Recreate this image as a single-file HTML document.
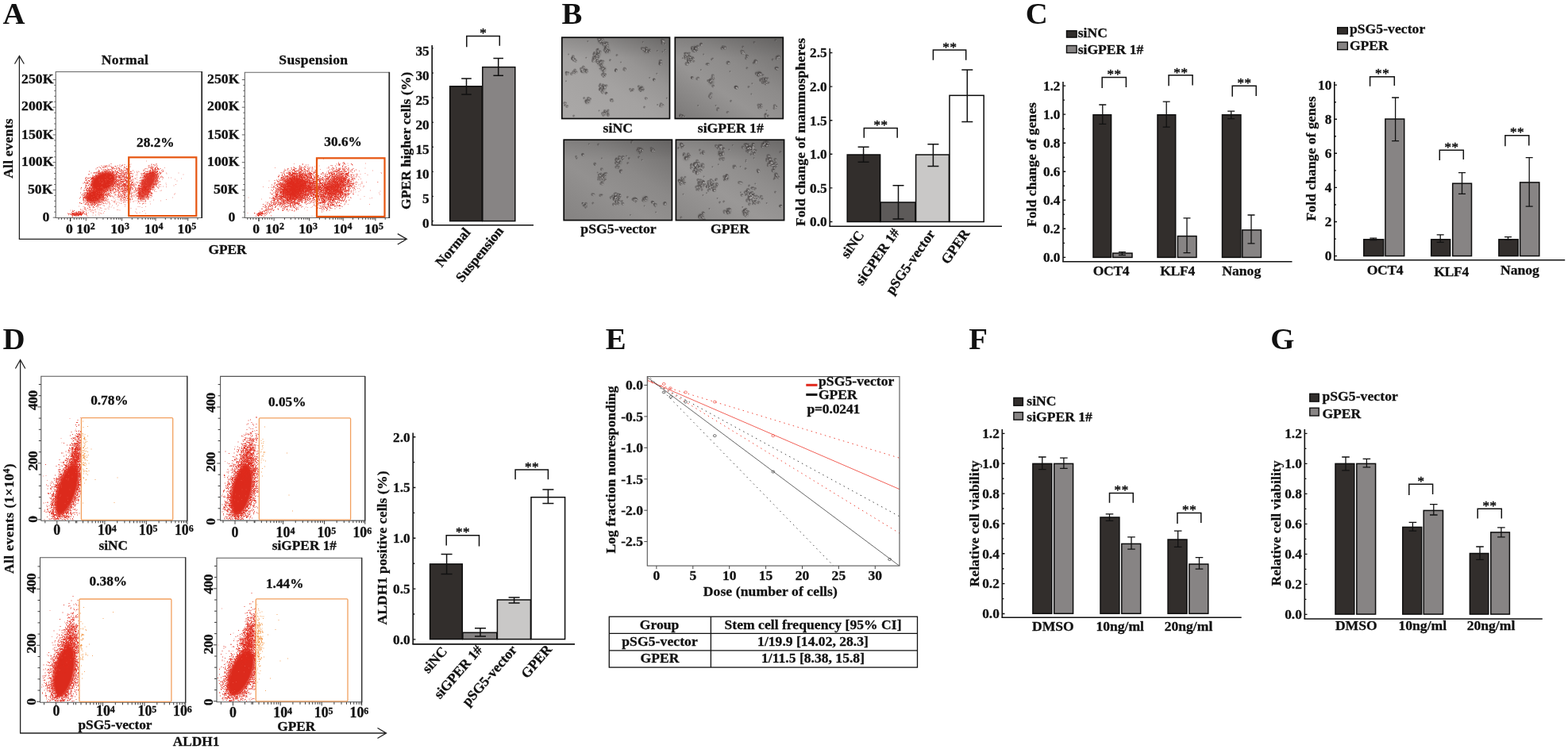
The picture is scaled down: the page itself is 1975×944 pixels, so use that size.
<!DOCTYPE html>
<html><head><meta charset="utf-8"><title>Figure</title>
<style>html,body{margin:0;padding:0;background:#fff;overflow:hidden}svg{display:block}text{font-family:"Liberation Serif",serif;font-weight:bold;fill:#111;stroke:#111;stroke-width:0.3px}</style>
</head><body>
<svg width="1975" height="944" viewBox="0 0 1975 944" font-size="17.6">
<defs>
<filter id="b2" x="-50%" y="-50%" width="200%" height="200%"><feGaussianBlur stdDeviation="2"/></filter>
<filter id="b1" x="-50%" y="-50%" width="200%" height="200%"><feGaussianBlur stdDeviation="0.9"/></filter>
<filter id="b07" filterUnits="userSpaceOnUse" x="0" y="0" width="1975" height="944"><feGaussianBlur stdDeviation="0.7"/></filter>
<filter id="b05" filterUnits="userSpaceOnUse" x="0" y="0" width="1975" height="944"><feGaussianBlur stdDeviation="0.5"/></filter>
<filter id="b03" filterUnits="userSpaceOnUse" x="0" y="0" width="1975" height="944"><feGaussianBlur stdDeviation="0.3"/></filter>
<linearGradient id="mv1" x1="0" y1="0" x2="0" y2="1"><stop offset="0" stop-color="#000" stop-opacity="0.1"/><stop offset="0.25" stop-color="#000" stop-opacity="0"/><stop offset="1" stop-color="#000" stop-opacity="0"/></linearGradient>
<linearGradient id="mv2" x1="0" y1="0" x2="0" y2="1"><stop offset="0" stop-color="#000" stop-opacity="0.1"/><stop offset="0.25" stop-color="#000" stop-opacity="0"/><stop offset="1" stop-color="#000" stop-opacity="0"/></linearGradient>
<linearGradient id="mv3" x1="0" y1="0" x2="0" y2="1"><stop offset="0" stop-color="#000" stop-opacity="0.1"/><stop offset="0.25" stop-color="#000" stop-opacity="0"/><stop offset="1" stop-color="#000" stop-opacity="0"/></linearGradient>
<linearGradient id="mv4" x1="0" y1="0" x2="0" y2="1"><stop offset="0" stop-color="#000" stop-opacity="0.1"/><stop offset="0.25" stop-color="#000" stop-opacity="0"/><stop offset="1" stop-color="#000" stop-opacity="0"/></linearGradient>
<linearGradient id="mg1" x1="1" y1="0" x2="0.1" y2="1"><stop offset="0" stop-color="#737170"/><stop offset="0.35" stop-color="#979594"/><stop offset="0.6" stop-color="#a4a2a1"/><stop offset="1" stop-color="#aaa8a7"/></linearGradient>
<linearGradient id="mg2" x1="1" y1="0" x2="0.1" y2="1"><stop offset="0" stop-color="#6d6b6a"/><stop offset="0.4" stop-color="#8d8b8a"/><stop offset="0.65" stop-color="#979594"/><stop offset="1" stop-color="#7e7c7b"/></linearGradient>
<linearGradient id="mg3" x1="1" y1="0" x2="0.1" y2="1"><stop offset="0" stop-color="#6e6c6b"/><stop offset="0.4" stop-color="#8b8988"/><stop offset="0.65" stop-color="#939190"/><stop offset="1" stop-color="#868483"/></linearGradient>
<linearGradient id="mg4" x1="1" y1="0" x2="0.1" y2="1"><stop offset="0" stop-color="#757372"/><stop offset="0.4" stop-color="#908e8d"/><stop offset="0.65" stop-color="#9a9897"/><stop offset="1" stop-color="#8b8988"/></linearGradient>
<clipPath id="c1"><rect x="707.8" y="47.2" width="135.7" height="102.3"/></clipPath>
<clipPath id="c2"><rect x="850.3" y="47.2" width="136" height="102.3"/></clipPath>
<clipPath id="c3"><rect x="710.2" y="176.2" width="136.2" height="101.4"/></clipPath>
<clipPath id="c4"><rect x="851.4" y="176.2" width="136.2" height="101.4"/></clipPath>
</defs>
<rect width="1975" height="944" fill="#fff"/>
<text x="3.4" y="29.9" font-size="38.8" style="stroke-width:0">A</text>
<text x="707.6" y="29.8" font-size="38.8" style="stroke-width:0">B</text>
<text x="1291.8" y="29.7" font-size="38.8" style="stroke-width:0">C</text>
<text x="3.4" y="440.2" font-size="38.8" style="stroke-width:0">D</text>
<text x="762.8" y="440.2" font-size="38.8" style="stroke-width:0">E</text>
<text x="1220.3" y="440.2" font-size="38.8" style="stroke-width:0">F</text>
<text x="1600.3" y="439.9" font-size="38.8" style="stroke-width:0">G</text>
<clipPath id="cA70"><rect x="70.7" y="91" width="183" height="183"/></clipPath><clipPath id="cA308"><rect x="308.8" y="91.8" width="181" height="182.4"/></clipPath>
<g clip-path="url(#cA70)">
<ellipse cx="130.3" cy="229.0" rx="16.3" ry="11.2" fill="#dc2a1c" opacity="1.0" transform="rotate(-28 130.3 229.0)" filter="url(#b1)"/>
<ellipse cx="119.0" cy="247.3" rx="11.4" ry="8.0" fill="#dc2a1c" opacity="1.0" transform="rotate(-18 119.0 247.3)" filter="url(#b1)"/>
<ellipse cx="187.6" cy="228.5" rx="13.5" ry="7.2" fill="#dc2a1c" opacity="0.95" transform="rotate(-58 187.6 228.5)" filter="url(#b1)"/>
<ellipse cx="180.5" cy="244.5" rx="7.5" ry="5.0" fill="#dc2a1c" opacity="0.85" transform="rotate(-50 180.5 244.5)" filter="url(#b1)"/>
<ellipse cx="96.6" cy="269.8" rx="6.5" ry="1.4" fill="#dc2a1c" opacity="0.9" transform="rotate(0 96.6 269.8)" filter="url(#b05)"/>
<path d="M139.5 206.5h1m56 0h1m-7 0.5h1m-35 0.5h1m5 0h1m29.5 0h1m-57 0.5h1m12.5 0h1m2.5 0h1m35.5 0h1m3 0h1m1 0h1m-44.5 0.5h1m7 0h1m25.5 0h1m-61 0.5h1m2 0h1m1 0h1m0 0h1m0 0h1m12 0h1m38 0h1m7 0h1m2 0h1m-62 0.5h1m1 0h1m5 0h1m-0.5 0h1m-14.5 0.5h1m0.5 0h1m6 0h1m9.5 0h1m1 0h1m2.5 0h1m2 0h1m1 0h1m1.5 0h1m25 0h1m0 0h1m1 0h1m-69 0.5h1m4 0h1m1.5 0h1m54.5 0h1m2.5 0h1m4.5 0h1m-0.5 0h1m-69 0.5h1m4.5 0h1m6 0h1m-0.5 0h1m3 0h1m9.5 0h1m29.5 0h1m-66 0.5h1m3 0h1m3.5 0h1m8.5 0h1m-0.5 0h1m1 0h1m5 0h1m7.5 0h1m31 0h1m1.5 0h1m0 0h1m1.5 0h1m-0.5 0h1m1.5 0h1m-51 0.5h1m0.5 0h1m5 0h1m33 0h1m-0.5 0h1m-49.5 0.5h1m1.5 0h1m1 0h1m3 0h1m7.5 0h1m-0.5 0h1m-0.5 0h1m0 0h1m22 0h1m6.5 0h1m3.5 0h1m1.5 0h1m0 0h1m1.5 0h1m-82 0.5h1m5.5 0h1m7 0h1m5 0h1m0.5 0h1m7 0h1m30.5 0h1m2.5 0h1m5.5 0h1m1 0h1m0 0h1m-0.5 0h1m-65 0.5h1m3.5 0h1m0.5 0h1m0 0h1m7 0h1m12.5 0h1m30.5 0h1m5.5 0h1m0.5 0h1m-76.5 0.5h1m3.5 0h1m0.5 0h1m1.5 0h1m-0.5 0h1m6 0h1m8.5 0h1m-0.5 0h1m1 0h1m-0.5 0h1m2 0h1m2 0h1m-0.5 0h1m29 0h1m1 0h1m1.5 0h1m0 0h1m0 0h1m-0.5 0h1m-0.5 0h1m2 0h1m4 0h1m-70 0.5h1m8 0h1m7 0h1m3.5 0h1m2.5 0h1m19.5 0h1m6.5 0h1m2.5 0h1m-0.5 0h1m2.5 0h1m-63.5 0.5h1m0 0h1m2 0h1m2 0h1m8 0h1m2.5 0h1m-0.5 0h1m12.5 0h1m21 0h1m2.5 0h1m0 0h1m8.5 0h1m-80 0.5h1m0 0h1m5 0h1m-0.5 0h1m2 0h1m1 0h1m3 0h1m0 0h1m2.5 0h1m1.5 0h1m2.5 0h1m3.5 0h1m3.5 0h1m25 0h1m1 0h1m0 0h1m1.5 0h1m2.5 0h1m1.5 0h1m-0.5 0h1m6 0h1m-94 0.5h1m10 0h1m4.5 0h1m1 0h1m1.5 0h1m4 0h1m5.5 0h1m5 0h1m3 0h1m2.5 0h1m5.5 0h1m17.5 0h1m4 0h1m5 0h1m-0.5 0h1m-0.5 0h1m-73 0.5h1m4 0h1m3.5 0h1m1 0h1m3.5 0h1m1.5 0h1m0 0h1m-0.5 0h1m1.5 0h1m0.5 0h1m-0.5 0h1m4 0h1m6 0h1m0.5 0h1m2 0h1m-0.5 0h1m18.5 0h1m-0.5 0h1m0 0h1m1.5 0h1m-0.5 0h1m2 0h1m-0.5 0h1m0 0h1m2 0h1m0 0h1m0 0h1m1.5 0h1m3 0h1m-84.5 0.5h1m1 0h1m0.5 0h1m-0.5 0h1m6 0h1m-0.5 0h1m3 0h1m-0.5 0h1m3.5 0h1m10.5 0h1m1 0h1m25.5 0h1m3.5 0h1m3.5 0h1m1 0h1m-0.5 0h1m0.5 0h1m1 0h1m-0.5 0h1m-79.5 0.5h1m1 0h1m4 0h1m1 0h1m1 0h1m5.5 0h1m1.5 0h1m1.5 0h1m0 0h1m2.5 0h1m1 0h1m-0.5 0h1m0 0h1m3.5 0h1m3 0h1m0 0h1m28.5 0h1m0 0h1m-0.5 0h1m0.5 0h1m-0.5 0h1m-0.5 0h1m3 0h1m3.5 0h1m1 0h1m-89 0.5h1m2 0h1m-0.5 0h1m0.5 0h1m0.5 0h1m0.5 0h1m-0.5 0h1m1.5 0h1m2 0h1m-0.5 0h1m9.5 0h1m2 0h1m0.5 0h1m2 0h1m8.5 0h1m0 0h1m0.5 0h1m0.5 0h1m20 0h1m-0.5 0h1m5 0h1m-0.5 0h1m-0.5 0h1m-0.5 0h1m0.5 0h1m-0.5 0h1m-0.5 0h1m0 0h1m0.5 0h1m-0.5 0h1m1.5 0h1m2.5 0h1m-79 0.5h1m0.5 0h1m0 0h1m1.5 0h1m12 0h1m-0.5 0h1m3.5 0h1m2.5 0h1m1 0h1m-0.5 0h1m1.5 0h1m2 0h1m2.5 0h1m1.5 0h1m-0.5 0h1m-0.5 0h1m-0.5 0h1m11.5 0h1m1.5 0h1m0 0h1m1.5 0h1m0 0h1m-0.5 0h1m1 0h1m-0.5 0h1m-0.5 0h1m0 0h1m-0.5 0h1m3.5 0h1m3.5 0h1m2.5 0h1m-82.5 0.5h1m2.5 0h1m-0.5 0h1m0.5 0h1m-0.5 0h1m14.5 0h1m3.5 0h1m2.5 0h1m0 0h1m1 0h1m1 0h1m3 0h1m0 0h1m5.5 0h1m14.5 0h1m1 0h1m0 0h1m0 0h1m0 0h1m0 0h1m5.5 0h1m2 0h1m-0.5 0h1m0.5 0h1m-89 0.5h1m13 0h1m16 0h1m2.5 0h1m0 0h1m8 0h1m0 0h1m22.5 0h1m1.5 0h1m-0.5 0h1m0.5 0h1m0 0h1m-0.5 0h1m-0.5 0h1m8 0h1m-0.5 0h1m4 0h1m-91 0.5h1m11 0h1m19 0h1m0.5 0h1m-0.5 0h1m2 0h1m2.5 0h1m0.5 0h1m8.5 0h1m13.5 0h1m0 0h1m4 0h1m12 0h1m0.5 0h1m0.5 0h1m-80.5 0.5h1m1.5 0h1m19.5 0h1m1 0h1m6.5 0h1m3 0h1m0 0h1m0.5 0h1m21 0h1m1.5 0h1m0.5 0h1m9.5 0h1m1.5 0h1m-83 0.5h1m4.5 0h1m21 0h1m-0.5 0h1m1.5 0h1m0.5 0h1m2 0h1m3 0h1m7.5 0h1m18 0h1m-0.5 0h1m0 0h1m-0.5 0h1m11 0h1m-0.5 0h1m-80.5 0.5h1m1.5 0h1m0 0h1m24 0h1m2 0h1m0 0h1m-0.5 0h1m1 0h1m0 0h1m1.5 0h1m4 0h1m16.5 0h1m1 0h1m-0.5 0h1m-0.5 0h1m1 0h1m0 0h1m11.5 0h1m1.5 0h1m-79.5 0.5h1m24 0h1m1.5 0h1m1.5 0h1m2 0h1m0 0h1m2.5 0h1m3.5 0h1m1.5 0h1m0.5 0h1m14.5 0h1m12.5 0h1m0 0h1m1 0h1m2.5 0h1m-87 0.5h1m1.5 0h1m1 0h1m24.5 0h1m0 0h1m2 0h1m3 0h1m0 0h1m1 0h1m0.5 0h1m6 0h1m14 0h1m-0.5 0h1m0 0h1m0 0h1m-0.5 0h1m12.5 0h1m0.5 0h1m-82 0.5h1m0.5 0h1m0 0h1m23.5 0h1m-0.5 0h1m-0.5 0h1m0.5 0h1m0.5 0h1m-0.5 0h1m2.5 0h1m2.5 0h1m1.5 0h1m2.5 0h1m0.5 0h1m1 0h1m14 0h1m0 0h1m0 0h1m13 0h1m1 0h1m2.5 0h1m0.5 0h1m-96.5 0.5h1m4.5 0h1m1 0h1m-0.5 0h1m-0.5 0h1m27.5 0h1m0 0h1m2.5 0h1m-0.5 0h1m0.5 0h1m1.5 0h1m1 0h1m1 0h1m0 0h1m-0.5 0h1m3 0h1m12 0h1m1.5 0h1m1.5 0h1m0 0h1m12 0h1m0.5 0h1m-91 0.5h1m4 0h1m2.5 0h1m31.5 0h1m1 0h1m2 0h1m1.5 0h1m1 0h1m0.5 0h1m1.5 0h1m0 0h1m15.5 0h1m-0.5 0h1m15 0h1m1 0h1m-0.5 0h1m1 0h1m3.5 0h1m-95.5 0.5h1m0 0h1m2.5 0h1m-0.5 0h1m-0.5 0h1m0 0h1m-0.5 0h1m0 0h1m26.5 0h1m1.5 0h1m0.5 0h1m0 0h1m4.5 0h1m0 0h1m1 0h1m2 0h1m13 0h1m1 0h1m18 0h1m-91 0.5h1m1.5 0h1m7.5 0h1m26.5 0h1m4.5 0h1m8 0h1m2 0h1m-0.5 0h1m5 0h1m10.5 0h1m13.5 0h1m-0.5 0h1m-90 0.5h1m5.5 0h1m0 0h1m-0.5 0h1m-0.5 0h1m0 0h1m27 0h1m7 0h1m2 0h1m3 0h1m2 0h1m32 0h1m-0.5 0h1m0.5 0h1m1 0h1m-83.5 0.5h1m-0.5 0h1m26 0h1m0.5 0h1m4 0h1m-0.5 0h1m0.5 0h1m0.5 0h1m2 0h1m8 0h1m13 0h1m16 0h1m-90.5 0.5h1m4.5 0h1m2.5 0h1m26 0h1m1.5 0h1m-0.5 0h1m0 0h1m1 0h1m0 0h1m0.5 0h1m2.5 0h1m0 0h1m-0.5 0h1m20 0h1m0 0h1m16 0h1m-82 0.5h1m-0.5 0h1m0 0h1m28 0h1m1.5 0h1m-0.5 0h1m0 0h1m2 0h1m0.5 0h1m1 0h1m-0.5 0h1m3.5 0h1m1.5 0h1m0 0h1m10.5 0h1m0 0h1m-0.5 0h1m0 0h1m15.5 0h1m0 0h1m-90.5 0.5h1m-0.5 0h1m2 0h1m0.5 0h1m32.5 0h1m-0.5 0h1m1.5 0h1m1 0h1m5.5 0h1m0.5 0h1m0.5 0h1m15.5 0h1m1 0h1m0 0h1m14.5 0h1m-0.5 0h1m1 0h1m-0.5 0h1m-87.5 0.5h1m2 0h1m0.5 0h1m28.5 0h1m1 0h1m7.5 0h1m1 0h1m-0.5 0h1m-0.5 0h1m0 0h1m0 0h1m-53 0.5h1m1.5 0h1m2 0h1m0 0h1m28 0h1m-0.5 0h1m0.5 0h1m-0.5 0h1m-0.5 0h1m-0.5 0h1m2.5 0h1m-0.5 0h1m-0.5 0h1m1 0h1m-0.5 0h1m0 0h1m1 0h1m-0.5 0h1m3.5 0h1m0 0h1m13 0h1m0 0h1m0 0h1m14.5 0h1m-0.5 0h1m-0.5 0h1m-0.5 0h1m0 0h1m-84 0.5h1m28.5 0h1m1 0h1m3 0h1m1 0h1m-0.5 0h1m-0.5 0h1m-0.5 0h1m4.5 0h1m-0.5 0h1m0 0h1m-0.5 0h1m-0.5 0h1m14 0h1m1 0h1m14.5 0h1m-0.5 0h1m3 0h1m0.5 0h1m-96 0.5h1m3.5 0h1m2 0h1m30.5 0h1m3 0h1m1 0h1m0.5 0h1m0.5 0h1m4 0h1m6 0h1m0 0h1m10 0h1m-0.5 0h1m-0.5 0h1m-0.5 0h1m15 0h1m-88 0.5h1m5.5 0h1m27.5 0h1m-0.5 0h1m1 0h1m-0.5 0h1m2 0h1m2.5 0h1m1 0h1m3.5 0h1m2 0h1m9 0h1m4 0h1m0.5 0h1m14.5 0h1m2.5 0h1m-92.5 0.5h1m1.5 0h1m0 0h1m5 0h1m27 0h1m0.5 0h1m3 0h1m7.5 0h1m0.5 0h1m4.5 0h1m0 0h1m9 0h1m19 0h1m-0.5 0h1m1.5 0h1m-95.5 0.5h1m2 0h1m1.5 0h1m-0.5 0h1m32 0h1m-0.5 0h1m-0.5 0h1m2 0h1m3 0h1m-0.5 0h1m2 0h1m2 0h1m0.5 0h1m15 0h1m-0.5 0h1m0 0h1m0 0h1m0 0h1m-0.5 0h1m16 0h1m-89 0.5h1m5.5 0h1m27.5 0h1m1 0h1m1.5 0h1m1 0h1m-0.5 0h1m0.5 0h1m3 0h1m-0.5 0h1m-0.5 0h1m4.5 0h1m14.5 0h1m0.5 0h1m13 0h1m0.5 0h1m-0.5 0h1m1 0h1m-86.5 0.5h1m-0.5 0h1m0 0h1m0 0h1m13 0h1m14 0h1m0 0h1m1.5 0h1m1 0h1m1.5 0h1m0 0h1m1 0h1m0 0h1m-0.5 0h1m4 0h1m0 0h1m-0.5 0h1m1.5 0h1m-0.5 0h1m1.5 0h1m1.5 0h1m6 0h1m-0.5 0h1m14 0h1m-0.5 0h1m-80 0.5h1m0.5 0h1m9 0h1m-0.5 0h1m14.5 0h1m-0.5 0h1m3 0h1m0.5 0h1m5.5 0h1m0.5 0h1m0 0h1m0 0h1m-0.5 0h1m2.5 0h1m1 0h1m0 0h1m0.5 0h1m11.5 0h1m4.5 0h1m7.5 0h1m-0.5 0h1m0 0h1m0.5 0h1m0 0h1m3.5 0h1m-95 0.5h1m6.5 0h1m-0.5 0h1m28.5 0h1m0 0h1m0 0h1m1.5 0h1m-0.5 0h1m2.5 0h1m-0.5 0h1m0 0h1m0 0h1m2.5 0h1m6 0h1m3.5 0h1m5.5 0h1m-0.5 0h1m0.5 0h1m6 0h1m2 0h1m2 0h1m0.5 0h1m0 0h1m3.5 0h1m-92.5 0.5h1m2 0h1m2 0h1m-0.5 0h1m5 0h1m5 0h1m3.5 0h1m10 0h1m0 0h1m1 0h1m1.5 0h1m-0.5 0h1m1.5 0h1m4 0h1m0 0h1m0 0h1m-0.5 0h1m1 0h1m2.5 0h1m0 0h1m0.5 0h1m7 0h1m0 0h1m-64.5 0.5h1m1.5 0h1m5.5 0h1m6.5 0h1m12.5 0h1m-0.5 0h1m6.5 0h1m2.5 0h1m-0.5 0h1m0 0h1m1.5 0h1m-0.5 0h1m-0.5 0h1m0.5 0h1m-0.5 0h1m-0.5 0h1m1 0h1m10.5 0h1m0 0h1m-0.5 0h1m6 0h1m1.5 0h1m6.5 0h1m0 0h1m1.5 0h1m-0.5 0h1m-89.5 0.5h1m0.5 0h1m3.5 0h1m0.5 0h1m7 0h1m17 0h1m1 0h1m7.5 0h1m-0.5 0h1m0 0h1m0.5 0h1m0 0h1m1 0h1m0 0h1m-0.5 0h1m-0.5 0h1m-0.5 0h1m3 0h1m2 0h1m-0.5 0h1m5.5 0h1m1 0h1m0 0h1m0 0h1m6 0h1m-79 0.5h1m4 0h1m13.5 0h1m14 0h1m1 0h1m-0.5 0h1m0 0h1m0 0h1m0.5 0h1m1 0h1m2 0h1m1.5 0h1m4.5 0h1m2 0h1m12 0h1m-0.5 0h1m1.5 0h1m0 0h1m6.5 0h1m2 0h1m0 0h1m3 0h1m2.5 0h1m-85 0.5h1m2 0h1m20.5 0h1m-0.5 0h1m5.5 0h1m-0.5 0h1m1.5 0h1m-0.5 0h1m0.5 0h1m3 0h1m-0.5 0h1m2 0h1m-0.5 0h1m3 0h1m11.5 0h1m1.5 0h1m-0.5 0h1m8 0h1m2 0h1m0 0h1m-87 0.5h1m5 0h1m7 0h1m0 0h1m2.5 0h1m15.5 0h1m2 0h1m4 0h1m5 0h1m-0.5 0h1m1 0h1m-0.5 0h1m4 0h1m4.5 0h1m4 0h1m0 0h1m3.5 0h1m2 0h1m0 0h1m1.5 0h1m2.5 0h1m0.5 0h1m-0.5 0h1m1 0h1m3 0h1m-97 0.5h1m4.5 0h1m3.5 0h1m0 0h1m1.5 0h1m1 0h1m0.5 0h1m1.5 0h1m26 0h1m-0.5 0h1m4 0h1m8.5 0h1m0 0h1m0 0h1m8 0h1m3 0h1m0 0h1m0.5 0h1m5.5 0h1m3 0h1m-0.5 0h1m-0.5 0h1m-84.5 0.5h1m0 0h1m0.5 0h1m1.5 0h1m0.5 0h1m0 0h1m-0.5 0h1m1.5 0h1m2.5 0h1m0.5 0h1m0 0h1m11 0h1m9 0h1m3.5 0h1m1.5 0h1m1.5 0h1m0.5 0h1m0.5 0h1m-0.5 0h1m-0.5 0h1m13.5 0h1m0 0h1m0.5 0h1m-0.5 0h1m1 0h1m2 0h1m4.5 0h1m1 0h1m0.5 0h1m0 0h1m4.5 0h1m-93.5 0.5h1m2 0h1m-0.5 0h1m0.5 0h1m0 0h1m-0.5 0h1m-0.5 0h1m0.5 0h1m0 0h1m3.5 0h1m3.5 0h1m2.5 0h1m13 0h1m-0.5 0h1m0 0h1m4 0h1m3.5 0h1m2 0h1m0 0h1m-0.5 0h1m2.5 0h1m1.5 0h1m7.5 0h1m0 0h1m-0.5 0h1m0 0h1m0 0h1m-0.5 0h1m-0.5 0h1m-0.5 0h1m1.5 0h1m1 0h1m1 0h1m3.5 0h1m-0.5 0h1m-88.5 0.5h1m6.5 0h1m5 0h1m0.5 0h1m-0.5 0h1m0 0h1m1 0h1m0 0h1m3.5 0h1m1.5 0h1m3.5 0h1m2.5 0h1m0.5 0h1m-0.5 0h1m-0.5 0h1m1 0h1m3 0h1m4 0h1m-0.5 0h1m2 0h1m2 0h1m0 0h1m2.5 0h1m0.5 0h1m1.5 0h1m1 0h1m3 0h1m3.5 0h1m0.5 0h1m-0.5 0h1m0.5 0h1m-0.5 0h1m-0.5 0h1m0.5 0h1m-0.5 0h1m4.5 0h1m-0.5 0h1m0 0h1m-0.5 0h1m0.5 0h1m-79.5 0.5h1m1 0h1m3.5 0h1m0 0h1m3 0h1m2 0h1m2.5 0h1m7.5 0h1m1 0h1m1 0h1m1.5 0h1m5 0h1m1 0h1m0 0h1m3.5 0h1m0.5 0h1m2 0h1m-0.5 0h1m1.5 0h1m3 0h1m4 0h1m0.5 0h1m-0.5 0h1m-0.5 0h1m-0.5 0h1m-0.5 0h1m0 0h1m0 0h1m0 0h1m0 0h1m0 0h1m0 0h1m0 0h1m-0.5 0h1m-0.5 0h1m-0.5 0h1m-0.5 0h1m0 0h1m0 0h1m0 0h1m1 0h1m-85.5 0.5h1m2 0h1m2.5 0h1m-0.5 0h1m1.5 0h1m-0.5 0h1m0 0h1m1 0h1m-0.5 0h1m1 0h1m9 0h1m0 0h1m-0.5 0h1m3.5 0h1m0.5 0h1m0.5 0h1m1.5 0h1m1.5 0h1m6.5 0h1m0 0h1m1 0h1m0 0h1m3.5 0h1m8 0h1m1 0h1m0 0h1m2 0h1m-0.5 0h1m0.5 0h1m1 0h1m0.5 0h1m0 0h1m-0.5 0h1m-0.5 0h1m-0.5 0h1m1.5 0h1m0 0h1m-85.5 0.5h1m2 0h1m-0.5 0h1m0.5 0h1m-0.5 0h1m0 0h1m2 0h1m0 0h1m0 0h1m0.5 0h1m-0.5 0h1m-0.5 0h1m-0.5 0h1m3 0h1m2 0h1m0 0h1m3 0h1m-0.5 0h1m1 0h1m-0.5 0h1m-0.5 0h1m1 0h1m0 0h1m2.5 0h1m2 0h1m2 0h1m8 0h1m2 0h1m3 0h1m8 0h1m0 0h1m-0.5 0h1m-0.5 0h1m0 0h1m0.5 0h1m-0.5 0h1m-0.5 0h1m0 0h1m-0.5 0h1m0 0h1m-0.5 0h1m-0.5 0h1m-0.5 0h1m-0.5 0h1m-0.5 0h1m0 0h1m-0.5 0h1m-0.5 0h1m0 0h1m4.5 0h1m-84.5 0.5h1m-0.5 0h1m-0.5 0h1m2 0h1m-0.5 0h1m-0.5 0h1m-0.5 0h1m-0.5 0h1m1 0h1m2.5 0h1m4.5 0h1m1 0h1m1.5 0h1m-0.5 0h1m2 0h1m1 0h1m1.5 0h1m8 0h1m1 0h1m2.5 0h1m3 0h1m2 0h1m1 0h1m1 0h1m6 0h1m2 0h1m3.5 0h1m-0.5 0h1m1 0h1m0.5 0h1m0.5 0h1m0 0h1m1 0h1m0.5 0h1m-0.5 0h1m-0.5 0h1m4 0h1m-89.5 0.5h1m4 0h1m0.5 0h1m4.5 0h1m-0.5 0h1m0 0h1m4.5 0h1m0 0h1m0.5 0h1m-0.5 0h1m0.5 0h1m0 0h1m-0.5 0h1m0 0h1m-0.5 0h1m1.5 0h1m0 0h1m1.5 0h1m-0.5 0h1m-0.5 0h1m0 0h1m8 0h1m4 0h1m-0.5 0h1m-0.5 0h1m0.5 0h1m0 0h1m-0.5 0h1m-0.5 0h1m2 0h1m0.5 0h1m4.5 0h1m1.5 0h1m0 0h1m2.5 0h1m0 0h1m-0.5 0h1m-0.5 0h1m2.5 0h1m1 0h1m-0.5 0h1m0 0h1m-0.5 0h1m0.5 0h1m-0.5 0h1m-0.5 0h1m-78 0.5h1m1 0h1m-0.5 0h1m-0.5 0h1m0 0h1m2 0h1m-0.5 0h1m0 0h1m1.5 0h1m0 0h1m-0.5 0h1m0.5 0h1m2.5 0h1m-0.5 0h1m0.5 0h1m-0.5 0h1m0 0h1m-0.5 0h1m0.5 0h1m4 0h1m2.5 0h1m13.5 0h1m1.5 0h1m4.5 0h1m8.5 0h1m0.5 0h1m0 0h1m0 0h1m0 0h1m-0.5 0h1m0 0h1m0.5 0h1m1 0h1m1 0h1m1.5 0h1m-79.5 0.5h1m2 0h1m-0.5 0h1m4.5 0h1m1 0h1m0.5 0h1m0 0h1m-0.5 0h1m-0.5 0h1m0 0h1m0.5 0h1m0 0h1m-0.5 0h1m0.5 0h1m-0.5 0h1m-0.5 0h1m1 0h1m-0.5 0h1m-0.5 0h1m2 0h1m15.5 0h1m0 0h1m7 0h1m11.5 0h1m-0.5 0h1m-0.5 0h1m2 0h1m-0.5 0h1m4.5 0h1m0.5 0h1m-0.5 0h1m-0.5 0h1m-0.5 0h1m0.5 0h1m-80.5 0.5h1m1 0h1m-0.5 0h1m3.5 0h1m-0.5 0h1m-0.5 0h1m3 0h1m-0.5 0h1m1 0h1m-0.5 0h1m0.5 0h1m1 0h1m1 0h1m1 0h1m1 0h1m14 0h1m-0.5 0h1m5.5 0h1m2.5 0h1m2.5 0h1m9.5 0h1m0 0h1m0.5 0h1m2.5 0h1m-0.5 0h1m1 0h1m-0.5 0h1m0.5 0h1m1 0h1m1 0h1m-83.5 0.5h1m2 0h1m0 0h1m7.5 0h1m3 0h1m0 0h1m1 0h1m3 0h1m1 0h1m-0.5 0h1m-0.5 0h1m6 0h1m4 0h1m4.5 0h1m0 0h1m5.5 0h1m-0.5 0h1m2.5 0h1m-0.5 0h1m6 0h1m4 0h1m-0.5 0h1m1 0h1m3.5 0h1m0.5 0h1m1.5 0h1m0.5 0h1m-0.5 0h1m0 0h1m0 0h1m0 0h1m-89.5 0.5h1m5 0h1m-0.5 0h1m4 0h1m2 0h1m0 0h1m0.5 0h1m3 0h1m1.5 0h1m-0.5 0h1m1.5 0h1m-0.5 0h1m1.5 0h1m2.5 0h1m1 0h1m1 0h1m16 0h1m-0.5 0h1m6 0h1m-0.5 0h1m1.5 0h1m8 0h1m-0.5 0h1m-0.5 0h1m0.5 0h1m1.5 0h1m3 0h1m0 0h1m1 0h1m0 0h1m1.5 0h1m-0.5 0h1m-85 0.5h1m-0.5 0h1m1 0h1m0 0h1m-0.5 0h1m7.5 0h1m-0.5 0h1m5.5 0h1m3 0h1m2.5 0h1m2 0h1m2.5 0h1m13.5 0h1m1.5 0h1m5 0h1m8.5 0h1m0.5 0h1m-0.5 0h1m0 0h1m-0.5 0h1m2 0h1m0 0h1m-0.5 0h1m3.5 0h1m1 0h1m-79 0.5h1m0 0h1m-0.5 0h1m-0.5 0h1m0 0h1m1 0h1m10 0h1m5.5 0h1m2 0h1m13.5 0h1m-0.5 0h1m4 0h1m6 0h1m2 0h1m0 0h1m8 0h1m0 0h1m2 0h1m1.5 0h1m0 0h1m3 0h1m2.5 0h1m0.5 0h1m-0.5 0h1m-88.5 0.5h1m-0.5 0h1m3.5 0h1m0 0h1m5 0h1m0 0h1m-0.5 0h1m5.5 0h1m0 0h1m2.5 0h1m-0.5 0h1m0 0h1m0.5 0h1m0 0h1m3 0h1m14 0h1m4 0h1m17.5 0h1m-0.5 0h1m5.5 0h1m1 0h1m0.5 0h1m0 0h1m2.5 0h1m-85 0.5h1m-0.5 0h1m1 0h1m0 0h1m8 0h1m10 0h1m1.5 0h1m0.5 0h1m0.5 0h1m0 0h1m-0.5 0h1m0 0h1m6 0h1m6.5 0h1m2 0h1m1 0h1m5 0h1m10 0h1m0 0h1m0 0h1m6 0h1m-0.5 0h1m0.5 0h1m0.5 0h1m1 0h1m-87 0.5h1m2.5 0h1m9.5 0h1m2.5 0h1m0.5 0h1m5 0h1m-0.5 0h1m1 0h1m1.5 0h1m-0.5 0h1m-0.5 0h1m14 0h1m6.5 0h1m0 0h1m17.5 0h1m0 0h1m7 0h1m0 0h1m1 0h1m-81 0.5h1m-0.5 0h1m1 0h1m6.5 0h1m1.5 0h1m-0.5 0h1m6.5 0h1m0 0h1m0.5 0h1m0 0h1m0.5 0h1m-0.5 0h1m0.5 0h1m-0.5 0h1m2.5 0h1m21 0h1m-0.5 0h1m2.5 0h1m9 0h1m1.5 0h1m7 0h1m-0.5 0h1m-82.5 0.5h1m-0.5 0h1m2 0h1m13 0h1m0 0h1m5.5 0h1m0.5 0h1m1.5 0h1m2.5 0h1m-0.5 0h1m10.5 0h1m2 0h1m1 0h1m1.5 0h1m-0.5 0h1m8.5 0h1m6 0h1m3 0h1m0.5 0h1m5 0h1m2.5 0h1m0 0h1m-0.5 0h1m-87.5 0.5h1m1.5 0h1m17 0h1m0.5 0h1m1.5 0h1m1 0h1m19.5 0h1m2.5 0h1m4.5 0h1m8 0h1m2 0h1m-0.5 0h1m2 0h1m3.5 0h1m4.5 0h1m5 0h1m-84.5 0.5h1m13 0h1m5 0h1m1 0h1m-0.5 0h1m2.5 0h1m0.5 0h1m2.5 0h1m10.5 0h1m1 0h1m0.5 0h1m4.5 0h1m13 0h1m0.5 0h1m9 0h1m-0.5 0h1m-0.5 0h1m0 0h1m-81 0.5h1m1 0h1m0 0h1m1 0h1m-0.5 0h1m16 0h1m26 0h1m2 0h1m1 0h1m2.5 0h1m0 0h1m8.5 0h1m1 0h1m1 0h1m0 0h1m4.5 0h1m1 0h1m-87.5 0.5h1m3.5 0h1m-0.5 0h1m0 0h1m0 0h1m11.5 0h1m6.5 0h1m0 0h1m0 0h1m-0.5 0h1m3.5 0h1m20.5 0h1m16.5 0h1m8.5 0h1m-80.5 0.5h1m0 0h1m0 0h1m0 0h1m14.5 0h1m7 0h1m18 0h1m5 0h1m0.5 0h1m-0.5 0h1m2.5 0h1m22 0h1m-0.5 0h1m0 0h1m0 0h1m-0.5 0h1m1.5 0h1m-85 0.5h1m1.5 0h1m13.5 0h1m6 0h1m2.5 0h1m20 0h1m0.5 0h1m-56.5 0.5h1m3.5 0h1m8.5 0h1m2.5 0h1m9.5 0h1m-0.5 0h1m1 0h1m-0.5 0h1m-0.5 0h1m27.5 0h1m13 0h1m1 0h1m4 0h1m0.5 0h1m2.5 0h1m-80 0.5h1m1 0h1m0.5 0h1m18 0h1m0 0h1m26.5 0h1m1 0h1m12.5 0h1m-0.5 0h1m1 0h1m0.5 0h1m1 0h1m-76 0.5h1m-0.5 0h1m2.5 0h1m19.5 0h1m3.5 0h1m17.5 0h1m10.5 0h1m1.5 0h1m6.5 0h1m1 0h1m0 0h1m0 0h1m2 0h1m3 0h1m0.5 0h1m-82.5 0.5h1m11 0h1m2.5 0h1m6.5 0h1m-0.5 0h1m-0.5 0h1m0.5 0h1m25.5 0h1m5 0h1m16 0h1m-0.5 0h1m1 0h1m-73.5 0.5h1m5 0h1m11 0h1m-0.5 0h1m0 0h1m0 0h1m0.5 0h1m19 0h1m3 0h1m5.5 0h1m1 0h1m-60.5 0.5h1m1 0h1m1.5 0h1m0 0h1m15.5 0h1m5.5 0h1m23 0h1m1 0h1m1.5 0h1m-55 0.5h1m1 0h1m16 0h1m2 0h1m30 0h1m12 0h1m2 0h1m0.5 0h1m4 0h1m-79 0.5h1m4 0h1m12.5 0h1m-0.5 0h1m0 0h1m2.5 0h1m1.5 0h1m47.5 0h1m-70.5 0.5h1m12 0h1m0 0h1m3 0h1m45 0h1m6.5 0h1m0.5 0h1m-77.5 0.5h1m14 0h1m3 0h1m0 0h1m0 0h1m28.5 0h1m16.5 0h1m-67.5 0.5h1m1 0h1m0.5 0h1m6.5 0h1m4.5 0h1m0.5 0h1m28 0h1m-56 0.5h1m4 0h1m3 0h1m3 0h1m0 0h1m-0.5 0h1m2 0h1m-0.5 0h1m0 0h1m0.5 0h1m2 0h1m0 0h1m4 0h1m-30 0.5h1m12.5 0h1m1 0h1m1.5 0h1m-0.5 0h1m-0.5 0h1m1 0h1m9.5 0h1m-31 0.5h1m-0.5 0h1m12.5 0h1m4 0h1m8 0h1m44.5 0h1m4 0h1m-74 0.5h1m1.5 0h1m0 0h1m3.5 0h1m2 0h1m-0.5 0h1m59 0h1m-73.5 0.5h1m0.5 0h1m2 0h1m2 0h1m2 0h1m2 0h1m1.5 0h1m1 0h1m1 0h1m-15.5 0.5h1m1.5 0h1m0.5 0h1m5.5 0h1m-13.5 0.5h1m3.5 0h1m0.5 0h1m1 0h1m0 0h1m3.5 0h1m1 0h1m-12.5 0.5h1m8 0h1m-12.5 0.5h1m9 0h1m-5.5 1h1m-6 0.5h1m3.5 0h1m-11 0.5h1m5 0h1m-3.5 1h1m-18 3h1m-3 0.5h1m12 0h1m-14 0.5h1m0 0h1m5.5 0h1m-3.5 0.5h1m1.5 0h1m0 0h1m-0.5 0h1m0 0h1m2.5 0h1m-10 0.5h1m1.5 0h1m2 0h1m0.5 0h1m1 0h1m-15.5 0.5h1m2.5 0h1m0.5 0h1m2.5 0h1m5.5 0h1m-15.5 0.5h1m1 0h1m2.5 0h1m-0.5 0h1m0 0h1m1.5 0h1m0 0h1m-0.5 0h1m1 0h1m-19.5 0.5h1m4.5 0h1m-0.5 0h1m0 0h1m0 0h1m7 0h1m0.5 0h1m0.5 0h1m-0.5 0h1m2.5 0h1m-22.5 0.5h1m0.5 0h1m12 0h1m-0.5 0h1m0.5 0h1m2 0h1m-21 0.5h1m3 0h1m0 0h1m8 0h1m-0.5 0h1m0 0h1m0 0h1m-0.5 0h1m2.5 0h1m1 0h1m-21 0.5h1m0 0h1m1.5 0h1m1.5 0h1m0.5 0h1m0.5 0h1m0.5 0h1m0 0h1m-0.5 0h1m-0.5 0h1m0 0h1m5 0h1m-19 0.5h1m1 0h1m0 0h1m-0.5 0h1m0 0h1m-0.5 0h1m0.5 0h1m1 0h1m-0.5 0h1m1.5 0h1m-11.5 0.5h1m1 0h1m0 0h1m1.5 0h1m1 0h1m-0.5 0h1m1.5 0h1m-0.5 0h1m-8.5 0.5h1m2 0h1m-0.5 0h1m10 0h1m-14.5 0.5h1m-6 0.5h1m-0.5 0h1" stroke="#e02a1c" stroke-width="1.0" fill="none" opacity="0.85"/>
<path d="M184 203h1m-20.5 4h1m41.5 4.5h1m-68.5 2h1m39.5 0.5h1m-28.5 0.5h1m26.5 1h1m8.5 0h1m-39 0.5h1m3 0h1m15.5 0h1m1 0h1m-0.5 0.5h1m-38.5 0.5h1m31 0h1m2 0h1m-17.5 0.5h1m3.5 0h1m11.5 0h1m8 0h1m-28 0.5h1m53.5 0h1m14.5 0h1m-83.5 0.5h1m7.5 0h1m12 0h1m2.5 0.5h1m4.5 0h1m5.5 0h1m29.5 0h1m-69.5 0.5h1m21 0h1m19.5 0h1m-38.5 0.5h1m24.5 0h1m58 0h1m-97.5 0.5h1m10 0.5h1m9.5 0h1m14 0h1m1 0h1m8.5 0h1m-37 1h1m8 0h1m3 0h1m23.5 0h1m13.5 0h1m-81 0.5h1m20.5 0h1m9.5 0h1m2.5 0h1m25 0h1m-48 0.5h1m4.5 0h1m0 0h1m5 0h1m31 0h1m9.5 0h1m-50 0.5h1m19 0h1m12.5 0h1m19.5 0h1m8.5 0h1m-43.5 0.5h1m23 0h1m27.5 0h1m2 0h1m-72 0.5h1m13 0h1m16.5 0h1m-7.5 0.5h1m22 0h1m35 0h1m-94.5 0.5h1m23.5 0h1m7 0h1m3.5 0h1m-48 0.5h1m78.5 0h1m15 0h1m-89 0.5h1m2.5 0h1m3.5 0h1m-0.5 0h1m3 0h1m1 0h1m9 0h1m4 0h1m-38 0.5h1m2.5 0h1m4 0h1m30 0h1m2.5 0h1m4 0h1m10.5 0h1m-47 0.5h1m4 0h1m14 0h1m7 0h1m8 0h1m0.5 0h1m-0.5 0h1m-29.5 0.5h1m0.5 0h1m17 0h1m25 0h1m27.5 0h1m-76.5 0.5h1m14 0h1m2 0h1m9.5 0h1m2.5 0h1m21 0h1m-72.5 0.5h1m2.5 0h1m5.5 0h1m1.5 0h1m9 0h1m0 0h1m29.5 0h1m-59 0.5h1m18 0h1m25.5 0h1m0 0h1m0.5 0h1m-34 0.5h1m15 0h1m5 0h1m11 0h1m4 0h1m-52 0.5h1m9 0h1m3 0h1m17 0h1m8 0h1m13.5 0h1m-57 0.5h1m0.5 0h1m20.5 0h1m0.5 0h1m1 0h1m0 0h1m8.5 0h1m1.5 0h1m4.5 0h1m34.5 0h1m-81.5 0.5h1m10.5 0h1m6 0h1m4 0h1m7 0h1m-14.5 0.5h1m1.5 0h1m0.5 0h1m12.5 0h1m3.5 0h1m-0.5 0h1m16 0h1m-49.5 0.5h1m0.5 0h1m7.5 0h1m2 0h1m13.5 0h1m-0.5 0h1m-0.5 0h1m9 0h1m0.5 0h1m-0.5 0h1m42.5 0h1m-87.5 0.5h1m3 0h1m9.5 0h1m-0.5 0h1m11 0h1m2.5 0h1m2 0h1m0.5 0h1m10.5 0h1m27 0h1m-68 0.5h1m6 0h1m16.5 0h1m1.5 0h1m4.5 0h1m8 0h1m-34 0.5h1m0 0h1m4 0h1m0.5 0h1m9.5 0h1m13.5 0h1m1.5 0h1m32 0h1m-80.5 0.5h1m6.5 0h1m2.5 0h1m2.5 0h1m5.5 0h1m12.5 0h1m5 0h1m13 0h1m-53 0.5h1m3.5 0h1m8.5 0h1m0 0h1m0 0h1m0.5 0h1m2.5 0h1m12 0h1m0.5 0h1m13.5 0h1m9.5 0h1m2 0h1m-78.5 0.5h1m9 0h1m4 0h1m3 0h1m9 0h1m8 0h1m2.5 0h1m7.5 0h1m30.5 0h1m-82 0.5h1m8.5 0h1m0 0h1m9 0h1m4.5 0h1m6 0h1m0.5 0h1m0.5 0h1m8.5 0h1m12 0h1m4 0h1m-69.5 0.5h1m2.5 0h1m7.5 0h1m3.5 0h1m1.5 0h1m-0.5 0h1m15.5 0h1m7 0h1m1.5 0h1m0.5 0h1m1 0h1m0 0h1m0.5 0h1m3 0h1m4.5 0h1m-70 0.5h1m12 0h1m9 0h1m0.5 0h1m1.5 0h1m3.5 0h1m1.5 0h1m2.5 0h1m1.5 0h1m1 0h1m1.5 0h1m1.5 0h1m1.5 0h1m33 0h1m-68.5 0.5h1m4 0h1m1.5 0h1m2 0h1m1 0h1m11.5 0h1m1 0h1m0.5 0h1m0.5 0h1m0 0h1m3 0h1m2 0h1m13.5 0h1m-55.5 0.5h1m1.5 0h1m1.5 0h1m5 0h1m0 0h1m0 0h1m2.5 0h1m2.5 0h1m2 0h1m0 0h1m18.5 0h1m3 0h1m2.5 0h1m-62 0.5h1m10.5 0h1m1 0h1m11 0h1m3 0h1m0.5 0h1m0 0h1m4 0h1m3 0h1m4.5 0h1m0 0h1m1.5 0h1m0 0h1m4.5 0h1m3 0h1m3 0h1m9.5 0h1m-76.5 0.5h1m10 0h1m4 0h1m2 0h1m15 0h1m17 0h1m-42.5 0.5h1m0 0h1m15.5 0h1m11.5 0h1m16 0h1m-71.5 0.5h1m8 0h1m18.5 0h1m8.5 0h1m12.5 0h1m10.5 0h1m11.5 0h1m19 0h1m-85 0.5h1m14.5 0h1m5.5 0h1m5 0h1m3 0h1m0 0h1m4.5 0h1m2 0h1m22.5 0h1m3 0h1m12.5 0h1m-74.5 0.5h1m16 0h1m5.5 0h1m-0.5 0h1m4 0h1m1.5 0h1m2 0h1m5 0h1m0 0h1m0.5 0h1m0 0h1m7.5 0h1m-0.5 0h1m-58.5 0.5h1m1.5 0h1m2.5 0h1m14 0h1m0 0h1m0 0h1m-0.5 0h1m2.5 0h1m3.5 0h1m4.5 0h1m1.5 0h1m30.5 0h1m1 0h1m-63.5 0.5h1m0.5 0h1m3 0h1m3 0h1m0.5 0h1m1.5 0h1m10 0h1m-0.5 0h1m1.5 0h1m1 0h1m5.5 0h1m10 0h1m-61 0.5h1m21.5 0h1m5.5 0h1m16.5 0h1m-26 0.5h1m-0.5 0h1m9.5 0h1m-0.5 0h1m11 0h1m2.5 0h1m11.5 0h1m1 0h1m4.5 0h1m-67 0.5h1m1.5 0h1m4.5 0h1m3.5 0h1m7.5 0h1m13 0h1m0 0h1m11 0h1m0 0h1m8 0h1m-62 0.5h1m12.5 0h1m0.5 0h1m2 0h1m3 0h1m21 0h1m13.5 0h1m4 0h1m35 0h1m-106 0.5h1m-0.5 0h1m8 0h1m11 0h1m11 0h1m1 0h1m-0.5 0h1m19.5 0h1m0.5 0h1m4 0h1m-68 0.5h1m25 0h1m18.5 0h1m5 0h1m4.5 0h1m2 0h1m8 0h1m38 0h1m-90.5 0.5h1m14.5 0h1m-0.5 0h1m6.5 0h1m-0.5 0h1m2.5 0h1m-0.5 0h1m0.5 0h1m0 0h1m4 0h1m4 0h1m0.5 0h1m-52 0.5h1m22.5 0h1m0.5 0h1m1 0h1m13 0h1m7 0h1m8 0h1m-56.5 0.5h1m7.5 0h1m8 0h1m41 0h1m-72.5 0.5h1m14 0h1m1.5 0h1m19 0h1m1 0h1m0.5 0h1m19 0h1m3.5 0h1m-60 0.5h1m8.5 0h1m-0.5 0h1m0.5 0h1m8 0h1m1.5 0h1m-0.5 0h1m6 0h1m5.5 0h1m2 0h1m14.5 0h1m-52 0.5h1m4 0h1m11 0h1m2 0h1m0 0h1m5.5 0h1m10 0h1m3 0h1m0 0h1m1.5 0h1m-46.5 0.5h1m0 0h1m2.5 0h1m4 0h1m-0.5 0h1m13.5 0h1m0.5 0h1m-0.5 0h1m-0.5 0h1m1.5 0h1m-0.5 0h1m4 0h1m2.5 0h1m4 0h1m-52 0.5h1m26 0h1m1.5 0h1m7 0h1m2.5 0h1m13 0h1m0.5 0h1m4.5 0h1m7.5 0h1m30.5 0h1m-95.5 0.5h1m3.5 0h1m0 0h1m4.5 0h1m17 0h1m0.5 0h1m0 0h1m0 0h1m-0.5 0.5h1m4 0h1m-43 0.5h1m4.5 0h1m0.5 0h1m-0.5 0h1m0 0h1m15.5 0h1m7 0h1m11 0h1m-0.5 0h1m1.5 0h1m11.5 0h1m-53 0.5h1m0.5 0h1m3.5 0h1m1 0h1m0 0h1m10.5 0h1m3 0h1m13.5 0h1m10 0h1m-62 0.5h1m4 0h1m13.5 0h1m16 0h1m1.5 0h1m30.5 0h1m21.5 0h1m-91.5 0.5h1m-0.5 0h1m5.5 0h1m3 0h1m2 0h1m-0.5 0h1m11 0h1m3.5 0h1m2 0h1m8 0h1m14 0h1m15.5 0h1m-82.5 0.5h1m17.5 0h1m0.5 0h1m2 0h1m4.5 0h1m13.5 0h1m5.5 0h1m-0.5 0h1m20 0h1m-74.5 0.5h1m13.5 0h1m5.5 0h1m-0.5 0h1m1.5 0h1m7.5 0h1m12 0h1m14 0h1m1 0h1m29.5 0h1m-82 0.5h1m11 0h1m1 0h1m-0.5 0h1m7 0h1m-0.5 0h1m7 0h1m-0.5 0h1m-37 0.5h1m15.5 0h1m10.5 0h1m21.5 0h1m0 0h1m7.5 0h1m11 0h1m-76 0.5h1m22.5 0h1m4.5 0h1m0 0h1m11 0h1m7.5 0h1m-52.5 0.5h1m7.5 0h1m0 0h1m1.5 0h1m9.5 0h1m1 0h1m8.5 0h1m1 0h1m-23.5 0.5h1m1 0h1m0 0h1m6.5 0h1m6.5 0h1m15.5 0h1m-47 0.5h1m0.5 0h1m5.5 0h1m-0.5 0h1m0.5 0h1m2 0h1m21.5 0h1m1.5 0h1m19.5 0h1m6 0h1m-73 0.5h1m8.5 0h1m4 0h1m8.5 0h1m1 0h1m2.5 0h1m7.5 0h1m5 0h1m30 0h1m-77 0.5h1m2.5 0h1m16.5 0h1m5 0h1m3 0h1m50 0h1m-82 0.5h1m2 0h1m34 0h1m9.5 0h1m-49 0.5h1m9.5 0h1m17.5 0h1m19 0h1m-36 0.5h1m6 0h1m18 0h1m-37.5 0.5h1m28 0h1m-26.5 0.5h1m1.5 0h1m2.5 0h1m8 0h1m-0.5 0h1m-33 0.5h1m12 0h1m7 0h1m16 0h1m9.5 0h1m8.5 0h1m-53.5 0.5h1m15.5 0h1m1.5 0h1m49 0h1m1 0h1m6.5 0h1m-78 0.5h1m7 0h1m2 0h1m4 0h1m0.5 0h1m12.5 0h1m1.5 0h1m-28.5 0.5h1m5 0h1m-0.5 0h1m59 0h1m-66.5 0.5h1m3 0h1m7.5 0h1m-0.5 0h1m-0.5 0h1m8 0h1m6.5 0h1m-37.5 0.5h1m0 0h1m19 0h1m36 0h1m-60 0.5h1m15.5 0h1m-22 0.5h1m4 0h1m6 0h1m5.5 0h1m11 0h1m0.5 0h1m2.5 0h1m33.5 0h1m-68.5 0.5h1m2 0h1m-0.5 0h1m0 0h1m2.5 0h1m3.5 0h1m-16 0.5h1m5.5 0h1m4.5 0h1m5.5 0h1m4 0h1m21.5 0h1m0.5 0h1m-61 0.5h1m1.5 0h1m10 0h1m8.5 0h1m1.5 0h1m0 0h1m1 0h1m1 0h1m30.5 0h1m-47.5 0.5h1m3.5 0h1m7 0h1m10 0h1m53 0h1m-76.5 1h1m6.5 0h1m16.5 0h1m47 0h1m-78 0.5h1m1 0h1m1.5 0h1m1 0h1m5 0h1m4 0h1m0 0h1m48.5 0h1m-47 0.5h1m-30 0.5h1m3.5 0h1m3 0h1m3.5 0h1m2 0h1m4.5 0h1m-0.5 0h1m53.5 0h1m3 0h1m-73 0.5h1m12.5 0h1m8.5 0h1m2.5 0h1m-37 0.5h1m14 0h1m15.5 0h1m45.5 0h1m10 0h1m-91 0.5h1m29.5 0h1m3 0h1m-25.5 0.5h1m-9.5 0.5h1m2 0h1m-12.5 0.5h1m12 0h1m16.5 0h1m2.5 0h1m3.5 0h1m-28 0.5h1m12 1.5h1m-10 0.5h1" stroke="#ee5d50" stroke-width="1.0" fill="none" opacity="0.6"/>
</g>
<path d="M254.5 90.5H70.2V274.5H254.5" stroke="#666" stroke-width="1.1" fill="none"/>
<path d="M254.2 90.0V275.0" stroke="#222" stroke-width="1.7" fill="none"/>
<path d="M70.2 274.2h-3.5M70.2 267.2h-2M70.2 260.3h-2M70.2 253.3h-2M70.2 246.4h-2M70.2 239.4h-3.5M70.2 232.5h-2M70.2 225.5h-2M70.2 218.6h-2M70.2 211.6h-2M70.2 204.7h-3.5M70.2 197.8h-2M70.2 190.8h-2M70.2 183.8h-2M70.2 176.9h-2M70.2 169.9h-3.5M70.2 163.0h-2M70.2 156.0h-2M70.2 149.1h-2M70.2 142.1h-2M70.2 135.2h-3.5M70.2 128.2h-2M70.2 121.3h-2M70.2 114.3h-2M70.2 107.4h-2M70.2 100.5h-3.5" stroke="#555" stroke-width="0.9" fill="none"/>
<text x="62.4" y="279.2" text-anchor="end" font-size="17.7">0</text>
<text x="66.4" y="243.9" text-anchor="end" font-size="17.7">50K</text>
<text x="67.4" y="208.9" text-anchor="end" font-size="17.7">100K</text>
<text x="67.4" y="174.8" text-anchor="end" font-size="17.7">150K</text>
<text x="67.4" y="138.7" text-anchor="end" font-size="17.7">200K</text>
<text x="67.4" y="104.8" text-anchor="end" font-size="17.7">250K</text>
<path d="M108.3 274.5v3.8M153.5 274.5v3.8M196.0 274.5v3.8M236.7 274.5v3.8M121.9 274.5v2.3M129.9 274.5v2.3M135.5 274.5v2.3M139.9 274.5v2.3M143.5 274.5v2.3M146.5 274.5v2.3M149.1 274.5v2.3M151.4 274.5v2.3M166.3 274.5v2.3M173.8 274.5v2.3M179.1 274.5v2.3M183.2 274.5v2.3M186.6 274.5v2.3M189.4 274.5v2.3M191.9 274.5v2.3M194.1 274.5v2.3M208.3 274.5v2.3M215.4 274.5v2.3M220.5 274.5v2.3M224.4 274.5v2.3M227.7 274.5v2.3M230.4 274.5v2.3M232.8 274.5v2.3M234.8 274.5v2.3M93.3 274.5v2.3M96.8 274.5v2.3M99.9 274.5v2.3M102.8 274.5v2.3M105.6 274.5v2.3M84.9 274.5v2.3M81.2 274.5v2.3M77.6 274.5v2.3M73.9 274.5v2.3M249.0 274.5v2.3" stroke="#3c3c3c" stroke-width="1.0" fill="none"/>
<path d="M88.6 274.5v4.5" stroke="#222" stroke-width="1.4" fill="none"/>
<text x="87.3" y="293.6" text-anchor="middle">0</text>
<text x="96.2" y="293.6">10<tspan dy="-4.6" font-size="12">2</tspan></text>
<text x="139.3" y="293.6">10<tspan dy="-4.6" font-size="12">3</tspan></text>
<text x="182.0" y="293.6">10<tspan dy="-4.6" font-size="12">4</tspan></text>
<text x="223.6" y="293.6">10<tspan dy="-4.6" font-size="12">5</tspan></text>
<rect x="162.2" y="198.3" width="85.1" height="73.8" fill="none" stroke="#e6550f" stroke-width="2.2"/>
<text x="195.8" y="185.2" text-anchor="middle" font-size="17.3">28.2%</text>
<text x="157.6" y="80.9" text-anchor="middle" letter-spacing="0.3">Normal</text>
<g clip-path="url(#cA308)">
<ellipse cx="370.5" cy="236.0" rx="15.0" ry="10.5" fill="#dc2a1c" opacity="0.7" transform="rotate(-38 370.5 236.0)" filter="url(#b2)"/>
<ellipse cx="421.0" cy="235.5" rx="13.0" ry="8.0" fill="#dc2a1c" opacity="0.3" transform="rotate(-48 421.0 235.5)" filter="url(#b2)"/>
<ellipse cx="396.0" cy="238.0" rx="10.0" ry="9.0" fill="#dc2a1c" opacity="0.2" transform="rotate(0 396.0 238.0)" filter="url(#b2)"/>
<path d="M432.5 204.5h1m-7.5 0.5h1m4.5 0.5h1m0.5 0.5h1m-0.5 0h1m-8.5 0.5h1m0.5 0h1m4.5 0h1m8 0h1m-62.5 0.5h1m-0.5 0h1m52.5 0h1m-8.5 0.5h1m15 0h1m-59 0.5h1m1.5 0h1m37.5 0h1m0 0h1m-0.5 0h1m3.5 0h1m10.5 0h1m-28 0.5h1m-40.5 0.5h1m40 0h1m3 0h1m8 0h1m-54.5 0.5h1m5 0h1m-8 0.5h1m2 0h1m50.5 0h1m1.5 0h1m1 0h1m-67 0.5h1m13 0h1m2 0h1m26 0h1m16.5 0h1m3 0h1m-57.5 0.5h1m4.5 0h1m5 0h1m1.5 0h1m-0.5 0h1m29 0h1m-57.5 0.5h1m2.5 0h1m6 0h1m-0.5 0h1m1.5 0h1m1 0h1m35.5 0h1m-0.5 0h1m18.5 0h1m-68 0.5h1m6.5 0h1m8.5 0h1m24 0h1m9 0h1m2 0h1m1 0h1m3.5 0h1m0.5 0h1m-73 0.5h1m8.5 0h1m-0.5 0h1m3 0h1m1 0h1m3.5 0h1m3 0h1m31.5 0h1m6 0h1m3.5 0h1m-0.5 0h1m3.5 0h1m7.5 0h1m-83.5 0.5h1m4 0h1m2 0h1m17.5 0h1m0 0h1m2 0h1m0 0h1m22.5 0h1m2.5 0h1m5 0h1m0 0h1m9.5 0h1m0 0h1m-71 0.5h1m0 0h1m5.5 0h1m0.5 0h1m0 0h1m2.5 0h1m0 0h1m39 0h1m3 0h1m-0.5 0h1m3 0h1m-0.5 0h1m0.5 0h1m8 0h1m-82 0.5h1m3.5 0h1m3.5 0h1m4.5 0h1m2 0h1m3.5 0h1m3 0h1m26 0h1m2 0h1m0 0h1m3 0h1m1.5 0h1m4.5 0h1m5 0h1m5 0h1m4 0h1m-90.5 0.5h1m0 0h1m8 0h1m0 0h1m3 0h1m1.5 0h1m2 0h1m0.5 0h1m2 0h1m3 0h1m8 0h1m27.5 0h1m0 0h1m-0.5 0h1m11 0h1m-82 0.5h1m6 0h1m2.5 0h1m1.5 0h1m3.5 0h1m5.5 0h1m2.5 0h1m6.5 0h1m3.5 0h1m24.5 0h1m1 0h1m1.5 0h1m4.5 0h1m0 0h1m-0.5 0h1m6 0h1m0.5 0h1m-73.5 0.5h1m2.5 0h1m3 0h1m1.5 0h1m5 0h1m0 0h1m1 0h1m23 0h1m5.5 0h1m0.5 0h1m0 0h1m1 0h1m7.5 0h1m0.5 0h1m11 0h1m-84.5 0.5h1m1.5 0h1m4.5 0h1m-0.5 0h1m0 0h1m-0.5 0h1m1 0h1m0 0h1m2 0h1m0 0h1m3 0h1m7 0h1m1 0h1m4 0h1m21.5 0h1m3.5 0h1m0 0h1m0 0h1m0.5 0h1m0 0h1m1 0h1m1.5 0h1m0.5 0h1m2 0h1m-82.5 0.5h1m8.5 0h1m4 0h1m4.5 0h1m0 0h1m3 0h1m0.5 0h1m2.5 0h1m7.5 0h1m19.5 0h1m1.5 0h1m2.5 0h1m-0.5 0h1m0 0h1m-0.5 0h1m3 0h1m0 0h1m3.5 0h1m0.5 0h1m5 0h1m-85.5 0.5h1m5.5 0h1m3 0h1m4.5 0h1m2 0h1m0 0h1m0.5 0h1m2 0h1m4.5 0h1m1 0h1m4.5 0h1m1.5 0h1m15.5 0h1m5.5 0h1m6.5 0h1m2.5 0h1m6.5 0h1m-86 0.5h1m9.5 0h1m0 0h1m2 0h1m-0.5 0h1m1 0h1m4.5 0h1m0.5 0h1m0 0h1m5 0h1m4.5 0h1m5.5 0h1m8.5 0h1m7 0h1m1 0h1m1 0h1m6.5 0h1m0 0h1m11.5 0h1m3.5 0h1m-89.5 0.5h1m4 0h1m0.5 0h1m0 0h1m0 0h1m0 0h1m-0.5 0h1m-0.5 0h1m1.5 0h1m-0.5 0h1m0 0h1m-0.5 0h1m0.5 0h1m4.5 0h1m0.5 0h1m1 0h1m0.5 0h1m6 0h1m-0.5 0h1m0 0h1m-0.5 0h1m2.5 0h1m-0.5 0h1m-0.5 0h1m10 0h1m6 0h1m1 0h1m0.5 0h1m1.5 0h1m2.5 0h1m0.5 0h1m2 0h1m1 0h1m2.5 0h1m-0.5 0h1m3.5 0h1m-82 0.5h1m3.5 0h1m2 0h1m0 0h1m1.5 0h1m0 0h1m0 0h1m-0.5 0h1m-0.5 0h1m-0.5 0h1m0 0h1m0 0h1m2.5 0h1m2.5 0h1m0 0h1m1 0h1m3 0h1m-0.5 0h1m2 0h1m0 0h1m5 0h1m7.5 0h1m6.5 0h1m-0.5 0h1m1.5 0h1m-0.5 0h1m2 0h1m-0.5 0h1m3.5 0h1m2.5 0h1m1 0h1m0 0h1m2 0h1m0 0h1m-0.5 0h1m-0.5 0h1m0 0h1m-0.5 0h1m-76.5 0.5h1m0.5 0h1m6 0h1m0 0h1m-0.5 0h1m-0.5 0h1m0 0h1m-0.5 0h1m-0.5 0h1m-0.5 0h1m1 0h1m-0.5 0h1m0.5 0h1m3 0h1m0 0h1m-0.5 0h1m0.5 0h1m1 0h1m-0.5 0h1m-0.5 0h1m0 0h1m0 0h1m0.5 0h1m10 0h1m5 0h1m4 0h1m0.5 0h1m-0.5 0h1m1.5 0h1m-0.5 0h1m-0.5 0h1m2.5 0h1m1.5 0h1m-0.5 0h1m1 0h1m-0.5 0h1m0 0h1m3 0h1m0.5 0h1m0 0h1m-0.5 0h1m-81 0.5h1m6 0h1m0.5 0h1m-0.5 0h1m-0.5 0h1m0 0h1m-0.5 0h1m0 0h1m0.5 0h1m-0.5 0h1m1 0h1m2 0h1m-0.5 0h1m0.5 0h1m0 0h1m-0.5 0h1m0 0h1m-0.5 0h1m-0.5 0h1m5 0h1m0.5 0h1m1 0h1m11 0h1m4 0h1m7.5 0h1m-0.5 0h1m0.5 0h1m2.5 0h1m-0.5 0h1m1 0h1m2 0h1m0 0h1m0 0h1m3.5 0h1m0 0h1m0.5 0h1m10 0h1m-94.5 0.5h1m2 0h1m4.5 0h1m-0.5 0h1m0 0h1m1.5 0h1m-0.5 0h1m1.5 0h1m-0.5 0h1m-0.5 0h1m4.5 0h1m5.5 0h1m-0.5 0h1m0.5 0h1m4.5 0h1m0.5 0h1m0 0h1m2.5 0h1m14 0h1m1.5 0h1m3.5 0h1m0 0h1m0 0h1m2 0h1m1.5 0h1m-0.5 0h1m0 0h1m1 0h1m1 0h1m0 0h1m0.5 0h1m0.5 0h1m4.5 0h1m1 0h1m-81 0.5h1m-0.5 0h1m1.5 0h1m0 0h1m-0.5 0h1m4 0h1m-0.5 0h1m2 0h1m0 0h1m-0.5 0h1m0 0h1m-0.5 0h1m0 0h1m-0.5 0h1m1 0h1m0.5 0h1m-0.5 0h1m-0.5 0h1m1 0h1m-0.5 0h1m0.5 0h1m-0.5 0h1m15.5 0h1m4 0h1m5.5 0h1m2.5 0h1m0 0h1m5.5 0h1m0.5 0h1m2.5 0h1m-0.5 0h1m0.5 0h1m0 0h1m0 0h1m3 0h1m-92 0.5h1m2.5 0h1m0 0h1m1.5 0h1m3 0h1m1 0h1m0 0h1m-0.5 0h1m-0.5 0h1m-0.5 0h1m-0.5 0h1m1 0h1m0.5 0h1m2 0h1m1 0h1m0 0h1m-0.5 0h1m1.5 0h1m0.5 0h1m-0.5 0h1m1 0h1m-0.5 0h1m-0.5 0h1m-0.5 0h1m-0.5 0h1m-0.5 0h1m-0.5 0h1m2 0h1m-0.5 0h1m0 0h1m2 0h1m1.5 0h1m1 0h1m10 0h1m4.5 0h1m0.5 0h1m-0.5 0h1m1 0h1m3.5 0h1m0 0h1m0.5 0h1m0.5 0h1m0.5 0h1m-0.5 0h1m9 0h1m1.5 0h1m2 0h1m-87.5 0.5h1m1 0h1m4 0h1m0 0h1m-0.5 0h1m0.5 0h1m-0.5 0h1m0 0h1m-0.5 0h1m1.5 0h1m0 0h1m-0.5 0h1m-0.5 0h1m0.5 0h1m0 0h1m-0.5 0h1m-0.5 0h1m0 0h1m0.5 0h1m-0.5 0h1m1 0h1m0.5 0h1m0 0h1m1.5 0h1m2 0h1m7.5 0h1m0 0h1m7 0h1m6 0h1m4.5 0h1m1 0h1m0 0h1m-0.5 0h1m1 0h1m3 0h1m0 0h1m4.5 0h1m-0.5 0h1m10 0h1m-99 0.5h1m3.5 0h1m3 0h1m0.5 0h1m-0.5 0h1m-0.5 0h1m4 0h1m-0.5 0h1m-0.5 0h1m0 0h1m-0.5 0h1m1 0h1m-0.5 0h1m0 0h1m-0.5 0h1m1.5 0h1m-0.5 0h1m-0.5 0h1m-0.5 0h1m1.5 0h1m0.5 0h1m1 0h1m1 0h1m4.5 0h1m0 0h1m2 0h1m13.5 0h1m4.5 0h1m2 0h1m-0.5 0h1m1 0h1m0 0h1m-0.5 0h1m3 0h1m-0.5 0h1m0 0h1m0 0h1m1.5 0h1m-0.5 0h1m-0.5 0h1m1 0h1m0 0h1m-0.5 0h1m0 0h1m-87.5 0.5h1m6 0h1m3 0h1m-0.5 0h1m0.5 0h1m0.5 0h1m0 0h1m2 0h1m0 0h1m0 0h1m-0.5 0h1m1 0h1m-0.5 0h1m-0.5 0h1m1.5 0h1m-0.5 0h1m-0.5 0h1m0.5 0h1m0 0h1m1 0h1m3 0h1m-0.5 0h1m-0.5 0h1m0.5 0h1m1 0h1m0.5 0h1m4.5 0h1m1 0h1m2.5 0h1m4.5 0h1m1.5 0h1m0 0h1m1 0h1m-0.5 0h1m2.5 0h1m-0.5 0h1m-0.5 0h1m0.5 0h1m0.5 0h1m-0.5 0h1m0 0h1m4.5 0h1m0 0h1m0.5 0h1m1.5 0h1m0 0h1m-0.5 0h1m3 0h1m-90.5 0.5h1m5 0h1m0.5 0h1m0.5 0h1m-0.5 0h1m-0.5 0h1m1.5 0h1m4.5 0h1m0 0h1m0 0h1m-0.5 0h1m-0.5 0h1m-0.5 0h1m3 0h1m-0.5 0h1m0 0h1m0 0h1m-0.5 0h1m0 0h1m0 0h1m0.5 0h1m0 0h1m0.5 0h1m0 0h1m0 0h1m0.5 0h1m0 0h1m2 0h1m1.5 0h1m0.5 0h1m3 0h1m8.5 0h1m3 0h1m0.5 0h1m1 0h1m0.5 0h1m0 0h1m0 0h1m-0.5 0h1m2 0h1m-0.5 0h1m-0.5 0h1m0.5 0h1m-0.5 0h1m0 0h1m0.5 0h1m0.5 0h1m2.5 0h1m3 0h1m2 0h1m0 0h1m0 0h1m1 0h1m1.5 0h1m-95 0.5h1m-0.5 0h1m-0.5 0h1m3.5 0h1m1 0h1m2 0h1m0 0h1m0.5 0h1m-0.5 0h1m-0.5 0h1m-0.5 0h1m0.5 0h1m-0.5 0h1m0 0h1m0.5 0h1m0.5 0h1m1.5 0h1m0 0h1m-0.5 0h1m-0.5 0h1m-0.5 0h1m-0.5 0h1m0.5 0h1m-0.5 0h1m0 0h1m0 0h1m1.5 0h1m0 0h1m-0.5 0h1m-0.5 0h1m-0.5 0h1m0.5 0h1m0 0h1m-0.5 0h1m3.5 0h1m3 0h1m4 0h1m0 0h1m5 0h1m1 0h1m2 0h1m1.5 0h1m-0.5 0h1m1.5 0h1m0 0h1m-0.5 0h1m-0.5 0h1m0 0h1m-0.5 0h1m0 0h1m0.5 0h1m0 0h1m0.5 0h1m0 0h1m-0.5 0h1m2 0h1m0 0h1m-81 0.5h1m4 0h1m-0.5 0h1m0.5 0h1m0 0h1m0.5 0h1m-0.5 0h1m-0.5 0h1m-0.5 0h1m1 0h1m0 0h1m-0.5 0h1m1 0h1m-0.5 0h1m2 0h1m1 0h1m-0.5 0h1m-0.5 0h1m-0.5 0h1m-0.5 0h1m2 0h1m1 0h1m-0.5 0h1m0 0h1m2 0h1m-0.5 0h1m-0.5 0h1m-0.5 0h1m2.5 0h1m-0.5 0h1m4.5 0h1m3.5 0h1m3 0h1m2.5 0h1m2 0h1m1 0h1m0.5 0h1m-0.5 0h1m0 0h1m1.5 0h1m-0.5 0h1m1 0h1m0.5 0h1m4.5 0h1m0.5 0h1m-0.5 0h1m0 0h1m5 0h1m-90 0.5h1m0 0h1m1.5 0h1m-0.5 0h1m3.5 0h1m1 0h1m-0.5 0h1m-0.5 0h1m0 0h1m1 0h1m-0.5 0h1m-0.5 0h1m0 0h1m0 0h1m-0.5 0h1m0.5 0h1m-0.5 0h1m0.5 0h1m-0.5 0h1m0 0h1m2 0h1m1 0h1m0 0h1m0.5 0h1m1.5 0h1m2.5 0h1m0 0h1m-0.5 0h1m0 0h1m2 0h1m1.5 0h1m4.5 0h1m7 0h1m-0.5 0h1m-0.5 0h1m0 0h1m-0.5 0h1m2.5 0h1m2 0h1m1 0h1m0 0h1m1.5 0h1m0 0h1m0.5 0h1m0 0h1m-0.5 0h1m0 0h1m-0.5 0h1m-0.5 0h1m-0.5 0h1m-0.5 0h1m0 0h1m-0.5 0h1m-0.5 0h1m9.5 0h1m-93 0.5h1m0.5 0h1m0 0h1m0 0h1m0 0h1m-0.5 0h1m0.5 0h1m0 0h1m0 0h1m0.5 0h1m0 0h1m1 0h1m1 0h1m-0.5 0h1m0 0h1m0 0h1m0 0h1m-0.5 0h1m0 0h1m-0.5 0h1m-0.5 0h1m-0.5 0h1m0 0h1m0 0h1m-0.5 0h1m0.5 0h1m0 0h1m1.5 0h1m-0.5 0h1m-0.5 0h1m1.5 0h1m0 0h1m1 0h1m-0.5 0h1m0 0h1m0.5 0h1m0.5 0h1m1 0h1m0 0h1m4.5 0h1m3 0h1m7 0h1m1.5 0h1m1.5 0h1m-0.5 0h1m0.5 0h1m-0.5 0h1m0 0h1m0 0h1m0 0h1m-0.5 0h1m2 0h1m-0.5 0h1m1 0h1m1.5 0h1m1 0h1m3.5 0h1m3 0h1m-84 0.5h1m0 0h1m-0.5 0h1m0.5 0h1m-0.5 0h1m0 0h1m-0.5 0h1m-0.5 0h1m-0.5 0h1m-0.5 0h1m-0.5 0h1m0 0h1m0 0h1m-0.5 0h1m-0.5 0h1m-0.5 0h1m0.5 0h1m-0.5 0h1m-0.5 0h1m0 0h1m0 0h1m-0.5 0h1m-0.5 0h1m-0.5 0h1m0 0h1m1 0h1m0 0h1m2.5 0h1m-0.5 0h1m0 0h1m-0.5 0h1m0.5 0h1m4 0h1m-0.5 0h1m6 0h1m1 0h1m1 0h1m-0.5 0h1m1.5 0h1m1.5 0h1m-0.5 0h1m-0.5 0h1m0.5 0h1m2.5 0h1m1 0h1m-0.5 0h1m0.5 0h1m-0.5 0h1m0.5 0h1m-0.5 0h1m0.5 0h1m-0.5 0h1m0.5 0h1m-0.5 0h1m-0.5 0h1m-0.5 0h1m0.5 0h1m0 0h1m0.5 0h1m0 0h1m0 0h1m0 0h1m0.5 0h1m2.5 0h1m2.5 0h1m-0.5 0h1m1 0h1m0 0h1m-97 0.5h1m2.5 0h1m0.5 0h1m0 0h1m-0.5 0h1m0.5 0h1m-0.5 0h1m-0.5 0h1m2 0h1m1.5 0h1m0 0h1m-0.5 0h1m-0.5 0h1m-0.5 0h1m-0.5 0h1m0.5 0h1m-0.5 0h1m-0.5 0h1m-0.5 0h1m1 0h1m-0.5 0h1m0 0h1m0 0h1m-0.5 0h1m-0.5 0h1m-0.5 0h1m1.5 0h1m-0.5 0h1m3 0h1m0 0h1m1.5 0h1m0 0h1m1 0h1m1 0h1m0 0h1m-0.5 0h1m1.5 0h1m4 0h1m2 0h1m2 0h1m0 0h1m0.5 0h1m-0.5 0h1m0.5 0h1m-0.5 0h1m-0.5 0h1m1.5 0h1m-0.5 0h1m-0.5 0h1m0.5 0h1m0.5 0h1m0 0h1m-0.5 0h1m1 0h1m0.5 0h1m-0.5 0h1m2.5 0h1m-0.5 0h1m1.5 0h1m-0.5 0h1m-0.5 0h1m-0.5 0h1m-0.5 0h1m-0.5 0h1m1.5 0h1m0.5 0h1m0 0h1m4 0h1m-90 0.5h1m5 0h1m-0.5 0h1m0.5 0h1m0.5 0h1m0.5 0h1m0 0h1m0 0h1m0 0h1m0 0h1m0.5 0h1m-0.5 0h1m0 0h1m-0.5 0h1m-0.5 0h1m0 0h1m-0.5 0h1m-0.5 0h1m-0.5 0h1m0.5 0h1m-0.5 0h1m-0.5 0h1m0 0h1m0 0h1m-0.5 0h1m0 0h1m1 0h1m-0.5 0h1m0.5 0h1m0 0h1m1 0h1m4 0h1m-0.5 0h1m-0.5 0h1m3 0h1m-0.5 0h1m0 0h1m1 0h1m2 0h1m5.5 0h1m1 0h1m3 0h1m0 0h1m0 0h1m1 0h1m1 0h1m-0.5 0h1m-0.5 0h1m0.5 0h1m-0.5 0h1m-0.5 0h1m1 0h1m-0.5 0h1m0.5 0h1m0 0h1m0.5 0h1m-0.5 0h1m2 0h1m3 0h1m-95 0.5h1m3.5 0h1m-0.5 0h1m2 0h1m-0.5 0h1m0 0h1m-0.5 0h1m1 0h1m0 0h1m0.5 0h1m-0.5 0h1m-0.5 0h1m-0.5 0h1m0 0h1m0 0h1m0 0h1m-0.5 0h1m0 0h1m-0.5 0h1m-0.5 0h1m-0.5 0h1m-0.5 0h1m-0.5 0h1m-0.5 0h1m0.5 0h1m0 0h1m-0.5 0h1m-0.5 0h1m-0.5 0h1m0 0h1m0 0h1m-0.5 0h1m0 0h1m-0.5 0h1m2.5 0h1m1 0h1m1 0h1m1.5 0h1m3.5 0h1m3 0h1m0 0h1m0 0h1m1 0h1m2 0h1m4 0h1m4 0h1m0.5 0h1m-0.5 0h1m2 0h1m0 0h1m-0.5 0h1m0 0h1m-0.5 0h1m0 0h1m2.5 0h1m0 0h1m-0.5 0h1m0 0h1m2 0h1m0 0h1m0 0h1m-0.5 0h1m1 0h1m-0.5 0h1m1 0h1m2.5 0h1m-99 0.5h1m7.5 0h1m1 0h1m1 0h1m0 0h1m0.5 0h1m0.5 0h1m-0.5 0h1m-0.5 0h1m-0.5 0h1m-0.5 0h1m0.5 0h1m-0.5 0h1m-0.5 0h1m-0.5 0h1m-0.5 0h1m-0.5 0h1m0 0h1m-0.5 0h1m-0.5 0h1m-0.5 0h1m-0.5 0h1m-0.5 0h1m0 0h1m-0.5 0h1m-0.5 0h1m0 0h1m0 0h1m0 0h1m-0.5 0h1m-0.5 0h1m0.5 0h1m0 0h1m-0.5 0h1m-0.5 0h1m-0.5 0h1m-0.5 0h1m0 0h1m3 0h1m0 0h1m0 0h1m0 0h1m0.5 0h1m0 0h1m0 0h1m7 0h1m0.5 0h1m-0.5 0h1m2.5 0h1m1.5 0h1m0 0h1m2 0h1m0.5 0h1m1 0h1m0.5 0h1m0 0h1m0 0h1m2 0h1m-0.5 0h1m1 0h1m-0.5 0h1m-0.5 0h1m1 0h1m0 0h1m-0.5 0h1m0 0h1m0 0h1m0.5 0h1m-0.5 0h1m-0.5 0h1m1.5 0h1m0 0h1m-0.5 0h1m-0.5 0h1m-91.5 0.5h1m5.5 0h1m1.5 0h1m-0.5 0h1m-0.5 0h1m0.5 0h1m-0.5 0h1m0 0h1m0 0h1m3 0h1m-0.5 0h1m0 0h1m-0.5 0h1m-0.5 0h1m0.5 0h1m-0.5 0h1m0.5 0h1m-0.5 0h1m-0.5 0h1m-0.5 0h1m-0.5 0h1m-0.5 0h1m-0.5 0h1m-0.5 0h1m-0.5 0h1m-0.5 0h1m-0.5 0h1m-0.5 0h1m-0.5 0h1m0.5 0h1m-0.5 0h1m-0.5 0h1m0 0h1m0 0h1m-0.5 0h1m-0.5 0h1m-0.5 0h1m-0.5 0h1m-0.5 0h1m-0.5 0h1m1.5 0h1m1.5 0h1m1.5 0h1m1 0h1m0.5 0h1m0.5 0h1m-0.5 0h1m1.5 0h1m3.5 0h1m-0.5 0h1m1 0h1m1 0h1m-0.5 0h1m2 0h1m1 0h1m0.5 0h1m-0.5 0h1m-0.5 0h1m-0.5 0h1m-0.5 0h1m-0.5 0h1m-0.5 0h1m-0.5 0h1m3 0h1m-0.5 0h1m-0.5 0h1m-0.5 0h1m-0.5 0h1m-0.5 0h1m0 0h1m-0.5 0h1m0.5 0h1m-0.5 0h1m-0.5 0h1m0.5 0h1m3 0h1m-0.5 0h1m1.5 0h1m3.5 0h1m-96.5 0.5h1m1 0h1m5 0h1m-0.5 0h1m0.5 0h1m-0.5 0h1m-0.5 0h1m0 0h1m-0.5 0h1m0.5 0h1m0 0h1m0 0h1m-0.5 0h1m-0.5 0h1m-0.5 0h1m-0.5 0h1m0 0h1m1 0h1m0 0h1m-0.5 0h1m-0.5 0h1m0 0h1m-0.5 0h1m0.5 0h1m-0.5 0h1m-0.5 0h1m-0.5 0h1m-0.5 0h1m-0.5 0h1m-0.5 0h1m0 0h1m-0.5 0h1m-0.5 0h1m0 0h1m-0.5 0h1m-0.5 0h1m-0.5 0h1m-0.5 0h1m-0.5 0h1m-0.5 0h1m0.5 0h1m-0.5 0h1m-0.5 0h1m-0.5 0h1m0.5 0h1m-0.5 0h1m3.5 0h1m0 0h1m0 0h1m-0.5 0h1m0 0h1m3.5 0h1m10 0h1m-0.5 0h1m-0.5 0h1m0 0h1m2.5 0h1m0 0h1m0 0h1m1 0h1m-0.5 0h1m1 0h1m-0.5 0h1m2 0h1m-0.5 0h1m-0.5 0h1m-0.5 0h1m-0.5 0h1m0 0h1m-0.5 0h1m-0.5 0h1m3 0h1m-0.5 0h1m1 0h1m1.5 0h1m-0.5 0h1m-0.5 0h1m-94 0.5h1m5.5 0h1m-0.5 0h1m1.5 0h1m0 0h1m1.5 0h1m0 0h1m-0.5 0h1m-0.5 0h1m-0.5 0h1m-0.5 0h1m-0.5 0h1m-0.5 0h1m0 0h1m-0.5 0h1m-0.5 0h1m0 0h1m-0.5 0h1m-0.5 0h1m-0.5 0h1m-0.5 0h1m0 0h1m0 0h1m-0.5 0h1m-0.5 0h1m-0.5 0h1m1 0h1m0 0h1m-0.5 0h1m-0.5 0h1m-0.5 0h1m2 0h1m-0.5 0h1m1 0h1m0.5 0h1m2.5 0h1m-0.5 0h1m0 0h1m1 0h1m0.5 0h1m2 0h1m2.5 0h1m-0.5 0h1m0 0h1m4.5 0h1m1 0h1m2 0h1m-0.5 0h1m-0.5 0h1m-0.5 0h1m0 0h1m0 0h1m-0.5 0h1m2 0h1m0 0h1m-0.5 0h1m-0.5 0h1m-0.5 0h1m-0.5 0h1m0 0h1m0 0h1m0 0h1m0 0h1m-0.5 0h1m-0.5 0h1m-0.5 0h1m0 0h1m1.5 0h1m0 0h1m-0.5 0h1m-0.5 0h1m1 0h1m0 0h1m-0.5 0h1m0 0h1m8 0h1m-99 0.5h1m7.5 0h1m0.5 0h1m-0.5 0h1m-0.5 0h1m0.5 0h1m-0.5 0h1m-0.5 0h1m0 0h1m0 0h1m0 0h1m-0.5 0h1m0 0h1m0 0h1m-0.5 0h1m-0.5 0h1m-0.5 0h1m-0.5 0h1m1 0h1m0 0h1m-0.5 0h1m-0.5 0h1m0.5 0h1m-0.5 0h1m-0.5 0h1m0 0h1m-0.5 0h1m0 0h1m-0.5 0h1m-0.5 0h1m0.5 0h1m-0.5 0h1m-0.5 0h1m-0.5 0h1m-0.5 0h1m-0.5 0h1m-0.5 0h1m-0.5 0h1m-0.5 0h1m-0.5 0h1m-0.5 0h1m0 0h1m0.5 0h1m1 0h1m1 0h1m0.5 0h1m0.5 0h1m4 0h1m0 0h1m2.5 0h1m1.5 0h1m0 0h1m-0.5 0h1m0 0h1m3.5 0h1m-0.5 0h1m1 0h1m-0.5 0h1m-0.5 0h1m-0.5 0h1m-0.5 0h1m-0.5 0h1m-0.5 0h1m-0.5 0h1m0 0h1m-0.5 0h1m0 0h1m-0.5 0h1m1.5 0h1m0.5 0h1m-0.5 0h1m-0.5 0h1m0 0h1m-0.5 0h1m-0.5 0h1m0.5 0h1m-0.5 0h1m3.5 0h1m-0.5 0h1m1 0h1m-90 0.5h1m0.5 0h1m2 0h1m1 0h1m1.5 0h1m-0.5 0h1m-0.5 0h1m0.5 0h1m-0.5 0h1m-0.5 0h1m-0.5 0h1m-0.5 0h1m-0.5 0h1m-0.5 0h1m-0.5 0h1m-0.5 0h1m-0.5 0h1m-0.5 0h1m-0.5 0h1m0 0h1m-0.5 0h1m-0.5 0h1m-0.5 0h1m-0.5 0h1m0 0h1m-0.5 0h1m-0.5 0h1m-0.5 0h1m-0.5 0h1m-0.5 0h1m-0.5 0h1m-0.5 0h1m-0.5 0h1m-0.5 0h1m-0.5 0h1m0 0h1m-0.5 0h1m-0.5 0h1m-0.5 0h1m-0.5 0h1m0 0h1m-0.5 0h1m0.5 0h1m-0.5 0h1m0.5 0h1m-0.5 0h1m-0.5 0h1m-0.5 0h1m0 0h1m-0.5 0h1m-0.5 0h1m-0.5 0h1m0 0h1m0.5 0h1m0.5 0h1m0 0h1m-0.5 0h1m0.5 0h1m0 0h1m4.5 0h1m7 0h1m-0.5 0h1m0 0h1m0 0h1m-0.5 0h1m1 0h1m0 0h1m-0.5 0h1m-0.5 0h1m0 0h1m1.5 0h1m-0.5 0h1m0 0h1m-0.5 0h1m-0.5 0h1m1.5 0h1m1 0h1m-0.5 0h1m-0.5 0h1m-0.5 0h1m0 0h1m-0.5 0h1m2 0h1m1 0h1m0 0h1m0.5 0h1m9 0h1m-105 0.5h1m6 0h1m-0.5 0h1m0.5 0h1m0.5 0h1m2 0h1m1 0h1m0 0h1m-0.5 0h1m-0.5 0h1m-0.5 0h1m-0.5 0h1m0 0h1m-0.5 0h1m-0.5 0h1m-0.5 0h1m1 0h1m-0.5 0h1m-0.5 0h1m-0.5 0h1m-0.5 0h1m-0.5 0h1m-0.5 0h1m-0.5 0h1m0 0h1m-0.5 0h1m-0.5 0h1m-0.5 0h1m0.5 0h1m-0.5 0h1m-0.5 0h1m-0.5 0h1m-0.5 0h1m2.5 0h1m-0.5 0h1m-0.5 0h1m-0.5 0h1m-0.5 0h1m0 0h1m-0.5 0h1m2.5 0h1m-0.5 0h1m0 0h1m0 0h1m0 0h1m0 0h1m-0.5 0h1m-0.5 0h1m3.5 0h1m3.5 0h1m-0.5 0h1m1 0h1m-0.5 0h1m1 0h1m5 0h1m0.5 0h1m4.5 0h1m-0.5 0h1m0 0h1m0.5 0h1m0 0h1m-0.5 0h1m0.5 0h1m0.5 0h1m1.5 0h1m-0.5 0h1m-0.5 0h1m1 0h1m-0.5 0h1m0.5 0h1m0.5 0h1m1 0h1m1.5 0h1m4.5 0h1m-102 0.5h1m5 0h1m-0.5 0h1m1 0h1m1.5 0h1m1 0h1m0 0h1m0 0h1m0 0h1m-0.5 0h1m-0.5 0h1m0 0h1m-0.5 0h1m-0.5 0h1m0.5 0h1m-0.5 0h1m-0.5 0h1m-0.5 0h1m-0.5 0h1m-0.5 0h1m-0.5 0h1m-0.5 0h1m-0.5 0h1m-0.5 0h1m0.5 0h1m0 0h1m-0.5 0h1m-0.5 0h1m-0.5 0h1m-0.5 0h1m0 0h1m1 0h1m-0.5 0h1m-0.5 0h1m0 0h1m-0.5 0h1m0.5 0h1m-0.5 0h1m-0.5 0h1m-0.5 0h1m0 0h1m-0.5 0h1m0 0h1m-0.5 0h1m0 0h1m-0.5 0h1m0 0h1m-0.5 0h1m-0.5 0h1m1.5 0h1m-0.5 0h1m0 0h1m0 0h1m5 0h1m1.5 0h1m-0.5 0h1m0.5 0h1m-0.5 0h1m0.5 0h1m-0.5 0h1m-0.5 0h1m1.5 0h1m-0.5 0h1m-0.5 0h1m1 0h1m-0.5 0h1m0 0h1m-0.5 0h1m0 0h1m-0.5 0h1m0.5 0h1m-0.5 0h1m0.5 0h1m-0.5 0h1m0 0h1m0.5 0h1m1.5 0h1m-0.5 0h1m-0.5 0h1m1.5 0h1m-0.5 0h1m-0.5 0h1m0.5 0h1m1 0h1m0 0h1m-0.5 0h1m0 0h1m3.5 0h1m0.5 0h1m-0.5 0h1m-0.5 0h1m-0.5 0h1m-97 0.5h1m1 0h1m2 0h1m1 0h1m2.5 0h1m-0.5 0h1m-0.5 0h1m-0.5 0h1m-0.5 0h1m-0.5 0h1m-0.5 0h1m-0.5 0h1m-0.5 0h1m-0.5 0h1m-0.5 0h1m-0.5 0h1m-0.5 0h1m-0.5 0h1m-0.5 0h1m0 0h1m-0.5 0h1m-0.5 0h1m-0.5 0h1m-0.5 0h1m-0.5 0h1m0 0h1m-0.5 0h1m-0.5 0h1m0 0h1m-0.5 0h1m-0.5 0h1m-0.5 0h1m-0.5 0h1m-0.5 0h1m-0.5 0h1m0 0h1m-0.5 0h1m-0.5 0h1m0 0h1m-0.5 0h1m-0.5 0h1m-0.5 0h1m-0.5 0h1m-0.5 0h1m-0.5 0h1m-0.5 0h1m-0.5 0h1m-0.5 0h1m-0.5 0h1m-0.5 0h1m3.5 0h1m0 0h1m0 0h1m-0.5 0h1m0 0h1m0.5 0h1m0 0h1m-0.5 0h1m0 0h1m0 0h1m1.5 0h1m0 0h1m0 0h1m-0.5 0h1m-0.5 0h1m-0.5 0h1m-0.5 0h1m3 0h1m0.5 0h1m-0.5 0h1m0.5 0h1m0.5 0h1m-0.5 0h1m-0.5 0h1m0 0h1m0 0h1m0.5 0h1m-0.5 0h1m-0.5 0h1m1.5 0h1m-0.5 0h1m0.5 0h1m-0.5 0h1m-0.5 0h1m0 0h1m0.5 0h1m0.5 0h1m-0.5 0h1m-0.5 0h1m2 0h1m-0.5 0h1m4.5 0h1m0.5 0h1m0 0h1m0.5 0h1m-98.5 0.5h1m5 0h1m-0.5 0h1m1 0h1m-0.5 0h1m0 0h1m-0.5 0h1m0.5 0h1m-0.5 0h1m-0.5 0h1m-0.5 0h1m0 0h1m-0.5 0h1m0 0h1m0 0h1m0 0h1m-0.5 0h1m-0.5 0h1m-0.5 0h1m-0.5 0h1m-0.5 0h1m-0.5 0h1m-0.5 0h1m-0.5 0h1m-0.5 0h1m-0.5 0h1m0.5 0h1m-0.5 0h1m-0.5 0h1m0 0h1m0 0h1m-0.5 0h1m0 0h1m-0.5 0h1m-0.5 0h1m-0.5 0h1m-0.5 0h1m-0.5 0h1m0 0h1m0 0h1m0 0h1m-0.5 0h1m0 0h1m0 0h1m0 0h1m-0.5 0h1m0 0h1m1 0h1m-0.5 0h1m0.5 0h1m0 0h1m0 0h1m-0.5 0h1m2 0h1m3.5 0h1m-0.5 0h1m0 0h1m0.5 0h1m5 0h1m2 0h1m0 0h1m0 0h1m-0.5 0h1m2 0h1m1.5 0h1m0 0h1m0.5 0h1m-0.5 0h1m0 0h1m0 0h1m0.5 0h1m-0.5 0h1m-0.5 0h1m0.5 0h1m-0.5 0h1m0 0h1m0 0h1m-0.5 0h1m1 0h1m2 0h1m0.5 0h1m3 0h1m1 0h1m-0.5 0h1m-96.5 0.5h1m0.5 0h1m2 0h1m0 0h1m0 0h1m-0.5 0h1m0 0h1m1.5 0h1m-0.5 0h1m0.5 0h1m-0.5 0h1m0 0h1m-0.5 0h1m-0.5 0h1m0 0h1m-0.5 0h1m-0.5 0h1m-0.5 0h1m-0.5 0h1m-0.5 0h1m-0.5 0h1m-0.5 0h1m-0.5 0h1m-0.5 0h1m-0.5 0h1m-0.5 0h1m-0.5 0h1m0 0h1m-0.5 0h1m-0.5 0h1m0 0h1m-0.5 0h1m0 0h1m-0.5 0h1m-0.5 0h1m0.5 0h1m0 0h1m0 0h1m-0.5 0h1m0 0h1m-0.5 0h1m-0.5 0h1m0 0h1m0 0h1m-0.5 0h1m0 0h1m3.5 0h1m0 0h1m-0.5 0h1m1.5 0h1m-0.5 0h1m1 0h1m1 0h1m-0.5 0h1m3 0h1m1.5 0h1m0 0h1m1 0h1m-0.5 0h1m-0.5 0h1m0.5 0h1m0 0h1m-0.5 0h1m0.5 0h1m0.5 0h1m-0.5 0h1m0 0h1m-0.5 0h1m-0.5 0h1m0.5 0h1m-0.5 0h1m-0.5 0h1m0 0h1m0.5 0h1m0 0h1m-0.5 0h1m-0.5 0h1m-0.5 0h1m-0.5 0h1m-0.5 0h1m0.5 0h1m-0.5 0h1m0 0h1m1 0h1m-0.5 0h1m-0.5 0h1m-0.5 0h1m0.5 0h1m0 0h1m-0.5 0h1m0.5 0h1m-0.5 0h1m0.5 0h1m4.5 0h1m2.5 0h1m-107 0.5h1m6.5 0h1m0.5 0h1m0 0h1m2.5 0h1m-0.5 0h1m0 0h1m-0.5 0h1m-0.5 0h1m-0.5 0h1m3 0h1m-0.5 0h1m-0.5 0h1m-0.5 0h1m-0.5 0h1m-0.5 0h1m-0.5 0h1m-0.5 0h1m0 0h1m-0.5 0h1m-0.5 0h1m-0.5 0h1m-0.5 0h1m0 0h1m0 0h1m-0.5 0h1m-0.5 0h1m0 0h1m-0.5 0h1m1.5 0h1m0.5 0h1m0 0h1m-0.5 0h1m-0.5 0h1m-0.5 0h1m-0.5 0h1m0.5 0h1m-0.5 0h1m0.5 0h1m1 0h1m0 0h1m0 0h1m0 0h1m1.5 0h1m0.5 0h1m-0.5 0h1m-0.5 0h1m10 0h1m-0.5 0h1m-0.5 0h1m1 0h1m0 0h1m0.5 0h1m0 0h1m1 0h1m-0.5 0h1m-0.5 0h1m-0.5 0h1m1 0h1m-0.5 0h1m0 0h1m0 0h1m0 0h1m-0.5 0h1m0 0h1m-0.5 0h1m-0.5 0h1m-0.5 0h1m-0.5 0h1m-0.5 0h1m-0.5 0h1m-0.5 0h1m0 0h1m-0.5 0h1m-0.5 0h1m0 0h1m2.5 0h1m0 0h1m0 0h1m1.5 0h1m2.5 0h1m-93.5 0.5h1m3 0h1m0.5 0h1m0 0h1m1.5 0h1m0.5 0h1m-0.5 0h1m-0.5 0h1m0 0h1m0.5 0h1m-0.5 0h1m-0.5 0h1m-0.5 0h1m0 0h1m-0.5 0h1m-0.5 0h1m1 0h1m-0.5 0h1m0 0h1m-0.5 0h1m-0.5 0h1m-0.5 0h1m-0.5 0h1m-0.5 0h1m-0.5 0h1m-0.5 0h1m-0.5 0h1m-0.5 0h1m-0.5 0h1m0 0h1m-0.5 0h1m0.5 0h1m-0.5 0h1m-0.5 0h1m-0.5 0h1m0 0h1m-0.5 0h1m0 0h1m-0.5 0h1m-0.5 0h1m-0.5 0h1m-0.5 0h1m-0.5 0h1m0.5 0h1m-0.5 0h1m-0.5 0h1m1.5 0h1m-0.5 0h1m-0.5 0h1m-0.5 0h1m1 0h1m0.5 0h1m1 0h1m-0.5 0h1m-0.5 0h1m0.5 0h1m-0.5 0h1m0 0h1m2 0h1m1.5 0h1m0.5 0h1m1 0h1m-0.5 0h1m-0.5 0h1m-0.5 0h1m-0.5 0h1m-0.5 0h1m1 0h1m0.5 0h1m1 0h1m-0.5 0h1m0 0h1m0.5 0h1m-0.5 0h1m0.5 0h1m-0.5 0h1m-0.5 0h1m-0.5 0h1m0 0h1m1 0h1m-0.5 0h1m0 0h1m0.5 0h1m0 0h1m-0.5 0h1m-0.5 0h1m-0.5 0h1m0 0h1m0 0h1m-0.5 0h1m0 0h1m4 0h1m1 0h1m-93.5 0.5h1m5 0h1m0 0h1m-0.5 0h1m4 0h1m-0.5 0h1m0.5 0h1m-0.5 0h1m-0.5 0h1m1.5 0h1m-0.5 0h1m-0.5 0h1m-0.5 0h1m-0.5 0h1m-0.5 0h1m-0.5 0h1m-0.5 0h1m-0.5 0h1m-0.5 0h1m-0.5 0h1m0 0h1m-0.5 0h1m-0.5 0h1m-0.5 0h1m-0.5 0h1m0 0h1m-0.5 0h1m-0.5 0h1m-0.5 0h1m-0.5 0h1m-0.5 0h1m0 0h1m-0.5 0h1m-0.5 0h1m0 0h1m0.5 0h1m-0.5 0h1m-0.5 0h1m-0.5 0h1m-0.5 0h1m0 0h1m0 0h1m-0.5 0h1m0 0h1m0.5 0h1m0 0h1m0 0h1m-0.5 0h1m0 0h1m0 0h1m0.5 0h1m0 0h1m0 0h1m0 0h1m-0.5 0h1m0.5 0h1m0.5 0h1m0 0h1m0.5 0h1m1 0h1m1 0h1m-0.5 0h1m-0.5 0h1m-0.5 0h1m2 0h1m1 0h1m0.5 0h1m-0.5 0h1m-0.5 0h1m-0.5 0h1m-0.5 0h1m-0.5 0h1m0.5 0h1m0 0h1m-0.5 0h1m0.5 0h1m0 0h1m-0.5 0h1m0 0h1m-0.5 0h1m0.5 0h1m-0.5 0h1m-0.5 0h1m-0.5 0h1m0 0h1m-0.5 0h1m1.5 0h1m-0.5 0h1m0 0h1m0 0h1m0 0h1m2 0h1m-0.5 0h1m-0.5 0h1m0 0h1m-98 0.5h1m2 0h1m-0.5 0h1m3 0h1m0 0h1m0 0h1m1 0h1m-0.5 0h1m0 0h1m-0.5 0h1m1 0h1m0 0h1m-0.5 0h1m-0.5 0h1m0 0h1m0 0h1m-0.5 0h1m-0.5 0h1m-0.5 0h1m0.5 0h1m-0.5 0h1m-0.5 0h1m0 0h1m-0.5 0h1m-0.5 0h1m0 0h1m-0.5 0h1m-0.5 0h1m-0.5 0h1m0.5 0h1m0 0h1m-0.5 0h1m-0.5 0h1m0 0h1m0 0h1m-0.5 0h1m-0.5 0h1m-0.5 0h1m-0.5 0h1m-0.5 0h1m-0.5 0h1m-0.5 0h1m-0.5 0h1m-0.5 0h1m-0.5 0h1m-0.5 0h1m-0.5 0h1m-0.5 0h1m0 0h1m0 0h1m-0.5 0h1m-0.5 0h1m-0.5 0h1m0.5 0h1m4 0h1m1.5 0h1m0 0h1m0 0h1m1.5 0h1m1 0h1m0.5 0h1m0 0h1m-0.5 0h1m2.5 0h1m0 0h1m0 0h1m0.5 0h1m-0.5 0h1m0.5 0h1m-0.5 0h1m-0.5 0h1m0 0h1m-0.5 0h1m-0.5 0h1m-0.5 0h1m0.5 0h1m-0.5 0h1m-0.5 0h1m-0.5 0h1m-0.5 0h1m-0.5 0h1m0 0h1m0 0h1m-0.5 0h1m0 0h1m3.5 0h1m-0.5 0h1m-0.5 0h1m4.5 0h1m0.5 0h1m0.5 0h1m0.5 0h1m-100 0.5h1m4 0h1m3.5 0h1m-0.5 0h1m-0.5 0h1m0.5 0h1m-0.5 0h1m0 0h1m0 0h1m-0.5 0h1m-0.5 0h1m-0.5 0h1m-0.5 0h1m-0.5 0h1m-0.5 0h1m-0.5 0h1m-0.5 0h1m-0.5 0h1m-0.5 0h1m0 0h1m0 0h1m-0.5 0h1m-0.5 0h1m-0.5 0h1m0 0h1m-0.5 0h1m-0.5 0h1m-0.5 0h1m-0.5 0h1m-0.5 0h1m-0.5 0h1m0.5 0h1m-0.5 0h1m0 0h1m-0.5 0h1m-0.5 0h1m-0.5 0h1m-0.5 0h1m-0.5 0h1m0 0h1m-0.5 0h1m-0.5 0h1m-0.5 0h1m-0.5 0h1m0 0h1m0.5 0h1m-0.5 0h1m-0.5 0h1m-0.5 0h1m-0.5 0h1m0 0h1m1 0h1m-0.5 0h1m0 0h1m-0.5 0h1m0 0h1m0.5 0h1m0.5 0h1m-0.5 0h1m0.5 0h1m-0.5 0h1m1.5 0h1m1.5 0h1m-0.5 0h1m0.5 0h1m2.5 0h1m0.5 0h1m0 0h1m1.5 0h1m-0.5 0h1m-0.5 0h1m-0.5 0h1m-0.5 0h1m0 0h1m-0.5 0h1m-0.5 0h1m-0.5 0h1m-0.5 0h1m1 0h1m2 0h1m-0.5 0h1m-0.5 0h1m-0.5 0h1m-0.5 0h1m-0.5 0h1m0 0h1m-0.5 0h1m-0.5 0h1m0.5 0h1m-0.5 0h1m1 0h1m1 0h1m0.5 0h1m0.5 0h1m-0.5 0h1m1.5 0h1m-0.5 0h1m-0.5 0h1m-0.5 0h1m5.5 0h1m0 0h1m-103 0.5h1m3.5 0h1m-0.5 0h1m0.5 0h1m1 0h1m0.5 0h1m0.5 0h1m1 0h1m-0.5 0h1m0.5 0h1m-0.5 0h1m0.5 0h1m-0.5 0h1m-0.5 0h1m0 0h1m-0.5 0h1m-0.5 0h1m-0.5 0h1m-0.5 0h1m-0.5 0h1m-0.5 0h1m-0.5 0h1m0 0h1m-0.5 0h1m-0.5 0h1m0 0h1m-0.5 0h1m-0.5 0h1m-0.5 0h1m-0.5 0h1m-0.5 0h1m-0.5 0h1m-0.5 0h1m-0.5 0h1m-0.5 0h1m0.5 0h1m-0.5 0h1m0 0h1m-0.5 0h1m-0.5 0h1m-0.5 0h1m-0.5 0h1m-0.5 0h1m0 0h1m-0.5 0h1m0.5 0h1m0 0h1m0.5 0h1m0.5 0h1m-0.5 0h1m-0.5 0h1m-0.5 0h1m0 0h1m-0.5 0h1m-0.5 0h1m0 0h1m-0.5 0h1m1 0h1m-0.5 0h1m-0.5 0h1m0.5 0h1m-0.5 0h1m0 0h1m2 0h1m0 0h1m-0.5 0h1m-0.5 0h1m2.5 0h1m0 0h1m0 0h1m-0.5 0h1m0 0h1m0 0h1m0 0h1m0 0h1m-0.5 0h1m-0.5 0h1m-0.5 0h1m-0.5 0h1m-0.5 0h1m-0.5 0h1m-0.5 0h1m0 0h1m0 0h1m-0.5 0h1m-0.5 0h1m0.5 0h1m-0.5 0h1m-0.5 0h1m-0.5 0h1m0.5 0h1m-0.5 0h1m-0.5 0h1m-0.5 0h1m0 0h1m0.5 0h1m-0.5 0h1m0 0h1m0 0h1m0.5 0h1m3 0h1m2 0h1m1.5 0h1m-101.5 0.5h1m8.5 0h1m0.5 0h1m0.5 0h1m0 0h1m-0.5 0h1m0.5 0h1m-0.5 0h1m1 0h1m1 0h1m0 0h1m0 0h1m-0.5 0h1m-0.5 0h1m0 0h1m-0.5 0h1m-0.5 0h1m-0.5 0h1m-0.5 0h1m-0.5 0h1m-0.5 0h1m-0.5 0h1m0.5 0h1m-0.5 0h1m-0.5 0h1m-0.5 0h1m-0.5 0h1m0 0h1m-0.5 0h1m0 0h1m-0.5 0h1m0 0h1m-0.5 0h1m-0.5 0h1m-0.5 0h1m0 0h1m-0.5 0h1m-0.5 0h1m-0.5 0h1m0 0h1m0 0h1m0 0h1m-0.5 0h1m-0.5 0h1m0 0h1m0 0h1m0 0h1m1 0h1m-0.5 0h1m0 0h1m0.5 0h1m-0.5 0h1m-0.5 0h1m2.5 0h1m0.5 0h1m0 0h1m0 0h1m-0.5 0h1m0 0h1m0.5 0h1m-0.5 0h1m1 0h1m1.5 0h1m-0.5 0h1m0 0h1m-0.5 0h1m-0.5 0h1m1 0h1m-0.5 0h1m-0.5 0h1m-0.5 0h1m-0.5 0h1m-0.5 0h1m-0.5 0h1m-0.5 0h1m1 0h1m-0.5 0h1m-0.5 0h1m-0.5 0h1m0 0h1m-0.5 0h1m0 0h1m-0.5 0h1m-0.5 0h1m0 0h1m0 0h1m0.5 0h1m-0.5 0h1m0 0h1m0 0h1m0.5 0h1m1 0h1m0.5 0h1m-0.5 0h1m2 0h1m-0.5 0h1m0.5 0h1m-97.5 0.5h1m1 0h1m4.5 0h1m-0.5 0h1m0.5 0h1m2 0h1m-0.5 0h1m-0.5 0h1m-0.5 0h1m0 0h1m-0.5 0h1m1 0h1m-0.5 0h1m0 0h1m0.5 0h1m0 0h1m0 0h1m-0.5 0h1m-0.5 0h1m-0.5 0h1m-0.5 0h1m-0.5 0h1m-0.5 0h1m-0.5 0h1m-0.5 0h1m-0.5 0h1m0 0h1m-0.5 0h1m-0.5 0h1m-0.5 0h1m-0.5 0h1m-0.5 0h1m0 0h1m0 0h1m0 0h1m-0.5 0h1m-0.5 0h1m1 0h1m-0.5 0h1m-0.5 0h1m0 0h1m0 0h1m-0.5 0h1m-0.5 0h1m-0.5 0h1m-0.5 0h1m-0.5 0h1m-0.5 0h1m-0.5 0h1m0.5 0h1m-0.5 0h1m-0.5 0h1m-0.5 0h1m-0.5 0h1m-0.5 0h1m-0.5 0h1m0.5 0h1m2.5 0h1m-0.5 0h1m0 0h1m-0.5 0h1m0.5 0h1m0.5 0h1m0 0h1m0 0h1m1 0h1m0 0h1m1 0h1m0 0h1m-0.5 0h1m-0.5 0h1m0 0h1m-0.5 0h1m-0.5 0h1m-0.5 0h1m-0.5 0h1m-0.5 0h1m1 0h1m0 0h1m-0.5 0h1m-0.5 0h1m-0.5 0h1m1 0h1m0 0h1m0 0h1m0.5 0h1m-0.5 0h1m-0.5 0h1m-0.5 0h1m-0.5 0h1m-0.5 0h1m0.5 0h1m-0.5 0h1m-0.5 0h1m-0.5 0h1m-0.5 0h1m0 0h1m0 0h1m2 0h1m-0.5 0h1m7.5 0h1m-97.5 0.5h1m-0.5 0h1m2 0h1m-0.5 0h1m0.5 0h1m3.5 0h1m-0.5 0h1m-0.5 0h1m-0.5 0h1m-0.5 0h1m0 0h1m1 0h1m-0.5 0h1m0 0h1m0 0h1m-0.5 0h1m-0.5 0h1m-0.5 0h1m-0.5 0h1m-0.5 0h1m-0.5 0h1m0 0h1m-0.5 0h1m0 0h1m-0.5 0h1m0 0h1m-0.5 0h1m0.5 0h1m-0.5 0h1m-0.5 0h1m0.5 0h1m0 0h1m-0.5 0h1m-0.5 0h1m-0.5 0h1m0 0h1m0 0h1m0 0h1m-0.5 0h1m-0.5 0h1m-0.5 0h1m1 0h1m-0.5 0h1m1 0h1m0.5 0h1m0.5 0h1m0 0h1m-0.5 0h1m0.5 0h1m0 0h1m-0.5 0h1m-0.5 0h1m-0.5 0h1m0 0h1m1.5 0h1m0 0h1m2 0h1m-0.5 0h1m-0.5 0h1m1 0h1m0 0h1m0 0h1m-0.5 0h1m1.5 0h1m-0.5 0h1m-0.5 0h1m0.5 0h1m0 0h1m0.5 0h1m-0.5 0h1m-0.5 0h1m-0.5 0h1m0 0h1m-0.5 0h1m-0.5 0h1m0.5 0h1m-0.5 0h1m1 0h1m0 0h1m1 0h1m0 0h1m-0.5 0h1m-0.5 0h1m-0.5 0h1m1 0h1m8 0h1m2.5 0h1m0.5 0h1m-97.5 0.5h1m3.5 0h1m0 0h1m2 0h1m-0.5 0h1m2 0h1m-0.5 0h1m1 0h1m-0.5 0h1m0.5 0h1m0 0h1m-0.5 0h1m-0.5 0h1m-0.5 0h1m-0.5 0h1m-0.5 0h1m-0.5 0h1m-0.5 0h1m-0.5 0h1m-0.5 0h1m-0.5 0h1m-0.5 0h1m-0.5 0h1m0.5 0h1m0.5 0h1m-0.5 0h1m-0.5 0h1m-0.5 0h1m-0.5 0h1m-0.5 0h1m-0.5 0h1m-0.5 0h1m-0.5 0h1m0.5 0h1m0 0h1m-0.5 0h1m0.5 0h1m-0.5 0h1m-0.5 0h1m0 0h1m-0.5 0h1m-0.5 0h1m-0.5 0h1m-0.5 0h1m-0.5 0h1m0 0h1m-0.5 0h1m-0.5 0h1m5 0h1m3.5 0h1m0 0h1m2 0h1m1.5 0h1m1 0h1m-0.5 0h1m-0.5 0h1m-0.5 0h1m-0.5 0h1m-0.5 0h1m-0.5 0h1m-0.5 0h1m-0.5 0h1m0.5 0h1m0 0h1m0 0h1m0 0h1m-0.5 0h1m0 0h1m-0.5 0h1m-0.5 0h1m0 0h1m-0.5 0h1m1 0h1m-0.5 0h1m0.5 0h1m1 0h1m-0.5 0h1m-0.5 0h1m2 0h1m1 0h1m-0.5 0h1m-0.5 0h1m2 0h1m1.5 0h1m4.5 0h1m-100 0.5h1m1.5 0h1m2 0h1m-0.5 0h1m-0.5 0h1m1 0h1m0.5 0h1m0 0h1m-0.5 0h1m-0.5 0h1m-0.5 0h1m-0.5 0h1m-0.5 0h1m0 0h1m0 0h1m-0.5 0h1m-0.5 0h1m-0.5 0h1m-0.5 0h1m-0.5 0h1m0 0h1m-0.5 0h1m0.5 0h1m-0.5 0h1m-0.5 0h1m-0.5 0h1m0 0h1m0 0h1m-0.5 0h1m0 0h1m-0.5 0h1m-0.5 0h1m-0.5 0h1m-0.5 0h1m-0.5 0h1m-0.5 0h1m-0.5 0h1m0 0h1m-0.5 0h1m-0.5 0h1m-0.5 0h1m-0.5 0h1m-0.5 0h1m-0.5 0h1m-0.5 0h1m-0.5 0h1m-0.5 0h1m-0.5 0h1m0 0h1m0 0h1m0.5 0h1m-0.5 0h1m0.5 0h1m0 0h1m0.5 0h1m-0.5 0h1m-0.5 0h1m-0.5 0h1m0 0h1m0 0h1m0 0h1m0.5 0h1m1.5 0h1m0 0h1m3 0h1m1.5 0h1m-0.5 0h1m0 0h1m0.5 0h1m-0.5 0h1m-0.5 0h1m-0.5 0h1m-0.5 0h1m-0.5 0h1m0 0h1m0.5 0h1m1.5 0h1m-0.5 0h1m0 0h1m-0.5 0h1m1 0h1m-0.5 0h1m-0.5 0h1m-0.5 0h1m-0.5 0h1m-0.5 0h1m-0.5 0h1m-0.5 0h1m-0.5 0h1m0.5 0h1m0.5 0h1m-0.5 0h1m-0.5 0h1m-0.5 0h1m1 0h1m-0.5 0h1m0.5 0h1m4 0h1m-95.5 0.5h1m5 0h1m-0.5 0h1m-0.5 0h1m1 0h1m-0.5 0h1m-0.5 0h1m0 0h1m-0.5 0h1m-0.5 0h1m-0.5 0h1m0.5 0h1m-0.5 0h1m0.5 0h1m-0.5 0h1m-0.5 0h1m-0.5 0h1m1 0h1m-0.5 0h1m-0.5 0h1m-0.5 0h1m0 0h1m-0.5 0h1m-0.5 0h1m-0.5 0h1m-0.5 0h1m0 0h1m-0.5 0h1m-0.5 0h1m-0.5 0h1m-0.5 0h1m-0.5 0h1m0 0h1m-0.5 0h1m-0.5 0h1m0 0h1m-0.5 0h1m-0.5 0h1m-0.5 0h1m0 0h1m-0.5 0h1m-0.5 0h1m0.5 0h1m-0.5 0h1m-0.5 0h1m0 0h1m0 0h1m-0.5 0h1m-0.5 0h1m-0.5 0h1m0.5 0h1m0 0h1m-0.5 0h1m0.5 0h1m0.5 0h1m0 0h1m0 0h1m0 0h1m-0.5 0h1m-0.5 0h1m0.5 0h1m0 0h1m1.5 0h1m0 0h1m-0.5 0h1m0 0h1m-0.5 0h1m0 0h1m0 0h1m2.5 0h1m-0.5 0h1m-0.5 0h1m0 0h1m1 0h1m-0.5 0h1m-0.5 0h1m-0.5 0h1m0 0h1m-0.5 0h1m-0.5 0h1m0.5 0h1m-0.5 0h1m0.5 0h1m-0.5 0h1m-0.5 0h1m0.5 0h1m0.5 0h1m0 0h1m-0.5 0h1m-0.5 0h1m-0.5 0h1m0.5 0h1m0.5 0h1m1 0h1m0.5 0h1m0 0h1m-0.5 0h1m0.5 0h1m3.5 0h1m-0.5 0h1m-92.5 0.5h1m-0.5 0h1m0 0h1m1 0h1m0 0h1m0 0h1m1.5 0h1m-0.5 0h1m-0.5 0h1m-0.5 0h1m0 0h1m-0.5 0h1m-0.5 0h1m-0.5 0h1m-0.5 0h1m0 0h1m-0.5 0h1m-0.5 0h1m-0.5 0h1m-0.5 0h1m-0.5 0h1m-0.5 0h1m-0.5 0h1m-0.5 0h1m-0.5 0h1m-0.5 0h1m-0.5 0h1m-0.5 0h1m-0.5 0h1m-0.5 0h1m0 0h1m-0.5 0h1m-0.5 0h1m-0.5 0h1m-0.5 0h1m-0.5 0h1m0.5 0h1m-0.5 0h1m-0.5 0h1m0 0h1m-0.5 0h1m-0.5 0h1m-0.5 0h1m-0.5 0h1m-0.5 0h1m1 0h1m-0.5 0h1m-0.5 0h1m-0.5 0h1m2 0h1m0 0h1m-0.5 0h1m0 0h1m0 0h1m-0.5 0h1m-0.5 0h1m0 0h1m-0.5 0h1m-0.5 0h1m-0.5 0h1m2 0h1m-0.5 0h1m0 0h1m-0.5 0h1m0 0h1m-0.5 0h1m-0.5 0h1m-0.5 0h1m-0.5 0h1m0 0h1m0.5 0h1m0 0h1m1.5 0h1m-0.5 0h1m-0.5 0h1m2 0h1m0.5 0h1m0.5 0h1m-0.5 0h1m-0.5 0h1m-0.5 0h1m-0.5 0h1m0 0h1m-0.5 0h1m-0.5 0h1m-0.5 0h1m-0.5 0h1m0.5 0h1m-0.5 0h1m-0.5 0h1m-0.5 0h1m-0.5 0h1m-0.5 0h1m0.5 0h1m-0.5 0h1m-0.5 0h1m0 0h1m-0.5 0h1m-0.5 0h1m1 0h1m-0.5 0h1m-0.5 0h1m1 0h1m0 0h1m-0.5 0h1m0 0h1m12.5 0h1m-106.5 0.5h1m9 0h1m2.5 0h1m0.5 0h1m-0.5 0h1m-0.5 0h1m-0.5 0h1m0 0h1m-0.5 0h1m-0.5 0h1m-0.5 0h1m-0.5 0h1m-0.5 0h1m0 0h1m-0.5 0h1m-0.5 0h1m-0.5 0h1m-0.5 0h1m0 0h1m-0.5 0h1m0.5 0h1m-0.5 0h1m0 0h1m-0.5 0h1m-0.5 0h1m0 0h1m0 0h1m-0.5 0h1m-0.5 0h1m0 0h1m-0.5 0h1m0 0h1m-0.5 0h1m-0.5 0h1m-0.5 0h1m-0.5 0h1m-0.5 0h1m0.5 0h1m0 0h1m-0.5 0h1m-0.5 0h1m-0.5 0h1m0.5 0h1m0.5 0h1m0 0h1m-0.5 0h1m0 0h1m0.5 0h1m-0.5 0h1m-0.5 0h1m-0.5 0h1m0 0h1m0.5 0h1m-0.5 0h1m0.5 0h1m-0.5 0h1m1 0h1m0 0h1m1 0h1m0 0h1m1 0h1m-0.5 0h1m0.5 0h1m-0.5 0h1m-0.5 0h1m1.5 0h1m-0.5 0h1m0 0h1m-0.5 0h1m0 0h1m-0.5 0h1m-0.5 0h1m-0.5 0h1m-0.5 0h1m-0.5 0h1m-0.5 0h1m1 0h1m-0.5 0h1m-0.5 0h1m-0.5 0h1m-0.5 0h1m-0.5 0h1m-0.5 0h1m0 0h1m-0.5 0h1m-0.5 0h1m-0.5 0h1m-0.5 0h1m0 0h1m-0.5 0h1m0 0h1m0 0h1m-0.5 0h1m-0.5 0h1m-0.5 0h1m0.5 0h1m4.5 0h1m0.5 0h1m0.5 0h1m-0.5 0h1m5.5 0h1m-99.5 0.5h1m0.5 0h1m0.5 0h1m2.5 0h1m0.5 0h1m-0.5 0h1m0 0h1m-0.5 0h1m-0.5 0h1m-0.5 0h1m0.5 0h1m-0.5 0h1m-0.5 0h1m0.5 0h1m0 0h1m-0.5 0h1m-0.5 0h1m0.5 0h1m-0.5 0h1m-0.5 0h1m-0.5 0h1m-0.5 0h1m-0.5 0h1m-0.5 0h1m-0.5 0h1m0 0h1m0.5 0h1m-0.5 0h1m-0.5 0h1m-0.5 0h1m-0.5 0h1m0 0h1m-0.5 0h1m-0.5 0h1m0 0h1m-0.5 0h1m0 0h1m-0.5 0h1m-0.5 0h1m-0.5 0h1m-0.5 0h1m-0.5 0h1m-0.5 0h1m-0.5 0h1m-0.5 0h1m0 0h1m0.5 0h1m-0.5 0h1m-0.5 0h1m-0.5 0h1m0.5 0h1m-0.5 0h1m-0.5 0h1m-0.5 0h1m-0.5 0h1m0.5 0h1m0 0h1m-0.5 0h1m0 0h1m2.5 0h1m-0.5 0h1m7 0h1m0 0h1m-0.5 0h1m-0.5 0h1m-0.5 0h1m2.5 0h1m-0.5 0h1m-0.5 0h1m0 0h1m-0.5 0h1m-0.5 0h1m1 0h1m-0.5 0h1m1 0h1m-0.5 0h1m0 0h1m-0.5 0h1m-0.5 0h1m0 0h1m-0.5 0h1m-0.5 0h1m1 0h1m0.5 0h1m0 0h1m0 0h1m-0.5 0h1m0.5 0h1m0 0h1m1.5 0h1m0 0h1m0 0h1m0.5 0h1m1 0h1m2 0h1m-100.5 0.5h1m3 0h1m1.5 0h1m0.5 0h1m0.5 0h1m0 0h1m1 0h1m0.5 0h1m-0.5 0h1m-0.5 0h1m-0.5 0h1m-0.5 0h1m0 0h1m-0.5 0h1m-0.5 0h1m-0.5 0h1m0.5 0h1m-0.5 0h1m0.5 0h1m-0.5 0h1m-0.5 0h1m-0.5 0h1m-0.5 0h1m-0.5 0h1m-0.5 0h1m-0.5 0h1m-0.5 0h1m-0.5 0h1m-0.5 0h1m-0.5 0h1m-0.5 0h1m-0.5 0h1m-0.5 0h1m-0.5 0h1m-0.5 0h1m0.5 0h1m0 0h1m0 0h1m-0.5 0h1m-0.5 0h1m-0.5 0h1m-0.5 0h1m-0.5 0h1m-0.5 0h1m-0.5 0h1m0 0h1m-0.5 0h1m-0.5 0h1m0.5 0h1m-0.5 0h1m-0.5 0h1m-0.5 0h1m-0.5 0h1m0 0h1m-0.5 0h1m0.5 0h1m0 0h1m1 0h1m-0.5 0h1m2.5 0h1m1 0h1m0.5 0h1m-0.5 0h1m-0.5 0h1m3 0h1m-0.5 0h1m-0.5 0h1m1 0h1m-0.5 0h1m-0.5 0h1m0 0h1m-0.5 0h1m-0.5 0h1m-0.5 0h1m-0.5 0h1m-0.5 0h1m2 0h1m-0.5 0h1m0 0h1m-0.5 0h1m-0.5 0h1m1.5 0h1m0 0h1m0 0h1m-0.5 0h1m-0.5 0h1m0.5 0h1m-0.5 0h1m-0.5 0h1m-0.5 0h1m-0.5 0h1m1 0h1m0.5 0h1m-0.5 0h1m-0.5 0h1m1.5 0h1m1.5 0h1m0.5 0h1m1 0h1m-88.5 0.5h1m3.5 0h1m-0.5 0h1m-0.5 0h1m1 0h1m-0.5 0h1m0 0h1m-0.5 0h1m-0.5 0h1m-0.5 0h1m0.5 0h1m-0.5 0h1m0 0h1m-0.5 0h1m-0.5 0h1m-0.5 0h1m-0.5 0h1m0 0h1m-0.5 0h1m0.5 0h1m-0.5 0h1m-0.5 0h1m0 0h1m-0.5 0h1m0.5 0h1m-0.5 0h1m-0.5 0h1m-0.5 0h1m-0.5 0h1m-0.5 0h1m-0.5 0h1m-0.5 0h1m-0.5 0h1m0 0h1m-0.5 0h1m1 0h1m0 0h1m0 0h1m0.5 0h1m-0.5 0h1m0 0h1m-0.5 0h1m0.5 0h1m0 0h1m0.5 0h1m4 0h1m0 0h1m-0.5 0h1m0 0h1m1 0h1m-0.5 0h1m0.5 0h1m-0.5 0h1m-0.5 0h1m4.5 0h1m0.5 0h1m-0.5 0h1m-0.5 0h1m2 0h1m-0.5 0h1m-0.5 0h1m0 0h1m1 0h1m-0.5 0h1m0 0h1m-0.5 0h1m0 0h1m-0.5 0h1m-0.5 0h1m-0.5 0h1m0 0h1m-0.5 0h1m-0.5 0h1m-0.5 0h1m0 0h1m-0.5 0h1m0.5 0h1m0.5 0h1m0 0h1m1 0h1m0.5 0h1m2 0h1m0.5 0h1m1.5 0h1m-96 0.5h1m0.5 0h1m0.5 0h1m2 0h1m-0.5 0h1m0 0h1m-0.5 0h1m0.5 0h1m0 0h1m0.5 0h1m-0.5 0h1m-0.5 0h1m0 0h1m-0.5 0h1m-0.5 0h1m-0.5 0h1m-0.5 0h1m-0.5 0h1m0.5 0h1m-0.5 0h1m-0.5 0h1m0 0h1m-0.5 0h1m-0.5 0h1m-0.5 0h1m-0.5 0h1m0 0h1m-0.5 0h1m-0.5 0h1m-0.5 0h1m-0.5 0h1m-0.5 0h1m-0.5 0h1m0 0h1m-0.5 0h1m-0.5 0h1m-0.5 0h1m-0.5 0h1m0 0h1m-0.5 0h1m-0.5 0h1m0 0h1m-0.5 0h1m-0.5 0h1m0.5 0h1m-0.5 0h1m-0.5 0h1m-0.5 0h1m0.5 0h1m-0.5 0h1m-0.5 0h1m0 0h1m-0.5 0h1m0.5 0h1m-0.5 0h1m-0.5 0h1m0.5 0h1m-0.5 0h1m-0.5 0h1m2 0h1m0 0h1m3 0h1m2 0h1m1 0h1m1.5 0h1m2 0h1m-0.5 0h1m-0.5 0h1m2 0h1m-0.5 0h1m-0.5 0h1m0.5 0h1m-0.5 0h1m-0.5 0h1m-0.5 0h1m-0.5 0h1m-0.5 0h1m0 0h1m-0.5 0h1m-0.5 0h1m1 0h1m-0.5 0h1m0.5 0h1m0 0h1m0 0h1m-0.5 0h1m-0.5 0h1m0 0h1m0 0h1m2.5 0h1m0 0h1m-0.5 0h1m-86 0.5h1m1.5 0h1m-0.5 0h1m0.5 0h1m-0.5 0h1m-0.5 0h1m-0.5 0h1m0 0h1m-0.5 0h1m-0.5 0h1m-0.5 0h1m-0.5 0h1m-0.5 0h1m-0.5 0h1m-0.5 0h1m-0.5 0h1m-0.5 0h1m-0.5 0h1m-0.5 0h1m-0.5 0h1m-0.5 0h1m-0.5 0h1m-0.5 0h1m-0.5 0h1m-0.5 0h1m-0.5 0h1m-0.5 0h1m-0.5 0h1m-0.5 0h1m-0.5 0h1m-0.5 0h1m-0.5 0h1m-0.5 0h1m-0.5 0h1m0 0h1m-0.5 0h1m-0.5 0h1m-0.5 0h1m-0.5 0h1m-0.5 0h1m-0.5 0h1m-0.5 0h1m-0.5 0h1m0 0h1m0.5 0h1m-0.5 0h1m0 0h1m-0.5 0h1m-0.5 0h1m0.5 0h1m1 0h1m-0.5 0h1m-0.5 0h1m4.5 0h1m0 0h1m0.5 0h1m0 0h1m1 0h1m0 0h1m1.5 0h1m-0.5 0h1m2 0h1m0 0h1m-0.5 0h1m-0.5 0h1m1 0h1m0 0h1m0.5 0h1m0 0h1m0.5 0h1m-0.5 0h1m-0.5 0h1m0 0h1m1.5 0h1m1 0h1m0 0h1m0 0h1m1 0h1m1 0h1m-0.5 0h1m-0.5 0h1m0 0h1m-0.5 0h1m-0.5 0h1m-0.5 0h1m-0.5 0h1m-0.5 0h1m0 0h1m0.5 0h1m4 0h1m1 0h1m3 0h1m1.5 0h1m-99.5 0.5h1m0.5 0h1m1 0h1m2.5 0h1m-0.5 0h1m-0.5 0h1m-0.5 0h1m1 0h1m-0.5 0h1m0.5 0h1m0 0h1m-0.5 0h1m-0.5 0h1m-0.5 0h1m0.5 0h1m0 0h1m0 0h1m0 0h1m-0.5 0h1m-0.5 0h1m-0.5 0h1m-0.5 0h1m-0.5 0h1m-0.5 0h1m-0.5 0h1m-0.5 0h1m-0.5 0h1m-0.5 0h1m0 0h1m-0.5 0h1m-0.5 0h1m-0.5 0h1m-0.5 0h1m0 0h1m-0.5 0h1m0 0h1m0.5 0h1m0 0h1m-0.5 0h1m-0.5 0h1m-0.5 0h1m1 0h1m-0.5 0h1m-0.5 0h1m1 0h1m0.5 0h1m1 0h1m1 0h1m-0.5 0h1m0.5 0h1m-0.5 0h1m0.5 0h1m1 0h1m0 0h1m-0.5 0h1m3 0h1m1.5 0h1m0 0h1m-0.5 0h1m-0.5 0h1m0.5 0h1m0 0h1m1 0h1m0 0h1m-0.5 0h1m-0.5 0h1m0 0h1m0.5 0h1m-0.5 0h1m0 0h1m0.5 0h1m0 0h1m1 0h1m-0.5 0h1m-0.5 0h1m0 0h1m0 0h1m0 0h1m0 0h1m-0.5 0h1m0.5 0h1m-0.5 0h1m-0.5 0h1m-0.5 0h1m-0.5 0h1m-0.5 0h1m-92 0.5h1m3 0h1m4 0h1m2 0h1m0 0h1m-0.5 0h1m1.5 0h1m-0.5 0h1m-0.5 0h1m-0.5 0h1m1 0h1m-0.5 0h1m-0.5 0h1m0.5 0h1m-0.5 0h1m-0.5 0h1m-0.5 0h1m-0.5 0h1m-0.5 0h1m-0.5 0h1m-0.5 0h1m0 0h1m-0.5 0h1m-0.5 0h1m-0.5 0h1m-0.5 0h1m-0.5 0h1m-0.5 0h1m-0.5 0h1m0.5 0h1m-0.5 0h1m-0.5 0h1m-0.5 0h1m-0.5 0h1m-0.5 0h1m0.5 0h1m-0.5 0h1m-0.5 0h1m0.5 0h1m0 0h1m1 0h1m-0.5 0h1m-0.5 0h1m0.5 0h1m-0.5 0h1m0 0h1m2.5 0h1m-0.5 0h1m2 0h1m0 0h1m-0.5 0h1m1 0h1m-0.5 0h1m1.5 0h1m0 0h1m0 0h1m1 0h1m1 0h1m3 0h1m-0.5 0h1m0 0h1m-0.5 0h1m-0.5 0h1m-0.5 0h1m0.5 0h1m-0.5 0h1m-0.5 0h1m-0.5 0h1m0 0h1m-0.5 0h1m-0.5 0h1m0 0h1m-0.5 0h1m1.5 0h1m-0.5 0h1m0.5 0h1m-0.5 0h1m-0.5 0h1m1.5 0h1m-0.5 0h1m-0.5 0h1m0 0h1m-0.5 0h1m0.5 0h1m0 0h1m-0.5 0h1m-0.5 0h1m1.5 0h1m-87 0.5h1m1 0h1m1 0h1m-0.5 0h1m1.5 0h1m-0.5 0h1m0.5 0h1m0 0h1m0 0h1m0.5 0h1m0.5 0h1m2 0h1m-0.5 0h1m-0.5 0h1m-0.5 0h1m0 0h1m-0.5 0h1m-0.5 0h1m0 0h1m-0.5 0h1m-0.5 0h1m0 0h1m-0.5 0h1m1 0h1m-0.5 0h1m-0.5 0h1m-0.5 0h1m-0.5 0h1m0.5 0h1m-0.5 0h1m0 0h1m0.5 0h1m-0.5 0h1m1 0h1m-0.5 0h1m0.5 0h1m1 0h1m-0.5 0h1m0.5 0h1m-0.5 0h1m-0.5 0h1m0 0h1m4 0h1m0.5 0h1m-0.5 0h1m-0.5 0h1m-0.5 0h1m6 0h1m-0.5 0h1m1 0h1m-0.5 0h1m2 0h1m-0.5 0h1m-0.5 0h1m0 0h1m-0.5 0h1m0 0h1m0.5 0h1m0 0h1m-0.5 0h1m-0.5 0h1m-0.5 0h1m-0.5 0h1m-0.5 0h1m-0.5 0h1m-0.5 0h1m1 0h1m0.5 0h1m1 0h1m1 0h1m0 0h1m-0.5 0h1m6 0h1m-96.5 0.5h1m2.5 0h1m0 0h1m4.5 0h1m0 0h1m-0.5 0h1m0.5 0h1m0.5 0h1m-0.5 0h1m0 0h1m-0.5 0h1m-0.5 0h1m0 0h1m-0.5 0h1m0 0h1m0 0h1m-0.5 0h1m-0.5 0h1m0.5 0h1m-0.5 0h1m-0.5 0h1m-0.5 0h1m-0.5 0h1m0 0h1m0 0h1m-0.5 0h1m0 0h1m0 0h1m-0.5 0h1m-0.5 0h1m-0.5 0h1m-0.5 0h1m-0.5 0h1m-0.5 0h1m0 0h1m0 0h1m-0.5 0h1m0 0h1m-0.5 0h1m-0.5 0h1m-0.5 0h1m-0.5 0h1m0.5 0h1m1 0h1m1 0h1m0.5 0h1m-0.5 0h1m-0.5 0h1m0 0h1m0 0h1m1.5 0h1m0.5 0h1m2.5 0h1m0 0h1m-0.5 0h1m0 0h1m0.5 0h1m-0.5 0h1m-0.5 0h1m1.5 0h1m1 0h1m-0.5 0h1m1 0h1m-0.5 0h1m-0.5 0h1m0.5 0h1m-0.5 0h1m0 0h1m-0.5 0h1m-0.5 0h1m-0.5 0h1m-0.5 0h1m-0.5 0h1m0 0h1m-0.5 0h1m-0.5 0h1m-0.5 0h1m0 0h1m0 0h1m0.5 0h1m-0.5 0h1m2.5 0h1m0 0h1m-0.5 0h1m-0.5 0h1m-0.5 0h1m-0.5 0h1m2.5 0h1m0 0h1m0 0h1m0.5 0h1m2.5 0h1m-99.5 0.5h1m5.5 0h1m-0.5 0h1m5.5 0h1m0 0h1m-0.5 0h1m-0.5 0h1m-0.5 0h1m0 0h1m-0.5 0h1m-0.5 0h1m0 0h1m-0.5 0h1m-0.5 0h1m-0.5 0h1m-0.5 0h1m0.5 0h1m-0.5 0h1m-0.5 0h1m-0.5 0h1m-0.5 0h1m-0.5 0h1m0 0h1m-0.5 0h1m-0.5 0h1m-0.5 0h1m-0.5 0h1m-0.5 0h1m-0.5 0h1m-0.5 0h1m0.5 0h1m0 0h1m0 0h1m0 0h1m0 0h1m0 0h1m-0.5 0h1m0 0h1m-0.5 0h1m-0.5 0h1m0 0h1m0 0h1m-0.5 0h1m0.5 0h1m-0.5 0h1m0.5 0h1m-0.5 0h1m3.5 0h1m-0.5 0h1m0 0h1m0.5 0h1m-0.5 0h1m-0.5 0h1m4.5 0h1m3 0h1m2 0h1m0.5 0h1m-0.5 0h1m-0.5 0h1m1 0h1m0 0h1m0.5 0h1m-0.5 0h1m-0.5 0h1m-0.5 0h1m0 0h1m0 0h1m0.5 0h1m-0.5 0h1m-0.5 0h1m0 0h1m-0.5 0h1m1.5 0h1m0.5 0h1m-0.5 0h1m0 0h1m0.5 0h1m1 0h1m-0.5 0h1m2 0h1m2.5 0h1m0 0h1m4.5 0h1m-98.5 0.5h1m0 0h1m0 0h1m-0.5 0h1m4 0h1m1 0h1m-0.5 0h1m1.5 0h1m-0.5 0h1m-0.5 0h1m-0.5 0h1m0.5 0h1m1 0h1m0 0h1m-0.5 0h1m-0.5 0h1m0 0h1m-0.5 0h1m-0.5 0h1m0 0h1m-0.5 0h1m-0.5 0h1m-0.5 0h1m-0.5 0h1m-0.5 0h1m-0.5 0h1m0 0h1m-0.5 0h1m-0.5 0h1m-0.5 0h1m-0.5 0h1m-0.5 0h1m-0.5 0h1m-0.5 0h1m-0.5 0h1m-0.5 0h1m4 0h1m-0.5 0h1m-0.5 0h1m-0.5 0h1m-0.5 0h1m0 0h1m0 0h1m-0.5 0h1m5 0h1m5.5 0h1m2 0h1m-0.5 0h1m-0.5 0h1m0 0h1m-0.5 0h1m0 0h1m-0.5 0h1m0 0h1m0 0h1m-0.5 0h1m-0.5 0h1m1.5 0h1m-0.5 0h1m-0.5 0h1m-0.5 0h1m-0.5 0h1m-0.5 0h1m0 0h1m0 0h1m1.5 0h1m0 0h1m0 0h1m-0.5 0h1m0 0h1m0 0h1m-0.5 0h1m2 0h1m0.5 0h1m0.5 0h1m-0.5 0h1m-0.5 0h1m1 0h1m-0.5 0h1m1.5 0h1m0 0h1m-96 0.5h1m4 0h1m0 0h1m0.5 0h1m-0.5 0h1m0.5 0h1m2.5 0h1m0.5 0h1m0.5 0h1m0 0h1m0.5 0h1m0 0h1m-0.5 0h1m-0.5 0h1m0 0h1m-0.5 0h1m-0.5 0h1m-0.5 0h1m-0.5 0h1m0 0h1m-0.5 0h1m-0.5 0h1m-0.5 0h1m-0.5 0h1m0 0h1m-0.5 0h1m0 0h1m-0.5 0h1m-0.5 0h1m0 0h1m-0.5 0h1m-0.5 0h1m0 0h1m0.5 0h1m-0.5 0h1m1 0h1m-0.5 0h1m-0.5 0h1m0.5 0h1m-0.5 0h1m0 0h1m-0.5 0h1m0 0h1m1 0h1m0 0h1m-0.5 0h1m-0.5 0h1m0.5 0h1m2.5 0h1m0 0h1m-0.5 0h1m-0.5 0h1m0 0h1m4 0h1m1.5 0h1m0.5 0h1m-0.5 0h1m-0.5 0h1m2 0h1m1.5 0h1m3 0h1m-0.5 0h1m-0.5 0h1m0 0h1m-0.5 0h1m0.5 0h1m-0.5 0h1m0 0h1m-0.5 0h1m0 0h1m0.5 0h1m-0.5 0h1m-0.5 0h1m1 0h1m0.5 0h1m0.5 0h1m2 0h1m0 0h1m-0.5 0h1m2 0h1m-92.5 0.5h1m0 0h1m0 0h1m2 0h1m0.5 0h1m-0.5 0h1m1 0h1m0 0h1m-0.5 0h1m0 0h1m-0.5 0h1m0 0h1m-0.5 0h1m-0.5 0h1m1.5 0h1m-0.5 0h1m-0.5 0h1m-0.5 0h1m0 0h1m-0.5 0h1m0 0h1m-0.5 0h1m-0.5 0h1m0 0h1m-0.5 0h1m-0.5 0h1m-0.5 0h1m1.5 0h1m0.5 0h1m0 0h1m0 0h1m-0.5 0h1m-0.5 0h1m-0.5 0h1m0.5 0h1m0.5 0h1m-0.5 0h1m-0.5 0h1m0.5 0h1m0 0h1m-0.5 0h1m0 0h1m-0.5 0h1m3 0h1m-0.5 0h1m2 0h1m1.5 0h1m0.5 0h1m2.5 0h1m0 0h1m0.5 0h1m0.5 0h1m-0.5 0h1m-0.5 0h1m3.5 0h1m-0.5 0h1m0.5 0h1m0 0h1m0 0h1m0.5 0h1m1 0h1m-0.5 0h1m1.5 0h1m-0.5 0h1m1 0h1m0.5 0h1m2.5 0h1m1.5 0h1m0.5 0h1m-90 0.5h1m1.5 0h1m0.5 0h1m4 0h1m-0.5 0h1m1 0h1m1.5 0h1m0 0h1m0 0h1m0 0h1m-0.5 0h1m0 0h1m0.5 0h1m-0.5 0h1m0 0h1m-0.5 0h1m0 0h1m0 0h1m-0.5 0h1m0 0h1m-0.5 0h1m-0.5 0h1m-0.5 0h1m-0.5 0h1m-0.5 0h1m-0.5 0h1m-0.5 0h1m1 0h1m-0.5 0h1m-0.5 0h1m-0.5 0h1m-0.5 0h1m0 0h1m0 0h1m-0.5 0h1m-0.5 0h1m-0.5 0h1m0.5 0h1m0 0h1m0.5 0h1m0.5 0h1m0.5 0h1m2 0h1m-0.5 0h1m-0.5 0h1m1.5 0h1m1.5 0h1m-0.5 0h1m0.5 0h1m0 0h1m0 0h1m2 0h1m-0.5 0h1m2 0h1m0 0h1m3 0h1m0 0h1m0 0h1m-0.5 0h1m1 0h1m0 0h1m0 0h1m-0.5 0h1m2 0h1m0 0h1m1 0h1m1.5 0h1m-0.5 0h1m0 0h1m3 0h1m1 0h1m1 0h1m-90 0.5h1m2 0h1m-0.5 0h1m-0.5 0h1m0.5 0h1m-0.5 0h1m0.5 0h1m-0.5 0h1m-0.5 0h1m-0.5 0h1m-0.5 0h1m0 0h1m2 0h1m-0.5 0h1m-0.5 0h1m1 0h1m-0.5 0h1m1.5 0h1m-0.5 0h1m1 0h1m-0.5 0h1m-0.5 0h1m0 0h1m-0.5 0h1m-0.5 0h1m-0.5 0h1m0 0h1m-0.5 0h1m-0.5 0h1m-0.5 0h1m0 0h1m-0.5 0h1m0 0h1m0.5 0h1m-0.5 0h1m2 0h1m0.5 0h1m0.5 0h1m3 0h1m0 0h1m0.5 0h1m1.5 0h1m0 0h1m2 0h1m3 0h1m-0.5 0h1m0.5 0h1m0 0h1m-0.5 0h1m-0.5 0h1m0 0h1m0.5 0h1m3 0h1m-0.5 0h1m-0.5 0h1m0 0h1m4 0h1m5 0h1m1 0h1m-0.5 0h1m4 0h1m-89 0.5h1m2.5 0h1m0 0h1m-0.5 0h1m0.5 0h1m0.5 0h1m-0.5 0h1m-0.5 0h1m1 0h1m0.5 0h1m0 0h1m0.5 0h1m0 0h1m-0.5 0h1m0.5 0h1m-0.5 0h1m-0.5 0h1m0 0h1m-0.5 0h1m-0.5 0h1m-0.5 0h1m0.5 0h1m-0.5 0h1m-0.5 0h1m-0.5 0h1m-0.5 0h1m-0.5 0h1m0.5 0h1m-0.5 0h1m-0.5 0h1m1.5 0h1m-0.5 0h1m0.5 0h1m1 0h1m0.5 0h1m-0.5 0h1m1.5 0h1m2 0h1m2 0h1m0.5 0h1m3 0h1m-0.5 0h1m0 0h1m-0.5 0h1m-0.5 0h1m-0.5 0h1m-0.5 0h1m-0.5 0h1m0.5 0h1m0 0h1m-0.5 0h1m0 0h1m-0.5 0h1m-0.5 0h1m0 0h1m0 0h1m0 0h1m1 0h1m1.5 0h1m0.5 0h1m0 0h1m0 0h1m-0.5 0h1m1 0h1m0 0h1m-0.5 0h1m-0.5 0h1m-0.5 0h1m-0.5 0h1m-0.5 0h1m0 0h1m1 0h1m1 0h1m2.5 0h1m0.5 0h1m1 0h1m-90.5 0.5h1m0.5 0h1m-0.5 0h1m0.5 0h1m-0.5 0h1m2 0h1m-0.5 0h1m-0.5 0h1m0 0h1m-0.5 0h1m0 0h1m-0.5 0h1m1 0h1m-0.5 0h1m0 0h1m1 0h1m0.5 0h1m-0.5 0h1m0 0h1m0 0h1m0.5 0h1m-0.5 0h1m-0.5 0h1m-0.5 0h1m-0.5 0h1m-0.5 0h1m0 0h1m-0.5 0h1m-0.5 0h1m0 0h1m-0.5 0h1m1 0h1m-0.5 0h1m1 0h1m0 0h1m-0.5 0h1m0 0h1m-0.5 0h1m0.5 0h1m0 0h1m1 0h1m-0.5 0h1m1.5 0h1m0 0h1m6 0h1m-0.5 0h1m1 0h1m2.5 0h1m-0.5 0h1m-0.5 0h1m0.5 0h1m1.5 0h1m-0.5 0h1m-0.5 0h1m0.5 0h1m-0.5 0h1m-0.5 0h1m-0.5 0h1m0 0h1m0 0h1m0.5 0h1m-0.5 0h1m-0.5 0h1m-0.5 0h1m3 0h1m-0.5 0h1m-0.5 0h1m-0.5 0h1m-0.5 0h1m0.5 0h1m0.5 0h1m0.5 0h1m-0.5 0h1m6 0h1m-92.5 0.5h1m-0.5 0h1m1 0h1m0 0h1m0.5 0h1m2 0h1m0 0h1m0.5 0h1m0 0h1m-0.5 0h1m-0.5 0h1m0 0h1m0.5 0h1m-0.5 0h1m-0.5 0h1m0 0h1m-0.5 0h1m-0.5 0h1m-0.5 0h1m-0.5 0h1m-0.5 0h1m1 0h1m-0.5 0h1m-0.5 0h1m-0.5 0h1m1 0h1m0 0h1m-0.5 0h1m0.5 0h1m-0.5 0h1m-0.5 0h1m-0.5 0h1m-0.5 0h1m-0.5 0h1m-0.5 0h1m0 0h1m0 0h1m-0.5 0h1m0 0h1m-0.5 0h1m-0.5 0h1m0 0h1m0 0h1m0.5 0h1m1 0h1m1 0h1m2 0h1m3.5 0h1m0.5 0h1m-0.5 0h1m0 0h1m1 0h1m1 0h1m2.5 0h1m0 0h1m0.5 0h1m-0.5 0h1m-0.5 0h1m0.5 0h1m0 0h1m1 0h1m0 0h1m1.5 0h1m0 0h1m0.5 0h1m-0.5 0h1m1 0h1m2 0h1m-0.5 0h1m-0.5 0h1m0.5 0h1m0.5 0h1m0 0h1m1 0h1m6 0h1m-96.5 0.5h1m4 0h1m0 0h1m0.5 0h1m2.5 0h1m-0.5 0h1m-0.5 0h1m2.5 0h1m1.5 0h1m0 0h1m-0.5 0h1m-0.5 0h1m-0.5 0h1m-0.5 0h1m-0.5 0h1m-0.5 0h1m0 0h1m1 0h1m0 0h1m-0.5 0h1m1 0h1m0 0h1m0 0h1m-0.5 0h1m-0.5 0h1m-0.5 0h1m0 0h1m0 0h1m-0.5 0h1m0 0h1m-0.5 0h1m0 0h1m6.5 0h1m6 0h1m5 0h1m0 0h1m1.5 0h1m0.5 0h1m2.5 0h1m5 0h1m-0.5 0h1m0 0h1m0 0h1m4 0h1m6.5 0h1m1.5 0h1m2 0h1m-96.5 0.5h1m4 0h1m6.5 0h1m-0.5 0h1m0.5 0h1m-0.5 0h1m1.5 0h1m-0.5 0h1m0 0h1m-0.5 0h1m1 0h1m1.5 0h1m0 0h1m-0.5 0h1m-0.5 0h1m-0.5 0h1m0 0h1m0 0h1m-0.5 0h1m-0.5 0h1m0.5 0h1m0 0h1m0.5 0h1m-0.5 0h1m-0.5 0h1m0.5 0h1m-0.5 0h1m2.5 0h1m-0.5 0h1m0.5 0h1m-0.5 0h1m-0.5 0h1m-0.5 0h1m-0.5 0h1m0.5 0h1m0.5 0h1m0.5 0h1m5 0h1m-0.5 0h1m-0.5 0h1m7 0h1m2 0h1m1.5 0h1m0.5 0h1m0 0h1m1 0h1m-0.5 0h1m-0.5 0h1m0 0h1m-0.5 0h1m-0.5 0h1m-0.5 0h1m0 0h1m0.5 0h1m0.5 0h1m1 0h1m1 0h1m0 0h1m-0.5 0h1m2.5 0h1m0.5 0h1m2 0h1m6.5 0h1m-98.5 0.5h1m-0.5 0h1m3 0h1m2.5 0h1m-0.5 0h1m6 0h1m-0.5 0h1m-0.5 0h1m-0.5 0h1m-0.5 0h1m-0.5 0h1m1 0h1m-0.5 0h1m-0.5 0h1m-0.5 0h1m-0.5 0h1m-0.5 0h1m-0.5 0h1m0 0h1m-0.5 0h1m-0.5 0h1m-0.5 0h1m0 0h1m0 0h1m-0.5 0h1m0 0h1m-0.5 0h1m0.5 0h1m0.5 0h1m0 0h1m-0.5 0h1m0 0h1m0.5 0h1m0 0h1m2 0h1m2.5 0h1m0.5 0h1m11 0h1m2 0h1m-0.5 0h1m0.5 0h1m0 0h1m1.5 0h1m1 0h1m0.5 0h1m2 0h1m-0.5 0h1m0.5 0h1m0.5 0h1m-0.5 0h1m0.5 0h1m0.5 0h1m0 0h1m1 0h1m-0.5 0h1m-86 0.5h1m0.5 0h1m-0.5 0h1m0 0h1m0 0h1m-0.5 0h1m0 0h1m1.5 0h1m0 0h1m-0.5 0h1m0 0h1m0.5 0h1m-0.5 0h1m-0.5 0h1m-0.5 0h1m-0.5 0h1m2.5 0h1m-0.5 0h1m-0.5 0h1m-0.5 0h1m0 0h1m1 0h1m-0.5 0h1m-0.5 0h1m0.5 0h1m0.5 0h1m-0.5 0h1m-0.5 0h1m-0.5 0h1m-0.5 0h1m-0.5 0h1m-0.5 0h1m0.5 0h1m1 0h1m-0.5 0h1m0.5 0h1m-0.5 0h1m-0.5 0h1m0 0h1m0.5 0h1m1 0h1m-0.5 0h1m0.5 0h1m5 0h1m0 0h1m1 0h1m0.5 0h1m3 0h1m1 0h1m2.5 0h1m0.5 0h1m-0.5 0h1m0 0h1m2 0h1m0.5 0h1m0 0h1m-0.5 0h1m5.5 0h1m1 0h1m0 0h1m2.5 0h1m0 0h1m-82.5 0.5h1m2 0h1m-0.5 0h1m0 0h1m2.5 0h1m0.5 0h1m4.5 0h1m-0.5 0h1m-0.5 0h1m-0.5 0h1m0 0h1m0 0h1m-0.5 0h1m-0.5 0h1m0 0h1m-0.5 0h1m1 0h1m0.5 0h1m-0.5 0h1m-0.5 0h1m-0.5 0h1m0 0h1m-0.5 0h1m-0.5 0h1m4.5 0h1m1 0h1m2 0h1m1 0h1m0 0h1m1 0h1m10 0h1m1 0h1m1 0h1m-0.5 0h1m2.5 0h1m-0.5 0h1m0.5 0h1m2 0h1m0 0h1m0 0h1m-0.5 0h1m-0.5 0h1m-0.5 0h1m2.5 0h1m0 0h1m0 0h1m0.5 0h1m0.5 0h1m1.5 0h1m2.5 0h1m2 0h1m-89.5 0.5h1m1 0h1m3.5 0h1m0 0h1m0.5 0h1m1 0h1m-0.5 0h1m-0.5 0h1m1 0h1m0.5 0h1m0 0h1m0 0h1m0 0h1m0 0h1m0.5 0h1m0 0h1m0 0h1m-0.5 0h1m0.5 0h1m0 0h1m-0.5 0h1m-0.5 0h1m1.5 0h1m0 0h1m0 0h1m0 0h1m-0.5 0h1m0 0h1m3.5 0h1m-0.5 0h1m1.5 0h1m2 0h1m4 0h1m4.5 0h1m0.5 0h1m3.5 0h1m-0.5 0h1m-0.5 0h1m3 0h1m0.5 0h1m0 0h1m0.5 0h1m-0.5 0h1m0 0h1m0.5 0h1m0 0h1m-0.5 0h1m1.5 0h1m-0.5 0h1m-0.5 0h1m0.5 0h1m-0.5 0h1m7 0h1m-90.5 0.5h1m1 0h1m3.5 0h1m5.5 0h1m0.5 0h1m2 0h1m-0.5 0h1m-0.5 0h1m2 0h1m1 0h1m-0.5 0h1m1.5 0h1m5.5 0h1m-0.5 0h1m1 0h1m-0.5 0h1m2.5 0h1m-0.5 0h1m0 0h1m1.5 0h1m5 0h1m1 0h1m-0.5 0h1m8.5 0h1m1 0h1m0 0h1m0 0h1m3.5 0h1m0 0h1m0.5 0h1m1 0h1m-0.5 0h1m-0.5 0h1m1 0h1m4.5 0h1m0.5 0h1m1.5 0h1m7.5 0h1m-98 0.5h1m1.5 0h1m3 0h1m-0.5 0h1m3 0h1m1.5 0h1m4 0h1m-0.5 0h1m-0.5 0h1m-0.5 0h1m-0.5 0h1m-0.5 0h1m1.5 0h1m0 0h1m2 0h1m-0.5 0h1m-0.5 0h1m-0.5 0h1m2 0h1m-0.5 0h1m1.5 0h1m0.5 0h1m1.5 0h1m5 0h1m5 0h1m7 0h1m-0.5 0h1m1 0h1m0.5 0h1m0 0h1m0.5 0h1m0 0h1m1.5 0h1m0 0h1m2 0h1m-0.5 0h1m1 0h1m-0.5 0h1m-0.5 0h1m0.5 0h1m5 0h1m-0.5 0h1m0.5 0h1m-0.5 0h1m0.5 0h1m1.5 0h1m-89.5 0.5h1m3.5 0h1m4 0h1m0 0h1m0 0h1m-0.5 0h1m0 0h1m0 0h1m-0.5 0h1m-0.5 0h1m-0.5 0h1m0 0h1m0 0h1m-0.5 0h1m1 0h1m-0.5 0h1m-0.5 0h1m-0.5 0h1m0 0h1m4.5 0h1m3 0h1m-0.5 0h1m8 0h1m1.5 0h1m2.5 0h1m7 0h1m4.5 0h1m2 0h1m1.5 0h1m7 0h1m0.5 0h1m8 0h1m1 0h1m3.5 0h1m-95.5 0.5h1m1.5 0h1m0 0h1m3.5 0h1m0 0h1m3 0h1m1 0h1m0.5 0h1m0 0h1m2 0h1m1 0h1m4.5 0h1m0 0h1m3.5 0h1m1.5 0h1m-0.5 0h1m1 0h1m3 0h1m5 0h1m16 0h1m0 0h1m0 0h1m4 0h1m0.5 0h1m1.5 0h1m-0.5 0h1m5.5 0h1m6 0h1m-87 0.5h1m1 0h1m0.5 0h1m3 0h1m1.5 0h1m0 0h1m0 0h1m1 0h1m1.5 0h1m-0.5 0h1m0.5 0h1m1.5 0h1m0 0h1m0 0h1m-0.5 0h1m0 0h1m2.5 0h1m0.5 0h1m-0.5 0h1m0 0h1m1.5 0h1m11 0h1m-0.5 0h1m1 0h1m5 0h1m4 0h1m-0.5 0h1m-0.5 0h1m0 0h1m-0.5 0h1m0.5 0h1m0.5 0h1m2 0h1m-0.5 0h1m5 0h1m0 0h1m2.5 0h1m4 0h1m4.5 0h1m-95.5 0.5h1m15 0h1m3.5 0h1m3 0h1m0.5 0h1m-0.5 0h1m1.5 0h1m-0.5 0h1m0 0h1m-0.5 0h1m7 0h1m-0.5 0h1m4 0h1m-0.5 0h1m9.5 0h1m2.5 0h1m2 0h1m2.5 0h1m-0.5 0h1m0 0h1m1 0h1m4.5 0h1m0 0h1m5 0h1m4 0h1m-91 0.5h1m3.5 0h1m4 0h1m1 0h1m1.5 0h1m-0.5 0h1m1 0h1m1 0h1m-0.5 0h1m0 0h1m2.5 0h1m1 0h1m0.5 0h1m1 0h1m1 0h1m-0.5 0h1m4 0h1m1 0h1m7 0h1m13.5 0h1m-0.5 0h1m4.5 0h1m-0.5 0h1m1.5 0h1m0.5 0h1m3 0h1m2.5 0h1m0 0h1m0.5 0h1m-0.5 0h1m0.5 0h1m14 0h1m-94 0.5h1m0.5 0h1m-0.5 0h1m-0.5 0h1m4 0h1m1.5 0h1m-0.5 0h1m2.5 0h1m1 0h1m-0.5 0h1m1 0h1m-0.5 0h1m0 0h1m2 0h1m0.5 0h1m0.5 0h1m0 0h1m0.5 0h1m-0.5 0h1m0.5 0h1m0 0h1m-0.5 0h1m4.5 0h1m2.5 0h1m6.5 0h1m2 0h1m3.5 0h1m1.5 0h1m1 0h1m-0.5 0h1m1.5 0h1m0 0h1m0.5 0h1m-0.5 0h1m6.5 0h1m1 0h1m3.5 0h1m0.5 0h1m-0.5 0h1m0.5 0h1m-91.5 0.5h1m4.5 0h1m1.5 0h1m1.5 0h1m-0.5 0h1m0 0h1m2 0h1m1 0h1m-0.5 0h1m-0.5 0h1m1.5 0h1m0 0h1m-0.5 0h1m0.5 0h1m5.5 0h1m3.5 0h1m1 0h1m-0.5 0h1m2.5 0h1m6.5 0h1m3.5 0h1m0 0h1m7.5 0h1m0 0h1m2 0h1m1.5 0h1m0 0h1m1.5 0h1m-0.5 0h1m4 0h1m-0.5 0h1m2 0h1m0 0h1m-80.5 0.5h1m13 0h1m1 0h1m3 0h1m2 0h1m0.5 0h1m0.5 0h1m-0.5 0h1m0.5 0h1m1 0h1m1 0h1m0 0h1m0 0h1m0.5 0h1m0 0h1m0.5 0h1m9 0h1m12 0h1m0 0h1m1.5 0h1m8.5 0h1m9.5 0h1m5 0h1m-89 0.5h1m3.5 0h1m0.5 0h1m1.5 0h1m2.5 0h1m1 0h1m0.5 0h1m-0.5 0h1m4.5 0h1m1 0h1m2.5 0h1m1 0h1m0 0h1m0.5 0h1m1 0h1m1 0h1m18 0h1m15.5 0h1m1.5 0h1m0.5 0h1m0.5 0h1m2 0h1m2 0h1m9.5 0h1m-104 0.5h1m7 0h1m4 0h1m1 0h1m2.5 0h1m0 0h1m1 0h1m3 0h1m1 0h1m1 0h1m3.5 0h1m2 0h1m2.5 0h1m2.5 0h1m9.5 0h1m12 0h1m8 0h1m-0.5 0h1m1 0h1m1.5 0h1m-0.5 0h1m2 0h1m1 0h1m0 0h1m-84 0.5h1m3 0h1m3.5 0h1m0.5 0h1m3.5 0h1m1 0h1m0 0h1m1 0h1m9.5 0h1m2.5 0h1m0 0h1m3.5 0h1m0 0h1m22.5 0h1m0 0h1m4 0h1m13.5 0h1m-0.5 0h1m-88 0.5h1m7 0h1m0.5 0h1m1.5 0h1m5.5 0h1m2 0h1m1.5 0h1m6.5 0h1m3.5 0h1m-0.5 0h1m6.5 0h1m0 0h1m15.5 0h1m2.5 0h1m8 0h1m4 0h1m-0.5 0h1m2 0h1m-0.5 0h1m1 0h1m-0.5 0h1m4 0h1m2 0h1m-0.5 0h1m-94.5 0.5h1m3.5 0h1m2 0h1m-0.5 0h1m5.5 0h1m13 0h1m4.5 0h1m2.5 0h1m30 0h1m10 0h1m-0.5 0h1m2.5 0h1m-0.5 0h1m1 0h1m-82 0.5h1m1.5 0h1m12 0h1m3 0h1m3 0h1m1 0h1m0 0h1m0 0h1m1 0h1m8 0h1m18 0h1m11 0h1m6.5 0h1m5.5 0h1m1.5 0h1m1 0h1m0.5 0h1m-96 0.5h1m3.5 0h1m1 0h1m6 0h1m3.5 0h1m4 0h1m1.5 0h1m2.5 0h1m2.5 0h1m2 0h1m2 0h1m30 0h1m-0.5 0h1m0.5 0h1m0.5 0h1m3 0h1m3 0h1m5.5 0h1m-0.5 0h1m5 0h1m-97.5 0.5h1m3 0h1m1.5 0h1m1.5 0h1m2 0h1m2.5 0h1m6.5 0h1m1.5 0h1m2.5 0h1m0 0h1m8 0h1m9.5 0h1m25 0h1m1 0h1m3.5 0h1m16.5 0h1m-98 0.5h1m0.5 0h1m10.5 0h1m6 0h1m4 0h1m2 0h1m2.5 0h1m0 0h1m8.5 0h1m2.5 0h1m32 0h1m1.5 0h1m8 0h1m-91 0.5h1m11.5 0h1m11.5 0h1m10.5 0h1m2.5 0h1m34.5 0h1m0 0h1m4.5 0h1m-79.5 0.5h1m-0.5 0h1m3 0h1m15 0h1m0 0h1m8 0h1m2.5 0h1m28 0h1m4 0h1m0.5 0h1m-0.5 0h1m3.5 0h1m2 0h1m-72.5 0.5h1m12 0h1m15.5 0h1m28.5 0h1m1 0h1m5.5 0h1m4.5 0h1m0.5 0h1m9 0h1m-99 0.5h1m4.5 0h1m2 0h1m3 0h1m6.5 0h1m5.5 0h1m4 0h1m11.5 0h1m36.5 0h1m9.5 0h1m-93 0.5h1m6 0h1m2.5 0h1m9 0h1m7 0h1m2 0h1m10.5 0h1m1.5 0h1m32 0h1m3 0h1m-79 0.5h1m0 0h1m3 0h1m0.5 0h1m0 0h1m64 0h1m4 0h1m-75 0.5h1m4 0h1m1 0h1m11 0h1m3 0h1m0 0h1m2 0h1m2 0h1m4.5 0h1m31 0h1m-70 0.5h1m0.5 0h1m16.5 0h1m58.5 0h1m-81.5 0.5h1m0 0h1m8 0h1m11 0h1m10.5 0h1m42.5 0h1m-85.5 0.5h1m4 0h1m-0.5 0h1m0 0h1m6.5 0h1m21 0h1m6.5 0h1m-41 0.5h1m-3 0.5h1m3.5 0h1m3 0h1m0 0h1m66.5 0h1m-79.5 0.5h1m2.5 0h1m4 0h1m4.5 0h1m-14 0.5h1m-0.5 0h1m-0.5 0h1m-0.5 0h1m-10 0.5h1m4 0h1m0 0h1m0.5 0h1m1 0h1m-0.5 0h1m2.5 0h1m4.5 0h1m-19.5 0.5h1m3 0h1m0.5 0h1m0 0h1m0 0h1m0.5 0h1m0 0h1m2.5 0h1m1 0h1m-12.5 0.5h1m0 0h1m-0.5 0h1m-0.5 0h1m1 0h1m-0.5 0h1m0 0h1m0 0h1m0.5 0h1m-10.5 0.5h1m-0.5 0h1m0 0h1m0.5 0h1m1 0h1m1 0h1m1.5 0h1m1.5 0h1m-11.5 0.5h1m0.5 0h1m0 0h1m-0.5 0h1m-3 0.5h1m-0.5 0h1m1 0h1m-0.5 0h1m-5.5 0.5h1m0 0h1m0 0h1m1.5 0h1m-0.5 0h1m-0.5 0h1m3 0h1m-10 0.5h1m15.5 0h1m-20 0.5h1m2 0h1m6 0.5h1" stroke="#e02a1c" stroke-width="1.0" fill="none" opacity="0.85"/>
<path d="M407 200.5h1m-8.5 1h1m37 4.5h1m21.5 0h1m-91 0.5h1m52.5 0h1m-0.5 1.5h1m2 0.5h1m10 0h1m-37.5 0.5h1m-6.5 1h1m-9 0.5h1m-43 1h1m64.5 0.5h1m16 0h1m30 0h1m-102.5 1h1m44 0.5h1m-23.5 1.5h1m87.5 0h1m-44 0.5h1m3 0h1m21 0h1m-35.5 0.5h1m3.5 0h1m-4 0.5h1m-9 0.5h1m67.5 0.5h1m-82 0.5h1m21.5 0h1m10 0h1m26.5 0.5h1m19.5 0h1m-98.5 1h1m30 0h1m34 0h1m0.5 0h1m2.5 0h1m-54.5 0.5h1m48.5 0h1m-65 0.5h1m4.5 0h1m53.5 0h1m16 0h1m-84 0.5h1m11.5 0.5h1m17 0.5h1m-20.5 0.5h1m60 0h1m-89.5 0.5h1m63 0h1m24.5 0.5h1m-27.5 0.5h1m0 0h1m-53 0.5h1m8 0.5h1m45.5 0h1m22.5 0.5h1m-86.5 0.5h1m81.5 0.5h1m-100 0.5h1m23.5 0h1m-26 0.5h1m17 0h1m-32 0.5h1m87.5 0.5h1m7 0.5h1m19.5 0h1m4.5 0.5h1m13 0h1m-0.5 0h1m-130.5 0.5h1m11 0h1m12 0h1m83 0h1m-104.5 0.5h1m74 0h1m-77.5 0.5h1m85.5 0h1m18.5 0h1m-2.5 0.5h1m-11 0.5h1m-82 0.5h1m88.5 0h1m-107.5 0.5h1m11 0h1m91.5 0h1m-8 0.5h1m0.5 0h1m-88.5 1h1m94.5 0h1m3 0h1m-0.5 0h1m-128 1h1m116.5 0h1m-22.5 0.5h1m29 0h1m-120 0.5h1m22 0h1m1.5 0h1m0 0h1m80 0h1m3.5 1h1m1 0h1m-101 0.5h1m81.5 0.5h1m-86 0.5h1m75 0h1m-63.5 0.5h1m89.5 0h1m-99.5 0.5h1m110 0h1m-108.5 0.5h1m68 0.5h1m50 0h1m-126.5 0.5h1m6 0h1m75 0h1m14.5 0h1m-86.5 0.5h1m80.5 0h1m-22 1h1m5.5 0h1m43 0h1m-37.5 0.5h1m-81 0.5h1m66 0h1m15.5 0h1m-9 0.5h1m8 0h1m-1.5 0.5h1m32.5 0h1m-124 0.5h1m68 0.5h1m25.5 0h1m-88.5 0.5h1m57 0h1m-77 0.5h1m17.5 0h1m94 0.5h1m-96.5 0.5h1m54 0.5h1m12.5 0h1m8.5 0h1m-129.5 0.5h1m47.5 0h1m0 0h1m8 0h1m41.5 0h1m53.5 0.5h1m-114.5 0.5h1m110 0h1m-106.5 0.5h1m61.5 0h1m6.5 0h1m-102 0.5h1m42 0h1m0 0h1m79.5 0h1m-34.5 1.5h1m18 0h1m-89.5 0.5h1m25 0h1m19.5 0h1m-49 0.5h1m60.5 0h1m-46 0.5h1m17.5 0h1m48 0h1m-99.5 0.5h1m20 1h1m42 0h1m-55 1h1m92.5 1h1m26 0h1m-67 0.5h1m33 0h1m-85 0.5h1m14.5 0h1m14 0.5h1m45.5 0.5h1m-57.5 1h1m22.5 0h1m-25 0.5h1m15 0h1m1 0.5h1m3.5 0h1m-37 0.5h1m46.5 0.5h1m-21 0.5h1m-34 1.5h1m35.5 0.5h1m-16.5 0.5h1m35 0.5h1m-96.5 2.5h1m80 4h1m-23.5 0.5h1" stroke="#ee5d50" stroke-width="1.0" fill="none" opacity="0.6"/>
</g>
<path d="M490.6 91.3H308.3V274.5H490.6" stroke="#666" stroke-width="1.1" fill="none"/>
<path d="M490.3 90.8V275.0" stroke="#222" stroke-width="1.7" fill="none"/>
<path d="M308.3 274.2h-3.5M308.3 267.2h-2M308.3 260.3h-2M308.3 253.3h-2M308.3 246.4h-2M308.3 239.4h-3.5M308.3 232.5h-2M308.3 225.5h-2M308.3 218.6h-2M308.3 211.6h-2M308.3 204.7h-3.5M308.3 197.8h-2M308.3 190.8h-2M308.3 183.8h-2M308.3 176.9h-2M308.3 169.9h-3.5M308.3 163.0h-2M308.3 156.0h-2M308.3 149.1h-2M308.3 142.1h-2M308.3 135.2h-3.5M308.3 128.2h-2M308.3 121.3h-2M308.3 114.3h-2M308.3 107.4h-2M308.3 100.5h-3.5" stroke="#555" stroke-width="0.9" fill="none"/>
<text x="296.4" y="279.2" text-anchor="end" font-size="17.7">0</text>
<text x="300.4" y="243.9" text-anchor="end" font-size="17.7">50K</text>
<text x="301.4" y="208.9" text-anchor="end" font-size="17.7">100K</text>
<text x="301.4" y="174.8" text-anchor="end" font-size="17.7">150K</text>
<text x="301.4" y="138.7" text-anchor="end" font-size="17.7">200K</text>
<text x="301.4" y="104.8" text-anchor="end" font-size="17.7">250K</text>
<path d="M345.1 274.5v3.8M389.6 274.5v3.8M432.2 274.5v3.8M472.9 274.5v3.8M358.5 274.5v2.3M366.3 274.5v2.3M371.9 274.5v2.3M376.2 274.5v2.3M379.7 274.5v2.3M382.7 274.5v2.3M385.3 274.5v2.3M387.6 274.5v2.3M402.4 274.5v2.3M409.9 274.5v2.3M415.2 274.5v2.3M419.4 274.5v2.3M422.7 274.5v2.3M425.6 274.5v2.3M428.1 274.5v2.3M430.3 274.5v2.3M444.5 274.5v2.3M451.6 274.5v2.3M456.7 274.5v2.3M460.6 274.5v2.3M463.9 274.5v2.3M466.6 274.5v2.3M469.0 274.5v2.3M471.0 274.5v2.3M330.6 274.5v2.3M333.9 274.5v2.3M337.0 274.5v2.3M339.8 274.5v2.3M342.5 274.5v2.3M322.5 274.5v2.3M318.9 274.5v2.3M315.4 274.5v2.3M311.8 274.5v2.3M485.2 274.5v2.3" stroke="#3c3c3c" stroke-width="1.0" fill="none"/>
<path d="M326.0 274.5v4.5" stroke="#222" stroke-width="1.4" fill="none"/>
<text x="322.6" y="293.6" text-anchor="middle">0</text>
<text x="334.3" y="293.6">10<tspan dy="-4.6" font-size="12">2</tspan></text>
<text x="376.3" y="293.6">10<tspan dy="-4.6" font-size="12">3</tspan></text>
<text x="419.8" y="293.6">10<tspan dy="-4.6" font-size="12">4</tspan></text>
<text x="459.3" y="293.6">10<tspan dy="-4.6" font-size="12">5</tspan></text>
<rect x="399.0" y="199.3" width="85.5" height="73.7" fill="none" stroke="#e6550f" stroke-width="2.2"/>
<text x="432.1" y="183.8" text-anchor="middle" font-size="17.3">30.6%</text>
<text x="394.9" y="80.9" text-anchor="middle" letter-spacing="0.3">Suspension</text>
<path d="M24.4 301.3V71M18.5 80.5L24.4 70.5L30.3 80.5" stroke="#222" stroke-width="1.3" fill="none"/>
<path d="M23.8 301.3H511.5M500.8 294.6L512.3 301.3L500.8 308" stroke="#222" stroke-width="1.3" fill="none"/>
<text x="15.8" y="187.0" text-anchor="middle" transform="rotate(-90 15.8 187.0)" font-size="17.3" letter-spacing="0.3">All events</text>
<text x="286.5" y="320.0" text-anchor="middle" font-size="17.3">GPER</text>
<path d="M544.2 57.0L544.2 283.7" stroke="#111" stroke-width="1.6"/>
<path d="M544.2 60.9h1.6M544.2 92.0h1.6M544.2 123.1h1.6M544.2 154.2h1.6M544.2 185.3h1.6M544.2 216.4h1.6M544.2 247.5h1.6M544.2 278.6h1.6" stroke="#111" stroke-width="1.4" fill="none"/>
<text x="540.7" y="69.7" text-anchor="end" font-size="17.3">35</text>
<text x="540.7" y="100.8" text-anchor="end" font-size="17.3">30</text>
<text x="540.7" y="131.9" text-anchor="end" font-size="17.3">25</text>
<text x="540.7" y="163.0" text-anchor="end" font-size="17.3">20</text>
<text x="540.7" y="194.1" text-anchor="end" font-size="17.3">15</text>
<text x="540.7" y="225.2" text-anchor="end" font-size="17.3">10</text>
<text x="540.7" y="256.3" text-anchor="end" font-size="17.3">5</text>
<text x="540.7" y="287.4" text-anchor="end" font-size="17.3">0</text>
<path d="M543.4 283.7L672.0 283.7" stroke="#111" stroke-width="1.6"/>
<rect x="566.7" y="108.8" width="40.5" height="169.8" fill="#322e2c" stroke="#0d0d0d" stroke-width="1.5"/>
<rect x="607.8" y="84.6" width="41.0" height="194.0" fill="#878484" stroke="#0d0d0d" stroke-width="1.5"/>
<path d="M581.2 98.9H593.8M581.2 118.9H593.8M587.5 98.9V118.9" stroke="#111" stroke-width="1.5" fill="none"/>
<path d="M621.4 73.4H634.0M621.4 95.2H634.0M627.7 73.4V95.2" stroke="#111" stroke-width="1.5" fill="none"/>
<path d="M587.8 59.3V45.5H629.3V57.8" stroke="#111" stroke-width="1.5" fill="none"/>
<text x="608.8" y="47.2" text-anchor="middle" font-size="17" letter-spacing="0.6" style="font-weight:normal;stroke-width:0.5px">*</text>
<text x="517.5" y="177.3" text-anchor="middle" transform="rotate(-90 517.5 177.3)" textLength="173.5" lengthAdjust="spacing">GPER higher cells (%)</text>
<text x="593.3" y="293.3" text-anchor="end" transform="rotate(-50 593.3 293.3)">Normal</text>
<text x="635.0" y="291.3" text-anchor="end" transform="rotate(-51 635.0 291.3)">Suspension</text>
<g clip-path="url(#c1)">
<rect x="707.8" y="47.2" width="135.70000000000005" height="102.3" fill="url(#mg1)"/>
<rect x="707.8" y="47.2" width="135.70000000000005" height="102.3" fill="url(#mv1)"/>
<path d="M756.9 51.9h0M763.0 57.2h0M764.9 63.8h0M753.0 67.8h0M750.3 74.4h0M756.1 80.2h0M759.8 87.1h0M735.7 89.0h0M759.6 111.5h0M739.7 127.4h0M763.5 141.9h0M813.8 63.8h0M807.2 111.5h0" stroke="#3c3a39" stroke-width="6.5" stroke-linecap="round" opacity="0.33" filter="url(#b1)"/>
<path d="M738.3 72.8h0M818.2 98.0h0M740.4 52.0h0M716.2 68.4h0M828.2 132.1h0M809.8 53.0h0M713.0 102.2h0M839.8 123.7h0M755.4 86.4h0M782.1 78.4h0M834.5 65.3h0M837.6 62.7h0M753.5 67.7h0M827.9 64.0h0M827.3 92.7h0M754.6 139.5h0M837.1 55.1h0" stroke="#403e3d" stroke-width="2.0" stroke-linecap="round" opacity="0.44" filter="url(#b07)"/>
<path d="M756.0 50.5h0M757.0 54.2h0M759.7 53.5h0M765.2 53.9h0M763.6 54.4h0M762.3 60.6h0M766.0 64.8h0M752.2 67.5h0M748.6 66.2h0M753.5 68.4h0M754.1 70.1h0M748.8 67.4h0M752.3 67.7h0M748.8 73.5h0M748.2 74.3h0M749.2 71.5h0M748.1 73.6h0M754.4 72.0h0M757.1 76.6h0M757.7 83.4h0M755.3 79.4h0M755.2 78.9h0M760.9 87.4h0M761.8 86.8h0M762.3 95.0h0M760.1 92.2h0M760.2 93.0h0M737.8 88.5h0M734.4 90.6h0M738.8 89.7h0M732.5 90.0h0M737.4 89.6h0M715.6 93.1h0M713.3 90.9h0M724.2 90.2h0M724.2 74.7h0M756.1 111.2h0M759.0 113.0h0M756.1 112.5h0M756.1 106.1h0M759.2 106.9h0M764.0 117.3h0M759.9 108.6h0M759.3 106.8h0M735.7 123.4h0M737.8 127.3h0M762.5 141.5h0M766.1 138.9h0M761.5 139.5h0M764.9 140.8h0M762.8 141.0h0M765.9 143.1h0M712.6 130.1h0M711.5 129.6h0M710.8 129.7h0M711.4 132.6h0M814.1 62.7h0M813.4 63.6h0M816.4 64.1h0M818.3 62.7h0M834.0 52.6h0M831.7 80.6h0M807.2 111.0h0M807.2 114.5h0M810.6 113.0h0M808.3 113.6h0M804.3 108.7h0M806.4 110.7h0M787.5 88.1h0M775.3 88.9h0M775.8 87.6h0M771.1 125.4h0M771.8 127.2h0M813.4 124.2h0M813.7 123.9h0M813.2 123.7h0M814.5 124.3h0M794.9 114.5h0M793.6 112.2h0M795.9 114.3h0M823.6 100.1h0M722.7 145.9h0M777.0 69.5h0M768.5 75.7h0M811.6 135.0h0M753.2 62.1h0" stroke="#403e3d" stroke-width="3.0" stroke-linecap="round" opacity="0.44" filter="url(#b07)"/>
<path d="M756.7 50.4h0M754.5 49.0h0M755.0 51.6h0M753.7 49.0h0M758.7 50.1h0M755.7 51.6h0M758.4 51.8h0M757.8 48.6h0M763.4 58.7h0M764.6 59.7h0M763.0 53.9h0M763.7 58.3h0M761.7 55.7h0M763.4 55.1h0M761.2 55.7h0M759.9 55.7h0M764.4 56.6h0M762.8 61.2h0M766.7 64.1h0M763.5 65.3h0M764.6 63.4h0M764.3 63.2h0M761.6 62.9h0M750.7 69.6h0M755.6 65.3h0M752.7 64.7h0M752.0 69.6h0M748.2 68.3h0M752.3 63.1h0M747.6 72.3h0M751.8 75.3h0M747.1 75.0h0M751.6 72.4h0M750.5 72.7h0M746.8 76.7h0M749.1 74.2h0M748.0 75.6h0M748.5 75.7h0M757.2 77.6h0M752.1 77.8h0M758.3 79.8h0M755.5 77.8h0M759.5 77.5h0M753.7 79.2h0M756.6 82.0h0M760.2 89.2h0M758.3 85.6h0M757.7 86.4h0M760.3 87.8h0M759.2 85.6h0M759.3 85.9h0M762.2 94.1h0M760.5 96.0h0M761.9 94.1h0M758.7 93.9h0M734.2 89.8h0M733.2 86.3h0M733.7 88.3h0M733.4 89.8h0M732.7 87.9h0M738.9 88.5h0M734.8 84.5h0M732.4 88.3h0M735.5 88.1h0M739.2 90.6h0M731.9 86.7h0M713.9 93.6h0M715.5 92.0h0M720.0 93.0h0M713.6 91.9h0M714.8 92.5h0M722.3 90.5h0M725.6 91.0h0M724.3 91.6h0M724.1 88.4h0M725.1 76.7h0M722.9 75.7h0M721.0 73.2h0M721.8 71.2h0M722.8 74.9h0M763.4 117.6h0M760.5 108.2h0M755.5 108.3h0M755.6 112.8h0M759.1 116.4h0M760.6 109.9h0M758.2 115.2h0M763.6 108.2h0M757.4 109.3h0M762.0 108.7h0M743.1 125.1h0M740.9 126.9h0M741.0 123.8h0M739.2 126.9h0M738.8 128.8h0M741.3 128.0h0M760.2 145.1h0M766.2 145.3h0M759.0 142.9h0M761.0 142.7h0M760.7 142.3h0M714.2 133.9h0M813.8 60.6h0M811.0 62.5h0M817.4 65.1h0M813.1 64.2h0M813.7 63.4h0M813.8 63.8h0M808.8 61.1h0M810.2 61.3h0M834.2 54.3h0M835.1 51.9h0M835.6 51.2h0M834.3 50.8h0M833.7 50.8h0M834.4 51.5h0M832.2 76.8h0M832.0 78.4h0M831.5 76.9h0M808.4 110.5h0M806.1 112.6h0M786.5 86.5h0M786.3 87.5h0M787.2 87.1h0M775.7 88.8h0M776.0 88.4h0M769.7 126.4h0M769.7 125.9h0M834.5 132.7h0M831.9 133.2h0M832.6 131.2h0M833.2 133.4h0M797.2 112.9h0M823.9 100.5h0" stroke="#403e3d" stroke-width="4.0" stroke-linecap="round" opacity="0.44" filter="url(#b07)"/>
<path d="M721.5 73.8h0M761.5 109.7h0M831.6 80.1h0" stroke="#403e3d" stroke-width="5.0" stroke-linecap="round" opacity="0.44" filter="url(#b07)"/>
<path d="M739.2 73.6h0M819.1 98.8h0M741.3 52.8h0M717.1 69.2h0M829.1 132.9h0M810.7 53.8h0M713.9 103.0h0M840.7 124.5h0M756.3 87.2h0M783.0 79.2h0M835.4 66.1h0M838.5 63.5h0M754.4 68.5h0M828.8 64.8h0M828.2 93.5h0M755.5 140.3h0M838.0 55.9h0" stroke="#c8c6c5" stroke-width="0.9" stroke-linecap="round" opacity="0.6" filter="url(#b05)"/>
<path d="M756.9 51.3h0M757.9 55.0h0M760.6 54.3h0M766.1 54.7h0M764.5 55.2h0M763.2 61.4h0M766.9 65.6h0M753.1 68.3h0M749.5 67.0h0M754.4 69.2h0M755.0 70.9h0M749.7 68.2h0M753.2 68.5h0M749.7 74.3h0M749.1 75.1h0M750.1 72.3h0M749.0 74.4h0M755.3 72.8h0M758.0 77.4h0M758.6 84.2h0M756.2 80.2h0M756.1 79.7h0M761.8 88.2h0M762.7 87.6h0M763.2 95.8h0M761.0 93.0h0M761.1 93.8h0M738.7 89.3h0M735.3 91.4h0M739.7 90.5h0M733.4 90.8h0M738.3 90.4h0M716.5 93.9h0M714.2 91.7h0M725.1 91.0h0M725.1 75.5h0M757.0 112.0h0M759.9 113.8h0M757.0 113.3h0M757.0 106.9h0M760.1 107.7h0M764.9 118.1h0M760.8 109.4h0M760.2 107.6h0M736.6 124.2h0M738.7 128.1h0M763.4 142.3h0M767.0 139.7h0M762.4 140.3h0M765.8 141.6h0M763.7 141.8h0M766.8 143.9h0M713.5 130.9h0M712.4 130.4h0M711.7 130.5h0M712.3 133.4h0M815.0 63.5h0M814.3 64.4h0M817.3 64.9h0M819.2 63.5h0M834.9 53.4h0M832.6 81.4h0M808.1 111.8h0M808.1 115.3h0M811.5 113.8h0M809.2 114.4h0M805.2 109.5h0M807.3 111.5h0M788.4 88.9h0M776.2 89.7h0M776.7 88.4h0M772.0 126.2h0M772.7 128.0h0M814.3 125.0h0M814.6 124.7h0M814.1 124.5h0M815.4 125.1h0M795.8 115.3h0M794.5 113.0h0M796.8 115.1h0M824.5 100.9h0M723.6 146.7h0M777.9 70.3h0M769.4 76.5h0M812.5 135.8h0M754.1 62.9h0" stroke="#c8c6c5" stroke-width="1.0" stroke-linecap="round" opacity="0.6" filter="url(#b05)"/>
<path d="M757.6 51.2h0M755.4 49.8h0M755.9 52.4h0M754.6 49.8h0M759.6 50.9h0M756.6 52.4h0M759.3 52.6h0M758.7 49.4h0M764.3 59.5h0M765.5 60.5h0M763.9 54.7h0M764.6 59.1h0M762.6 56.5h0M764.3 55.9h0M762.1 56.5h0M760.8 56.5h0M765.3 57.4h0M763.7 62.0h0M767.6 64.9h0M764.4 66.1h0M765.5 64.2h0M765.2 64.0h0M762.5 63.7h0M751.6 70.4h0M756.5 66.1h0M753.6 65.5h0M752.9 70.4h0M749.1 69.1h0M753.2 63.9h0M748.5 73.1h0M752.7 76.1h0M748.0 75.8h0M752.5 73.2h0M751.4 73.5h0M747.7 77.5h0M750.0 75.0h0M748.9 76.4h0M749.4 76.5h0M758.1 78.4h0M753.0 78.6h0M759.2 80.6h0M756.4 78.6h0M760.4 78.3h0M754.6 80.0h0M757.5 82.8h0M761.1 90.0h0M759.2 86.4h0M758.6 87.2h0M761.2 88.6h0M760.1 86.4h0M760.2 86.7h0M763.1 94.9h0M761.4 96.8h0M762.8 94.9h0M759.6 94.7h0M735.1 90.6h0M734.1 87.1h0M734.6 89.1h0M734.3 90.6h0M733.6 88.7h0M739.8 89.3h0M735.7 85.3h0M733.3 89.1h0M736.4 88.9h0M740.1 91.4h0M732.8 87.5h0M714.8 94.4h0M716.4 92.8h0M720.9 93.8h0M714.5 92.7h0M715.7 93.3h0M723.2 91.3h0M726.5 91.8h0M725.2 92.4h0M725.0 89.2h0M726.0 77.5h0M723.8 76.5h0M721.9 74.0h0M722.7 72.0h0M723.7 75.7h0M764.3 118.4h0M761.4 109.0h0M756.4 109.1h0M756.5 113.6h0M760.0 117.2h0M761.5 110.7h0M759.1 116.0h0M764.5 109.0h0M758.3 110.1h0M762.9 109.5h0M744.0 125.9h0M741.8 127.7h0M741.9 124.6h0M740.1 127.7h0M739.7 129.6h0M742.2 128.8h0M761.1 145.9h0M767.1 146.1h0M759.9 143.7h0M761.9 143.5h0M761.6 143.1h0M715.1 134.7h0M814.7 61.4h0M811.9 63.3h0M818.3 65.9h0M814.0 65.0h0M814.6 64.2h0M814.7 64.6h0M809.7 61.9h0M811.1 62.1h0M835.1 55.1h0M836.0 52.7h0M836.5 52.0h0M835.2 51.6h0M834.6 51.6h0M835.3 52.3h0M833.1 77.6h0M832.9 79.2h0M832.4 77.7h0M809.3 111.3h0M807.0 113.4h0M787.4 87.3h0M787.2 88.3h0M788.1 87.9h0M776.6 89.6h0M776.9 89.2h0M770.6 127.2h0M770.6 126.7h0M835.4 133.5h0M832.8 134.0h0M833.5 132.0h0M834.1 134.2h0M798.1 113.7h0M824.8 101.3h0" stroke="#c8c6c5" stroke-width="1.5" stroke-linecap="round" opacity="0.6" filter="url(#b05)"/>
<path d="M722.4 74.6h0M762.4 110.5h0M832.5 80.9h0" stroke="#c8c6c5" stroke-width="2.0" stroke-linecap="round" opacity="0.6" filter="url(#b05)"/>
</g>
<rect x="707.8" y="47.2" width="135.7" height="102.3" fill="none" stroke="#0a0a0a" stroke-width="1.7"/>
<g clip-path="url(#c2)">
<rect x="850.3" y="47.2" width="136.0" height="102.3" fill="url(#mg2)"/>
<rect x="850.3" y="47.2" width="136.0" height="102.3" fill="url(#mv2)"/>
<path d="M868.1 73.1h0M875.3 60.7h0M962.1 101.4h0M955.5 93.0h0M895.9 103.5h0" stroke="#3c3a39" stroke-width="6.5" stroke-linecap="round" opacity="0.33" filter="url(#b1)"/>
<path d="M879.2 133.1h0M919.5 90.0h0M886.2 68.4h0M965.7 139.3h0M946.4 118.4h0M859.9 73.2h0M901.6 133.0h0M947.4 105.3h0M882.9 88.1h0M954.8 93.1h0M862.0 146.5h0" stroke="#403e3d" stroke-width="2.0" stroke-linecap="round" opacity="0.44" filter="url(#b07)"/>
<path d="M868.4 67.1h0M868.1 68.5h0M873.9 77.2h0M868.5 73.9h0M865.2 71.4h0M871.8 75.6h0M868.1 78.4h0M866.6 76.4h0M871.3 74.6h0M870.0 76.2h0M873.2 73.7h0M866.0 72.5h0M863.4 71.8h0M866.1 74.2h0M862.5 67.3h0M867.2 74.5h0M867.0 73.5h0M866.7 67.3h0M868.8 71.7h0M875.3 60.8h0M875.8 60.0h0M871.3 61.6h0M877.7 63.7h0M883.0 55.6h0M890.0 80.7h0M896.6 74.7h0M897.6 73.9h0M910.3 58.4h0M911.3 60.4h0M917.8 78.5h0M940.2 69.7h0M949.1 79.3h0M950.0 79.4h0M963.2 99.9h0M966.8 98.8h0M960.7 98.8h0M960.1 100.3h0M968.2 104.2h0M961.0 94.5h0M960.4 104.2h0M957.9 101.5h0M959.9 102.5h0M956.5 94.9h0M954.6 93.6h0M979.4 85.7h0M977.2 85.9h0M891.6 101.4h0M895.8 104.4h0M899.0 99.2h0M871.3 97.4h0M926.7 109.4h0M957.2 133.7h0M967.4 145.8h0M964.5 143.4h0M916.8 141.3h0M916.1 141.4h0M856.6 145.9h0M859.4 146.1h0M935.7 59.1h0M973.2 74.9h0M976.8 50.6h0M940.9 85.8h0M943.0 109.5h0M920.6 127.2h0M950.0 53.3h0" stroke="#403e3d" stroke-width="3.0" stroke-linecap="round" opacity="0.44" filter="url(#b07)"/>
<path d="M868.9 72.0h0M862.8 70.8h0M864.2 69.3h0M864.2 67.5h0M869.9 77.0h0M866.8 76.4h0M865.1 68.5h0M867.7 71.1h0M867.6 77.8h0M866.0 71.3h0M872.3 73.1h0M863.1 73.0h0M869.7 74.3h0M878.6 58.6h0M871.7 60.0h0M874.9 64.0h0M875.6 59.9h0M882.8 56.2h0M882.5 56.3h0M883.1 55.5h0M891.7 80.7h0M909.4 60.8h0M934.7 66.6h0M934.2 64.6h0M935.7 65.1h0M936.4 66.6h0M940.0 73.2h0M941.2 70.9h0M940.2 73.2h0M951.4 76.4h0M952.4 77.2h0M962.6 104.2h0M964.7 105.6h0M964.7 102.9h0M958.1 100.3h0M964.0 98.9h0M952.6 92.5h0M955.2 94.8h0M955.8 92.1h0M954.7 93.3h0M957.6 92.5h0M978.0 85.6h0M979.0 87.0h0M977.4 85.7h0M979.1 72.2h0M978.2 73.6h0M978.5 72.0h0M897.4 97.6h0M896.2 100.1h0M896.2 99.9h0M894.9 100.8h0M897.7 97.4h0M897.7 95.3h0M898.2 108.6h0M895.6 118.3h0M895.2 123.0h0M893.8 121.4h0M894.4 119.9h0M871.8 97.9h0M879.2 98.4h0M878.3 99.3h0M927.8 110.4h0M926.3 109.7h0M958.7 134.9h0M958.4 132.3h0M955.4 132.6h0M956.1 135.5h0M964.1 145.0h0M964.3 146.8h0M964.9 148.0h0M965.4 147.3h0M964.4 145.3h0M975.4 136.3h0M977.3 134.8h0M975.7 133.3h0M975.9 134.5h0M904.0 138.2h0M904.3 137.1h0M859.2 146.1h0M857.1 145.3h0" stroke="#403e3d" stroke-width="4.0" stroke-linecap="round" opacity="0.44" filter="url(#b07)"/>
<path d="M865.0 80.2h0M873.5 63.2h0M912.6 59.9h0M917.0 78.9h0M951.4 78.1h0M957.2 93.0h0M980.5 71.5h0M894.2 101.9h0M927.3 110.0h0" stroke="#403e3d" stroke-width="5.0" stroke-linecap="round" opacity="0.44" filter="url(#b07)"/>
<path d="M880.1 133.9h0M920.4 90.8h0M887.1 69.2h0M966.6 140.1h0M947.3 119.2h0M860.8 74.0h0M902.5 133.8h0M948.3 106.1h0M883.8 88.9h0M955.7 93.9h0M862.9 147.3h0" stroke="#c8c6c5" stroke-width="0.9" stroke-linecap="round" opacity="0.6" filter="url(#b05)"/>
<path d="M869.3 67.9h0M869.0 69.3h0M874.8 78.0h0M869.4 74.7h0M866.1 72.2h0M872.7 76.4h0M869.0 79.2h0M867.5 77.2h0M872.2 75.4h0M870.9 77.0h0M874.1 74.5h0M866.9 73.3h0M864.3 72.6h0M867.0 75.0h0M863.4 68.1h0M868.1 75.3h0M867.9 74.3h0M867.6 68.1h0M869.7 72.5h0M876.2 61.6h0M876.7 60.8h0M872.2 62.4h0M878.6 64.5h0M883.9 56.4h0M890.9 81.5h0M897.5 75.5h0M898.5 74.7h0M911.2 59.2h0M912.2 61.2h0M918.7 79.3h0M941.1 70.5h0M950.0 80.1h0M950.9 80.2h0M964.1 100.7h0M967.7 99.6h0M961.6 99.6h0M961.0 101.1h0M969.1 105.0h0M961.9 95.3h0M961.3 105.0h0M958.8 102.3h0M960.8 103.3h0M957.4 95.7h0M955.5 94.4h0M980.3 86.5h0M978.1 86.7h0M892.5 102.2h0M896.7 105.2h0M899.9 100.0h0M872.2 98.2h0M927.6 110.2h0M958.1 134.5h0M968.3 146.6h0M965.4 144.2h0M917.7 142.1h0M917.0 142.2h0M857.5 146.7h0M860.3 146.9h0M936.6 59.9h0M974.1 75.7h0M977.7 51.4h0M941.8 86.6h0M943.9 110.3h0M921.5 128.0h0M950.9 54.1h0" stroke="#c8c6c5" stroke-width="1.0" stroke-linecap="round" opacity="0.6" filter="url(#b05)"/>
<path d="M869.8 72.8h0M863.7 71.6h0M865.1 70.1h0M865.1 68.3h0M870.8 77.8h0M867.7 77.2h0M866.0 69.3h0M868.6 71.9h0M868.5 78.6h0M866.9 72.1h0M873.2 73.9h0M864.0 73.8h0M870.6 75.1h0M879.5 59.4h0M872.6 60.8h0M875.8 64.8h0M876.5 60.7h0M883.7 57.0h0M883.4 57.1h0M884.0 56.3h0M892.6 81.5h0M910.3 61.6h0M935.6 67.4h0M935.1 65.4h0M936.6 65.9h0M937.3 67.4h0M940.9 74.0h0M942.1 71.7h0M941.1 74.0h0M952.3 77.2h0M953.3 78.0h0M963.5 105.0h0M965.6 106.4h0M965.6 103.7h0M959.0 101.1h0M964.9 99.7h0M953.5 93.3h0M956.1 95.6h0M956.7 92.9h0M955.6 94.1h0M958.5 93.3h0M978.9 86.4h0M979.9 87.8h0M978.3 86.5h0M980.0 73.0h0M979.1 74.4h0M979.4 72.8h0M898.3 98.4h0M897.1 100.9h0M897.1 100.7h0M895.8 101.6h0M898.6 98.2h0M898.6 96.1h0M899.1 109.4h0M896.5 119.1h0M896.1 123.8h0M894.7 122.2h0M895.3 120.7h0M872.7 98.7h0M880.1 99.2h0M879.2 100.1h0M928.7 111.2h0M927.2 110.5h0M959.6 135.7h0M959.3 133.1h0M956.3 133.4h0M957.0 136.3h0M965.0 145.8h0M965.2 147.6h0M965.8 148.8h0M966.3 148.1h0M965.3 146.1h0M976.3 137.1h0M978.2 135.6h0M976.6 134.1h0M976.8 135.3h0M904.9 139.0h0M905.2 137.9h0M860.1 146.9h0M858.0 146.1h0" stroke="#c8c6c5" stroke-width="1.5" stroke-linecap="round" opacity="0.6" filter="url(#b05)"/>
<path d="M865.9 81.0h0M874.4 64.0h0M913.5 60.7h0M917.9 79.7h0M952.3 78.9h0M958.1 93.8h0M981.4 72.3h0M895.1 102.7h0M928.2 110.8h0" stroke="#c8c6c5" stroke-width="2.0" stroke-linecap="round" opacity="0.6" filter="url(#b05)"/>
</g>
<rect x="850.3" y="47.2" width="136.0" height="102.3" fill="none" stroke="#0a0a0a" stroke-width="1.7"/>
<g clip-path="url(#c3)">
<rect x="710.2" y="176.2" width="136.19999999999993" height="101.40000000000003" fill="url(#mg3)"/>
<rect x="710.2" y="176.2" width="136.19999999999993" height="101.40000000000003" fill="url(#mv3)"/>
<path d="M779.4 204.2h0M759.6 222.7h0M776.8 250.5h0M805.9 189.6h0M812.5 250.5h0" stroke="#3c3a39" stroke-width="6.5" stroke-linecap="round" opacity="0.33" filter="url(#b1)"/>
<path d="M773.4 251.4h0M811.7 259.4h0M758.0 199.4h0M752.7 217.6h0M826.1 267.6h0M733.9 255.9h0M794.0 270.9h0M808.6 201.6h0M741.8 181.6h0M789.0 196.6h0" stroke="#403e3d" stroke-width="2.0" stroke-linecap="round" opacity="0.44" filter="url(#b07)"/>
<path d="M780.9 203.7h0M784.5 200.6h0M780.0 205.1h0M778.5 201.1h0M777.9 207.7h0M776.5 199.8h0M777.0 202.2h0M761.5 221.7h0M758.1 229.1h0M762.6 226.5h0M759.1 229.4h0M761.5 227.1h0M760.4 222.9h0M760.9 219.6h0M753.8 223.6h0M759.2 225.2h0M756.9 219.1h0M753.6 225.9h0M761.4 218.7h0M776.1 257.2h0M780.0 245.5h0M779.0 247.6h0M783.4 253.5h0M776.0 254.8h0M776.5 252.2h0M774.5 247.8h0M771.6 246.7h0M781.3 248.1h0M776.6 250.9h0M777.1 246.0h0M778.9 252.2h0M805.3 187.2h0M802.8 189.0h0M808.2 189.2h0M803.8 187.1h0M806.2 192.7h0M807.6 188.0h0M804.2 188.8h0M805.3 190.2h0M807.0 187.3h0M802.1 252.0h0M800.9 251.3h0M810.5 250.1h0M811.4 249.9h0M814.0 248.6h0M812.8 248.7h0M824.3 256.8h0M825.8 259.7h0M822.7 254.7h0M821.8 254.4h0M733.8 256.3h0M735.1 259.0h0M738.2 259.0h0M737.6 258.3h0M733.8 194.8h0M726.5 199.2h0M725.6 197.3h0M821.5 190.1h0M781.9 216.2h0M781.0 215.6h0M749.7 207.6h0M758.1 245.7h0M837.6 255.4h0M796.1 177.9h0M795.4 179.2h0M753.6 182.0h0M792.4 199.4h0M804.6 198.0h0M800.9 254.0h0M790.8 205.5h0M746.8 256.1h0M790.4 248.5h0M820.1 186.4h0" stroke="#403e3d" stroke-width="3.0" stroke-linecap="round" opacity="0.44" filter="url(#b07)"/>
<path d="M776.3 210.5h0M778.7 201.1h0M779.2 206.5h0M777.9 203.3h0M775.8 205.2h0M779.1 211.0h0M784.7 197.7h0M783.5 198.6h0M780.1 197.7h0M777.4 202.0h0M777.4 205.6h0M776.0 201.3h0M763.3 218.7h0M757.7 222.8h0M755.3 220.6h0M756.1 224.2h0M758.0 223.7h0M754.7 220.3h0M757.2 231.2h0M758.7 224.7h0M758.7 231.4h0M757.8 213.2h0M760.0 221.1h0M756.2 226.1h0M758.1 222.5h0M784.2 256.6h0M774.5 247.9h0M779.1 256.4h0M775.0 248.2h0M776.0 252.2h0M777.8 245.0h0M774.5 244.6h0M772.9 257.6h0M776.1 247.6h0M775.2 250.7h0M779.6 254.1h0M780.4 245.8h0M769.6 249.1h0M776.8 249.8h0M775.9 253.7h0M779.1 250.7h0M773.3 251.0h0M784.4 256.8h0M775.3 244.1h0M808.4 189.0h0M805.4 189.0h0M805.6 188.0h0M797.4 251.2h0M798.8 252.1h0M800.7 250.7h0M801.3 251.2h0M810.1 252.4h0M812.6 251.5h0M813.7 249.2h0M812.1 252.0h0M824.7 258.1h0M821.6 254.7h0M825.9 258.0h0M737.9 256.7h0M736.6 258.7h0M738.1 261.1h0M734.0 194.7h0M823.2 189.6h0M820.8 189.4h0M821.8 188.1h0M782.0 216.4h0M782.2 215.1h0M749.2 206.5h0M746.3 244.9h0M747.5 245.2h0M756.3 246.2h0" stroke="#403e3d" stroke-width="4.0" stroke-linecap="round" opacity="0.44" filter="url(#b07)"/>
<path d="M778.7 252.9h0M774.2 249.0h0M799.3 250.7h0M837.3 256.5h0" stroke="#403e3d" stroke-width="5.0" stroke-linecap="round" opacity="0.44" filter="url(#b07)"/>
<path d="M774.3 252.2h0M812.6 260.2h0M758.9 200.2h0M753.6 218.4h0M827.0 268.4h0M734.8 256.7h0M794.9 271.7h0M809.5 202.4h0M742.7 182.4h0M789.9 197.4h0" stroke="#c8c6c5" stroke-width="0.9" stroke-linecap="round" opacity="0.6" filter="url(#b05)"/>
<path d="M781.8 204.5h0M785.4 201.4h0M780.9 205.9h0M779.4 201.9h0M778.8 208.5h0M777.4 200.6h0M777.9 203.0h0M762.4 222.5h0M759.0 229.9h0M763.5 227.3h0M760.0 230.2h0M762.4 227.9h0M761.3 223.7h0M761.8 220.4h0M754.7 224.4h0M760.1 226.0h0M757.8 219.9h0M754.5 226.7h0M762.3 219.5h0M777.0 258.0h0M780.9 246.3h0M779.9 248.4h0M784.3 254.3h0M776.9 255.6h0M777.4 253.0h0M775.4 248.6h0M772.5 247.5h0M782.2 248.9h0M777.5 251.7h0M778.0 246.8h0M779.8 253.0h0M806.2 188.0h0M803.7 189.8h0M809.1 190.0h0M804.7 187.9h0M807.1 193.5h0M808.5 188.8h0M805.1 189.6h0M806.2 191.0h0M807.9 188.1h0M803.0 252.8h0M801.8 252.1h0M811.4 250.9h0M812.3 250.7h0M814.9 249.4h0M813.7 249.5h0M825.2 257.6h0M826.7 260.5h0M823.6 255.5h0M822.7 255.2h0M734.7 257.1h0M736.0 259.8h0M739.1 259.8h0M738.5 259.1h0M734.7 195.6h0M727.4 200.0h0M726.5 198.1h0M822.4 190.9h0M782.8 217.0h0M781.9 216.4h0M750.6 208.4h0M759.0 246.5h0M838.5 256.2h0M797.0 178.7h0M796.3 180.0h0M754.5 182.8h0M793.3 200.2h0M805.5 198.8h0M801.8 254.8h0M791.7 206.3h0M747.7 256.9h0M791.3 249.3h0M821.0 187.2h0" stroke="#c8c6c5" stroke-width="1.0" stroke-linecap="round" opacity="0.6" filter="url(#b05)"/>
<path d="M777.2 211.3h0M779.6 201.9h0M780.1 207.3h0M778.8 204.1h0M776.7 206.0h0M780.0 211.8h0M785.6 198.5h0M784.4 199.4h0M781.0 198.5h0M778.3 202.8h0M778.3 206.4h0M776.9 202.1h0M764.2 219.5h0M758.6 223.6h0M756.2 221.4h0M757.0 225.0h0M758.9 224.5h0M755.6 221.1h0M758.1 232.0h0M759.6 225.5h0M759.6 232.2h0M758.7 214.0h0M760.9 221.9h0M757.1 226.9h0M759.0 223.3h0M785.1 257.4h0M775.4 248.7h0M780.0 257.2h0M775.9 249.0h0M776.9 253.0h0M778.7 245.8h0M775.4 245.4h0M773.8 258.4h0M777.0 248.4h0M776.1 251.5h0M780.5 254.9h0M781.3 246.6h0M770.5 249.9h0M777.7 250.6h0M776.8 254.5h0M780.0 251.5h0M774.2 251.8h0M785.3 257.6h0M776.2 244.9h0M809.3 189.8h0M806.3 189.8h0M806.5 188.8h0M798.3 252.0h0M799.7 252.9h0M801.6 251.5h0M802.2 252.0h0M811.0 253.2h0M813.5 252.3h0M814.6 250.0h0M813.0 252.8h0M825.6 258.9h0M822.5 255.5h0M826.8 258.8h0M738.8 257.5h0M737.5 259.5h0M739.0 261.9h0M734.9 195.5h0M824.1 190.4h0M821.7 190.2h0M822.7 188.9h0M782.9 217.2h0M783.1 215.9h0M750.1 207.3h0M747.2 245.7h0M748.4 246.0h0M757.2 247.0h0" stroke="#c8c6c5" stroke-width="1.5" stroke-linecap="round" opacity="0.6" filter="url(#b05)"/>
<path d="M779.6 253.7h0M775.1 249.8h0M800.2 251.5h0M838.2 257.3h0" stroke="#c8c6c5" stroke-width="2.0" stroke-linecap="round" opacity="0.6" filter="url(#b05)"/>
</g>
<rect x="710.2" y="176.2" width="136.2" height="101.4" fill="none" stroke="#0a0a0a" stroke-width="1.7"/>
<g clip-path="url(#c4)">
<rect x="851.4" y="176.2" width="136.20000000000005" height="101.40000000000003" fill="url(#mg4)"/>
<rect x="851.4" y="176.2" width="136.20000000000005" height="101.40000000000003" fill="url(#mv4)"/>
<path d="M878.7 210.8h0M907.8 193.6h0M944.9 186.9h0M964.8 181.6h0M971.4 205.5h0M882.7 233.3h0M897.2 233.3h0M858.9 228.0h0M864.2 198.9h0M938.3 267.7h0M917.1 266.4h0M882.7 273.0h0M914.5 224.0h0" stroke="#3c3a39" stroke-width="6.5" stroke-linecap="round" opacity="0.33" filter="url(#b1)"/>
<path d="M948.9 249.2h0" stroke="#3c3a39" stroke-width="12" stroke-linecap="round" opacity="0.35" filter="url(#b2)"/>
<path d="M880.4 272.7h0M922.9 182.9h0M904.9 207.3h0M860.6 244.8h0M939.4 203.6h0M901.2 227.2h0M886.6 222.6h0M893.5 262.9h0M939.7 201.8h0M932.7 209.9h0M965.7 256.1h0M947.3 188.6h0M943.3 187.3h0M903.7 249.9h0M949.7 199.2h0M861.7 183.4h0M890.1 243.3h0M951.3 231.5h0M975.2 210.1h0M935.3 261.0h0M955.2 217.5h0M932.9 242.6h0M885.5 245.9h0M861.4 227.6h0M918.3 188.6h0M897.4 210.2h0" stroke="#403e3d" stroke-width="2.0" stroke-linecap="round" opacity="0.44" filter="url(#b07)"/>
<path d="M882.5 214.7h0M881.0 213.2h0M881.6 214.3h0M878.4 212.3h0M877.7 212.3h0M876.2 205.8h0M870.8 206.9h0M875.9 211.8h0M880.3 210.3h0M879.9 213.1h0M878.2 212.4h0M874.2 206.0h0M873.9 207.1h0M886.1 211.0h0M905.9 191.2h0M909.2 195.7h0M911.2 201.6h0M907.0 193.8h0M911.0 186.9h0M907.5 196.0h0M907.7 183.3h0M943.3 185.4h0M948.3 182.0h0M945.2 186.5h0M948.1 181.4h0M938.0 181.7h0M940.2 190.3h0M942.6 188.5h0M939.9 181.8h0M951.3 191.4h0M949.1 187.0h0M944.4 185.2h0M948.8 181.9h0M941.7 186.6h0M952.1 189.7h0M946.0 194.6h0M947.8 186.2h0M942.6 181.9h0M968.0 182.7h0M961.2 181.2h0M965.8 182.5h0M964.8 178.6h0M974.8 213.4h0M969.0 199.5h0M972.6 204.7h0M973.6 207.0h0M965.8 200.0h0M970.3 201.2h0M977.0 210.8h0M972.1 204.3h0M970.0 207.0h0M971.3 199.9h0M974.3 211.1h0M977.2 207.8h0M974.5 210.5h0M971.3 205.1h0M883.5 233.5h0M877.7 239.1h0M884.2 239.2h0M885.8 230.3h0M886.3 229.5h0M886.4 229.1h0M879.9 235.6h0M884.1 232.0h0M880.0 229.7h0M881.5 231.1h0M892.9 235.7h0M896.4 233.9h0M890.2 235.7h0M893.3 235.7h0M903.7 233.0h0M894.2 235.3h0M894.7 234.4h0M898.3 231.6h0M892.6 231.5h0M893.7 236.6h0M896.0 234.8h0M858.9 223.9h0M857.3 228.1h0M855.1 227.1h0M858.5 223.9h0M859.0 230.2h0M862.9 223.3h0M858.9 224.6h0M862.1 195.2h0M860.9 195.5h0M863.4 198.8h0M868.0 195.8h0M863.2 199.7h0M863.9 200.3h0M866.7 197.0h0M946.7 236.7h0M947.8 249.3h0M948.5 247.6h0M940.4 240.7h0M947.3 245.8h0M949.5 244.5h0M951.2 248.7h0M952.1 251.1h0M945.4 243.3h0M951.0 253.4h0M942.9 244.7h0M950.1 255.0h0M946.2 248.7h0M946.7 247.8h0M947.0 237.1h0M948.6 253.9h0M939.3 245.4h0M947.0 246.9h0M944.8 244.0h0M936.7 265.9h0M936.8 267.4h0M940.1 268.1h0M935.9 266.2h0M918.2 263.1h0M915.3 266.5h0M919.2 266.4h0M919.0 268.6h0M916.3 263.5h0M916.0 266.6h0M880.7 272.0h0M883.2 271.3h0M880.6 273.5h0M881.0 273.9h0M886.0 268.4h0M954.8 215.9h0M915.1 220.6h0M914.5 222.7h0M916.4 225.2h0M911.7 222.2h0M912.3 226.7h0M914.1 222.8h0M978.8 223.0h0M978.4 221.4h0M978.8 222.2h0M886.0 192.6h0M886.3 193.2h0M882.8 193.1h0M859.1 182.0h0M860.1 184.2h0M857.7 181.1h0M924.0 209.1h0M925.6 209.1h0M982.3 259.8h0M983.8 259.2h0M983.5 259.9h0M960.1 250.6h0M906.6 255.0h0M882.0 232.5h0M982.9 191.6h0M854.5 186.6h0M939.1 212.6h0M881.5 189.0h0M967.5 181.9h0M948.5 256.7h0M975.1 225.6h0M857.8 274.1h0M943.6 234.0h0M976.5 242.0h0M911.7 254.1h0" stroke="#403e3d" stroke-width="3.0" stroke-linecap="round" opacity="0.44" filter="url(#b07)"/>
<path d="M877.7 208.6h0M880.7 214.7h0M877.8 210.9h0M878.0 216.4h0M870.8 208.5h0M879.5 211.2h0M875.5 208.5h0M877.5 217.1h0M880.7 216.6h0M882.9 215.1h0M878.1 202.8h0M870.8 211.4h0M884.4 209.5h0M879.7 211.9h0M879.9 218.1h0M880.1 210.4h0M873.8 216.0h0M874.7 207.7h0M878.3 217.2h0M876.9 210.5h0M878.4 214.9h0M879.8 216.6h0M907.6 187.2h0M911.3 187.6h0M908.3 183.7h0M905.9 183.5h0M907.4 183.7h0M907.2 200.5h0M909.5 193.8h0M908.2 185.7h0M906.3 194.1h0M910.6 192.2h0M904.4 186.2h0M909.7 193.1h0M901.9 183.7h0M911.2 200.0h0M905.9 185.0h0M909.9 200.1h0M910.6 194.2h0M943.5 184.8h0M948.7 184.2h0M944.5 189.2h0M942.5 191.2h0M935.5 185.4h0M949.6 193.5h0M947.4 187.7h0M948.2 186.5h0M948.7 181.8h0M946.0 189.1h0M949.2 185.5h0M947.4 184.3h0M943.4 190.8h0M943.7 190.8h0M942.3 185.9h0M950.5 190.3h0M949.6 188.9h0M948.2 184.6h0M947.0 185.5h0M947.1 187.1h0M949.9 193.2h0M960.5 182.1h0M966.3 179.6h0M964.6 183.0h0M962.6 180.4h0M962.8 179.5h0M959.9 184.6h0M961.0 181.6h0M966.8 180.0h0M962.6 181.3h0M967.6 208.2h0M971.2 203.1h0M977.8 207.8h0M968.9 200.4h0M969.6 204.4h0M968.5 200.2h0M970.7 204.2h0M969.2 206.2h0M966.0 201.9h0M973.9 207.7h0M975.5 207.3h0M972.4 207.7h0M969.2 206.5h0M976.5 205.5h0M971.6 207.6h0M967.9 206.7h0M969.7 200.0h0M976.5 200.9h0M971.2 205.3h0M887.4 232.7h0M877.2 235.8h0M879.3 226.8h0M882.1 229.8h0M883.8 231.0h0M880.1 238.8h0M878.2 235.2h0M880.1 234.4h0M883.9 235.7h0M885.9 229.8h0M882.2 227.2h0M883.5 233.9h0M883.0 232.6h0M880.3 231.1h0M895.3 237.6h0M893.7 234.4h0M896.4 228.8h0M893.3 232.7h0M895.9 234.0h0M890.6 234.5h0M897.5 229.0h0M895.8 230.8h0M899.0 239.3h0M892.5 239.7h0M895.5 226.9h0M898.4 236.6h0M902.1 235.3h0M902.7 231.7h0M893.2 235.3h0M892.3 229.0h0M892.3 230.8h0M902.2 226.2h0M857.8 228.9h0M855.5 227.8h0M858.4 229.7h0M862.2 230.8h0M857.4 231.9h0M860.1 226.1h0M856.8 229.8h0M866.8 194.3h0M868.3 197.0h0M863.7 199.1h0M861.6 194.1h0M864.2 198.4h0M946.3 248.7h0M949.2 250.4h0M946.2 245.9h0M946.5 246.4h0M934.4 245.7h0M950.0 254.5h0M954.2 248.6h0M944.8 252.2h0M944.9 247.5h0M953.0 251.3h0M958.7 247.8h0M944.2 248.5h0M943.3 245.7h0M938.6 242.2h0M951.5 256.2h0M948.2 252.1h0M953.8 249.4h0M952.7 247.4h0M948.5 250.2h0M943.2 248.7h0M948.9 248.1h0M952.2 250.9h0M955.6 255.2h0M947.1 242.5h0M944.4 244.2h0M954.1 251.2h0M941.4 244.4h0M947.5 250.4h0M941.5 243.1h0M944.0 257.2h0M955.4 250.2h0M951.0 247.7h0M945.4 244.5h0M948.3 237.0h0M941.6 243.2h0M951.1 238.1h0M951.0 249.4h0M946.1 245.7h0M949.8 247.5h0M950.4 250.5h0M939.8 266.1h0M939.4 263.7h0M940.8 271.0h0M939.3 271.8h0M937.6 270.3h0M937.8 268.3h0M938.1 269.4h0M937.8 264.7h0M942.4 266.9h0M918.1 264.4h0M918.4 265.1h0M916.9 266.9h0M917.1 268.6h0M912.6 267.6h0M918.4 265.0h0M912.4 266.2h0M919.3 263.9h0M886.8 277.0h0M885.2 274.3h0M885.4 268.3h0M884.1 273.3h0M885.9 268.7h0M884.8 273.4h0M882.3 271.2h0M954.5 214.4h0M955.4 215.5h0M955.1 215.7h0M955.2 215.0h0M914.1 225.2h0M915.6 221.3h0M914.0 222.9h0M915.0 222.4h0M913.7 224.1h0M976.6 223.2h0M980.3 223.5h0M977.8 220.5h0M885.9 193.0h0M885.7 191.3h0M859.0 185.4h0M924.5 210.9h0M925.7 210.5h0M932.6 230.3h0M932.1 230.3h0M931.1 229.9h0M933.6 230.4h0M983.2 259.4h0" stroke="#403e3d" stroke-width="4.0" stroke-linecap="round" opacity="0.44" filter="url(#b07)"/>
<path d="M884.8 207.8h0M877.8 218.1h0M875.5 207.4h0M875.7 213.4h0M876.0 206.3h0M879.3 205.8h0M907.1 185.0h0M940.0 182.7h0M944.4 186.2h0M941.3 186.2h0M948.0 189.7h0M965.7 182.7h0M971.4 204.8h0M967.8 196.5h0M973.7 214.7h0M885.0 229.1h0M899.6 239.4h0M944.4 249.1h0M942.1 239.4h0M945.7 248.4h0M941.6 252.6h0M947.7 246.5h0M938.5 265.8h0M977.3 219.7h0M858.1 182.3h0" stroke="#403e3d" stroke-width="5.0" stroke-linecap="round" opacity="0.44" filter="url(#b07)"/>
<path d="M881.3 273.5h0M923.8 183.7h0M905.8 208.1h0M861.5 245.6h0M940.3 204.4h0M902.1 228.0h0M887.5 223.4h0M894.4 263.7h0M940.6 202.6h0M933.6 210.7h0M966.6 256.9h0M948.2 189.4h0M944.2 188.1h0M904.6 250.7h0M950.6 200.0h0M862.6 184.2h0M891.0 244.1h0M952.2 232.3h0M976.1 210.9h0M936.2 261.8h0M956.1 218.3h0M933.8 243.4h0M886.4 246.7h0M862.3 228.4h0M919.2 189.4h0M898.3 211.0h0" stroke="#c8c6c5" stroke-width="0.9" stroke-linecap="round" opacity="0.6" filter="url(#b05)"/>
<path d="M883.4 215.5h0M881.9 214.0h0M882.5 215.1h0M879.3 213.1h0M878.6 213.1h0M877.1 206.6h0M871.7 207.7h0M876.8 212.6h0M881.2 211.1h0M880.8 213.9h0M879.1 213.2h0M875.1 206.8h0M874.8 207.9h0M887.0 211.8h0M906.8 192.0h0M910.1 196.5h0M912.1 202.4h0M907.9 194.6h0M911.9 187.7h0M908.4 196.8h0M908.6 184.1h0M944.2 186.2h0M949.2 182.8h0M946.1 187.3h0M949.0 182.2h0M938.9 182.5h0M941.1 191.1h0M943.5 189.3h0M940.8 182.6h0M952.2 192.2h0M950.0 187.8h0M945.3 186.0h0M949.7 182.7h0M942.6 187.4h0M953.0 190.5h0M946.9 195.4h0M948.7 187.0h0M943.5 182.7h0M968.9 183.5h0M962.1 182.0h0M966.7 183.3h0M965.7 179.4h0M975.7 214.2h0M969.9 200.3h0M973.5 205.5h0M974.5 207.8h0M966.7 200.8h0M971.2 202.0h0M977.9 211.6h0M973.0 205.1h0M970.9 207.8h0M972.2 200.7h0M975.2 211.9h0M978.1 208.6h0M975.4 211.3h0M972.2 205.9h0M884.4 234.3h0M878.6 239.9h0M885.1 240.0h0M886.7 231.1h0M887.2 230.3h0M887.3 229.9h0M880.8 236.4h0M885.0 232.8h0M880.9 230.5h0M882.4 231.9h0M893.8 236.5h0M897.3 234.7h0M891.1 236.5h0M894.2 236.5h0M904.6 233.8h0M895.1 236.1h0M895.6 235.2h0M899.2 232.4h0M893.5 232.3h0M894.6 237.4h0M896.9 235.6h0M859.8 224.7h0M858.2 228.9h0M856.0 227.9h0M859.4 224.7h0M859.9 231.0h0M863.8 224.1h0M859.8 225.4h0M863.0 196.0h0M861.8 196.3h0M864.3 199.6h0M868.9 196.6h0M864.1 200.5h0M864.8 201.1h0M867.6 197.8h0M947.6 237.5h0M948.7 250.1h0M949.4 248.4h0M941.3 241.5h0M948.2 246.6h0M950.4 245.3h0M952.1 249.5h0M953.0 251.9h0M946.3 244.1h0M951.9 254.2h0M943.8 245.5h0M951.0 255.8h0M947.1 249.5h0M947.6 248.6h0M947.9 237.9h0M949.5 254.7h0M940.2 246.2h0M947.9 247.7h0M945.7 244.8h0M937.6 266.7h0M937.7 268.2h0M941.0 268.9h0M936.8 267.0h0M919.1 263.9h0M916.2 267.3h0M920.1 267.2h0M919.9 269.4h0M917.2 264.3h0M916.9 267.4h0M881.6 272.8h0M884.1 272.1h0M881.5 274.3h0M881.9 274.7h0M886.9 269.2h0M955.7 216.7h0M916.0 221.4h0M915.4 223.5h0M917.3 226.0h0M912.6 223.0h0M913.2 227.5h0M915.0 223.6h0M979.7 223.8h0M979.3 222.2h0M979.7 223.0h0M886.9 193.4h0M887.2 194.0h0M883.7 193.9h0M860.0 182.8h0M861.0 185.0h0M858.6 181.9h0M924.9 209.9h0M926.5 209.9h0M983.2 260.6h0M984.7 260.0h0M984.4 260.7h0M961.0 251.4h0M907.5 255.8h0M882.9 233.3h0M983.8 192.4h0M855.4 187.4h0M940.0 213.4h0M882.4 189.8h0M968.4 182.7h0M949.4 257.5h0M976.0 226.4h0M858.7 274.9h0M944.5 234.8h0M977.4 242.8h0M912.6 254.9h0" stroke="#c8c6c5" stroke-width="1.0" stroke-linecap="round" opacity="0.6" filter="url(#b05)"/>
<path d="M878.6 209.4h0M881.6 215.5h0M878.7 211.7h0M878.9 217.2h0M871.7 209.3h0M880.4 212.0h0M876.4 209.3h0M878.4 217.9h0M881.6 217.4h0M883.8 215.9h0M879.0 203.6h0M871.7 212.2h0M885.3 210.3h0M880.6 212.7h0M880.8 218.9h0M881.0 211.2h0M874.7 216.8h0M875.6 208.5h0M879.2 218.0h0M877.8 211.3h0M879.3 215.7h0M880.7 217.4h0M908.5 188.0h0M912.2 188.4h0M909.2 184.5h0M906.8 184.3h0M908.3 184.5h0M908.1 201.3h0M910.4 194.6h0M909.1 186.5h0M907.2 194.9h0M911.5 193.0h0M905.3 187.0h0M910.6 193.9h0M902.8 184.5h0M912.1 200.8h0M906.8 185.8h0M910.8 200.9h0M911.5 195.0h0M944.4 185.6h0M949.6 185.0h0M945.4 190.0h0M943.4 192.0h0M936.4 186.2h0M950.5 194.3h0M948.3 188.5h0M949.1 187.3h0M949.6 182.6h0M946.9 189.9h0M950.1 186.3h0M948.3 185.1h0M944.3 191.6h0M944.6 191.6h0M943.2 186.7h0M951.4 191.1h0M950.5 189.7h0M949.1 185.4h0M947.9 186.3h0M948.0 187.9h0M950.8 194.0h0M961.4 182.9h0M967.2 180.4h0M965.5 183.8h0M963.5 181.2h0M963.7 180.3h0M960.8 185.4h0M961.9 182.4h0M967.7 180.8h0M963.5 182.1h0M968.5 209.0h0M972.1 203.9h0M978.7 208.6h0M969.8 201.2h0M970.5 205.2h0M969.4 201.0h0M971.6 205.0h0M970.1 207.0h0M966.9 202.7h0M974.8 208.5h0M976.4 208.1h0M973.3 208.5h0M970.1 207.3h0M977.4 206.3h0M972.5 208.4h0M968.8 207.5h0M970.6 200.8h0M977.4 201.7h0M972.1 206.1h0M888.3 233.5h0M878.1 236.6h0M880.2 227.6h0M883.0 230.6h0M884.7 231.8h0M881.0 239.6h0M879.1 236.0h0M881.0 235.2h0M884.8 236.5h0M886.8 230.6h0M883.1 228.0h0M884.4 234.7h0M883.9 233.4h0M881.2 231.9h0M896.2 238.4h0M894.6 235.2h0M897.3 229.6h0M894.2 233.5h0M896.8 234.8h0M891.5 235.3h0M898.4 229.8h0M896.7 231.6h0M899.9 240.1h0M893.4 240.5h0M896.4 227.7h0M899.3 237.4h0M903.0 236.1h0M903.6 232.5h0M894.1 236.1h0M893.2 229.8h0M893.2 231.6h0M903.1 227.0h0M858.7 229.7h0M856.4 228.6h0M859.3 230.5h0M863.1 231.6h0M858.3 232.7h0M861.0 226.9h0M857.7 230.6h0M867.7 195.1h0M869.2 197.8h0M864.6 199.9h0M862.5 194.9h0M865.1 199.2h0M947.2 249.5h0M950.1 251.2h0M947.1 246.7h0M947.4 247.2h0M935.3 246.5h0M950.9 255.3h0M955.1 249.4h0M945.7 253.0h0M945.8 248.3h0M953.9 252.1h0M959.6 248.6h0M945.1 249.3h0M944.2 246.5h0M939.5 243.0h0M952.4 257.0h0M949.1 252.9h0M954.7 250.2h0M953.6 248.2h0M949.4 251.0h0M944.1 249.5h0M949.8 248.9h0M953.1 251.7h0M956.5 256.0h0M948.0 243.3h0M945.3 245.0h0M955.0 252.0h0M942.3 245.2h0M948.4 251.2h0M942.4 243.9h0M944.9 258.0h0M956.3 251.0h0M951.9 248.5h0M946.3 245.3h0M949.2 237.8h0M942.5 244.0h0M952.0 238.9h0M951.9 250.2h0M947.0 246.5h0M950.7 248.3h0M951.3 251.3h0M940.7 266.9h0M940.3 264.5h0M941.7 271.8h0M940.2 272.6h0M938.5 271.1h0M938.7 269.1h0M939.0 270.2h0M938.7 265.5h0M943.3 267.7h0M919.0 265.2h0M919.3 265.9h0M917.8 267.7h0M918.0 269.4h0M913.5 268.4h0M919.3 265.8h0M913.3 267.0h0M920.2 264.7h0M887.7 277.8h0M886.1 275.1h0M886.3 269.1h0M885.0 274.1h0M886.8 269.5h0M885.7 274.2h0M883.2 272.0h0M955.4 215.2h0M956.3 216.3h0M956.0 216.5h0M956.1 215.8h0M915.0 226.0h0M916.5 222.1h0M914.9 223.7h0M915.9 223.2h0M914.6 224.9h0M977.5 224.0h0M981.2 224.3h0M978.7 221.3h0M886.8 193.8h0M886.6 192.1h0M859.9 186.2h0M925.4 211.7h0M926.6 211.3h0M933.5 231.1h0M933.0 231.1h0M932.0 230.7h0M934.5 231.2h0M984.1 260.2h0" stroke="#c8c6c5" stroke-width="1.5" stroke-linecap="round" opacity="0.6" filter="url(#b05)"/>
<path d="M885.7 208.6h0M878.7 218.9h0M876.4 208.2h0M876.6 214.2h0M876.9 207.1h0M880.2 206.6h0M908.0 185.8h0M940.9 183.5h0M945.3 187.0h0M942.2 187.0h0M948.9 190.5h0M966.6 183.5h0M972.3 205.6h0M968.7 197.3h0M974.6 215.5h0M885.9 229.9h0M900.5 240.2h0M945.3 249.9h0M943.0 240.2h0M946.6 249.2h0M942.5 253.4h0M948.6 247.3h0M939.4 266.6h0M978.2 220.5h0M859.0 183.1h0" stroke="#c8c6c5" stroke-width="2.0" stroke-linecap="round" opacity="0.6" filter="url(#b05)"/>
</g>
<rect x="851.4" y="176.2" width="136.2" height="101.4" fill="none" stroke="#0a0a0a" stroke-width="1.7"/>
<text x="778.3" y="166.6" text-anchor="middle" font-size="17.7">siNC</text>
<text x="920.3" y="166.6" text-anchor="middle" font-size="17.7">siGPER 1#</text>
<text x="779.0" y="293.5" text-anchor="middle" textLength="95.3" lengthAdjust="spacing" font-size="17.7">pSG5-vector</text>
<text x="919.5" y="293.5" text-anchor="middle" font-size="17.7">GPER</text>
<path d="M1045.2 61.0L1045.2 285.2" stroke="#111" stroke-width="1.6"/>
<path d="M1045.2 66.5h3.2M1045.2 109.1h3.2M1045.2 151.7h3.2M1045.2 194.3h3.2M1045.2 236.9h3.2M1045.2 279.5h3.2" stroke="#111" stroke-width="1.4" fill="none"/>
<text x="1041.7" y="72.3" text-anchor="end" font-size="17.3">2.5</text>
<text x="1041.7" y="114.9" text-anchor="end" font-size="17.3">2.0</text>
<text x="1041.7" y="157.5" text-anchor="end" font-size="17.3">1.5</text>
<text x="1041.7" y="200.1" text-anchor="end" font-size="17.3">1.0</text>
<text x="1041.7" y="242.7" text-anchor="end" font-size="17.3">0.5</text>
<text x="1041.7" y="285.3" text-anchor="end" font-size="17.3">0.0</text>
<path d="M1044.4 285.2L1262.0 285.2" stroke="#111" stroke-width="1.6"/>
<rect x="1067.2" y="195.0" width="41.4" height="84.5" fill="#322e2c" stroke="#0d0d0d" stroke-width="1.5"/>
<rect x="1109.2" y="255.0" width="43.8" height="24.5" fill="#5d5a59" stroke="#0d0d0d" stroke-width="1.5"/>
<rect x="1153.6" y="195.0" width="41.8" height="84.5" fill="#c9c8c7" stroke="#0d0d0d" stroke-width="1.5"/>
<rect x="1196.0" y="120.3" width="43.2" height="159.2" fill="#fff" stroke="#0d0d0d" stroke-width="1.5"/>
<path d="M1080.6 185.3H1094.6M1080.6 204.2H1094.6M1087.6 185.3V204.2" stroke="#111" stroke-width="1.5" fill="none"/>
<path d="M1124.5 233.8H1138.5M1124.5 275.9H1138.5M1131.5 233.8V275.9" stroke="#111" stroke-width="1.5" fill="none"/>
<path d="M1168.4 181.7H1182.4M1168.4 209.5H1182.4M1175.4 181.7V209.5" stroke="#111" stroke-width="1.5" fill="none"/>
<path d="M1211.3 88.0H1225.3M1211.3 153.4H1225.3M1218.3 88.0V153.4" stroke="#111" stroke-width="1.5" fill="none"/>
<path d="M1088.3 173.8V161.4H1130.2V173.8" stroke="#111" stroke-width="1.5" fill="none"/>
<text x="1109.5" y="163.1" text-anchor="middle" font-size="17" letter-spacing="0.6" style="font-weight:normal;stroke-width:0.5px">**</text>
<path d="M1175.4 75.7V62.9H1216.7V75.7" stroke="#111" stroke-width="1.5" fill="none"/>
<text x="1196.4" y="64.6" text-anchor="middle" font-size="17" letter-spacing="0.6" style="font-weight:normal;stroke-width:0.5px">**</text>
<text x="1013.5" y="166.5" text-anchor="middle" transform="rotate(-90 1013.5 166.5)" textLength="237.0" lengthAdjust="spacing">Fold change of mammospheres</text>
<text x="1089.0" y="296.0" text-anchor="end" transform="rotate(-55 1089.0 296.0)">siNC</text>
<text x="1133.5" y="293.0" text-anchor="end" transform="rotate(-55 1133.5 293.0)">siGPER 1#</text>
<text x="1178.5" y="294.5" text-anchor="end" transform="rotate(-55 1178.5 294.5)">pSG5-vector</text>
<text x="1222.0" y="294.0" text-anchor="end" transform="rotate(-55 1222.0 294.0)">GPER</text>
<rect x="1343.5" y="38.8" width="12.6" height="8.3" fill="#322e2c" stroke="#0d0d0d" stroke-width="1.4"/>
<rect x="1343.5" y="57.5" width="12.6" height="9.1" fill="#878484" stroke="#0d0d0d" stroke-width="1.4"/>
<text x="1357.7" y="47.3">siNC</text>
<text x="1357.7" y="67.7">siGPER 1#</text>
<path d="M1339.0 103.0L1339.0 329.7" stroke="#111" stroke-width="1.6"/>
<path d="M1339.0 108.1h3.2M1339.0 126.1h2.1M1339.0 144.1h3.2M1339.0 162.2h2.1M1339.0 180.2h3.2M1339.0 198.2h2.1M1339.0 216.2h3.2M1339.0 234.3h2.1M1339.0 252.3h3.2M1339.0 270.3h2.1M1339.0 288.3h3.2M1339.0 306.4h2.1M1339.0 324.4h3.2" stroke="#111" stroke-width="1.4" fill="none"/>
<text x="1335.5" y="113.9" text-anchor="end" font-size="17.3">1.2</text>
<text x="1335.5" y="149.9" text-anchor="end" font-size="17.3">1.0</text>
<text x="1335.5" y="186.0" text-anchor="end" font-size="17.3">0.8</text>
<text x="1335.5" y="222.0" text-anchor="end" font-size="17.3">0.6</text>
<text x="1335.5" y="258.1" text-anchor="end" font-size="17.3">0.4</text>
<text x="1335.5" y="294.1" text-anchor="end" font-size="17.3">0.2</text>
<text x="1335.5" y="330.2" text-anchor="end" font-size="17.3">0.0</text>
<path d="M1338.2 329.7L1627.5 329.7" stroke="#111" stroke-width="1.6"/>
<rect x="1377.0" y="144.7" width="22.6" height="179.7" fill="#322e2c" stroke="#0d0d0d" stroke-width="1.5"/>
<rect x="1401.8" y="319.1" width="24.2" height="5.3" fill="#878484" stroke="#0d0d0d" stroke-width="1.5"/>
<rect x="1458.0" y="144.7" width="22.7" height="179.7" fill="#322e2c" stroke="#0d0d0d" stroke-width="1.5"/>
<rect x="1483.4" y="297.6" width="23.6" height="26.8" fill="#878484" stroke="#0d0d0d" stroke-width="1.5"/>
<rect x="1539.5" y="144.7" width="23.4" height="179.7" fill="#322e2c" stroke="#0d0d0d" stroke-width="1.5"/>
<rect x="1564.8" y="289.9" width="23.6" height="34.5" fill="#878484" stroke="#0d0d0d" stroke-width="1.5"/>
<path d="M1384.3 132.0H1393.3M1384.3 156.4H1393.3M1388.8 132.0V156.4" stroke="#111" stroke-width="1.3" fill="none"/>
<path d="M1408.9 317.7H1417.9M1408.9 321.5H1417.9M1413.4 317.7V321.5" stroke="#111" stroke-width="1.3" fill="none"/>
<path d="M1464.7 128.1H1473.7M1464.7 160.2H1473.7M1469.2 128.1V160.2" stroke="#111" stroke-width="1.3" fill="none"/>
<path d="M1490.5 274.8H1499.5M1490.5 318.6H1499.5M1495.0 274.8V318.6" stroke="#111" stroke-width="1.3" fill="none"/>
<path d="M1546.2 140.2H1555.2M1546.2 149.7H1555.2M1550.7 140.2V149.7" stroke="#111" stroke-width="1.3" fill="none"/>
<path d="M1571.5 271.0H1580.5M1571.5 306.8H1580.5M1576.0 271.0V306.8" stroke="#111" stroke-width="1.3" fill="none"/>
<path d="M1388.2 111.0V97.6H1418.4V110.0" stroke="#111" stroke-width="1.5" fill="none"/>
<text x="1403.6" y="99.3" text-anchor="middle" font-size="17" letter-spacing="0.6" style="font-weight:normal;stroke-width:0.5px">**</text>
<path d="M1472.1 108.3V94.8H1502.1V107.5" stroke="#111" stroke-width="1.5" fill="none"/>
<text x="1487.4" y="96.5" text-anchor="middle" font-size="17" letter-spacing="0.6" style="font-weight:normal;stroke-width:0.5px">**</text>
<path d="M1552.2 121.7V108.3H1582.2V121.0" stroke="#111" stroke-width="1.5" fill="none"/>
<text x="1567.5" y="110.0" text-anchor="middle" font-size="17" letter-spacing="0.6" style="font-weight:normal;stroke-width:0.5px">**</text>
<text x="1399.7" y="347.2" text-anchor="middle" textLength="45.8" lengthAdjust="spacing">OCT4</text>
<text x="1483.2" y="347.2" text-anchor="middle" textLength="44.0" lengthAdjust="spacing">KLF4</text>
<text x="1563.7" y="347.2" text-anchor="middle" textLength="49.0" lengthAdjust="spacing">Nanog</text>
<text x="1305.5" y="207.6" text-anchor="middle" transform="rotate(-90 1305.5 207.6)" textLength="157.0" lengthAdjust="spacing">Fold change of genes</text>
<rect x="1684.7" y="34.6" width="12.6" height="8.2" fill="#322e2c" stroke="#0d0d0d" stroke-width="1.4"/>
<rect x="1684.7" y="53.1" width="12.6" height="9.5" fill="#878484" stroke="#0d0d0d" stroke-width="1.4"/>
<text x="1699.9" y="42.3" textLength="95.3" lengthAdjust="spacing">pSG5-vector</text>
<text x="1699.9" y="63.3">GPER</text>
<path d="M1680.8 103.0L1680.8 327.8" stroke="#111" stroke-width="1.6"/>
<path d="M1680.8 107.1h3.2M1680.8 128.7h2.1M1680.8 150.2h3.2M1680.8 171.8h2.1M1680.8 193.3h3.2M1680.8 214.9h2.1M1680.8 236.4h3.2M1680.8 258.0h2.1M1680.8 279.5h3.2M1680.8 301.1h2.1M1680.8 322.6h3.2" stroke="#111" stroke-width="1.4" fill="none"/>
<text x="1677.3" y="112.9" text-anchor="end" font-size="17.3">10</text>
<text x="1677.3" y="156.0" text-anchor="end" font-size="17.3">8</text>
<text x="1677.3" y="199.1" text-anchor="end" font-size="17.3">6</text>
<text x="1677.3" y="242.2" text-anchor="end" font-size="17.3">4</text>
<text x="1677.3" y="285.3" text-anchor="end" font-size="17.3">2</text>
<text x="1677.3" y="328.4" text-anchor="end" font-size="17.3">0</text>
<path d="M1680.0 327.8L1971.2 327.8" stroke="#111" stroke-width="1.6"/>
<rect x="1717.8" y="301.8" width="24.9" height="20.8" fill="#322e2c" stroke="#0d0d0d" stroke-width="1.5"/>
<rect x="1744.9" y="150.0" width="23.8" height="172.6" fill="#878484" stroke="#0d0d0d" stroke-width="1.5"/>
<rect x="1802.7" y="301.8" width="23.9" height="20.8" fill="#322e2c" stroke="#0d0d0d" stroke-width="1.5"/>
<rect x="1829.7" y="231.2" width="23.8" height="91.4" fill="#878484" stroke="#0d0d0d" stroke-width="1.5"/>
<rect x="1887.9" y="301.8" width="24.2" height="20.8" fill="#322e2c" stroke="#0d0d0d" stroke-width="1.5"/>
<rect x="1914.6" y="229.9" width="24.2" height="92.7" fill="#878484" stroke="#0d0d0d" stroke-width="1.5"/>
<path d="M1725.3 300.1H1734.3M1725.3 302.6H1734.3M1729.8 300.1V302.6" stroke="#111" stroke-width="1.3" fill="none"/>
<path d="M1753.1 123.0H1762.1M1753.1 177.7H1762.1M1757.6 123.0V177.7" stroke="#111" stroke-width="1.3" fill="none"/>
<path d="M1809.7 295.9H1818.7M1809.7 305.3H1818.7M1814.2 295.9V305.3" stroke="#111" stroke-width="1.3" fill="none"/>
<path d="M1837.0 217.6H1846.0M1837.0 244.3H1846.0M1841.5 217.6V244.3" stroke="#111" stroke-width="1.3" fill="none"/>
<path d="M1895.0 298.6H1904.0M1895.0 302.0H1904.0M1899.5 298.6V302.0" stroke="#111" stroke-width="1.3" fill="none"/>
<path d="M1921.7 198.7H1930.7M1921.7 260.1H1930.7M1926.2 198.7V260.1" stroke="#111" stroke-width="1.3" fill="none"/>
<path d="M1725.6 108.7V96.7H1756.3V108.0" stroke="#111" stroke-width="1.5" fill="none"/>
<text x="1741.2" y="98.4" text-anchor="middle" font-size="17" letter-spacing="0.6" style="font-weight:normal;stroke-width:0.5px">**</text>
<path d="M1813.3 201.9V189.2H1843.3V201.0" stroke="#111" stroke-width="1.5" fill="none"/>
<text x="1828.6" y="190.9" text-anchor="middle" font-size="17" letter-spacing="0.6" style="font-weight:normal;stroke-width:0.5px">**</text>
<path d="M1895.9 184.2V170.7H1925.8V183.5" stroke="#111" stroke-width="1.5" fill="none"/>
<text x="1911.1" y="172.4" text-anchor="middle" font-size="17" letter-spacing="0.6" style="font-weight:normal;stroke-width:0.5px">**</text>
<text x="1744.7" y="346.3" text-anchor="middle" textLength="45.8" lengthAdjust="spacing">OCT4</text>
<text x="1828.2" y="347.5" text-anchor="middle" textLength="44.0" lengthAdjust="spacing">KLF4</text>
<text x="1914.4" y="346.3" text-anchor="middle" textLength="49.0" lengthAdjust="spacing">Nanog</text>
<text x="1657.0" y="200.0" text-anchor="middle" transform="rotate(-90 1657.0 200.0)" textLength="157.0" lengthAdjust="spacing">Fold change of genes</text>
<clipPath id="cD51_474"><rect x="52.3" y="474.8" width="50.3" height="181.0"/></clipPath>
<g clip-path="url(#cD51_474)">
<ellipse cx="84.5" cy="617.0" rx="11.9" ry="33.0" fill="#dc2a1c" opacity="1.0" transform="rotate(17.5 84.5 617.0)" filter="url(#b1)"/>
<path d="M101.5 526.5h1m-5 3h1m-2.5 3h1m0 0h1m-3 3h1m3 0h1m-1.5 0.5h1m-3.5 1.5h1m-2.5 5.5h1m3.5 0h1m2 0h1m-7 0.5h1m1.5 0h1m1.5 0h1m0 0.5h1m-13.5 0.5h1m10.5 0h1m-3 1.5h1m-4 0.5h1m1 0.5h1m1 0h1m-0.5 0h1m-10.5 0.5h1m5 0h1m1 0h1m-0.5 0.5h1m-6 0.5h1m4.5 0h1m0 0h1m-14 0.5h1m9 0h1m0.5 0h1m-3 0.5h1m-3 0.5h1m-0.5 0h1m-0.5 0h1m-0.5 0h1m0 0h1m-1 0.5h1m0.5 0h1m0.5 0h1m-7.5 0.5h1m1.5 0h1m-0.5 0h1m2 0h1m-10 0.5h1m1 0h1m7 0h1m-5 0.5h1m0.5 0h1m0 0h1m-11.5 0.5h1m1.5 0h1m0.5 0h1m-1.5 0.5h1m1 0h1m2 0h1m0 0h1m2 0h1m-12.5 0.5h1m7 0h1m-4.5 0.5h1m0.5 0h1m1 0h1m-5.5 0.5h1m4.5 0h1m0 0h1m0 0h1m-6 0.5h1m-5.5 0.5h1m3.5 0h1m1 0h1m1 0h1m0 0h1m-11 0.5h1m9.5 0h1m-6.5 0.5h1m-0.5 0h1m-0.5 0h1m-0.5 0h1m-1.5 0.5h1m0 0h1m0.5 0h1m-1.5 0.5h1m0.5 0h1m-9 0.5h1m1.5 0h1m1.5 0h1m2.5 0h1m-22.5 0.5h1m9 0h1m6 0h1m-0.5 0h1m0 0h1m-0.5 0h1m0 0h1m-11.5 0.5h1m3 0h1m-0.5 0h1m0 0h1m-0.5 0h1m-0.5 0h1m-6 0.5h1m0.5 0h1m-0.5 0h1m0 0h1m0 0h1m-0.5 0h1m-0.5 0h1m-0.5 0h1m3 0h1m-10 0.5h1m1 0h1m-0.5 0h1m1 0h1m0 0h1m0 0h1m0.5 0h1m-12 0.5h1m5 0h1m2 0h1m0.5 0h1m-16 0.5h1m2.5 0h1m2.5 0h1m5 0h1m0 0h1m-0.5 0h1m2 0h1m-14 0.5h1m1 0h1m1 0h1m1 0h1m0.5 0h1m-0.5 0h1m0 0h1m1.5 0h1m-8.5 0.5h1m0.5 0h1m4.5 0h1m-8 0.5h1m0.5 0h1m-0.5 0h1m0.5 0h1m0.5 0h1m-0.5 0.5h1m0 0h1m0 0h1m0.5 0h1m-12 0.5h1m3.5 0h1m-0.5 0h1m-0.5 0h1m0.5 0h1m0.5 0h1m-10 0.5h1m1.5 0h1m3 0h1m-0.5 0h1m1.5 0h1m1 0h1m-15.5 0.5h1m2 0h1m0 0h1m0 0h1m1.5 0h1m-0.5 0h1m0.5 0h1m0 0h1m2.5 0h1m-11 0.5h1m-0.5 0h1m2 0h1m0.5 0h1m-0.5 0h1m-0.5 0h1m-0.5 0h1m0 0h1m0 0h1m-0.5 0h1m-13.5 0.5h1m1 0h1m0.5 0h1m2 0h1m-0.5 0h1m-0.5 0h1m1 0h1m0.5 0h1m-0.5 0h1m0.5 0h1m-10.5 0.5h1m-0.5 0h1m1 0h1m-0.5 0h1m0 0h1m-0.5 0h1m-0.5 0h1m1.5 0h1m2 0h1m-12.5 0.5h1m-0.5 0h1m1 0h1m-0.5 0h1m0 0h1m-0.5 0h1m-0.5 0h1m0.5 0h1m-0.5 0h1m-0.5 0h1m0 0h1m0.5 0h1m-0.5 0h1m-15.5 0.5h1m1.5 0h1m1.5 0h1m2.5 0h1m-0.5 0h1m0.5 0h1m-0.5 0h1m-0.5 0h1m0 0h1m2 0h1m-0.5 0h1m-16.5 0.5h1m7 0h1m-0.5 0h1m0.5 0h1m0.5 0h1m0 0h1m-0.5 0h1m0 0h1m-11 0.5h1m-0.5 0h1m1.5 0h1m0 0h1m3 0h1m-0.5 0h1m1.5 0h1m-16.5 0.5h1m2.5 0h1m1 0h1m0.5 0h1m-0.5 0h1m0.5 0h1m1 0h1m-15.5 0.5h1m3.5 0h1m5.5 0h1m-0.5 0h1m0 0h1m-0.5 0h1m-0.5 0h1m0 0h1m3 0h1m-11.5 0.5h1m2 0h1m-0.5 0h1m0.5 0h1m0 0h1m-0.5 0h1m1 0h1m-0.5 0h1m-9.5 0.5h1m-0.5 0h1m-0.5 0h1m0 0h1m0 0h1m-0.5 0h1m-0.5 0h1m-0.5 0h1m0.5 0h1m1 0h1m0.5 0h1m-16 0.5h1m3 0h1m1.5 0h1m1.5 0h1m-0.5 0h1m1 0h1m-0.5 0h1m0.5 0h1m2 0h1m-26 0.5h1m0.5 0h1m8 0h1m2 0h1m-0.5 0h1m0 0h1m-0.5 0h1m-0.5 0h1m1 0h1m0 0h1m-0.5 0h1m-0.5 0h1m2.5 0h1m-11.5 0.5h1m2 0h1m0 0h1m0.5 0h1m-0.5 0h1m0 0h1m-0.5 0h1m-0.5 0h1m-0.5 0h1m0 0h1m1 0h1m-14 0.5h1m1 0h1m0.5 0h1m0 0h1m-0.5 0h1m0.5 0h1m0 0h1m-0.5 0h1m0 0h1m-0.5 0h1m0 0h1m0 0h1m-0.5 0h1m-12 0.5h1m0.5 0h1m1 0h1m0 0h1m0 0h1m-0.5 0h1m0 0h1m0.5 0h1m-0.5 0h1m0.5 0h1m0.5 0h1m-12.5 0.5h1m0 0h1m-0.5 0h1m0.5 0h1m-0.5 0h1m-0.5 0h1m3 0h1m0.5 0h1m1.5 0h1m-20 0.5h1m6 0h1m0 0h1m1.5 0h1m0.5 0h1m0 0h1m-0.5 0h1m0.5 0h1m2 0h1m-15 0.5h1m0.5 0h1m0 0h1m2 0h1m-0.5 0h1m1.5 0h1m-0.5 0h1m1.5 0h1m0 0h1m-0.5 0h1m-0.5 0h1m0.5 0h1m-13 0.5h1m-0.5 0h1m-0.5 0h1m-0.5 0h1m-0.5 0h1m1 0h1m-0.5 0h1m-0.5 0h1m-0.5 0h1m0.5 0h1m-0.5 0h1m-0.5 0h1m-0.5 0h1m-0.5 0h1m1.5 0h1m-22.5 0.5h1m8.5 0h1m0 0h1m1 0h1m0 0h1m0.5 0h1m-0.5 0h1m-0.5 0h1m0 0h1m-0.5 0h1m-0.5 0h1m-0.5 0h1m-0.5 0h1m-14 0.5h1m1.5 0h1m-0.5 0h1m0 0h1m-0.5 0h1m0.5 0h1m0.5 0h1m2 0h1m0 0h1m-0.5 0h1m1.5 0h1m0 0h1m-11.5 0.5h1m-0.5 0h1m0 0h1m-0.5 0h1m-0.5 0h1m0 0h1m-0.5 0h1m-0.5 0h1m0 0h1m2 0h1m0 0h1m0 0h1m-11.5 0.5h1m-0.5 0h1m0.5 0h1m-0.5 0h1m0.5 0h1m-0.5 0h1m-0.5 0h1m-0.5 0h1m0 0h1m-0.5 0h1m-0.5 0h1m-0.5 0h1m1.5 0h1m-11 0.5h1m-0.5 0h1m0 0h1m-0.5 0h1m-0.5 0h1m0.5 0h1m-0.5 0h1m0 0h1m1 0h1m-17 0.5h1m2 0h1m1.5 0h1m0 0h1m0 0h1m0.5 0h1m-0.5 0h1m2 0h1m0 0h1m-0.5 0h1m0 0h1m-0.5 0h1m1 0h1m-17.5 0.5h1m5 0h1m0.5 0h1m0.5 0h1m1.5 0h1m0 0h1m0 0h1m-0.5 0h1m0 0h1m-0.5 0h1m0 0h1m-17 0.5h1m-0.5 0h1m2.5 0h1m0.5 0h1m0.5 0h1m0 0h1m0 0h1m1 0h1m1 0h1m0.5 0h1m1.5 0h1m-15 0.5h1m0 0h1m1 0h1m0 0h1m0 0h1m0 0h1m-0.5 0h1m-0.5 0h1m-0.5 0h1m0 0h1m0 0h1m-0.5 0h1m1 0h1m-26 0.5h1m11 0h1m0 0h1m0 0h1m0.5 0h1m1 0h1m-0.5 0h1m-0.5 0h1m-0.5 0h1m-0.5 0h1m0 0h1m-0.5 0h1m-0.5 0h1m0 0h1m-0.5 0h1m-0.5 0h1m-0.5 0h1m2 0h1m-21 0.5h1m0.5 0h1m1 0h1m1.5 0h1m-0.5 0h1m1.5 0h1m0 0h1m0 0h1m-0.5 0h1m-0.5 0h1m1.5 0h1m-0.5 0h1m-0.5 0h1m2 0h1m-0.5 0h1m-19.5 0.5h1m-0.5 0h1m4 0h1m3 0h1m0.5 0h1m-0.5 0h1m0 0h1m-0.5 0h1m-0.5 0h1m-0.5 0h1m0.5 0h1m1 0h1m1 0h1m-18.5 0.5h1m5 0h1m0 0h1m0.5 0h1m-0.5 0h1m0 0h1m-0.5 0h1m-0.5 0h1m-0.5 0h1m-0.5 0h1m-0.5 0h1m-0.5 0h1m-12.5 0.5h1m0.5 0h1m1 0h1m-0.5 0h1m-0.5 0h1m1.5 0h1m0.5 0h1m0 0h1m-0.5 0h1m0.5 0h1m0 0h1m0 0h1m-0.5 0h1m0 0h1m-21.5 0.5h1m3 0h1m2.5 0h1m0.5 0h1m-0.5 0h1m0.5 0h1m0 0h1m0 0h1m-0.5 0h1m-0.5 0h1m-0.5 0h1m0.5 0h1m1 0h1m0 0h1m-0.5 0h1m0 0h1m-14.5 0.5h1m0 0h1m-0.5 0h1m0.5 0h1m-0.5 0h1m0 0h1m-0.5 0h1m-0.5 0h1m-0.5 0h1m0 0h1m-0.5 0h1m-0.5 0h1m0.5 0h1m-0.5 0h1m-0.5 0h1m-0.5 0h1m2 0h1m-24.5 0.5h1m0.5 0h1m-0.5 0h1m3.5 0h1m2.5 0h1m-0.5 0h1m1 0h1m-0.5 0h1m-0.5 0h1m0 0h1m0 0h1m-0.5 0h1m-0.5 0h1m0 0h1m-16 0.5h1m2 0h1m2 0h1m1.5 0h1m0 0h1m1 0h1m1.5 0h1m0 0h1m-0.5 0h1m-0.5 0h1m-0.5 0h1m1.5 0h1m-14.5 0.5h1m1 0h1m0 0h1m0 0h1m-0.5 0h1m-0.5 0h1m-0.5 0h1m0.5 0h1m0 0h1m0.5 0h1m-0.5 0h1m0 0h1m-11 0.5h1m1.5 0h1m-0.5 0h1m1.5 0h1m-0.5 0h1m-0.5 0h1m0 0h1m0 0h1m1 0h1m2 0h1m-16.5 0.5h1m3 0h1m0.5 0h1m-0.5 0h1m-0.5 0h1m-0.5 0h1m0 0h1m1.5 0h1m0 0h1m1 0h1m-0.5 0h1m0 0h1m-43.5 0.5h1m15.5 0h1m5.5 0h1m2.5 0h1m3.5 0h1m0 0h1m0 0h1m-0.5 0h1m0 0h1m0 0h1m0.5 0h1m0 0h1m-0.5 0h1m-0.5 0h1m-0.5 0h1m0 0h1m0.5 0h1m0 0h1m-0.5 0h1m0 0h1m-28.5 0.5h1m5.5 0h1m0 0h1m0 0h1m1.5 0h1m0 0h1m-0.5 0h1m-0.5 0h1m0.5 0h1m0 0h1m0 0h1m1 0h1m-0.5 0h1m-0.5 0h1m1 0h1m0 0h1m-0.5 0h1m-16 0.5h1m0 0h1m2 0h1m1.5 0h1m1.5 0h1m-0.5 0h1m0.5 0h1m-0.5 0h1m1 0h1m3 0h1m-0.5 0h1m-24.5 0.5h1m6 0h1m0 0h1m3.5 0h1m0.5 0h1m-0.5 0h1m0.5 0h1m1 0h1m1 0h1m-0.5 0h1m2 0h1m-0.5 0h1m-31 0.5h1m6.5 0h1m3 0h1m0 0h1m0 0h1m1.5 0h1m1 0h1m0.5 0h1m1.5 0h1m-0.5 0h1m-0.5 0h1m-0.5 0h1m-0.5 0h1m-0.5 0h1m-0.5 0h1m-0.5 0h1m0 0h1m0.5 0h1m0.5 0h1m-17.5 0.5h1m-0.5 0h1m0 0h1m0 0h1m1.5 0h1m-0.5 0h1m-0.5 0h1m0.5 0h1m0.5 0h1m0 0h1m-0.5 0h1m-0.5 0h1m-0.5 0h1m-0.5 0h1m-0.5 0h1m-0.5 0h1m-0.5 0h1m0 0h1m-0.5 0h1m-0.5 0h1m1 0h1m-19 0.5h1m1.5 0h1m-0.5 0h1m0 0h1m0 0h1m-0.5 0h1m0 0h1m1 0h1m0.5 0h1m2 0h1m-0.5 0h1m1 0h1m1.5 0h1m-0.5 0h1m-28 0.5h1m6.5 0h1m2.5 0h1m1 0h1m4.5 0h1m-0.5 0h1m4 0h1m-0.5 0h1m-19 0.5h1m0 0h1m-0.5 0h1m0 0h1m1 0h1m1.5 0h1m0.5 0h1m2 0h1m-0.5 0h1m0.5 0h1m1.5 0h1m0 0h1m2 0h1m-22 0.5h1m5 0h1m1.5 0h1m1 0h1m4 0h1m2 0h1m0 0h1m-0.5 0h1m-0.5 0h1m0 0h1m-20 0.5h1m2 0h1m0 0h1m1 0h1m-10.5 0.5h1m1.5 0h1m0.5 0h1m0.5 0h1m-0.5 0h1m-0.5 0h1m2 0h1m2.5 0h1m4 0h1m-0.5 0h1m1.5 0h1m-0.5 0h1m-0.5 0h1m-0.5 0h1m-28 0.5h1m-0.5 0h1m3.5 0h1m2.5 0h1m-0.5 0h1m-0.5 0h1m3 0h1m-0.5 0h1m4.5 0h1m1 0h1m0.5 0h1m0 0h1m0.5 0h1m-28 0.5h1m1.5 0h1m2.5 0h1m1 0h1m2 0h1m1 0h1m6 0h1m-0.5 0h1m-0.5 0h1m0 0h1m4 0h1m0.5 0h1m-23.5 0.5h1m1 0h1m-0.5 0h1m-0.5 0h1m3.5 0h1m2.5 0h1m-0.5 0h1m0 0h1m0 0h1m0 0h1m7 0h1m-28.5 0.5h1m5.5 0h1m0.5 0h1m0 0h1m3 0h1m2 0h1m1 0h1m6.5 0h1m-0.5 0h1m-23.5 0.5h1m-0.5 0h1m1.5 0h1m-0.5 0h1m-0.5 0h1m5.5 0h1m2.5 0h1m0 0h1m0.5 0h1m0 0h1m0.5 0h1m1.5 0h1m0 0h1m-20.5 0.5h1m1.5 0h1m3.5 0h1m0.5 0h1m8 0h1m0 0h1m-26.5 0.5h1m0.5 0h1m4.5 0h1m0 0h1m-0.5 0h1m-0.5 0h1m2.5 0h1m4 0h1m1 0h1m0.5 0h1m1 0h1m1 0h1m-19 0.5h1m-0.5 0h1m8.5 0h1m1.5 0h1m0.5 0h1m0.5 0h1m2.5 0h1m0 0h1m-26.5 0.5h1m3.5 0h1m0.5 0h1m-0.5 0h1m2.5 0h1m4 0h1m-13.5 0.5h1m3 0h1m8 0h1m8 0h1m1 0h1m-21.5 0.5h1m3 0h1m3 0h1m6.5 0h1m-0.5 0h1m1 0h1m-0.5 0h1m1 0h1m-29 0.5h1m1 0h1m2.5 0h1m-0.5 0h1m0 0h1m11 0h1m-0.5 0h1m5.5 0h1m-0.5 0h1m0.5 0h1m-26.5 0.5h1m0 0h1m8.5 0h1m1 0h1m1 0h1m1 0h1m4 0h1m1.5 0h1m-26 0.5h1m-0.5 0h1m0 0h1m1.5 0h1m-0.5 0h1m7 0h1m1.5 0h1m1 0h1m2 0h1m-0.5 0h1m2.5 0h1m-0.5 0h1m0.5 0h1m-25.5 0.5h1m0 0h1m1 0h1m9 0h1m0.5 0h1m8 0h1m-32 0.5h1m3.5 0h1m0 0h1m5.5 0h1m0.5 0h1m6.5 0h1m-0.5 0h1m-0.5 0h1m0 0h1m8 0h1m-0.5 0h1m-25 0.5h1m0.5 0h1m10 0h1m4 0h1m0 0h1m1.5 0h1m1 0h1m-25 0.5h1m0 0h1m0 0h1m8.5 0h1m1.5 0h1m5 0h1m1 0h1m0 0h1m-0.5 0h1m-0.5 0h1m-27 0.5h1m2 0h1m4.5 0h1m8.5 0h1m-0.5 0h1m4.5 0h1m-0.5 0h1m-0.5 0h1m1 0h1m-29.5 0.5h1m2 0h1m-0.5 0h1m-0.5 0h1m8 0h1m6 0h1m6.5 0h1m-26.5 0.5h1m1.5 0h1m8.5 0h1m1.5 0h1m0 0h1m9 0h1m-0.5 0h1m-0.5 0h1m-29 0.5h1m0.5 0h1m-0.5 0h1m0 0h1m0 0h1m3.5 0h1m1.5 0h1m6.5 0h1m0.5 0h1m5 0h1m-29.5 0.5h1m6 0h1m13.5 0h1m6 0h1m-33 0.5h1m1.5 0h1m3.5 0h1m0 0h1m0.5 0h1m0 0h1m9 0h1m2 0h1m1.5 0h1m6.5 0h1m-34 0.5h1m3 0h1m-0.5 0h1m-0.5 0h1m0 0h1m-0.5 0h1m1 0h1m23.5 0h1m-0.5 0h1m-32 0.5h1m0 0h1m16.5 0h1m4.5 0h1m6 0h1m-32 0.5h1m0 0h1m1 0h1m0 0h1m0.5 0h1m0 0h1m-0.5 0h1m11.5 0h1m1.5 0h1m5 0h1m0.5 0h1m0 0h1m-31 0.5h1m4.5 0h1m12 0h1m-22 0.5h1m4.5 0h1m0.5 0h1m0 0h1m8 0h1m5 0h1m6 0h1m0 0h1m0 0h1m-30.5 0.5h1m1.5 0h1m1.5 0h1m24.5 0h1m-31 0.5h1m0.5 0h1m-0.5 0h1m5.5 0h1m11 0h1m-28.5 0.5h1m4.5 0h1m0 0h1m0.5 0h1m19 0h1m4.5 0h1m0.5 0h1m0.5 0h1m-22.5 0.5h1m17.5 0h1m0 0h1m1 0h1m-36 0.5h1m3.5 0h1m2 0h1m1 0h1m18 0h1m3.5 0h1m2 0h1m-32.5 0.5h1m0.5 0h1m-0.5 0h1m0 0h1m1 0h1m11.5 0h1m8 0h1m1.5 0h1m-36.5 0.5h1m7 0h1m19 0h1m-0.5 0h1m4.5 0h1m2.5 0h1m-30.5 0.5h1m1 0h1m23 0h1m-32 0.5h1m4 0h1m1.5 0h1m11.5 0h1m10 0h1m0 0h1m1 0h1m-29 0.5h1m0.5 0h1m14.5 0h1m7 0h1m-0.5 0h1m-0.5 0h1m-0.5 0h1m0 0h1m-43.5 0.5h1m9.5 0h1m0 0h1m-0.5 0h1m0 0h1m-0.5 0h1m0 0h1m0.5 0h1m-0.5 0h1m24.5 0h1m-38 0.5h1m5.5 0h1m0.5 0h1m-0.5 0h1m0.5 0h1m25 0h1m-0.5 0h1m-0.5 0h1m-0.5 0h1m0 0h1m-30 0.5h1m0 0h1m-0.5 0h1m17 0h1m4.5 0h1m-0.5 0h1m-0.5 0h1m-0.5 0h1m1 0h1m-42 0.5h1m9 0h1m0 0h1m0.5 0h1m23.5 0h1m-0.5 0h1m-31 0.5h1m1 0h1m-0.5 0h1m8.5 0h1m21 0h1m-0.5 0h1m-37.5 0.5h1m2 0h1m-0.5 0h1m2 0h1m0.5 0h1m23 0h1m0.5 0h1m-36 0.5h1m0.5 0h1m1.5 0h1m1 0h1m-0.5 0h1m27.5 0h1m1.5 0h1m-32 0.5h1m-0.5 0h1m0 0h1m0 0h1m-0.5 0h1m22.5 0h1m0 0h1m-0.5 0h1m-0.5 0h1m-29 0.5h1m-8.5 0.5h1m8 0h1m0 0h1m22 0h1m-0.5 0h1m2 0h1m-41.5 0.5h1m2.5 0h1m3.5 0h1m3.5 0h1m24.5 0h1m-34.5 0.5h1m22.5 0h1m8 0h1m-0.5 0h1m0.5 0h1m0 0h1m-31.5 0.5h1m1 0h1m24 0h1m-0.5 0h1m0.5 0h1m-0.5 0h1m0.5 0h1m-32.5 0.5h1m2 0h1m-0.5 0h1m23 0h1m0 0h1m-28.5 0.5h1m0.5 0.5h1m26.5 0h1m1 0h1m-36.5 0.5h1m2.5 0h1m1 0h1m0 0h1m23.5 0h1m2 0h1m0 0h1m-33.5 0.5h1m1.5 0h1m-0.5 0h1m-0.5 0h1m0 0h1m25 0h1m1 0h1m0.5 0h1m-31 0.5h1m23.5 0h1m2.5 0h1m-33.5 1h1m2 0h1m0.5 0h1m12.5 0h1m9.5 0h1m0.5 0h1m-0.5 0h1m2 0h1m-41.5 0.5h1m2 0h1m3 0h1m30 0h1m-38 0.5h1m4.5 0h1m3 0h1m-0.5 0h1m25 0h1m-0.5 0h1m-38 0.5h1m5 0h1m0 0h1m26 0h1m-0.5 0h1m4.5 0h1m-35 0.5h1m-0.5 0h1m1.5 0h1m24.5 0h1m-31.5 0.5h1m0.5 0h1m2 0h1m27 0h1m0 0h1m-33.5 0.5h1m0.5 0h1m2.5 0h1m-0.5 0h1m23.5 0h1m0 0h1m2.5 0h1m-35.5 0.5h1m0.5 0h1m3 0h1m24 0h1m0 0h1m-29.5 0.5h1m0 0h1m-5.5 0.5h1m0 0h1m0.5 0h1m0.5 0h1m0.5 0h1m22 0h1m4.5 0h1m-0.5 0h1m-31.5 0.5h1m-0.5 0h1m-0.5 0h1m24 0h1m-26 0.5h1m22.5 0h1m0 0h1m0 0h1m1.5 0h1m0.5 0h1m-35.5 0.5h1m1 0h1m1 0h1m1 0h1m22 0h1m2 0h1m-35.5 0.5h1m5.5 0h1m0.5 0h1m21.5 0h1m1.5 0h1m-32.5 0.5h1m5.5 0h1m22 0h1m0 0h1m-32 0.5h1m2 0h1m0.5 0h1m0.5 0h1m23.5 0h1m-0.5 0h1m0 0h1m-32.5 0.5h1m1.5 0h1m-0.5 0h1m26 0h1m-0.5 0h1m2 0h1m-0.5 0h1m-32.5 0.5h1m1.5 0h1m22.5 0h1m0 0h1m-0.5 0h1m-30 0.5h1m3 0h1m-0.5 0h1m25.5 0h1m2 0h1m-34 0.5h1m-0.5 0h1m0 0h1m0.5 0h1m23.5 0h1m1 0h1m1 0h1m-0.5 0h1m-0.5 0h1m-32.5 0.5h1m25 0h1m1 0h1m-31 0.5h1m25 0h1m0.5 0h1m0 0h1m-26.5 0.5h1m-0.5 0h1m28.5 0h1m-34.5 0.5h1m1 0h1m-0.5 0h1m1 0h1m-0.5 0h1m0 0h1m19.5 0h1m0 0h1m-33.5 0.5h1m3 0h1m1 0h1m0 0h1m3 0h1m21 0h1m0.5 0h1m0 0h1m-36.5 0.5h1m6 0h1m2 0h1m19 0h1m1.5 0h1m-38.5 0.5h1m9.5 0h1m2.5 0h1m-0.5 0h1m-0.5 0h1m21 0h1m-28 0.5h1m0 0h1m26 0h1m4 0h1m-33.5 0.5h1m0 0h1m0.5 0h1m23.5 0h1m2.5 0h1m-33.5 0.5h1m-0.5 0h1m0.5 0h1m-0.5 0h1m2 0h1m-0.5 0h1m-0.5 0h1m20 0h1m0 0h1m0 0h1m-27.5 0.5h1m0.5 0h1m0 0h1m19 0h1m3 0h1m0.5 0h1m-30.5 0.5h1m0.5 0h1m2.5 0h1m19.5 0h1m1 0h1m1.5 0h1m-37 0.5h1m5 0h1m0 0h1m2 0h1m0 0h1m0 0h1m16.5 0h1m0 0h1m-28.5 0.5h1m1.5 0h1m0.5 0h1m0.5 0h1m-0.5 0h1m1 0h1m23 0h1m-30.5 0.5h1m15.5 0h1m8.5 0h1m3 0h1m-36 0.5h1m28.5 0h1m-0.5 0h1m-23 0.5h1m20 0h1m-0.5 0h1m0.5 0h1m0.5 0h1m-28.5 0.5h1m0 0h1m0.5 0h1m0 0h1m0 0h1m0 0h1m-0.5 0h1m-0.5 0h1m14.5 0h1m2.5 0h1m-0.5 0h1m1 0h1m-29 0.5h1m2.5 0h1m1 0h1m-0.5 0h1m16 0h1m0.5 0h1m-27 0.5h1m25 0h1m-30 0.5h1m6.5 0h1m0 0h1m0 0h1m15.5 0h1m3 0h1m-25 0.5h1m0.5 0h1m2.5 0h1m-0.5 0h1m13 0h1m1.5 0h1m3 0h1m1 0h1m-24.5 0.5h1m0 0h1m-0.5 0h1m13 0h1m0 0h1m7.5 0h1m-37 0.5h1m-0.5 0h1m5 0h1m1 0h1m2 0h1m12.5 0h1m-0.5 0h1m0.5 0h1m1 0h1m4 0h1m-38 0.5h1m7.5 0h1m0.5 0h1m2 0h1m1.5 0h1m11 0h1m-0.5 0h1m-18 0.5h1m3.5 0h1m-0.5 0h1m13.5 0h1m0.5 0h1m0.5 0h1m5 0h1m-36 0.5h1m1.5 0h1m1.5 0h1m0 0h1m-0.5 0h1m1.5 0h1m0 0h1m1 0h1m8.5 0h1m1.5 0h1m0.5 0h1m-31.5 0.5h1m6.5 0h1m2 0h1m-0.5 0h1m4 0h1m-0.5 0h1m9.5 0h1m-24.5 0.5h1m1 0h1m2.5 0h1m3.5 0h1m2 0h1m9 0h1m1 0h1m0 0h1m-0.5 0h1m2 0h1m-32 0.5h1m3 0h1m0 0h1m2 0h1m1 0h1m0 0h1m0.5 0h1m-0.5 0h1m2 0h1m9.5 0h1m-0.5 0h1m-21 0.5h1m0 0h1m0 0h1m5 0h1m6 0h1m-0.5 0h1m1 0h1m0 0h1m0 0h1m-0.5 0h1m-0.5 0h1m0 0h1m1 0h1m0 0h1m3.5 0h1m1 0h1m-34.5 0.5h1m1.5 0h1m1 0h1m-0.5 0h1m2 0h1m1 0h1m0 0h1m-0.5 0h1m3.5 0h1m0.5 0h1m0 0h1m0.5 0h1m0 0h1m0.5 0h1m3 0h1m2 0h1m0 0h1m3 0h1m-32.5 0.5h1m-0.5 0h1m0 0h1m-0.5 0h1m2.5 0h1m0 0h1m3.5 0h1m0.5 0h1m4.5 0h1m4.5 0h1m10 0h1m-36.5 0.5h1m-0.5 0h1m0 0h1m0.5 0h1m2.5 0h1m2 0h1m0.5 0h1m1.5 0h1m1.5 0h1m2.5 0h1m-0.5 0h1m1 0h1m1 0h1m1 0h1m-26.5 0.5h1m0 0h1m1.5 0h1m2.5 0h1m-0.5 0h1m-0.5 0h1m-0.5 0h1m0 0h1m-0.5 0h1m-0.5 0h1m1.5 0h1m0 0h1m-0.5 0h1m3 0h1m2 0h1m-20.5 0.5h1m-0.5 0h1m1 0h1m0 0h1m-0.5 0h1m2 0h1m-0.5 0h1m-0.5 0h1m2.5 0h1m10 0h1m3.5 0h1m-32.5 0.5h1m3.5 0h1m0.5 0h1m-0.5 0h1m3 0h1m0.5 0h1m-0.5 0h1m0 0h1m0 0h1m1.5 0h1m1 0h1m1 0h1m6 0h1m6 0h1m-30 0.5h1m0 0h1m0.5 0h1m-0.5 0h1m-0.5 0h1m1 0h1m1 0h1m2 0h1m0.5 0h1m-14.5 0.5h1m0 0h1m0.5 0h1m1 0h1m1 0h1m4.5 0h1m2.5 0h1m1 0h1m0 0h1m-21.5 0.5h1m1 0h1m3.5 0h1m-0.5 0h1m0.5 0h1m0 0h1m0 0h1m-0.5 0h1m1 0h1m1.5 0h1m0 0h1m1 0h1m2.5 0h1m-21 0.5h1m1 0h1m4 0h1m-0.5 0h1m0 0h1m2.5 0h1m0.5 0h1m2.5 0h1m-0.5 0h1m0.5 0h1m1 0h1m0.5 0h1m-31 0.5h1m5.5 0h1m0.5 0h1m0 0h1m3.5 0h1m1.5 0h1m0.5 0h1m0 0h1m3 0h1m0 0h1m2 0h1m-0.5 0h1m5 0h1m-21.5 0.5h1m-0.5 0h1m0.5 0h1m1 0h1m1.5 0h1m1 0h1m2 0h1m1 0h1m-17 0.5h1m2 0h1m8 0h1m-0.5 0h1m-0.5 0h1m3.5 0h1m-21.5 0.5h1m1 0h1m0 0h1m4.5 0h1m7.5 0h1m-19.5 0.5h1m5 0h1m-0.5 0h1m-0.5 0h1m0 0h1m-0.5 0h1m1.5 0h1m0 0h1m7 0h1m5.5 0h1m-30.5 0.5h1m2 0h1m1.5 0h1m-0.5 0h1m1 0h1m0 0h1m0.5 0h1m0 0h1m5.5 0h1m7.5 0h1m-26.5 0.5h1m7 0h1m1.5 0h1m7 0h1m3 0h1m-30.5 0.5h1m11.5 0h1m0 0h1m-0.5 0h1m4 0h1m2 0h1m0 0h1m2 0h1m8 0h1m0 0h1m-10.5 0.5h1" stroke="#e02a1c" stroke-width="1.0" fill="none" opacity="0.88"/>
<path d="M87.5 527.5h1m6.5 13.5h1m-19.5 11.5h1m0 5.5h1m22 19.5h1m-19 1.5h1m-8 3.5h1m23 2h1m-19.5 1h1m10.5 3.5h1m-15.5 5h1m2 0h1m13 1.5h1m-10 2h1m-29.5 2h1m-4.5 0.5h1m19 1h1m15.5 0h1m-8.5 2.5h1m1.5 0h1m-16 1h1m14 0.5h1m-27.5 0.5h1m16.5 0.5h1m-7.5 0.5h1m25 1.5h1m-34.5 1h1m9 1.5h1m-4 1h1m6.5 0.5h1m-1 2h1m21 1h1m-12.5 2h1m-27 5h1m13.5 2h1m-6.5 0.5h1m3.5 1h1m8.5 1.5h1m5.5 0h1m0.5 1.5h1m-2 1h1m-20.5 0.5h1m12 0.5h1m6 2.5h1m-36 0.5h1m23.5 1h1m2 2.5h1m-25.5 4.5h1m36 1h1m-20 5h1m-12.5 2.5h1" stroke="#ee5d50" stroke-width="1.0" fill="none" opacity="0.6"/>
</g>
<path d="M104 531h1m5 6.5h1m-6.5 1h1m-2 8h1m-0.5 0.5h1m1.5 0.5h1m-4 1.5h1m5.5 0.5h1m-5.5 0.5h1m-0.5 1.5h1m-1 0.5h1m-0.5 0h1m-2.5 0.5h1m-0.5 0.5h1m-0.5 0h1m-1.5 1h1m0 0h1m0 0.5h1m0.5 2h1m-5.5 0.5h1m1.5 0h1m-0.5 0.5h1m-3 1h1m0 1h1m-1 1.5h1m-2 1h1m-0.5 0.5h1m-2.5 1.5h1m-0.5 0h1m-2 0.5h1m0 0h1m3.5 0h1m-3 1h1m6 0.5h1m-9.5 1h1m-3 0.5h1m-1 0.5h1m0.5 0h1m1.5 0.5h1m-2.5 0.5h1m2.5 0.5h1m-7 0.5h1m-1 0.5h1m1 1h1m-0.5 0h1m-2 1h1m-1 0.5h1m-2.5 0.5h1m6 0h1m-7.5 0.5h1m3.5 0h1m-6.5 0.5h1m0 0h1m0 0.5h1m-0.5 0h1m0 0h1m-3 1h1m3.5 0h1m-6 0.5h1m-0.5 0h1m2.5 0h1m-3.5 0.5h1m-3 0.5h1m0.5 0h1m-0.5 0.5h1m-0.5 0h1m0 1.5h1m-5 0.5h1m2 0h1m2 0.5h1m-6 2h1m-1 1h1m1.5 0h1m-4.5 0.5h1m1.5 0h1m4.5 0h1m-4.5 1h1m-5 0.5h1m-0.5 0h1m-1.5 0.5h1m0 0h1m-0.5 0h1m-0.5 0.5h1m0.5 0.5h1m0 3.5h1m-0.5 0h1m-6 0.5h1m-0.5 1.5h1m0 0.5h1m1.5 0.5h1m2.5 0h1m-6 0.5h1m-2.5 0.5h1m3 0h1m-5 2.5h1m2 0h1m1 1.5h1m-6.5 3h1m42 0.5h1m-43.5 0.5h1m-1.5 0.5h1m2.5 1.5h1m10.5 0h1m-13 0.5h1m-2.5 4h1m36.5 24.5h1m-40.5 0.5h1" stroke="#f0892f" stroke-width="1.0" fill="none" opacity="0.75"/>
<path d="M236.0 474.3H51.8V656.3H236.0" stroke="#555" stroke-width="1.1" fill="none"/>
<path d="M235.8 473.8V656.8" stroke="#333" stroke-width="1.5" fill="none"/>
<path d="M51.8 654.9h-4.2M51.8 640.7h-3M51.8 626.5h-3M51.8 612.3h-3M51.8 598.1h-3M51.8 583.9h-4.2M51.8 569.7h-3M51.8 555.5h-3M51.8 541.3h-3M51.8 527.1h-3M51.8 512.9h-4.2M51.8 498.7h-3M51.8 484.5h-3M71.8 656.3v4.6M131.9 656.3v4.6M184.3 656.3v4.6M235.9 656.3v4.6M95.3 656.3v3M104.5 656.3v3M111.0 656.3v3M116.1 656.3v3M120.3 656.3v3M123.8 656.3v3M126.8 656.3v3M129.5 656.3v3M147.7 656.3v3M156.9 656.3v3M163.4 656.3v3M168.5 656.3v3M172.7 656.3v3M176.2 656.3v3M179.2 656.3v3M181.9 656.3v3M200.1 656.3v3M209.3 656.3v3M215.8 656.3v3M220.9 656.3v3M225.1 656.3v3M228.6 656.3v3M231.6 656.3v3M234.3 656.3v3M56.8 656.3v3M86.8 656.3v3M96.8 656.3v3" stroke="#3a3a3a" stroke-width="1.0" fill="none"/>
<text x="47.2" y="654.5" text-anchor="middle" transform="rotate(-90 47.2 654.5)" font-size="17.3" letter-spacing="-0.4">0</text>
<text x="47.2" y="581.0" text-anchor="middle" transform="rotate(-90 47.2 581.0)" font-size="17.3" letter-spacing="-0.4">200</text>
<text x="47.2" y="504.7" text-anchor="middle" transform="rotate(-90 47.2 504.7)" font-size="17.3" letter-spacing="-0.4">400</text>
<text x="71.8" y="674.4" text-anchor="middle" font-size="17.8">0</text>
<text x="123.0" y="674.4" font-size="17.8">10<tspan dy="-4.6" font-size="12">4</tspan></text>
<text x="174.8" y="674.4" font-size="17.8">10<tspan dy="-4.6" font-size="12">5</tspan></text>
<text x="219.9" y="674.4" font-size="17.8">10<tspan dy="-4.6" font-size="12">6</tspan></text>
<rect x="102.4" y="526.6" width="115.3" height="128.7" fill="none" stroke="#f2a05f" stroke-width="1.3" rx="1.2"/>
<text x="137.9" y="509.7" text-anchor="middle" font-size="17.3">0.78%</text>
<text x="142.7" y="693.2" text-anchor="middle" font-size="17.3">siNC</text>
<clipPath id="cD277_474"><rect x="278.1" y="474.9" width="48.5" height="180.7"/></clipPath>
<g clip-path="url(#cD277_474)">
<ellipse cx="304.6" cy="617.5" rx="12.5" ry="32.2" fill="#dc2a1c" opacity="1.0" transform="rotate(12 304.6 617.5)" filter="url(#b1)"/>
<path d="M322 526h1m0 0h1m-9 3h1m-3.5 1h1m3 2.5h1m-5.5 1.5h1m5 0.5h1m3.5 0h1m-13 0.5h1m7.5 1h1m2 2.5h1m-9.5 0.5h1m1 1.5h1m1.5 0h1m-8.5 1h1m11.5 1h1m-3.5 0.5h1m-3.5 0.5h1m-2 0.5h1m-3 1.5h1m-6.5 0.5h1m4 0h1m0.5 0h1m-0.5 0h1m4 0.5h1m-11 0.5h1m-0.5 0h1m2.5 0h1m7 0h1m-15 0.5h1m3 0h1m10.5 0h1m-13.5 0.5h1m9 0h1m-15.5 0.5h1m6 0.5h1m1 0h1m-0.5 0h1m3.5 0h1m-19 0.5h1m17.5 0h1m-18 0.5h1m10 0.5h1m5.5 0.5h1m-15.5 0.5h1m5 0h1m-5 0.5h1m10 0h1m-13.5 0.5h1m3 0h1m1.5 0h1m2 0h1m3 0h1m0.5 0h1m-14 0.5h1m1.5 0h1m0.5 0h1m5 0h1m1 0h1m-16 0.5h1m5.5 0h1m1 0h1m0 0h1m-0.5 0h1m-0.5 0h1m-11.5 0.5h1m5.5 0h1m0 0h1m3.5 0h1m-14 0.5h1m0.5 0h1m8.5 0h1m-0.5 0h1m2.5 0h1m0 0h1m-18.5 0.5h1m6.5 0h1m1.5 0h1m-0.5 0h1m-5.5 0.5h1m1.5 0h1m1.5 0h1m0 0h1m0.5 0h1m-9.5 0.5h1m4 0h1m0.5 0h1m0 0h1m-13 0.5h1m12.5 0h1m-21 0.5h1m9.5 0h1m7.5 0h1m-8.5 0.5h1m-0.5 0h1m0 0h1m-0.5 0h1m1.5 0h1m5.5 0h1m-9 0.5h1m2 0h1m-9 0.5h1m3 0h1m-10.5 0.5h1m2.5 0h1m0.5 0h1m4.5 0h1m-0.5 0h1m1 0h1m-0.5 0h1m0 0h1m-14.5 0.5h1m1 0h1m1 0h1m6 0h1m-12 0.5h1m3.5 0h1m0.5 0h1m4.5 0h1m-0.5 0h1m-3.5 0.5h1m-0.5 0h1m-0.5 0h1m1 0h1m1.5 0h1m-15.5 0.5h1m4 0h1m1.5 0h1m1.5 0h1m0.5 0h1m-0.5 0h1m2 0h1m0 0h1m0 0h1m-16 0.5h1m0 0h1m3.5 0h1m1 0h1m0 0h1m2 0h1m5 0h1m-19.5 0.5h1m1.5 0h1m-0.5 0h1m-0.5 0h1m2.5 0h1m0 0h1m1.5 0h1m-9 0.5h1m1 0h1m-12.5 0.5h1m4 0h1m3 0h1m0.5 0h1m1 0h1m2.5 0h1m1 0h1m1 0h1m1 0h1m3.5 0h1m-20 0.5h1m-0.5 0h1m0 0h1m3 0h1m0 0h1m0 0h1m0 0h1m2 0h1m-8 0.5h1m-0.5 0h1m-0.5 0h1m1 0h1m2.5 0h1m0 0h1m1 0h1m-20.5 0.5h1m1.5 0h1m2.5 0h1m0 0h1m2 0h1m-0.5 0h1m3 0h1m0 0h1m0 0h1m0.5 0h1m-15.5 0.5h1m0.5 0h1m1 0h1m0.5 0h1m-0.5 0h1m3.5 0h1m-0.5 0h1m0 0h1m1 0h1m0.5 0h1m1 0h1m3 0h1m-22.5 0.5h1m2 0h1m-0.5 0h1m0.5 0h1m5.5 0h1m-0.5 0h1m0.5 0h1m-0.5 0h1m-24 0.5h1m9.5 0h1m3 0h1m-0.5 0h1m0.5 0h1m0 0h1m0.5 0h1m0 0h1m4.5 0h1m-23 0.5h1m1 0h1m4.5 0h1m3 0h1m0.5 0h1m1.5 0h1m0 0h1m0 0h1m0 0h1m1 0h1m-0.5 0h1m-17.5 0.5h1m4.5 0h1m-0.5 0h1m0 0h1m-0.5 0h1m1 0h1m2.5 0h1m0.5 0h1m0 0h1m-19.5 0.5h1m4 0h1m0 0h1m4 0h1m-0.5 0h1m1.5 0h1m0.5 0h1m-0.5 0h1m1 0h1m1 0h1m-15.5 0.5h1m1 0h1m0 0h1m-0.5 0h1m0 0h1m0 0h1m0.5 0h1m0.5 0h1m0 0h1m0 0h1m-0.5 0h1m1 0h1m1 0h1m-0.5 0h1m-22 0.5h1m2 0h1m0 0h1m1.5 0h1m1.5 0h1m3 0h1m0.5 0h1m-0.5 0h1m3 0h1m-0.5 0h1m0 0h1m3 0h1m-42 0.5h1m13.5 0h1m5.5 0h1m0.5 0h1m2 0h1m1.5 0h1m0 0h1m-0.5 0h1m-0.5 0h1m0.5 0h1m7 0h1m-20 0.5h1m1 0h1m4 0h1m-0.5 0h1m-0.5 0h1m0 0h1m-15 0.5h1m4 0h1m3 0h1m0 0h1m0 0h1m0 0h1m-0.5 0h1m-0.5 0h1m-0.5 0h1m-0.5 0h1m0 0h1m3.5 0h1m1 0h1m-18.5 0.5h1m0.5 0h1m1 0h1m2 0h1m0.5 0h1m-0.5 0h1m0 0h1m0.5 0h1m-0.5 0h1m0 0h1m1.5 0h1m-0.5 0h1m-0.5 0h1m-25.5 0.5h1m11 0h1m2 0h1m-0.5 0h1m0 0h1m-0.5 0h1m0 0h1m-0.5 0h1m0 0h1m-0.5 0h1m2.5 0h1m0 0h1m4.5 0h1m-37.5 0.5h1m19 0h1m1 0h1m0.5 0h1m2.5 0h1m0 0h1m-0.5 0h1m1 0h1m-0.5 0h1m-16.5 0.5h1m1.5 0h1m1 0h1m1.5 0h1m-0.5 0h1m0.5 0h1m1.5 0h1m0 0h1m-0.5 0h1m-0.5 0h1m5.5 0h1m-23.5 0.5h1m1 0h1m3 0h1m1 0h1m-0.5 0h1m0 0h1m0.5 0h1m3.5 0h1m-0.5 0h1m-0.5 0h1m1 0h1m2.5 0h1m-22.5 0.5h1m3 0h1m-0.5 0h1m0 0h1m1.5 0h1m1 0h1m0.5 0h1m0 0h1m-0.5 0h1m0.5 0h1m1.5 0h1m-22 0.5h1m3.5 0h1m-0.5 0h1m3 0h1m0 0h1m0.5 0h1m-0.5 0h1m-0.5 0h1m-0.5 0h1m3 0h1m-0.5 0h1m0.5 0h1m-0.5 0h1m-19.5 0.5h1m5 0h1m1 0h1m0.5 0h1m0 0h1m-0.5 0h1m-0.5 0h1m0 0h1m3.5 0h1m-0.5 0h1m1 0h1m-0.5 0h1m-16 0.5h1m0 0h1m-0.5 0h1m1.5 0h1m0 0h1m0.5 0h1m-0.5 0h1m-0.5 0h1m1 0h1m-11.5 0.5h1m1.5 0h1m0.5 0h1m-0.5 0h1m2.5 0h1m1 0h1m0 0h1m-0.5 0h1m0 0h1m1 0h1m-0.5 0h1m-0.5 0h1m1 0h1m-0.5 0h1m1 0h1m-30.5 0.5h1m9 0h1m1.5 0h1m0.5 0h1m1 0h1m-0.5 0h1m0 0h1m0 0h1m0 0h1m9.5 0h1m-0.5 0h1m-30 0.5h1m8 0h1m1 0h1m0 0h1m0 0h1m0.5 0h1m3.5 0h1m0 0h1m-0.5 0h1m-0.5 0h1m4.5 0h1m1 0h1m-18 0.5h1m-0.5 0h1m0 0h1m1.5 0h1m0 0h1m0 0h1m1 0h1m-0.5 0h1m0 0h1m-0.5 0h1m0 0h1m1 0h1m-18 0.5h1m1 0h1m0 0h1m-0.5 0h1m0 0h1m0 0h1m0.5 0h1m0 0h1m2 0h1m0 0h1m2 0h1m6.5 0h1m-28.5 0.5h1m5 0h1m0.5 0h1m0 0h1m0.5 0h1m3 0h1m-0.5 0h1m-0.5 0h1m-0.5 0h1m-0.5 0h1m0.5 0h1m-0.5 0h1m0.5 0h1m-0.5 0h1m-0.5 0h1m-0.5 0h1m0 0h1m2.5 0h1m-25.5 0.5h1m3.5 0h1m4.5 0h1m1 0h1m0.5 0h1m0.5 0h1m0 0h1m0 0h1m-0.5 0h1m-0.5 0h1m0 0h1m0 0h1m2 0h1m-26.5 0.5h1m6.5 0h1m2 0h1m0.5 0h1m0 0h1m0.5 0h1m-0.5 0h1m2 0h1m0 0h1m-0.5 0h1m0 0h1m2.5 0h1m0.5 0h1m0.5 0h1m-22 0.5h1m1 0h1m-0.5 0h1m-0.5 0h1m1 0h1m0.5 0h1m-0.5 0h1m-0.5 0h1m-0.5 0h1m0 0h1m0 0h1m-0.5 0h1m-0.5 0h1m0 0h1m1 0h1m0 0h1m0.5 0h1m1 0h1m0 0h1m0 0h1m0 0h1m-29 0.5h1m-0.5 0h1m1 0h1m5.5 0h1m2 0h1m1 0h1m1 0h1m3.5 0h1m1.5 0h1m0 0h1m-24.5 0.5h1m4.5 0h1m0 0h1m1 0h1m0 0h1m-0.5 0h1m2.5 0h1m-0.5 0h1m1 0h1m-0.5 0h1m-0.5 0h1m3 0h1m-0.5 0h1m-0.5 0h1m0.5 0h1m-28 0.5h1m12 0h1m1 0h1m-0.5 0h1m1.5 0h1m-0.5 0h1m-0.5 0h1m1 0h1m-0.5 0h1m-0.5 0h1m-0.5 0h1m0.5 0h1m-0.5 0h1m2 0h1m0.5 0h1m2 0h1m-31.5 0.5h1m7 0h1m3.5 0h1m0.5 0h1m-0.5 0h1m-0.5 0h1m0 0h1m-0.5 0h1m0 0h1m-0.5 0h1m-0.5 0h1m0.5 0h1m1 0h1m0 0h1m0.5 0h1m0 0h1m5 0h1m-28.5 0.5h1m0 0h1m4 0h1m-0.5 0h1m1 0h1m-0.5 0h1m-0.5 0h1m1 0h1m1.5 0h1m3 0h1m4.5 0h1m-23.5 0.5h1m0.5 0h1m0 0h1m1 0h1m1 0h1m0 0h1m1 0h1m0.5 0h1m-0.5 0h1m-0.5 0h1m0 0h1m-0.5 0h1m-0.5 0h1m0 0h1m-0.5 0h1m0.5 0h1m0 0h1m-0.5 0h1m3.5 0h1m0 0h1m-25.5 0.5h1m0.5 0h1m2 0h1m0 0h1m2 0h1m0.5 0h1m0.5 0h1m-0.5 0h1m0 0h1m-0.5 0h1m-0.5 0h1m-0.5 0h1m0 0h1m0 0h1m2.5 0h1m-0.5 0h1m0 0h1m-23 0.5h1m5 0h1m0 0h1m0.5 0h1m0.5 0h1m0 0h1m1.5 0h1m1.5 0h1m1 0h1m-0.5 0h1m0.5 0h1m1 0h1m2.5 0h1m-26.5 0.5h1m1.5 0h1m2.5 0h1m-0.5 0h1m-0.5 0h1m0 0h1m3.5 0h1m1 0h1m0 0h1m-0.5 0h1m-0.5 0h1m-0.5 0h1m-0.5 0h1m-0.5 0h1m0 0h1m0 0h1m4 0h1m0 0h1m-32.5 0.5h1m10.5 0h1m-0.5 0h1m2 0h1m0 0h1m-0.5 0h1m3 0h1m1.5 0h1m-0.5 0h1m0 0h1m0 0h1m-30.5 0.5h1m10.5 0h1m3 0h1m0 0h1m0.5 0h1m1 0h1m-0.5 0h1m-0.5 0h1m2 0h1m0 0h1m0 0h1m0 0h1m0 0h1m0 0h1m2.5 0h1m4 0h1m-32.5 0.5h1m4.5 0h1m1 0h1m0.5 0h1m-0.5 0h1m-0.5 0h1m1 0h1m-0.5 0h1m0 0h1m-0.5 0h1m0 0h1m0 0h1m0.5 0h1m-0.5 0h1m-0.5 0h1m0 0h1m-0.5 0h1m-0.5 0h1m1 0h1m1.5 0h1m0 0h1m-26.5 0.5h1m1 0h1m3.5 0h1m0.5 0h1m0 0h1m0 0h1m-0.5 0h1m-0.5 0h1m0 0h1m-0.5 0h1m1 0h1m-0.5 0h1m0.5 0h1m0.5 0h1m-0.5 0h1m0 0h1m-0.5 0h1m0.5 0h1m7 0h1m-29.5 0.5h1m3 0h1m0 0h1m0.5 0h1m-0.5 0h1m-0.5 0h1m1 0h1m-0.5 0h1m0.5 0h1m-0.5 0h1m-0.5 0h1m0 0h1m0 0h1m-0.5 0h1m-0.5 0h1m-0.5 0h1m0 0h1m-0.5 0h1m1 0h1m1 0h1m-0.5 0h1m0.5 0h1m1 0h1m-30.5 0.5h1m1 0h1m4 0h1m0 0h1m0.5 0h1m0.5 0h1m-0.5 0h1m-0.5 0h1m2 0h1m0 0h1m0.5 0h1m1.5 0h1m0.5 0h1m1 0h1m1 0h1m0 0h1m0.5 0h1m2 0h1m-33.5 0.5h1m10 0h1m0.5 0h1m1.5 0h1m-0.5 0h1m3 0h1m0 0h1m-0.5 0h1m0.5 0h1m1.5 0h1m-0.5 0h1m-0.5 0h1m0.5 0h1m-0.5 0h1m-0.5 0h1m2.5 0h1m-34 0.5h1m1 0h1m2 0h1m1.5 0h1m-0.5 0h1m1 0h1m0 0h1m2.5 0h1m0 0h1m-0.5 0h1m0 0h1m0 0h1m0 0h1m-0.5 0h1m-0.5 0h1m0.5 0h1m-0.5 0h1m-0.5 0h1m0 0h1m1.5 0h1m0 0h1m0 0h1m-0.5 0h1m-0.5 0h1m0 0h1m-23.5 0.5h1m-0.5 0h1m3.5 0h1m0.5 0h1m-0.5 0h1m0.5 0h1m-0.5 0h1m-0.5 0h1m0 0h1m-0.5 0h1m0 0h1m0.5 0h1m0 0h1m-0.5 0h1m0.5 0h1m-0.5 0h1m1.5 0h1m1 0h1m-0.5 0h1m2.5 0h1m-30 0.5h1m3 0h1m1.5 0h1m-0.5 0h1m-0.5 0h1m1.5 0h1m-0.5 0h1m1.5 0h1m-0.5 0h1m0 0h1m0 0h1m0.5 0h1m2 0h1m0 0h1m6 0h1m-0.5 0h1m-25.5 0.5h1m-0.5 0h1m3 0h1m0 0h1m0.5 0h1m2 0h1m3 0h1m4.5 0h1m0.5 0h1m0.5 0h1m-21 0.5h1m2 0h1m1.5 0h1m-0.5 0h1m-0.5 0h1m4 0h1m-0.5 0h1m2 0h1m-0.5 0h1m2.5 0h1m2 0h1m-27.5 0.5h1m1.5 0h1m0 0h1m5 0h1m1 0h1m2 0h1m0.5 0h1m0.5 0h1m1 0h1m0 0h1m0.5 0h1m0 0h1m0 0h1m1.5 0h1m0 0h1m0 0h1m-0.5 0h1m-33 0.5h1m10 0h1m0.5 0h1m2 0h1m0 0h1m0 0h1m0 0h1m0 0h1m2 0h1m-0.5 0h1m0.5 0h1m2 0h1m-0.5 0h1m0 0h1m1 0h1m-32 0.5h1m2.5 0h1m1 0h1m3.5 0h1m0 0h1m-0.5 0h1m0.5 0h1m1 0h1m-0.5 0h1m1 0h1m0 0h1m5.5 0h1m1 0h1m-0.5 0h1m2 0h1m-37 0.5h1m9 0h1m1.5 0h1m0 0h1m1 0h1m-0.5 0h1m0 0h1m1.5 0h1m0 0h1m3.5 0h1m-0.5 0h1m4.5 0h1m0.5 0h1m0.5 0h1m0 0h1m-0.5 0h1m1.5 0h1m-32 0.5h1m6 0h1m0 0h1m1 0h1m2 0h1m-0.5 0h1m3 0h1m0 0h1m3.5 0h1m1 0h1m0.5 0h1m4.5 0h1m-36 0.5h1m0.5 0h1m2 0h1m5.5 0h1m1.5 0h1m4 0h1m1.5 0h1m-0.5 0h1m-0.5 0h1m0.5 0h1m2 0h1m0.5 0h1m-0.5 0h1m-0.5 0h1m-0.5 0h1m0.5 0h1m0 0h1m-29.5 0.5h1m0.5 0h1m4.5 0h1m1 0h1m2 0h1m-0.5 0h1m-0.5 0h1m0 0h1m-0.5 0h1m-0.5 0h1m0.5 0h1m-0.5 0h1m-0.5 0h1m0.5 0h1m2.5 0h1m1 0h1m-0.5 0h1m1 0h1m2 0h1m-26.5 0.5h1m-0.5 0h1m0 0h1m1 0h1m2.5 0h1m0 0h1m1 0h1m2.5 0h1m0.5 0h1m0 0h1m0.5 0h1m-0.5 0h1m0.5 0h1m0 0h1m0.5 0h1m-0.5 0h1m-0.5 0h1m3.5 0h1m-39.5 0.5h1m7 0h1m-0.5 0h1m1 0h1m1.5 0h1m3.5 0h1m-0.5 0h1m0 0h1m-0.5 0h1m0 0h1m3.5 0h1m0 0h1m1.5 0h1m-0.5 0h1m0.5 0h1m1.5 0h1m0 0h1m2 0h1m-33 0.5h1m1 0h1m-0.5 0h1m3 0h1m1 0h1m0.5 0h1m3.5 0h1m3.5 0h1m0.5 0h1m2 0h1m0.5 0h1m1 0h1m-0.5 0h1m-0.5 0h1m-0.5 0h1m2 0h1m-39.5 0.5h1m10 0h1m0 0h1m3 0h1m3.5 0h1m2 0h1m1.5 0h1m4 0h1m0 0h1m0 0h1m5.5 0h1m-33.5 0.5h1m3.5 0h1m2.5 0h1m1.5 0h1m1.5 0h1m-0.5 0h1m0 0h1m0.5 0h1m0.5 0h1m1.5 0h1m0 0h1m2 0h1m0.5 0h1m-32 0.5h1m3.5 0h1m3 0h1m-0.5 0h1m-0.5 0h1m-0.5 0h1m-0.5 0h1m0.5 0h1m5 0h1m1.5 0h1m7 0h1m0 0h1m-0.5 0h1m0 0h1m-0.5 0h1m1 0h1m-0.5 0h1m1 0h1m-26 0.5h1m0 0h1m-0.5 0h1m3.5 0h1m4 0h1m7 0h1m1 0h1m0 0h1m1 0h1m1 0h1m-31 0.5h1m4 0h1m3.5 0h1m1.5 0h1m-0.5 0h1m1.5 0h1m0 0h1m-0.5 0h1m5.5 0h1m1 0h1m-25.5 0.5h1m0 0h1m2.5 0h1m4.5 0h1m1 0h1m0.5 0h1m4 0h1m4.5 0h1m-0.5 0h1m0 0h1m1.5 0h1m-19.5 0.5h1m3 0h1m0 0h1m0 0h1m-0.5 0h1m0.5 0h1m3 0h1m2.5 0h1m0 0h1m2.5 0h1m0 0h1m-44 0.5h1m11.5 0h1m2 0h1m0.5 0h1m5 0h1m3.5 0h1m7 0h1m-0.5 0h1m0 0h1m3 0h1m-27.5 0.5h1m6 0h1m1.5 0h1m7 0h1m3.5 0h1m0 0h1m2 0h1m-41.5 0.5h1m-0.5 0h1m9.5 0h1m-0.5 0h1m1 0h1m0 0h1m5.5 0h1m1.5 0h1m3.5 0h1m6.5 0h1m1.5 0h1m-0.5 0h1m4 0h1m-39 0.5h1m16 0h1m1.5 0h1m4 0h1m7 0h1m-30.5 0.5h1m14.5 0h1m1.5 0h1m0.5 0h1m4 0h1m7.5 0h1m-30 0.5h1m0.5 0h1m-0.5 0h1m4.5 0h1m2.5 0h1m11.5 0h1m2 0h1m2 0h1m-42.5 0.5h1m2.5 0h1m4.5 0h1m2.5 0h1m1.5 0h1m7 0h1m2 0h1m12 0h1m0 0h1m-32 0.5h1m0.5 0h1m0 0h1m-0.5 0h1m9 0h1m-0.5 0h1m1.5 0h1m0.5 0h1m8 0h1m-0.5 0h1m0 0h1m-30.5 0.5h1m1 0h1m0 0h1m2.5 0h1m1 0h1m0.5 0h1m5.5 0h1m4 0h1m7 0h1m0.5 0h1m0.5 0h1m-37 0.5h1m5.5 0h1m12.5 0h1m6.5 0h1m6 0h1m2 0h1m-33 0.5h1m2 0h1m-0.5 0h1m5 0h1m2 0h1m14.5 0h1m-32.5 0.5h1m0 0h1m1 0h1m0 0h1m3 0h1m2.5 0h1m3.5 0h1m3.5 0h1m1.5 0h1m-25 0.5h1m2 0h1m-0.5 0h1m0 0h1m1.5 0h1m-0.5 0h1m0 0h1m9 0h1m2 0h1m10 0h1m-28 0.5h1m1.5 0h1m3 0h1m8.5 0h1m9 0h1m1.5 0h1m-30.5 0.5h1m11 0h1m2 0h1m17.5 0h1m-39.5 0.5h1m1.5 0h1m5 0h1m8 0h1m-0.5 0h1m16 0h1m1 0h1m-33.5 0.5h1m0.5 0h1m0 0h1m10 0h1m1 0h1m11.5 0h1m-0.5 0h1m-0.5 0h1m1.5 0h1m-21 0.5h1m8 0h1m4.5 0h1m-0.5 0h1m0 0h1m0 0h1m-0.5 0h1m1 0h1m-0.5 0h1m-0.5 0h1m-38 0.5h1m-0.5 0h1m3 0h1m3 0h1m21.5 0h1m1 0h1m0 0h1m4 0h1m-32 0.5h1m4.5 0h1m4.5 0h1m12.5 0h1m0 0h1m2 0h1m-36 0.5h1m3 0h1m1 0h1m-0.5 0h1m23 0h1m1.5 0h1m-39 0.5h1m4 0h1m2.5 0h1m0 0h1m1 0h1m12.5 0h1m2 0h1m6.5 0h1m-32 0.5h1m4.5 0h1m26 0h1m2.5 0h1m-38 0.5h1m-0.5 0h1m1 0h1m-0.5 0h1m1 0h1m0.5 0h1m-0.5 0h1m9.5 0h1m0.5 0h1m11 0h1m0.5 0h1m0 0h1m-35 0.5h1m1 0h1m4 0h1m-0.5 0h1m7.5 0h1m6.5 0h1m9 0h1m2 0h1m-34.5 0.5h1m2.5 0h1m0 0h1m7.5 0h1m15 0h1m0 0h1m0 0h1m-29 0.5h1m25 0h1m1 0h1m1 0h1m-39 0.5h1m1 0h1m-0.5 0h1m4.5 0h1m5 0h1m2 0h1m16 0h1m0 0h1m0 0h1m2.5 0h1m-37.5 0.5h1m5 0h1m1 0h1m8 0h1m-20.5 0.5h1m5.5 0h1m-0.5 0h1m1 0h1m22.5 0h1m-0.5 0h1m-0.5 0h1m0 0h1m1 0h1m0.5 0h1m0 0h1m-34.5 0.5h1m27 0h1m-0.5 0h1m-0.5 0h1m1.5 0h1m0.5 0h1m-37 0.5h1m3 0h1m27 0h1m1.5 0h1m3 0h1m-40.5 0.5h1m2 0h1m2 0h1m-0.5 0h1m-0.5 0h1m-10 0.5h1m4.5 0h1m27.5 0h1m4 0h1m2 0h1m-42 0.5h1m-0.5 0h1m0.5 0h1m2.5 0h1m7 0h1m6 0h1m11 0h1m1.5 0h1m-0.5 0h1m0.5 0h1m1 0h1m-37.5 0.5h1m3.5 0h1m27.5 0h1m-2.5 0.5h1m-0.5 0h1m1.5 0h1m1.5 0h1m-38.5 0.5h1m2.5 0h1m10.5 0h1m12 0h1m0.5 0h1m2.5 0h1m-39 0.5h1m7 0h1m0 0h1m9.5 0h1m16.5 0h1m-31.5 0.5h1m11 0h1m1 0h1m6 0h1m8 0h1m0 0h1m0.5 0h1m-40.5 0.5h1m7 0h1m0 0h1m25.5 0h1m-0.5 0h1m2 0h1m0 0h1m1.5 0h1m-44 0.5h1m-0.5 0h1m3.5 0h1m3 0h1m26.5 0h1m0 0h1m0 0h1m-0.5 0h1m0.5 0h1m0.5 0h1m0.5 0h1m-38 0.5h1m1 0h1m-0.5 0h1m1 0h1m11 0h1m14 0h1m-39 0.5h1m3 0h1m1.5 0h1m1 0h1m0 0h1m10.5 0h1m7.5 0h1m4.5 0h1m2 0h1m-0.5 0h1m-0.5 0h1m4.5 0h1m-21.5 0.5h1m10.5 0h1m0 0h1m4 0h1m0.5 0h1m-36.5 0.5h1m2 0h1m26.5 0h1m0 0h1m-32 0.5h1m0 0h1m-0.5 0h1m26.5 0h1m1.5 0h1m-33 0.5h1m0 0h1m17 0h1m7.5 0h1m1 0h1m2 0h1m-36 0.5h1m3 0h1m-0.5 0h1m17 0h1m6 0h1m3 0h1m-34 0.5h1m2.5 0h1m-0.5 0h1m24.5 0h1m0.5 0h1m0 0h1m-32.5 0.5h1m2.5 0h1m24 0h1m0 0h1m2.5 0h1m-34 0.5h1m3 0h1m-0.5 0h1m-6.5 0.5h1m1 0h1m2 0h1m25.5 0h1m1 0h1m-41.5 0.5h1m2.5 0h1m5.5 0h1m0.5 0h1m25 0h1m4.5 0h1m-36 0.5h1m3.5 0h1m23 0h1m1 0h1m2.5 0h1m2.5 0h1m-44.5 0.5h1m7 0h1m0.5 0h1m0 0h1m22 0h1m-0.5 0h1m0 0h1m-35 0.5h1m0.5 0h1m1.5 0h1m0 0h1m2 0h1m-0.5 0h1m0 0h1m23 0h1m-29 0.5h1m0 0h1m-0.5 0h1m1 0h1m22.5 0h1m-0.5 0h1m0 0h1m0 0h1m1 0h1m-0.5 0h1m-35 0.5h1m1 0h1m0 0h1m0 0h1m24 0h1m-0.5 0h1m0 0h1m0.5 0h1m-33 0.5h1m0.5 0h1m2.5 0h1m0 0h1m22.5 0h1m2 0h1m-0.5 0h1m1.5 0h1m-8.5 0.5h1m-0.5 0h1m4.5 0h1m-34 0.5h1m2.5 0h1m-0.5 0h1m28 0h1m-32.5 0.5h1m0 0h1m25 0h1m-0.5 0h1m0 0h1m-31.5 0.5h1m1.5 0h1m-0.5 0h1m25.5 0h1m0 0h1m0.5 0h1m1 0h1m-31.5 0.5h1m1 0h1m21.5 0h1m0 0h1m1.5 0h1m0.5 0h1m-0.5 0h1m0.5 0h1m-39.5 0.5h1m5.5 0h1m-0.5 0h1m0 0h1m-0.5 0h1m-0.5 0h1m22 0h1m0 0h1m3 0h1m5.5 0h1m-37.5 0.5h1m-0.5 0h1m-0.5 0h1m0 0h1m20 0h1m1 0h1m1.5 0h1m2 0h1m0 0h1m0 0h1m-38.5 0.5h1m4 0h1m0 0h1m-8.5 0.5h1m0.5 0h1m2 0h1m3 0h1m20.5 0h1m2 0h1m-0.5 0h1m-31 0.5h1m4 0h1m20 0h1m2.5 0h1m4.5 0h1m-38.5 0.5h1m1 0h1m3 0h1m-0.5 0h1m0 0h1m11.5 0h1m7.5 0h1m1 0h1m0.5 0h1m5 0h1m-38 0.5h1m4.5 0h1m-0.5 0h1m-0.5 0h1m19.5 0h1m1.5 0h1m3.5 0h1m-36.5 0.5h1m2 0h1m-0.5 0h1m0.5 0h1m-0.5 0h1m0.5 0h1m22 0h1m0 0h1m5 0h1m-36.5 0.5h1m4.5 0h1m0.5 0h1m10.5 0h1m9 0h1m-0.5 0h1m1 0h1m-34.5 0.5h1m26 0h1m2 0h1m0.5 0h1m0.5 0h1m-0.5 0h1m-37.5 0.5h1m7.5 0h1m0 0h1m21 0h1m-0.5 0h1m0.5 0h1m1.5 0h1m3.5 0h1m-38 0.5h1m0 0h1m2.5 0h1m0 0h1m-0.5 0h1m0.5 0h1m0 0h1m-0.5 0h1m19 0h1m2 0h1m3 0h1m-36 0.5h1m0.5 0h1m0 0h1m1 0h1m0.5 0h1m0 0h1m-0.5 0h1m19 0h1m2 0h1m-0.5 0h1m1 0h1m-30 0.5h1m0 0h1m0.5 0h1m-0.5 0h1m0 0h1m17 0h1m1 0h1m5.5 0h1m0 0h1m-37.5 0.5h1m0.5 0h1m2.5 0h1m-0.5 0h1m0 0h1m0 0h1m-0.5 0h1m18 0h1m0 0h1m-0.5 0h1m-0.5 0h1m-31.5 0.5h1m8.5 0h1m18 0h1m-0.5 0h1m7.5 0h1m2.5 0h1m-39 0.5h1m4 0h1m0.5 0h1m0 0h1m-0.5 0h1m17 0h1m-0.5 0h1m0 0h1m1 0h1m-0.5 0h1m3 0h1m-37.5 0.5h1m2.5 0h1m3 0h1m0 0h1m18 0h1m0 0h1m9 0h1m-40.5 0.5h1m0 0h1m-0.5 0h1m-0.5 0h1m2.5 0h1m2 0h1m0 0h1m0.5 0h1m-0.5 0h1m15.5 0h1m2 0h1m11 0h1m-34 0.5h1m-0.5 0h1m16.5 0h1m3 0h1m0.5 0h1m-27.5 0.5h1m23.5 0h1m4 0h1m-38 0.5h1m5.5 0h1m21 0h1m3 0h1m-31.5 0.5h1m0.5 0h1m1 0h1m0 0h1m0 0h1m0 0h1m2 0h1m0 0h1m17 0h1m-30 0.5h1m0.5 0h1m2 0h1m1.5 0h1m2.5 0h1m0 0h1m15 0h1m8.5 0h1m-29.5 0.5h1m16 0h1m-0.5 0h1m1.5 0h1m4.5 0h1m0.5 0h1m-34 0.5h1m0 0h1m3 0h1m2.5 0h1m0 0h1m-0.5 0h1m10.5 0h1m-0.5 0h1m0 0h1m0.5 0h1m0 0h1m-0.5 0h1m-0.5 0h1m-26.5 0.5h1m-0.5 0h1m-0.5 0h1m0 0h1m1.5 0h1m0 0h1m-0.5 0h1m-0.5 0h1m-0.5 0h1m-0.5 0h1m12 0h1m-0.5 0h1m0.5 0h1m3 0h1m1 0h1m0 0h1m1.5 0h1m-32.5 0.5h1m7.5 0h1m-0.5 0h1m12.5 0h1m0.5 0h1m2 0h1m6 0h1m-41.5 0.5h1m11.5 0h1m1.5 0h1m10.5 0h1m1 0h1m0 0h1m4.5 0h1m-29 0.5h1m2.5 0h1m-0.5 0h1m-0.5 0h1m-0.5 0h1m0 0h1m0.5 0h1m0.5 0h1m9.5 0h1m-0.5 0h1m-19 0.5h1m1 0h1m0.5 0h1m-0.5 0h1m-0.5 0h1m1.5 0h1m-0.5 0h1m6 0h1m3 0h1m2.5 0h1m8 0h1m2.5 0h1m-29.5 0.5h1m0 0h1m6 0h1m0.5 0h1m0.5 0h1m-0.5 0h1m0 0h1m0 0h1m3.5 0h1m0 0h1m4.5 0h1m-30.5 0.5h1m0 0h1m2.5 0h1m4 0h1m0.5 0h1m3.5 0h1m-0.5 0h1m1.5 0h1m5.5 0h1m9 0h1m-44.5 0.5h1m12.5 0h1m0 0h1m-0.5 0h1m0 0h1m0 0h1m2 0h1m0.5 0h1m-0.5 0h1m0 0h1m3.5 0h1m1.5 0h1m-27 0.5h1m0 0h1m1 0h1m2 0h1m0 0h1m-0.5 0h1m0.5 0h1m1.5 0h1m-0.5 0h1m-0.5 0h1m0.5 0h1m-0.5 0h1m2.5 0h1m1 0h1m0 0h1m1 0h1m10 0h1m-32.5 0.5h1m0.5 0h1m0 0h1m2.5 0h1m0.5 0h1m7 0h1m2.5 0h1m5.5 0h1m0 0h1m-34 0.5h1m5.5 0h1m4.5 0h1m0 0h1m1 0h1m0 0h1m1.5 0h1m3.5 0h1m0 0h1m3 0h1m2 0h1m-24.5 0.5h1m2.5 0h1m0 0h1m0.5 0h1m0.5 0h1m-0.5 0h1m0.5 0h1m0.5 0h1m1.5 0h1m0 0h1m-0.5 0h1m-0.5 0h1m4 0h1m-19.5 0.5h1m0.5 0h1m2 0h1m-0.5 0h1m1 0h1m0 0h1m0 0h1m-0.5 0h1m3.5 0h1m0.5 0h1m2.5 0h1m-0.5 0h1m0.5 0h1m3 0h1m-29 0.5h1m1 0h1m4 0h1m-0.5 0h1m3 0h1m1 0h1m0.5 0h1m0.5 0h1m1.5 0h1m0.5 0h1m2.5 0h1m-29 0.5h1m7 0h1m0 0h1m1 0h1m-0.5 0h1m0 0h1m-0.5 0h1m1 0h1m-0.5 0h1m0 0h1m-0.5 0h1m11 0h1m-29 0.5h1m0 0h1m8 0h1m1.5 0h1m-0.5 0h1m0.5 0h1m-0.5 0h1m-0.5 0h1m2.5 0h1m2 0h1m2.5 0h1m0 0h1m3 0h1m-25.5 0.5h1m0 0h1m3 0h1m-0.5 0h1m2.5 0h1m3 0h1m10 0h1m-26.5 0.5h1m6.5 0h1m2 0h1m-0.5 0h1m-0.5 0h1m1 0h1m6.5 0h1m-0.5 0h1m-29 0.5h1m2 0h1m1.5 0h1m0 0h1m10 0h1m4 0h1m-0.5 0h1m10.5 0h1m-33 0.5h1m2.5 0h1m5.5 0h1m0 0h1m0 0h1m0.5 0h1m4.5 0h1m-22.5 0.5h1m3 0h1m3 0h1m0.5 0h1m0 0h1m2 0h1m-0.5 0h1m0 0h1m-0.5 0h1m2 0h1m12 0h1m-25 0.5h1m8 0h1m-0.5 0h1m-0.5 0h1m2 0h1m0.5 0h1m0.5 0h1m-19.5 0.5h1m1.5 0h1m5 0h1m5 0h1m0 0h1" stroke="#e02a1c" stroke-width="1.0" fill="none" opacity="0.88"/>
<path d="M306 548h1m16 8h1m-4.5 3.5h1m-25 3.5h1m3.5 6h1m24 2.5h1m-9 2h1m-20 0.5h1m21.5 0h1m-25.5 2h1m2.5 2.5h1m18 0.5h1m-36.5 2.5h1m17 1h1m13.5 0h1m-30.5 1h1m6.5 2h1m10.5 4.5h1m16 1h1m-8 4h1m-14 1h1m-8 1h1m-5 2.5h1m7.5 2.5h1m19.5 2h1m-17.5 1.5h1m0 11.5h1m4 0h1m-19 2h1m-1.5 2h1m-12 2h1m15 0h1m23 1h1m-20 1h1m7 0h1m-6 4.5h1m-10 0.5h1m17.5 0.5h1m-28.5 0.5h1m12.5 1h1m16 0h1m-29.5 3h1m4.5 4.5h1m17.5 1.5h1m-31.5 4h1m17 0h1m-6.5 4h1m8 0h1m3 1.5h1m-14 0.5h1" stroke="#ee5d50" stroke-width="1.0" fill="none" opacity="0.6"/>
</g>
<path d="M333 538h1m-3.5 15.5h1m-3 2h1m2 1h1m-3.5 2h1m1 0h1m-1.5 3h1m-1.5 1h1m-0.5 2h1m-2 2h1m-2 2.5h1m2.5 0.5h1m-5 0.5h1m4.5 0h1m-2.5 0.5h1m28 0.5h1m-30.5 1.5h1m-2 2h1m-2 0.5h1m0.5 0h1m-2.5 3h1m-2 2h1m2 0h1m1.5 1h1m-6.5 2h1m3.5 5h1m-4 2.5h1m-2 4.5h1m0 5h1m32.5 24h1m3.5 20h1" stroke="#f0892f" stroke-width="1.0" fill="none" opacity="0.75"/>
<path d="M460.0 474.4H277.6V656.1H460.0" stroke="#555" stroke-width="1.1" fill="none"/>
<path d="M459.8 473.9V656.6" stroke="#333" stroke-width="1.5" fill="none"/>
<path d="M277.6 655.0h-4.2M277.6 640.8h-3M277.6 626.6h-3M277.6 612.4h-3M277.6 598.2h-3M277.6 584.0h-4.2M277.6 569.8h-3M277.6 555.6h-3M277.6 541.4h-3M277.6 527.2h-3M277.6 513.0h-4.2M277.6 498.8h-3M277.6 484.6h-3M296.0 656.1v4.6M356.5 656.1v4.6M408.5 656.1v4.6M459.8 656.1v4.6M320.2 656.1v3M329.3 656.1v3M335.8 656.1v3M340.8 656.1v3M345.0 656.1v3M348.4 656.1v3M351.5 656.1v3M354.1 656.1v3M372.2 656.1v3M381.3 656.1v3M387.8 656.1v3M392.8 656.1v3M397.0 656.1v3M400.4 656.1v3M403.5 656.1v3M406.1 656.1v3M424.2 656.1v3M433.3 656.1v3M439.8 656.1v3M444.8 656.1v3M449.0 656.1v3M452.4 656.1v3M455.5 656.1v3M458.1 656.1v3M281.0 656.1v3M311.0 656.1v3M321.0 656.1v3" stroke="#3a3a3a" stroke-width="1.0" fill="none"/>
<text x="271.1" y="657.6" text-anchor="middle" transform="rotate(-90 271.1 657.6)" font-size="17.3" letter-spacing="-0.4">0</text>
<text x="271.1" y="582.4" text-anchor="middle" transform="rotate(-90 271.1 582.4)" font-size="17.3" letter-spacing="-0.4">200</text>
<text x="271.1" y="507.5" text-anchor="middle" transform="rotate(-90 271.1 507.5)" font-size="17.3" letter-spacing="-0.4">400</text>
<text x="296.0" y="677.3" text-anchor="middle" font-size="17.8">0</text>
<text x="347.6" y="677.3" font-size="17.8">10<tspan dy="-4.6" font-size="12">4</tspan></text>
<text x="399.4" y="677.3" font-size="17.8">10<tspan dy="-4.6" font-size="12">5</tspan></text>
<text x="444.4" y="677.3" font-size="17.8">10<tspan dy="-4.6" font-size="12">6</tspan></text>
<rect x="326.4" y="526.8" width="115.2" height="128.3" fill="none" stroke="#f2a05f" stroke-width="1.3" rx="1.2"/>
<text x="361.7" y="511.6" text-anchor="middle" font-size="17.3">0.05%</text>
<text x="383.4" y="693.4" text-anchor="middle" font-size="17.3">siGPER 1#</text>
<clipPath id="cD50_702"><rect x="51.0" y="703.3" width="49.1" height="181.5"/></clipPath>
<g clip-path="url(#cD50_702)">
<ellipse cx="80.8" cy="846.5" rx="12.5" ry="32.2" fill="#dc2a1c" opacity="1.0" transform="rotate(12 80.8 846.5)" filter="url(#b1)"/>
<path d="M91.5 751.5h1m5 5h1m-9 0.5h1m-4 3.5h1m7.5 0.5h1m-3.5 1h1m-13.5 0.5h1m15 0h1m1.5 0.5h1m-12 0.5h1m-2.5 0.5h1m2 2h1m-1.5 1h1m3 0h1m4 1h1m-5.5 0.5h1m2 0h1m-18.5 3.5h1m12.5 0h1m-1.5 0.5h1m-3.5 0.5h1m0.5 0h1m7.5 0h1m-9 0.5h1m-7 0.5h1m5.5 0h1m-6 0.5h1m9.5 0h1m-13.5 1h1m10 0h1m-7 0.5h1m1.5 0.5h1m2.5 0h1m-2 0.5h1m-6.5 0.5h1m7.5 0h1m-12.5 0.5h1m7.5 0h1m0 0h1m0 0h1m-11 0.5h1m-0.5 0h1m3 0h1m0 0h1m-8 0.5h1m1.5 0h1m4.5 0h1m-3 1h1m-17 0.5h1m14.5 0h1m0 0h1m-3.5 0.5h1m0.5 0h1m0.5 0h1m-0.5 0h1m-4.5 0.5h1m1.5 0h1m0.5 0h1m-9.5 1h1m-0.5 0h1m1.5 0h1m3 0h1m6 0h1m-13 1h1m0 0h1m-0.5 0h1m2 0h1m-5 0.5h1m1 0h1m-6 0.5h1m4 0h1m2.5 0.5h1m-11 0.5h1m1 0h1m2.5 0h1m0 0h1m9 0h1m-11 0.5h1m3 0h1m-7.5 0.5h1m3.5 0h1m-0.5 0h1m3 0h1m-9 0.5h1m2 0h1m0 0h1m-9.5 0.5h1m3 0h1m7.5 0h1m-12.5 0.5h1m2 0h1m0 0h1m0 0h1m0.5 0h1m0 0h1m1 0h1m2 0h1m-11.5 0.5h1m3 0h1m4.5 0h1m0.5 0h1m0.5 0h1m-14.5 0.5h1m4 0h1m1 0h1m1.5 0h1m1.5 0h1m-22.5 0.5h1m12.5 0h1m0.5 0h1m1 0h1m0 0h1m1 0h1m-12 0.5h1m-0.5 0h1m0.5 0h1m-0.5 0h1m0 0h1m1.5 0h1m0 0h1m-0.5 0h1m0 0h1m1 0h1m1 0h1m-16 0.5h1m2 0h1m-0.5 0h1m3 0h1m0.5 0h1m0 0h1m-0.5 0h1m-0.5 0h1m2 0h1m-12.5 0.5h1m1.5 0h1m-0.5 0h1m7 0h1m-0.5 0h1m-9.5 0.5h1m1.5 0h1m-0.5 0h1m1 0h1m0.5 0h1m-12.5 0.5h1m5 0h1m1 0h1m3 0h1m0 0h1m-14 0.5h1m0 0h1m0 0h1m1 0h1m1 0h1m-0.5 0h1m0 0h1m2.5 0h1m-10.5 0.5h1m2 0h1m3 0h1m0 0h1m0 0h1m-0.5 0h1m2 0h1m-16.5 0.5h1m1.5 0h1m2 0h1m0.5 0h1m1 0h1m-0.5 0h1m2 0h1m0.5 0h1m-21.5 0.5h1m3.5 0h1m0 0h1m1.5 0h1m1.5 0h1m-0.5 0h1m-0.5 0h1m2 0h1m-0.5 0h1m-0.5 0h1m-0.5 0h1m-0.5 0h1m-14.5 0.5h1m3 0h1m2.5 0h1m0.5 0h1m0 0h1m0.5 0h1m3 0h1m-26.5 0.5h1m23.5 0h1m0.5 0h1m-0.5 0h1m0.5 0h1m1.5 0h1m-14.5 0.5h1m-0.5 0h1m-0.5 0h1m-0.5 0h1m-0.5 0h1m1 0h1m1.5 0h1m2.5 0h1m-0.5 0h1m2 0h1m-17.5 0.5h1m2 0h1m2 0h1m0.5 0h1m4.5 0h1m0 0h1m-16 0.5h1m1.5 0h1m2 0h1m0 0h1m-0.5 0h1m0 0h1m2.5 0h1m1 0h1m0 0h1m-0.5 0h1m-19 0.5h1m6.5 0h1m3.5 0h1m0 0h1m0.5 0h1m-9 0.5h1m2 0h1m-0.5 0h1m-0.5 0h1m1 0h1m0.5 0h1m5.5 0h1m-20 0.5h1m1.5 0h1m2 0h1m0 0h1m1.5 0h1m-0.5 0h1m0.5 0h1m-0.5 0h1m1 0h1m4 0h1m-15 0.5h1m2.5 0h1m-0.5 0h1m3 0h1m-0.5 0h1m1.5 0h1m-24 0.5h1m12 0h1m0 0h1m3 0h1m0.5 0h1m1.5 0h1m1 0h1m0.5 0h1m1 0h1m-19 0.5h1m0.5 0h1m1 0h1m-0.5 0h1m0 0h1m3.5 0h1m1.5 0h1m-0.5 0h1m1 0h1m2.5 0h1m-26 0.5h1m2.5 0h1m3.5 0h1m-0.5 0h1m0 0h1m-0.5 0h1m0.5 0h1m-0.5 0h1m1 0h1m2 0h1m0 0h1m-0.5 0h1m3 0h1m-20.5 0.5h1m8.5 0h1m-0.5 0h1m0.5 0h1m1 0h1m0.5 0h1m1.5 0h1m1 0h1m-23 0.5h1m5.5 0h1m5 0h1m-0.5 0h1m-0.5 0h1m-0.5 0h1m-0.5 0h1m0 0h1m0 0h1m-0.5 0h1m0.5 0h1m0 0h1m0.5 0h1m-0.5 0h1m-18 0.5h1m3.5 0h1m0.5 0h1m3 0h1m1 0h1m2 0h1m-16.5 0.5h1m3.5 0h1m1 0h1m1 0h1m-0.5 0h1m-0.5 0h1m0 0h1m-0.5 0h1m3 0h1m-0.5 0h1m0 0h1m0 0h1m-0.5 0h1m2 0h1m-21 0.5h1m0.5 0h1m1.5 0h1m-0.5 0h1m1 0h1m-0.5 0h1m0.5 0h1m-0.5 0h1m3 0h1m-12 0.5h1m4 0h1m-0.5 0h1m1 0h1m0 0h1m0.5 0h1m-0.5 0h1m0 0h1m-0.5 0h1m-0.5 0h1m1.5 0h1m1 0h1m-24 0.5h1m1 0h1m-0.5 0h1m2 0h1m1 0h1m1 0h1m-0.5 0h1m0.5 0h1m-0.5 0h1m-0.5 0h1m0 0h1m-0.5 0h1m-0.5 0h1m-0.5 0h1m2 0h1m0 0h1m-0.5 0h1m-0.5 0h1m-0.5 0h1m0.5 0h1m-27.5 0.5h1m11 0h1m-0.5 0h1m-0.5 0h1m0.5 0h1m0.5 0h1m-0.5 0h1m0.5 0h1m-0.5 0h1m0.5 0h1m1 0h1m0.5 0h1m-0.5 0h1m-21 0.5h1m6.5 0h1m0 0h1m0.5 0h1m0 0h1m-0.5 0h1m-0.5 0h1m0 0h1m-0.5 0h1m-0.5 0h1m0 0h1m0.5 0h1m-0.5 0h1m0 0h1m1 0h1m0.5 0h1m0 0h1m0.5 0h1m-21 0.5h1m0.5 0h1m-0.5 0h1m-0.5 0h1m2.5 0h1m0 0h1m0 0h1m0 0h1m-0.5 0h1m1 0h1m-0.5 0h1m2 0h1m2.5 0h1m-18 0.5h1m0.5 0h1m0.5 0h1m1 0h1m0.5 0h1m0 0h1m0 0h1m0.5 0h1m-0.5 0h1m0 0h1m2 0h1m0.5 0h1m-20.5 0.5h1m0.5 0h1m0.5 0h1m-0.5 0h1m2.5 0h1m1 0h1m0.5 0h1m-0.5 0h1m0 0h1m-0.5 0h1m0 0h1m0.5 0h1m0.5 0h1m-20.5 0.5h1m3.5 0h1m0 0h1m0 0h1m-0.5 0h1m0.5 0h1m-0.5 0h1m-0.5 0h1m3 0h1m-0.5 0h1m0.5 0h1m0 0h1m0 0h1m1 0h1m0 0h1m0.5 0h1m-23.5 0.5h1m1.5 0h1m4.5 0h1m3 0h1m0.5 0h1m0.5 0h1m0.5 0h1m-22 0.5h1m12.5 0h1m-0.5 0h1m2 0h1m0 0h1m-0.5 0h1m0.5 0h1m0 0h1m-0.5 0h1m-0.5 0h1m1 0h1m0.5 0h1m0.5 0h1m-24 0.5h1m5.5 0h1m3 0h1m0 0h1m0.5 0h1m0.5 0h1m0 0h1m0 0h1m1 0h1m2 0h1m1 0h1m-20.5 0.5h1m0.5 0h1m2.5 0h1m0 0h1m0.5 0h1m-0.5 0h1m2 0h1m0.5 0h1m0 0h1m4 0h1m0 0h1m-29 0.5h1m3 0h1m2 0h1m-0.5 0h1m1.5 0h1m0 0h1m4 0h1m-0.5 0h1m0 0h1m1.5 0h1m-0.5 0h1m0.5 0h1m-0.5 0h1m-0.5 0h1m1 0h1m-0.5 0h1m-0.5 0h1m1.5 0h1m-24 0.5h1m2.5 0h1m0.5 0h1m0 0h1m0 0h1m1 0h1m-0.5 0h1m-0.5 0h1m-0.5 0h1m1 0h1m0.5 0h1m2.5 0h1m5.5 0h1m-33.5 0.5h1m10.5 0h1m2 0h1m-0.5 0h1m0 0h1m1 0h1m0.5 0h1m-0.5 0h1m-0.5 0h1m0 0h1m0 0h1m-0.5 0h1m-0.5 0h1m0.5 0h1m0 0h1m0 0h1m-0.5 0h1m2.5 0h1m-0.5 0h1m-0.5 0h1m-19 0.5h1m1.5 0h1m-0.5 0h1m-0.5 0h1m0.5 0h1m0.5 0h1m-0.5 0h1m0.5 0h1m-0.5 0h1m0.5 0h1m0 0h1m0.5 0h1m0 0h1m-0.5 0h1m3 0h1m-22 0.5h1m2 0h1m0.5 0h1m-0.5 0h1m0 0h1m0 0h1m0 0h1m-0.5 0h1m1 0h1m0 0h1m-0.5 0h1m-0.5 0h1m0 0h1m0.5 0h1m3.5 0h1m-0.5 0h1m1 0h1m-27.5 0.5h1m4.5 0h1m1 0h1m1 0h1m0.5 0h1m0 0h1m0.5 0h1m2 0h1m0 0h1m0.5 0h1m-0.5 0h1m-0.5 0h1m0 0h1m0 0h1m-19 0.5h1m0.5 0h1m0 0h1m-0.5 0h1m1 0h1m0.5 0h1m-0.5 0h1m-0.5 0h1m-0.5 0h1m0.5 0h1m-0.5 0h1m-0.5 0h1m-0.5 0h1m-0.5 0h1m0 0h1m3 0h1m0 0h1m0 0h1m-23 0.5h1m1 0h1m0.5 0h1m2 0h1m1 0h1m2.5 0h1m-0.5 0h1m-0.5 0h1m-0.5 0h1m-0.5 0h1m-0.5 0h1m1.5 0h1m-0.5 0h1m0.5 0h1m0.5 0h1m0 0h1m1 0h1m-31 0.5h1m1.5 0h1m2 0h1m6 0h1m1 0h1m-0.5 0h1m0 0h1m-0.5 0h1m-0.5 0h1m-0.5 0h1m0.5 0h1m-0.5 0h1m-0.5 0h1m-0.5 0h1m-0.5 0h1m0 0h1m-0.5 0h1m-0.5 0h1m0.5 0h1m1 0h1m0.5 0h1m1 0h1m1 0h1m-25 0.5h1m2.5 0h1m0.5 0h1m0 0h1m-0.5 0h1m0 0h1m-0.5 0h1m0 0h1m-0.5 0h1m-0.5 0h1m0 0h1m-0.5 0h1m-0.5 0h1m-0.5 0h1m-0.5 0h1m-0.5 0h1m-0.5 0h1m-0.5 0h1m-0.5 0h1m0 0h1m1 0h1m0.5 0h1m3 0h1m-26.5 0.5h1m0.5 0h1m1.5 0h1m-0.5 0h1m1 0h1m-0.5 0h1m2.5 0h1m-0.5 0h1m0 0h1m-0.5 0h1m0.5 0h1m-0.5 0h1m-0.5 0h1m-0.5 0h1m-0.5 0h1m-0.5 0h1m0 0h1m1 0h1m3 0h1m0.5 0h1m0 0h1m-26.5 0.5h1m4 0h1m2 0h1m0 0h1m-0.5 0h1m0.5 0h1m0 0h1m0 0h1m-0.5 0h1m1.5 0h1m2 0h1m-0.5 0h1m-0.5 0h1m-0.5 0h1m0 0h1m0.5 0h1m-0.5 0h1m-23 0.5h1m2 0h1m1.5 0h1m0.5 0h1m0.5 0h1m0 0h1m0 0h1m0 0h1m2.5 0h1m0 0h1m-0.5 0h1m-0.5 0h1m0 0h1m-0.5 0h1m-0.5 0h1m-0.5 0h1m1 0h1m-21 0.5h1m1.5 0h1m0 0h1m0.5 0h1m0 0h1m-0.5 0h1m0.5 0h1m-0.5 0h1m-0.5 0h1m0 0h1m0.5 0h1m0 0h1m0 0h1m0 0h1m-0.5 0h1m3.5 0h1m0 0h1m-0.5 0h1m0.5 0h1m-29.5 0.5h1m9 0h1m0 0h1m1 0h1m-0.5 0h1m-0.5 0h1m-0.5 0h1m-0.5 0h1m-0.5 0h1m0 0h1m-0.5 0h1m-0.5 0h1m0 0h1m0 0h1m0.5 0h1m0 0h1m2 0h1m-0.5 0h1m1.5 0h1m-31 0.5h1m12 0h1m-0.5 0h1m-0.5 0h1m0.5 0h1m0.5 0h1m0 0h1m-0.5 0h1m-0.5 0h1m-0.5 0h1m-0.5 0h1m0.5 0h1m0 0h1m-0.5 0h1m0 0h1m1 0h1m0.5 0h1m0 0h1m-22.5 0.5h1m1.5 0h1m1.5 0h1m-0.5 0h1m-0.5 0h1m1 0h1m-0.5 0h1m0.5 0h1m-0.5 0h1m-0.5 0h1m0 0h1m-0.5 0h1m-0.5 0h1m-0.5 0h1m-0.5 0h1m0.5 0h1m-0.5 0h1m0.5 0h1m0 0h1m1 0h1m-22.5 0.5h1m0.5 0h1m0 0h1m0 0h1m-0.5 0h1m-0.5 0h1m3.5 0h1m0 0h1m-0.5 0h1m-0.5 0h1m0.5 0h1m-0.5 0h1m0 0h1m-0.5 0h1m0 0h1m0 0h1m-0.5 0h1m3.5 0h1m-0.5 0h1m0.5 0h1m0 0h1m-33 0.5h1m5 0h1m2.5 0h1m0 0h1m0 0h1m1.5 0h1m-0.5 0h1m1 0h1m1.5 0h1m0.5 0h1m-0.5 0h1m0.5 0h1m1 0h1m2 0h1m-22.5 0.5h1m1.5 0h1m-0.5 0h1m0 0h1m-0.5 0h1m-0.5 0h1m0 0h1m1 0h1m2.5 0h1m-0.5 0h1m-0.5 0h1m1 0h1m-0.5 0h1m0 0h1m0.5 0h1m-0.5 0h1m0.5 0h1m0 0h1m-25.5 0.5h1m6.5 0h1m1.5 0h1m-0.5 0h1m0 0h1m1.5 0h1m5 0h1m1 0h1m2 0h1m1.5 0h1m0.5 0h1m-30 0.5h1m1.5 0h1m7.5 0h1m-0.5 0h1m-0.5 0h1m-0.5 0h1m0 0h1m1 0h1m-0.5 0h1m0.5 0h1m-0.5 0h1m1 0h1m1 0h1m1 0h1m0.5 0h1m0 0h1m-0.5 0h1m1 0h1m0 0h1m-28 0.5h1m-0.5 0h1m1 0h1m-0.5 0h1m3.5 0h1m-0.5 0h1m0 0h1m4 0h1m1.5 0h1m1.5 0h1m-0.5 0h1m0 0h1m5 0h1m-0.5 0h1m-29.5 0.5h1m4.5 0h1m1.5 0h1m-0.5 0h1m1 0h1m1 0h1m0.5 0h1m1 0h1m0 0h1m-0.5 0h1m0 0h1m0 0h1m2.5 0h1m1 0h1m-27.5 0.5h1m6.5 0h1m0.5 0h1m1 0h1m2.5 0h1m-0.5 0h1m0.5 0h1m0 0h1m2 0h1m1.5 0h1m-0.5 0h1m0 0h1m0 0h1m1.5 0h1m-24 0.5h1m2.5 0h1m2.5 0h1m0 0h1m2.5 0h1m0 0h1m-0.5 0h1m2 0h1m0.5 0h1m-0.5 0h1m0.5 0h1m0 0h1m1.5 0h1m0 0h1m0 0h1m-0.5 0h1m-24 0.5h1m0 0h1m-0.5 0h1m-0.5 0h1m1.5 0h1m1 0h1m-0.5 0h1m-0.5 0h1m1 0h1m4 0h1m0 0h1m0 0h1m0.5 0h1m-0.5 0h1m-34.5 0.5h1m8 0h1m0 0h1m0 0h1m0 0h1m-0.5 0h1m5.5 0h1m1 0h1m2 0h1m1.5 0h1m0 0h1m-0.5 0h1m-0.5 0h1m2.5 0h1m0.5 0h1m0.5 0h1m1 0h1m-24 0.5h1m-0.5 0h1m0 0h1m-0.5 0h1m2 0h1m0 0h1m-0.5 0h1m0 0h1m-0.5 0h1m0 0h1m3.5 0h1m-0.5 0h1m-0.5 0h1m2 0h1m0.5 0h1m-0.5 0h1m-0.5 0h1m-0.5 0h1m1 0h1m-25 0.5h1m0.5 0h1m1 0h1m-0.5 0h1m-0.5 0h1m1 0h1m-0.5 0h1m1 0h1m-0.5 0h1m3 0h1m0 0h1m2 0h1m1 0h1m0 0h1m1.5 0h1m-28.5 0.5h1m3 0h1m7 0h1m2.5 0h1m11.5 0h1m-26 0.5h1m0 0h1m-0.5 0h1m0 0h1m-0.5 0h1m0 0h1m1 0h1m2.5 0h1m0 0h1m1.5 0h1m2 0h1m0.5 0h1m0.5 0h1m1.5 0h1m-0.5 0h1m0.5 0h1m-29 0.5h1m-0.5 0h1m2.5 0h1m1.5 0h1m8 0h1m0 0h1m1.5 0h1m4 0h1m1 0h1m-21.5 0.5h1m1.5 0h1m4.5 0h1m0 0h1m-0.5 0h1m1 0h1m0 0h1m0 0h1m0 0h1m5 0h1m-0.5 0h1m-24 0.5h1m0.5 0h1m1 0h1m-0.5 0h1m-0.5 0h1m2.5 0h1m1.5 0h1m-0.5 0h1m7.5 0h1m-31 0.5h1m2.5 0h1m5.5 0h1m3 0h1m4.5 0h1m0 0h1m0 0h1m3 0h1m0.5 0h1m5 0h1m-0.5 0h1m-0.5 0h1m0 0h1m-28.5 0.5h1m6 0h1m9.5 0h1m3 0h1m5 0h1m0.5 0h1m-30.5 0.5h1m2 0h1m-0.5 0h1m-0.5 0h1m2 0h1m3 0h1m3.5 0h1m3 0h1m3.5 0h1m1 0h1m-0.5 0h1m1 0h1m2 0h1m-33 0.5h1m1 0h1m1 0h1m0.5 0h1m0.5 0h1m5 0h1m2 0h1m3 0h1m2 0h1m5.5 0h1m-26 0.5h1m1.5 0h1m-0.5 0h1m1.5 0h1m0 0h1m6 0h1m9.5 0h1m-27.5 0.5h1m0 0h1m2 0h1m7 0h1m1 0h1m3 0h1m5.5 0h1m1 0h1m-31.5 0.5h1m-0.5 0h1m0 0h1m4 0h1m-0.5 0h1m0 0h1m3.5 0h1m5 0h1m0.5 0h1m6 0h1m-0.5 0h1m0.5 0h1m-26 0.5h1m2.5 0h1m-0.5 0h1m0 0h1m6 0h1m0.5 0h1m-0.5 0h1m1 0h1m0 0h1m-0.5 0h1m2.5 0h1m-0.5 0h1m1 0h1m0 0h1m-31 0.5h1m5.5 0h1m1 0h1m0 0h1m6.5 0h1m4.5 0h1m2 0h1m4.5 0h1m-0.5 0h1m2.5 0h1m-0.5 0h1m-32 0.5h1m4 0h1m9 0h1m1.5 0h1m1.5 0h1m1.5 0h1m5.5 0h1m-33.5 0.5h1m0.5 0h1m0 0h1m15 0h1m2 0h1m2.5 0h1m-0.5 0h1m1.5 0h1m2 0h1m0 0h1m-29.5 0.5h1m3.5 0h1m5 0h1m7.5 0h1m1 0h1m-22.5 0.5h1m0 0h1m3 0h1m10.5 0h1m3 0h1m5 0h1m0.5 0h1m-30 0.5h1m3.5 0h1m0.5 0h1m3 0h1m3.5 0h1m5.5 0h1m5.5 0h1m2 0h1m-31.5 0.5h1m13 0h1m4.5 0h1m0.5 0h1m6.5 0h1m-0.5 0h1m0 0h1m-34 0.5h1m4.5 0h1m0.5 0h1m-0.5 0h1m-0.5 0h1m8.5 0h1m0 0h1m-0.5 0h1m6 0h1m-0.5 0h1m3 0h1m-34.5 0.5h1m5.5 0h1m0.5 0h1m0 0h1m0 0h1m13 0h1m9 0h1m0 0h1m-0.5 0h1m0 0h1m0.5 0h1m-38.5 0.5h1m7 0h1m0.5 0h1m-0.5 0h1m9.5 0h1m1 0h1m-0.5 0h1m0.5 0h1m-0.5 0h1m0 0h1m9.5 0h1m0.5 0h1m-38 0.5h1m5 0h1m0 0h1m0.5 0h1m0 0h1m2.5 0h1m14.5 0h1m2.5 0h1m2.5 0h1m0 0h1m-34.5 0.5h1m0.5 0h1m-0.5 0h1m0 0h1m1 0h1m-0.5 0h1m4.5 0h1m-8 0.5h1m0.5 0h1m11 0h1m10.5 0h1m0.5 0h1m-31 0.5h1m3 0h1m24 0h1m0 0h1m0.5 0h1m-33 0.5h1m5 0h1m10 0h1m11.5 0h1m0 0h1m0 0h1m-43 0.5h1m2.5 0h1m5.5 0h1m1 0h1m0.5 0h1m-0.5 0h1m-0.5 0h1m0 0h1m6.5 0h1m2.5 0h1m17 0h1m-40 0.5h1m2.5 0h1m2 0h1m0 0h1m1.5 0h1m8 0h1m6 0h1m6.5 0h1m1 0h1m0 0h1m-36 0.5h1m0 0h1m0 0h1m0 0h1m0.5 0h1m1 0h1m6.5 0h1m3.5 0h1m1.5 0h1m1.5 0h1m9.5 0h1m-31 0.5h1m2 0h1m6.5 0h1m18.5 0h1m-0.5 0h1m0 0h1m-32 0.5h1m0.5 0h1m-0.5 0h1m1.5 0h1m9 0h1m0 0h1m0 0h1m-0.5 0h1m0 0h1m9.5 0h1m0 0h1m0.5 0h1m1.5 0h1m-34.5 0.5h1m0 0h1m1 0h1m-0.5 0h1m28 0h1m-33 0.5h1m-0.5 0h1m-0.5 0h1m14 0h1m10 0h1m-0.5 0h1m2 0h1m-29 0.5h1m12.5 0h1m0.5 0h1m13 0h1m-36.5 0.5h1m3 0h1m0.5 0h1m0 0h1m0 0h1m23.5 0h1m-32 0.5h1m2 0h1m0.5 0h1m0 0h1m0 0h1m23.5 0h1m-0.5 0h1m1.5 0h1m-41.5 0.5h1m7 0h1m21 0h1m5.5 0h1m0 0h1m1 0h1m-37.5 0.5h1m2.5 0h1m4.5 0h1m12.5 0h1m9.5 0h1m0.5 0h1m-0.5 0h1m2 0h1m-44.5 0.5h1m5 0h1m-0.5 0h1m6 0h1m0 0h1m24 0h1m0.5 0h1m0 0h1m-34.5 0.5h1m3 0h1m1 0h1m14 0h1m8.5 0h1m0.5 0h1m0 0h1m-38 0.5h1m1.5 0h1m2 0h1m0 0h1m0.5 0h1m-0.5 0h1m24.5 0h1m1 0h1m2.5 0h1m-23 0.5h1m15.5 0h1m2 0h1m-30.5 0.5h1m27 0h1m0 0h1m-32 0.5h1m1.5 0h1m-0.5 0h1m-0.5 0h1m26.5 0h1m-35 0.5h1m1 0h1m2 0h1m25.5 0h1m-34 0.5h1m2 0h1m0.5 0h1m1.5 0h1m0.5 0h1m26 0h1m1.5 0h1m-0.5 0h1m-43 0.5h1m9 0h1m-0.5 0h1m-0.5 0h1m9.5 0h1m2.5 0h1m11.5 0h1m-0.5 0h1m-34.5 0.5h1m0 0h1m5.5 0h1m24 0h1m3 0h1m-0.5 0h1m-32 0.5h1m29.5 0h1m-0.5 0h1m0.5 0h1m-35.5 0.5h1m1 0h1m24.5 0h1m0 0h1m1 0h1m-31.5 0.5h1m1 0h1m24 0.5h1m1.5 0h1m-38 0.5h1m2.5 0h1m0.5 0h1m1.5 0h1m0.5 0h1m24.5 0h1m0.5 0h1m1 0h1m-0.5 0h1m1 0h1m-43.5 0.5h1m11 0h1m23.5 0h1m-0.5 0h1m1 0h1m-42 0.5h1m2.5 0h1m2.5 0h1m3.5 0h1m0 0h1m1 0h1m24 0h1m2.5 0h1m1 0h1m-33 0.5h1m25 0h1m1.5 0h1m-30 0.5h1m0 0h1m25 0h1m-38.5 0.5h1m9 0h1m0.5 0h1m-0.5 0h1m24 0h1m1.5 0h1m1 0h1m0 0h1m-37 0.5h1m-0.5 0h1m0.5 0h1m26.5 0h1m2.5 0h1m-33 0.5h1m15 0h1m14.5 0h1m-41 0.5h1m4 0h1m0.5 0h1m0.5 0h1m0 0h1m2 0h1m23.5 0h1m0.5 0h1m-30 0.5h1m-0.5 0h1m0.5 0h1m1 0h1m22 0h1m0 0h1m1 0h1m0 0h1m0 0h1m-32.5 0.5h1m26 0h1m1.5 0h1m1.5 0h1m0 0h1m0.5 0h1m-33 0.5h1m0 0h1m-0.5 0h1m21.5 0h1m-0.5 0h1m1 0h1m-38 0.5h1m6.5 0h1m1 0h1m1.5 0h1m21.5 0h1m6 0h1m-44 0.5h1m0.5 0h1m9.5 0h1m0.5 0h1m21.5 0h1m0 0h1m0 0h1m1.5 0h1m-32 0.5h1m-0.5 0h1m0 0h1m0.5 0h1m-0.5 0h1m22 0h1m-29 0.5h1m1.5 0h1m0.5 0h1m22 0h1m2.5 0h1m-0.5 0h1m-30 0.5h1m1 0h1m22.5 0h1m-0.5 0h1m6 0h1m-37.5 0.5h1m2.5 0h1m24 0h1m2 0h1m1 0h1m-0.5 0h1m-37.5 0.5h1m35 0h1m2 0h1m-43 0.5h1m6.5 0h1m0.5 0h1m1.5 0h1m0 0h1m21 0h1m-0.5 0h1m0 0h1m1 0h1m1 0h1m0 0h1m-39.5 0.5h1m2 0h1m3.5 0h1m23 0h1m0.5 0h1m2.5 0h1m1.5 0h1m-41 0.5h1m7 0h1m0.5 0h1m-0.5 0h1m21 0h1m0 0h1m0.5 0h1m0 0h1m-29.5 0.5h1m0 0h1m0.5 0h1m-0.5 0h1m26.5 0h1m0 0h1m-38.5 0.5h1m4 0h1m1 0h1m22 0h1m3 0h1m-0.5 0h1m-41 0.5h1m7.5 0h1m0.5 0h1m0 0h1m0 0h1m0 0h1m0.5 0h1m0 0h1m19 0h1m9 0h1m-41 0.5h1m1 0h1m1 0h1m4 0h1m20.5 0h1m0 0h1m1.5 0h1m-0.5 0h1m1.5 0h1m-38.5 0.5h1m1 0h1m-0.5 0h1m0.5 0h1m1.5 0h1m0 0h1m1.5 0h1m15 0h1m2.5 0h1m-0.5 0h1m-0.5 0h1m-32 0.5h1m6.5 0h1m0 0h1m-0.5 0h1m0 0h1m23.5 0h1m0 0h1m3 0h1m0.5 0h1m-44.5 0.5h1m8 0h1m0.5 0h1m1 0h1m21 0h1m0 0h1m0 0h1m-0.5 0h1m-33.5 0.5h1m2.5 0h1m4.5 0h1m-17 0.5h1m9 0h1m1 0h1m0.5 0h1m-0.5 0h1m19.5 0h1m-0.5 0h1m3 0h1m1 0h1m-33.5 0.5h1m0 0h1m3 0h1m-0.5 0h1m19 0h1m4 0h1m4 0h1m-38 0.5h1m1.5 0h1m2.5 0h1m21 0h1m0 0h1m1 0h1m-31.5 0.5h1m-0.5 0h1m1.5 0h1m0.5 0h1m0 0h1m-0.5 0h1m1 0h1m-0.5 0h1m20 0h1m1 0h1m-0.5 0h1m-35 0.5h1m7 0h1m0 0h1m18.5 0h1m0 0h1m2.5 0h1m-29.5 0.5h1m1.5 0h1m0 0h1m19 0h1m0 0h1m-0.5 0h1m0.5 0h1m9.5 0h1m-34 0.5h1m-0.5 0h1m0 0h1m16 0h1m-0.5 0h1m-0.5 0h1m3 0h1m3 0h1m-35.5 0.5h1m24.5 0h1m10.5 0h1m1 0h1m-43.5 0.5h1m6.5 0h1m0 0h1m0.5 0h1m-0.5 0h1m1 0h1m19.5 0h1m5 0h1m2.5 0h1m-38 0.5h1m0 0h1m5 0h1m0.5 0h1m15 0h1m3 0h1m-31.5 0.5h1m5.5 0h1m-0.5 0h1m0 0h1m15 0h1m0 0h1m1 0h1m2.5 0h1m-28 0.5h1m0 0h1m1.5 0h1m15.5 0h1m1 0h1m-0.5 0h1m3.5 0h1m3 0h1m-33 0.5h1m0.5 0h1m6.5 0h1m11.5 0h1m4 0h1m5.5 0h1m-30.5 0.5h1m16.5 0h1m0.5 0h1m-0.5 0h1m-0.5 0h1m3.5 0h1m-37.5 0.5h1m11 0h1m-0.5 0h1m-0.5 0h1m0.5 0h1m1.5 0h1m-0.5 0h1m12 0h1m0 0h1m-0.5 0h1m0 0h1m-30 0.5h1m6 0h1m2.5 0h1m0 0h1m0.5 0h1m10 0h1m-0.5 0h1m0 0h1m5 0h1m6 0h1m-43.5 0.5h1m13 0h1m0.5 0h1m2 0h1m7.5 0h1m-0.5 0h1m0.5 0h1m2.5 0h1m0 0h1m0.5 0h1m-25 0.5h1m1.5 0h1m1 0h1m-0.5 0h1m10 0h1m1 0h1m1.5 0h1m0.5 0h1m2.5 0h1m1.5 0h1m-28.5 0.5h1m14 0h1m-0.5 0h1m0 0h1m0 0h1m-0.5 0h1m4 0h1m-24.5 0.5h1m-0.5 0h1m0 0h1m5.5 0h1m0 0h1m3.5 0h1m3.5 0h1m-0.5 0h1m-0.5 0h1m-0.5 0h1m-0.5 0h1m1 0h1m9 0h1m-40 0.5h1m7 0h1m0 0h1m1.5 0h1m-0.5 0h1m1.5 0h1m-0.5 0h1m-0.5 0h1m0 0h1m1.5 0h1m-0.5 0h1m1 0h1m1.5 0h1m0 0h1m0 0h1m0 0h1m4 0h1m-32 0.5h1m4.5 0h1m1.5 0h1m3.5 0h1m-0.5 0h1m0 0h1m0 0h1m2 0h1m-0.5 0h1m1 0h1m2.5 0h1m0.5 0h1m0.5 0h1m4 0h1m-34.5 0.5h1m7.5 0h1m0 0h1m0 0h1m1 0h1m2 0h1m0 0h1m-0.5 0h1m-0.5 0h1m0 0h1m-0.5 0h1m0 0h1m0 0h1m-0.5 0h1m2 0h1m1 0h1m-0.5 0h1m1 0h1m4 0h1m0 0h1m-35 0.5h1m4.5 0h1m5.5 0h1m-0.5 0h1m0 0h1m-0.5 0h1m-0.5 0h1m0.5 0h1m1 0h1m1 0h1m1 0h1m1.5 0h1m-0.5 0h1m-0.5 0h1m4.5 0h1m-28 0.5h1m3 0h1m4.5 0h1m1 0h1m1 0h1m1 0h1m4.5 0h1m6 0h1m3.5 0h1m-31.5 0.5h1m1.5 0h1m2.5 0h1m-0.5 0h1m1 0h1m0.5 0h1m4 0h1m1.5 0h1m1 0h1m0.5 0h1m-0.5 0h1m4.5 0h1m-33.5 0.5h1m7 0h1m0 0h1m0 0h1m-0.5 0h1m0 0h1m0 0h1m-0.5 0h1m0 0h1m1 0h1m0 0h1m3.5 0h1m0 0h1m-0.5 0h1m3.5 0h1m-23.5 0.5h1m4 0h1m-0.5 0h1m0 0h1m-0.5 0h1m6 0h1m1 0h1m2.5 0h1m15.5 0h1m-34.5 0.5h1m2.5 0h1m2 0h1m0.5 0h1m4 0h1m3 0h1m1 0h1m0.5 0h1m-22.5 0.5h1m5.5 0h1m0 0h1m4 0h1m0 0h1m6.5 0h1m1.5 0h1m1 0h1m-32.5 0.5h1m6 0h1m0 0h1m0.5 0h1m2 0h1m1.5 0h1m3.5 0h1m-18 0.5h1m5 0h1m10.5 0h1m0 0h1m0.5 0h1m6 0h1m6.5 0h1m-33.5 0.5h1m1 0h1m-0.5 0h1m3.5 0h1m5 0h1m2 0h1m-0.5 0h1m1 0h1m5 0h1m-20 0.5h1m0 0h1m-0.5 0h1m1 0h1m3.5 0h1m-0.5 0h1m1.5 0h1m4.5 0h1m1 0h1m-25 0.5h1m4.5 0h1m3.5 0h1m0.5 0h1m-0.5 0h1m2 0h1m-0.5 0h1m0 0h1m0.5 0h1m2 0h1m0.5 0h1m-24.5 0.5h1m7 0h1m5 0h1m2 0h1m-0.5 0h1m-0.5 0h1m9.5 0h1m1 0h1m-34.5 0.5h1m0 0h1m10.5 0h1m-0.5 0h1m-0.5 0h1m2 0h1m-0.5 0h1m0 0h1m-0.5 0h1m12 0h1m-22 0.5h1" stroke="#e02a1c" stroke-width="1.0" fill="none" opacity="0.88"/>
<path d="M62.5 769.5h1m31.5 0.5h1m2.5 5.5h1m-18.5 8.5h1m4 6h1m3.5 4h1m-2.5 3h1m-25 5.5h1m6 0h1m17.5 0.5h1m4.5 2.5h1m-28 2h1m21.5 0.5h1m-12.5 5h1m2 4.5h1m-5.5 2.5h1m-8 1.5h1m-0.5 2h1m-14 1.5h1m3 1h1m6 0h1m10.5 0h1m-19 1.5h1m26.5 0.5h1m-27.5 1h1m12 0h1m-8 1h1m17 1.5h1m-30.5 2.5h1m23.5 1h1m-12.5 2.5h1m19.5 5h1m-21 0.5h1m-7.5 1h1m4 0h1m2.5 0.5h1m-5.5 1.5h1m-9.5 1h1m8 3.5h1m-3.5 1h1m-15.5 2.5h1m35.5 3.5h1m6.5 1.5h1m-9.5 3.5h1m-21.5 8h1" stroke="#ee5d50" stroke-width="1.0" fill="none" opacity="0.6"/>
</g>
<path d="M105 765.5h1m36 6h1m-42 1.5h1m27.5 6.5h1m-29 4h1m1 2.5h1m2 4h1m-3.5 2h1m-3.5 0.5h1m1.5 0.5h1m2.5 0.5h1m-0.5 1h1m-6.5 4.5h1m-0.5 0.5h1m0 0h1m0 0.5h1m-3.5 0.5h1m-0.5 0h1m0.5 0h1m-3 0.5h1m-1.5 1h1m0.5 2.5h1m0 0.5h1m-1.5 0.5h1m-3.5 1h1m0.5 0h1m-1.5 0.5h1m8.5 5h1m-11 0.5h1m-1.5 0.5h1m-0.5 0h1m-0.5 0h1m-2.5 0.5h1m0.5 0h1m-2 0.5h1m-1 0.5h1m-1 0.5h1m6 0h1m-8 1.5h1m-0.5 0.5h1m0 1h1m-2 1h1m0.5 1.5h1m3 2.5h1m-4.5 1.5h1m2.5 0.5h1m-0.5 0h1m-6.5 0.5h1m6.5 0.5h1m5 0.5h1m-13 0.5h1m-1.5 1h1m-3.5 1h1m2 0h1m-2 1h1m-3 1h1m0.5 0h1m0.5 0.5h1m-3 7.5h1m3 7.5h1m-4 3h1m-1 5.5h1" stroke="#f0892f" stroke-width="1.0" fill="none" opacity="0.75"/>
<path d="M233.9 702.8H50.5V885.3H233.9" stroke="#555" stroke-width="1.1" fill="none"/>
<path d="M233.7 702.3V885.8" stroke="#333" stroke-width="1.5" fill="none"/>
<path d="M50.5 884.3h-4.2M50.5 870.1h-3M50.5 855.9h-3M50.5 841.7h-3M50.5 827.5h-3M50.5 813.3h-4.2M50.5 799.1h-3M50.5 784.9h-3M50.5 770.7h-3M50.5 756.5h-3M50.5 742.3h-4.2M50.5 728.1h-3M50.5 713.9h-3M70.5 885.3v4.6M129.5 885.3v4.6M182.0 885.3v4.6M233.7 885.3v4.6M92.8 885.3v3M102.0 885.3v3M108.6 885.3v3M113.7 885.3v3M117.9 885.3v3M121.4 885.3v3M124.4 885.3v3M127.1 885.3v3M145.3 885.3v3M154.5 885.3v3M161.1 885.3v3M166.2 885.3v3M170.4 885.3v3M173.9 885.3v3M176.9 885.3v3M179.6 885.3v3M197.8 885.3v3M207.0 885.3v3M213.6 885.3v3M218.7 885.3v3M222.9 885.3v3M226.4 885.3v3M229.4 885.3v3M232.1 885.3v3M55.5 885.3v3M85.5 885.3v3M95.5 885.3v3" stroke="#3a3a3a" stroke-width="1.0" fill="none"/>
<text x="45.3" y="884.5" text-anchor="middle" transform="rotate(-90 45.3 884.5)" font-size="17.3" letter-spacing="-0.4">0</text>
<text x="45.3" y="811.0" text-anchor="middle" transform="rotate(-90 45.3 811.0)" font-size="17.3" letter-spacing="-0.4">200</text>
<text x="45.3" y="735.0" text-anchor="middle" transform="rotate(-90 45.3 735.0)" font-size="17.3" letter-spacing="-0.4">400</text>
<text x="71.0" y="902.4" text-anchor="middle" font-size="17.8">0</text>
<text x="121.0" y="902.4" font-size="17.8">10<tspan dy="-4.6" font-size="12">4</tspan></text>
<text x="173.5" y="902.4" font-size="17.8">10<tspan dy="-4.6" font-size="12">5</tspan></text>
<text x="218.0" y="902.4" font-size="17.8">10<tspan dy="-4.6" font-size="12">6</tspan></text>
<rect x="99.9" y="755.0" width="116.0" height="129.3" fill="none" stroke="#f2a05f" stroke-width="1.3" rx="1.2"/>
<text x="136.3" y="738.3" text-anchor="middle" font-size="17.3">0.38%</text>
<text x="145.0" y="918.7" text-anchor="middle" font-size="17.3">pSG5-vector</text>
<clipPath id="cD273_703"><rect x="273.5" y="703.8" width="49.0" height="180.5"/></clipPath>
<g clip-path="url(#cD273_703)">
<ellipse cx="303.5" cy="848.0" rx="13.5" ry="30.0" fill="#dc2a1c" opacity="1.0" transform="rotate(22 303.5 848.0)" filter="url(#b1)"/>
<path d="M316.5 747.5h1m0.5 11h1m-5 2.5h1m0.5 0h1m-9 3.5h1m7.5 1h1m4.5 1h1m-2 1h1m-4 0.5h1m1 0h1m-7 1h1m-2 0.5h1m2 0h1m-2 1.5h1m5.5 0h1m-11 1h1m9.5 0h1m-12 0.5h1m2.5 0h1m-0.5 0h1m-7 0.5h1m5.5 0h1m3 0.5h1m-4.5 0.5h1m0.5 0h1m2 0h1m-4.5 0.5h1m2.5 0.5h1m-10 0.5h1m7 0h1m-1.5 0.5h1m2 0h1m-6 0.5h1m1 0.5h1m0.5 0h1m-0.5 0h1m-0.5 0h1m-2 0.5h1m-10 0.5h1m1 0h1m1 0h1m-4 0.5h1m3 0h1m0 0h1m0.5 0h1m0 0h1m-8 0.5h1m1 0h1m0.5 0h1m-7.5 0.5h1m5 0h1m2 0h1m-9 0.5h1m7.5 0h1m0 0h1m-9 0.5h1m5.5 0h1m0 0h1m-11 1h1m1.5 0h1m-0.5 0h1m1 0h1m0.5 0h1m2.5 0h1m-1 0.5h1m1 0h1m-9 0.5h1m0 0h1m4.5 0h1m0 0h1m-11 0.5h1m1.5 0h1m2.5 0h1m-9.5 0.5h1m7 0h1m-0.5 0h1m-0.5 0h1m0.5 0h1m-9.5 0.5h1m4.5 0h1m-0.5 0h1m2.5 0h1m0 0h1m-10.5 0.5h1m3.5 0h1m-1 0.5h1m-5.5 0.5h1m0 0h1m1.5 0h1m0 0h1m1.5 0h1m-8.5 0.5h1m2.5 0h1m3 0h1m1.5 0h1m-12 0.5h1m1.5 0h1m3.5 0h1m1.5 0h1m-0.5 0h1m-12 0.5h1m1 0h1m0 0h1m0.5 0h1m0.5 0h1m1.5 0h1m1 0h1m0.5 0h1m-11 0.5h1m-0.5 0h1m0 0h1m2 0h1m1 0h1m2 0h1m-8 0.5h1m-0.5 0h1m2.5 0h1m0 0h1m0 0h1m0 0h1m-9 0.5h1m2 0h1m0.5 0h1m0 0h1m0 0h1m-9 0.5h1m-0.5 0h1m-0.5 0h1m0.5 0h1m1.5 0h1m-0.5 0h1m0.5 0h1m1 0h1m-0.5 0h1m0 0h1m-11 0.5h1m1 0h1m0 0h1m-0.5 0h1m0.5 0h1m-0.5 0h1m0.5 0h1m-0.5 0h1m-9.5 0.5h1m1 0h1m-0.5 0h1m-0.5 0h1m2 0h1m0 0h1m0.5 0h1m-9.5 0.5h1m-0.5 0h1m3 0h1m-0.5 0h1m0 0h1m-9 0.5h1m2 0h1m0.5 0h1m0.5 0h1m1 0h1m0 0h1m2 0h1m-10 0.5h1m2 0h1m0 0h1m-0.5 0h1m-0.5 0h1m-0.5 0h1m3.5 0h1m-15 0.5h1m5.5 0h1m0 0h1m1.5 0h1m-10 0.5h1m-0.5 0h1m-0.5 0h1m-0.5 0h1m0 0h1m-0.5 0h1m0.5 0h1m0 0h1m-0.5 0h1m0.5 0h1m-0.5 0h1m1 0h1m-0.5 0h1m-13.5 0.5h1m1 0h1m3 0h1m0 0h1m0 0h1m-0.5 0h1m4 0h1m-13.5 0.5h1m1.5 0h1m1 0h1m1 0h1m0.5 0h1m-0.5 0h1m0 0h1m0 0h1m-10.5 0.5h1m1 0h1m2 0h1m0.5 0h1m1 0h1m-18 0.5h1m5 0h1m-0.5 0h1m1.5 0h1m-0.5 0h1m-0.5 0h1m0 0h1m0 0h1m0 0h1m1 0h1m0.5 0h1m-0.5 0h1m-0.5 0h1m0 0h1m0 0h1m-15.5 0.5h1m2.5 0h1m2 0h1m0.5 0h1m1 0h1m-0.5 0h1m1 0h1m-0.5 0h1m-8 0.5h1m1.5 0h1m-0.5 0h1m2.5 0h1m-0.5 0h1m0 0h1m0 0h1m-0.5 0h1m0 0h1m-15 0.5h1m3 0h1m2 0h1m0 0h1m-0.5 0h1m0.5 0h1m0 0h1m-13 0.5h1m0.5 0h1m3.5 0h1m0 0h1m0 0h1m-0.5 0h1m-0.5 0h1m0.5 0h1m0 0h1m-0.5 0h1m-0.5 0h1m1.5 0h1m-16 0.5h1m-0.5 0h1m1 0h1m1 0h1m3 0h1m1.5 0h1m0.5 0h1m0.5 0h1m-15 0.5h1m-0.5 0h1m2.5 0h1m0.5 0h1m1 0h1m-0.5 0h1m-0.5 0h1m0 0h1m4.5 0h1m-17 0.5h1m0 0h1m0 0h1m0 0h1m1 0h1m1 0h1m2.5 0h1m0 0h1m0.5 0h1m0 0h1m0 0h1m-17.5 0.5h1m5 0h1m-0.5 0h1m-0.5 0h1m-0.5 0h1m-0.5 0h1m0 0h1m0.5 0h1m-0.5 0h1m-0.5 0h1m-0.5 0h1m-0.5 0h1m3 0h1m-14.5 0.5h1m-0.5 0h1m2 0h1m-0.5 0h1m-0.5 0h1m1.5 0h1m-0.5 0h1m-0.5 0h1m-0.5 0h1m-0.5 0h1m-0.5 0h1m0 0h1m-0.5 0h1m-0.5 0h1m1.5 0h1m-32 0.5h1m11 0h1m4.5 0h1m2 0h1m-0.5 0h1m-0.5 0h1m-0.5 0h1m0.5 0h1m1 0h1m0 0h1m2 0h1m0.5 0h1m-0.5 0h1m-17.5 0.5h1m2.5 0h1m1 0h1m-0.5 0h1m-0.5 0h1m-0.5 0h1m0 0h1m-0.5 0h1m-0.5 0h1m-10.5 0.5h1m3.5 0h1m2.5 0h1m-0.5 0h1m0.5 0h1m-0.5 0h1m1 0h1m0 0h1m0 0h1m-13 0.5h1m0.5 0h1m-0.5 0h1m0.5 0h1m-0.5 0h1m-0.5 0h1m-0.5 0h1m0 0h1m0 0h1m-0.5 0h1m-0.5 0h1m-0.5 0h1m0 0h1m-0.5 0h1m-0.5 0h1m-0.5 0h1m-0.5 0h1m1 0h1m-22.5 0.5h1m6.5 0h1m-0.5 0h1m1 0h1m1 0h1m0 0h1m-0.5 0h1m-0.5 0h1m1.5 0h1m-0.5 0h1m0 0h1m-0.5 0h1m-0.5 0h1m0 0h1m0.5 0h1m-0.5 0h1m-13 0.5h1m1 0h1m0 0h1m0.5 0h1m-0.5 0h1m0 0h1m0 0h1m0 0h1m0 0h1m0 0h1m-23.5 0.5h1m9.5 0h1m1 0h1m0 0h1m-0.5 0h1m-0.5 0h1m0 0h1m-0.5 0h1m0.5 0h1m-0.5 0h1m0 0h1m-0.5 0h1m4.5 0h1m-20.5 0.5h1m7.5 0h1m0.5 0h1m0 0h1m0 0h1m0.5 0h1m-0.5 0h1m0.5 0h1m-0.5 0h1m1 0h1m0 0h1m-0.5 0h1m-14 0.5h1m0.5 0h1m-0.5 0h1m0.5 0h1m-0.5 0h1m-0.5 0h1m-10 0.5h1m1 0h1m1 0h1m1 0h1m-0.5 0h1m-0.5 0h1m-0.5 0h1m0 0h1m0 0h1m0.5 0h1m1 0h1m1.5 0h1m0.5 0h1m-0.5 0h1m-14.5 0.5h1m-0.5 0h1m0 0h1m0.5 0h1m-0.5 0h1m0 0h1m1.5 0h1m-0.5 0h1m-0.5 0h1m0 0h1m0 0h1m1.5 0h1m0 0h1m-22 0.5h1m0.5 0h1m0 0h1m0.5 0h1m-0.5 0h1m1.5 0h1m-0.5 0h1m0 0h1m-0.5 0h1m1 0h1m-0.5 0h1m-0.5 0h1m-0.5 0h1m0 0h1m0 0h1m-0.5 0h1m-0.5 0h1m0 0h1m0 0h1m2.5 0h1m-18 0.5h1m0.5 0h1m0 0h1m0 0h1m0.5 0h1m0.5 0h1m2 0h1m2 0h1m-0.5 0h1m-17 0.5h1m-0.5 0h1m0 0h1m1.5 0h1m1.5 0h1m0 0h1m0.5 0h1m-0.5 0h1m-0.5 0h1m1 0h1m0.5 0h1m1.5 0h1m0 0h1m1 0h1m-17.5 0.5h1m-0.5 0h1m4 0h1m0.5 0h1m0 0h1m-0.5 0h1m-0.5 0h1m-0.5 0h1m-0.5 0h1m-0.5 0h1m-0.5 0h1m-0.5 0h1m0.5 0h1m1 0h1m-0.5 0h1m-0.5 0h1m0 0h1m-20 0.5h1m-0.5 0h1m0 0h1m1 0h1m-0.5 0h1m-0.5 0h1m0.5 0h1m2 0h1m-0.5 0h1m-0.5 0h1m-0.5 0h1m-0.5 0h1m0 0h1m-0.5 0h1m-0.5 0h1m-0.5 0h1m-0.5 0h1m-0.5 0h1m1 0h1m0 0h1m-0.5 0h1m0 0h1m-0.5 0h1m-28.5 0.5h1m3.5 0h1m0.5 0h1m5 0h1m-0.5 0h1m-0.5 0h1m0.5 0h1m-0.5 0h1m3 0h1m-0.5 0h1m1.5 0h1m-0.5 0h1m1.5 0h1m1 0h1m-17 0.5h1m4 0h1m0 0h1m0 0h1m-0.5 0h1m-0.5 0h1m-0.5 0h1m0 0h1m-0.5 0h1m0 0h1m0 0h1m0 0h1m0.5 0h1m0 0h1m0 0h1m-19 0.5h1m1.5 0h1m1 0h1m0.5 0h1m0 0h1m1.5 0h1m-0.5 0h1m-0.5 0h1m0.5 0h1m1 0h1m1 0h1m-22 0.5h1m2.5 0h1m2 0h1m0 0h1m1.5 0h1m0.5 0h1m-0.5 0h1m0 0h1m-0.5 0h1m0 0h1m0 0h1m0 0h1m-0.5 0h1m-0.5 0h1m0.5 0h1m1 0h1m-16 0.5h1m1.5 0h1m0.5 0h1m-0.5 0h1m-0.5 0h1m1 0h1m-0.5 0h1m-0.5 0h1m0 0h1m-0.5 0h1m1 0h1m-0.5 0h1m-0.5 0h1m2 0h1m-0.5 0h1m-0.5 0h1m-16.5 0.5h1m-0.5 0h1m1 0h1m0.5 0h1m0 0h1m-0.5 0h1m0 0h1m4 0h1m0.5 0h1m-0.5 0h1m-18.5 0.5h1m0.5 0h1m0 0h1m-0.5 0h1m0 0h1m2.5 0h1m0 0h1m-0.5 0h1m-0.5 0h1m-0.5 0h1m0 0h1m-0.5 0h1m0 0h1m-0.5 0h1m0.5 0h1m-0.5 0h1m-0.5 0h1m-0.5 0h1m-15 0.5h1m-0.5 0h1m-0.5 0h1m3.5 0h1m1 0h1m-0.5 0h1m0 0h1m-0.5 0h1m-0.5 0h1m-0.5 0h1m-0.5 0h1m-0.5 0h1m2 0h1m0.5 0h1m1 0h1m-21 0.5h1m-0.5 0h1m-0.5 0h1m0.5 0h1m0 0h1m0 0h1m0 0h1m0.5 0h1m1 0h1m0 0h1m-0.5 0h1m-0.5 0h1m-0.5 0h1m-0.5 0h1m-0.5 0h1m0.5 0h1m-0.5 0h1m-0.5 0h1m-27 0.5h1m7 0h1m4.5 0h1m1.5 0h1m-0.5 0h1m0 0h1m-0.5 0h1m0 0h1m-0.5 0h1m1.5 0h1m-0.5 0h1m0 0h1m0.5 0h1m-0.5 0h1m-0.5 0h1m2 0h1m-0.5 0h1m-30.5 0.5h1m7 0h1m3 0h1m1 0h1m0 0h1m0.5 0h1m-0.5 0h1m-0.5 0h1m0 0h1m-0.5 0h1m0 0h1m0 0h1m-0.5 0h1m0 0h1m0.5 0h1m-0.5 0h1m0.5 0h1m-0.5 0h1m-0.5 0h1m-0.5 0h1m1 0h1m-0.5 0h1m-0.5 0h1m-16 0.5h1m-0.5 0h1m0 0h1m-0.5 0h1m0 0h1m0 0h1m2 0h1m-0.5 0h1m-0.5 0h1m-0.5 0h1m0 0h1m-0.5 0h1m-0.5 0h1m1 0h1m-0.5 0h1m-0.5 0h1m0 0h1m-0.5 0h1m-21 0.5h1m1 0h1m-0.5 0h1m2 0h1m-0.5 0h1m0.5 0h1m-0.5 0h1m0.5 0h1m-0.5 0h1m-0.5 0h1m-0.5 0h1m0 0h1m0 0h1m0.5 0h1m-0.5 0h1m1 0h1m2 0h1m-23 0.5h1m2.5 0h1m1.5 0h1m0.5 0h1m0.5 0h1m0 0h1m-0.5 0h1m0 0h1m0.5 0h1m0.5 0h1m0.5 0h1m-0.5 0h1m0.5 0h1m3 0h1m-40.5 0.5h1m11 0h1m4.5 0h1m5 0h1m0 0h1m0 0h1m2 0h1m-0.5 0h1m0 0h1m0 0h1m-0.5 0h1m-0.5 0h1m-0.5 0h1m0 0h1m-0.5 0h1m-0.5 0h1m0.5 0h1m-0.5 0h1m-0.5 0h1m-11.5 0.5h1m1 0h1m-0.5 0h1m-0.5 0h1m-0.5 0h1m-0.5 0h1m0 0h1m-0.5 0h1m0 0h1m0.5 0h1m-0.5 0h1m-0.5 0h1m-0.5 0h1m0 0h1m-0.5 0h1m0 0h1m-37.5 0.5h1m9.5 0h1m11 0h1m0 0h1m-0.5 0h1m1 0h1m-0.5 0h1m-0.5 0h1m-0.5 0h1m-0.5 0h1m0.5 0h1m-0.5 0h1m0.5 0h1m-0.5 0h1m-0.5 0h1m-0.5 0h1m4 0h1m-18.5 0.5h1m0.5 0h1m0.5 0h1m3 0h1m-0.5 0h1m-0.5 0h1m-0.5 0h1m0.5 0h1m0 0h1m0.5 0h1m-0.5 0h1m1 0h1m0 0h1m0 0h1m-22 0.5h1m3 0h1m2.5 0h1m-0.5 0h1m0 0h1m-0.5 0h1m0.5 0h1m-0.5 0h1m0 0h1m1 0h1m0 0h1m0.5 0h1m0.5 0h1m0.5 0h1m-0.5 0h1m-40 0.5h1m18.5 0h1m2.5 0h1m1 0h1m1 0h1m-0.5 0h1m0.5 0h1m-0.5 0h1m1.5 0h1m-0.5 0h1m1 0h1m-0.5 0h1m-0.5 0h1m0 0h1m2.5 0h1m-24.5 0.5h1m1 0h1m0 0h1m0 0h1m2.5 0h1m1.5 0h1m0.5 0h1m0 0h1m-0.5 0h1m0 0h1m-0.5 0h1m-0.5 0h1m5 0h1m-23 0.5h1m2.5 0h1m3.5 0h1m1.5 0h1m-0.5 0h1m0 0h1m0 0h1m0 0h1m0.5 0h1m2 0h1m2 0h1m-20.5 0.5h1m5.5 0h1m0.5 0h1m-0.5 0h1m-0.5 0h1m0 0h1m-0.5 0h1m0 0h1m-0.5 0h1m0.5 0h1m-0.5 0h1m-0.5 0h1m-0.5 0h1m1 0h1m0 0h1m2 0h1m-15 0.5h1m-0.5 0h1m0 0h1m-0.5 0h1m-0.5 0h1m-0.5 0h1m-0.5 0h1m-0.5 0h1m-0.5 0h1m0 0h1m-0.5 0h1m-0.5 0h1m-0.5 0h1m-0.5 0h1m0.5 0h1m-0.5 0h1m-0.5 0h1m-0.5 0h1m1.5 0h1m0 0h1m-21.5 0.5h1m-0.5 0h1m0 0h1m1 0h1m1 0h1m0 0h1m0 0h1m0.5 0h1m0 0h1m0 0h1m-0.5 0h1m1.5 0h1m-0.5 0h1m-0.5 0h1m-0.5 0h1m0.5 0h1m0.5 0h1m2.5 0h1m-19.5 0.5h1m-0.5 0h1m0.5 0h1m0 0h1m-0.5 0h1m1 0h1m0 0h1m0 0h1m1 0h1m0.5 0h1m1 0h1m0 0h1m-0.5 0h1m-0.5 0h1m0.5 0h1m1 0h1m-43 0.5h1m7.5 0h1m12 0h1m0 0h1m1 0h1m0 0h1m-0.5 0h1m-0.5 0h1m-0.5 0h1m0.5 0h1m-0.5 0h1m2.5 0h1m0 0h1m0 0h1m0.5 0h1m-17.5 0.5h1m3 0h1m1 0h1m1.5 0h1m0.5 0h1m0 0h1m0 0h1m0 0h1m0 0h1m7 0h1m-22.5 0.5h1m3.5 0h1m-0.5 0h1m0 0h1m-0.5 0h1m-0.5 0h1m-0.5 0h1m-0.5 0h1m0.5 0h1m0.5 0h1m-0.5 0h1m-0.5 0h1m0 0h1m0.5 0h1m-0.5 0h1m-0.5 0h1m0.5 0h1m1.5 0h1m1.5 0h1m-21.5 0.5h1m0.5 0h1m-0.5 0h1m0 0h1m0 0h1m2.5 0h1m-0.5 0h1m2 0h1m-0.5 0h1m2 0h1m0 0h1m-0.5 0h1m0 0h1m-0.5 0h1m-22 0.5h1m4 0h1m-0.5 0h1m1 0h1m0.5 0h1m0 0h1m0 0h1m1 0h1m3 0h1m0 0h1m1 0h1m2.5 0h1m-20.5 0.5h1m-0.5 0h1m0.5 0h1m0.5 0h1m0 0h1m0 0h1m0 0h1m-0.5 0h1m9.5 0h1m-0.5 0h1m0.5 0h1m-0.5 0h1m-32 0.5h1m9.5 0h1m-0.5 0h1m3.5 0h1m2 0h1m9 0h1m0 0h1m0 0h1m-31 0.5h1m6 0h1m6 0h1m-0.5 0h1m2 0h1m0.5 0h1m0 0h1m-0.5 0h1m7 0h1m-42.5 0.5h1m12.5 0h1m2 0h1m2.5 0h1m2 0h1m1.5 0h1m0 0h1m3.5 0h1m0.5 0h1m0 0h1m-0.5 0h1m4 0h1m-0.5 0h1m-0.5 0h1m2 0h1m-23 0.5h1m1.5 0h1m-0.5 0h1m-0.5 0h1m1 0h1m0.5 0h1m-0.5 0h1m0.5 0h1m-0.5 0h1m2 0h1m1 0h1m4.5 0h1m-0.5 0h1m0 0h1m-29.5 0.5h1m6.5 0h1m-0.5 0h1m0 0h1m0 0h1m3 0h1m-0.5 0h1m0.5 0h1m1.5 0h1m3 0h1m2 0h1m-0.5 0h1m2 0h1m-24 0.5h1m-0.5 0h1m-0.5 0h1m1.5 0h1m1.5 0h1m-0.5 0h1m1 0h1m-0.5 0h1m0 0h1m8 0h1m0 0h1m0 0h1m0 0h1m-0.5 0h1m-0.5 0h1m-31 0.5h1m7.5 0h1m1 0h1m1 0h1m0.5 0h1m0.5 0h1m2.5 0h1m0 0h1m-0.5 0h1m0 0h1m0 0h1m3.5 0h1m-0.5 0h1m0 0h1m0 0h1m-30.5 0.5h1m1.5 0h1m3.5 0h1m-0.5 0h1m1 0h1m0 0h1m2 0h1m1 0h1m-0.5 0h1m3.5 0h1m0.5 0h1m3.5 0h1m0 0h1m0 0h1m0 0h1m-32.5 0.5h1m3 0h1m3 0h1m0.5 0h1m-0.5 0h1m-0.5 0h1m0.5 0h1m4 0h1m-0.5 0h1m0.5 0h1m0 0h1m2 0h1m2 0h1m3.5 0h1m0.5 0h1m-42 0.5h1m15 0h1m0 0h1m0 0h1m0 0h1m0.5 0h1m6 0h1m0 0h1m-0.5 0h1m-0.5 0h1m4 0h1m2 0h1m0.5 0h1m-0.5 0h1m-17 0.5h1m1 0h1m-0.5 0h1m1.5 0h1m3 0h1m5 0h1m-27 0.5h1m0 0h1m4.5 0h1m-0.5 0h1m-0.5 0h1m8.5 0h1m0.5 0h1m0 0h1m1.5 0h1m3.5 0h1m0.5 0h1m-38.5 0.5h1m6.5 0h1m5.5 0h1m0 0h1m6 0h1m1 0h1m-0.5 0h1m1.5 0h1m5.5 0h1m1.5 0h1m-0.5 0h1m-26 0.5h1m1.5 0h1m0.5 0h1m3.5 0h1m7.5 0h1m0 0h1m5.5 0h1m0 0h1m-0.5 0h1m-32.5 0.5h1m0 0h1m-0.5 0h1m3.5 0h1m-0.5 0h1m1 0h1m7 0h1m2.5 0h1m2 0h1m1 0h1m5 0h1m0 0h1m-34 0.5h1m3 0h1m2.5 0h1m1.5 0h1m7 0h1m4 0h1m1 0h1m1 0h1m3.5 0h1m1 0h1m-32.5 0.5h1m0 0h1m1 0h1m1.5 0h1m-0.5 0h1m5.5 0h1m1 0h1m0 0h1m0.5 0h1m3.5 0h1m0.5 0h1m6 0h1m0.5 0h1m-43 0.5h1m15 0h1m6.5 0h1m1.5 0h1m-0.5 0h1m1 0h1m1.5 0h1m4.5 0h1m1 0h1m1 0h1m0.5 0h1m-32.5 0.5h1m5 0h1m-0.5 0h1m5.5 0h1m3.5 0h1m0.5 0h1m0.5 0h1m8.5 0h1m-0.5 0h1m-32 0.5h1m16.5 0h1m6 0h1m6 0h1m-0.5 0h1m-36.5 0.5h1m4 0h1m0.5 0h1m0.5 0h1m-0.5 0h1m6 0h1m5 0h1m-0.5 0h1m8 0h1m2.5 0h1m-33 0.5h1m2.5 0h1m2.5 0h1m-0.5 0h1m22.5 0h1m0 0h1m-33 0.5h1m-0.5 0h1m3.5 0h1m-0.5 0h1m1 0h1m9.5 0h1m0.5 0h1m-23.5 0.5h1m0 0h1m1.5 0h1m1.5 0h1m3 0h1m11.5 0h1m1.5 0h1m10 0h1m-32 0.5h1m3.5 0h1m23.5 0h1m-0.5 0h1m-0.5 0h1m-34 0.5h1m3 0h1m1.5 0h1m1 0h1m8 0h1m-15 0.5h1m13 0h1m0.5 0h1m13.5 0h1m-0.5 0h1m-39 0.5h1m4 0h1m0 0h1m-0.5 0h1m0.5 0h1m-0.5 0h1m10.5 0h1m15 0h1m-38.5 0.5h1m4.5 0h1m24.5 0h1m5.5 0h1m1 0h1m-30 0.5h1m7.5 0h1m9.5 0h1m-25 0.5h1m1 0h1m-0.5 0h1m1.5 0h1m0 0h1m9.5 0h1m14 0h1m-0.5 0h1m0 0h1m-35 0.5h1m-0.5 0h1m4.5 0h1m0 0h1m19.5 0h1m5.5 0h1m-33 0.5h1m-0.5 0h1m1.5 0h1m2.5 0h1m7 0h1m9 0h1m-0.5 0h1m1 0h1m-33 0.5h1m5 0h1m2.5 0h1m25 0h1m1 0h1m-43.5 0.5h1m8 0h1m2 0h1m1.5 0h1m25 0h1m0.5 0h1m0 0h1m-34.5 0.5h1m-0.5 0h1m-0.5 0h1m2.5 0h1m12 0h1m4.5 0h1m6.5 0h1m-0.5 0h1m0 0h1m-40 0.5h1m5 0h1m1.5 0h1m30.5 0h1m-39 0.5h1m-0.5 0h1m4 0h1m3 0h1m8.5 0h1m6.5 0h1m8 0h1m0.5 0h1m-0.5 0h1m-35.5 0.5h1m32 0h1m1 0h1m-35 0.5h1m1.5 0h1m0.5 0h1m-16 0.5h1m6 0h1m3.5 0h1m1 0h1m-0.5 0h1m0 0h1m16 0h1m-0.5 0h1m8.5 0h1m0.5 0h1m0.5 0h1m-37.5 0.5h1m4.5 0h1m-0.5 0h1m0 0h1m25.5 0h1m0.5 0h1m0.5 0h1m-33.5 0.5h1m0 0h1m19 0h1m7.5 0h1m-34 0.5h1m0.5 0h1m2 0h1m0 0h1m14 0h1m13 0h1m1 0h1m-37 0.5h1m0.5 0h1m0 0h1m-0.5 0h1m0 0h1m31.5 0h1m-35.5 0.5h1m1.5 0h1m26.5 0h1m1.5 0h1m-38.5 0.5h1m5.5 0h1m29 0h1m0 0h1m-0.5 0h1m-37 0.5h1m3 0h1m0.5 0h1m28 0h1m-0.5 0h1m0.5 0h1m-0.5 0h1m-39.5 0.5h1m3 0h1m-0.5 0h1m1 0h1m30.5 0h1m-0.5 0h1m-40.5 0.5h1m3 0h1m0 0h1m0 0h1m-0.5 0h1m27.5 0h1m0.5 0h1m0.5 0h1m-37.5 0.5h1m1 0h1m32.5 0h1m0 0h1m-0.5 0h1m-36.5 0.5h1m18 0h1m11.5 0h1m0.5 0h1m-32 0.5h1m1 0h1m30 0h1m0.5 0h1m-46.5 0.5h1m8 0h1m1 0h1m0.5 0h1m-0.5 0h1m26 0h1m0 0h1m3.5 0h1m-37 0.5h1m31.5 0h1m0 0h1m-0.5 0h1m-0.5 0h1m-36 0.5h1m0.5 0h1m1.5 0h1m26 0h1m0 0h1m0 0h1m0.5 0h1m-37.5 0.5h1m3.5 0h1m0 0h1m-0.5 0h1m6.5 0h1m19 0h1m1 0h1m-0.5 0h1m-34 0.5h1m0 0h1m-0.5 0h1m0 0h1m-0.5 0h1m28.5 0h1m2 0h1m-42 0.5h1m0 0h1m0.5 0h1m21.5 0h1m10.5 0h1m1.5 0h1m-36.5 0.5h1m-0.5 0h1m1 0h1m0.5 0h1m27 0h1m-32 0.5h1m0.5 0h1m0 0h1m0 0h1m25.5 0h1m1 0h1m-40 0.5h1m5 0h1m30 0h1m0 0h1m1 0h1m0 0h1m0 0h1m-47 0.5h1m10 0h1m1.5 0h1m-0.5 0h1m28.5 0h1m-32.5 0.5h1m0.5 0h1m26.5 0h1m1 0h1m-0.5 0h1m1 0h1m0.5 0h1m-0.5 0h1m-41 0.5h1m1.5 0h1m3 0h1m8.5 0h1m-16 0.5h1m-0.5 0h1m-0.5 0h1m2 0h1m0 0h1m-0.5 0h1m26 0h1m1.5 0h1m-33 0.5h1m0 0h1m-0.5 0h1m26 0h1m-0.5 0h1m-0.5 0h1m0.5 0h1m-0.5 0h1m-0.5 0h1m0.5 0h1m0 0h1m-40 0.5h1m3 0h1m-0.5 0h1m0.5 0h1m26 0h1m-0.5 0h1m-40 0.5h1m8 0h1m1 0h1m-0.5 0h1m33 0h1m-0.5 0h1m-41 0.5h1m-0.5 0h1m-0.5 0h1m3 0h1m0.5 0h1m24 0h1m5 0h1m-40.5 0.5h1m1.5 0h1m32 0h1m0.5 0h1m-0.5 0h1m1 0h1m-42.5 0.5h1m1.5 0h1m2.5 0h1m-0.5 0h1m1.5 0h1m0.5 0h1m24 0h1m-0.5 0h1m0.5 0h1m1.5 0h1m2.5 0h1m-44.5 0.5h1m33.5 0h1m1 0h1m-0.5 0h1m1 0h1m0.5 0h1m0.5 0h1m-38.5 0.5h1m3 0h1m26.5 0h1m1.5 0h1m-0.5 0h1m0.5 0h1m1 0h1m-41 0.5h1m-0.5 0h1m3.5 0h1m25 0h1m0 0h1m0 0h1m-0.5 0h1m5 0h1m-35 0.5h1m25 0h1m-36.5 0.5h1m6.5 0h1m-0.5 0h1m26.5 0h1m-0.5 0h1m0.5 0h1m-0.5 0h1m3 0h1m0 0h1m0 0h1m0 0h1m-41.5 0.5h1m-0.5 0h1m4.5 0h1m-0.5 0h1m30.5 0h1m-42 0.5h1m1.5 0h1m5.5 0h1m-0.5 0h1m22.5 0h1m-0.5 0h1m1.5 0h1m0.5 0h1m-31 0.5h1m0 0h1m-0.5 0h1m23 0h1m0.5 0h1m0.5 0h1m0.5 0h1m-0.5 0h1m-38 0.5h1m3.5 0h1m0 0h1m1.5 0h1m24 0h1m5.5 0h1m-39 0.5h1m1 0h1m1.5 0h1m1 0h1m-0.5 0h1m-0.5 0h1m21.5 0h1m-0.5 0h1m-34 0.5h1m6 0h1m0.5 0h1m0 0h1m22 0h1m7.5 0h1m-41 0.5h1m29 0h1m0 0h1m6 0h1m2 0h1m0 0h1m-40.5 0.5h1m0 0h1m2 0h1m0 0h1m21 0h1m-0.5 0h1m-0.5 0h1m-0.5 0h1m-0.5 0h1m0.5 0h1m5 0h1m-34 0.5h1m0.5 0h1m0.5 0h1m21 0h1m6.5 0h1m0 0h1m-40.5 0.5h1m0 0h1m3 0h1m1.5 0h1m-0.5 0h1m-0.5 0h1m0 0h1m19.5 0h1m-0.5 0h1m-3 0.5h1m-0.5 0h1m1 0h1m0.5 0h1m6 0h1m-39 0.5h1m5 0h1m-0.5 0h1m20.5 0h1m0.5 0h1m-0.5 0h1m2 0h1m1.5 0h1m-35 0.5h1m1.5 0h1m2 0h1m-0.5 0h1m18.5 0h1m1 0h1m3 0h1m2 0h1m-0.5 0h1m3 0h1m-43.5 0.5h1m4.5 0h1m0.5 0h1m-0.5 0h1m20 0h1m2 0h1m0 0h1m2.5 0h1m0.5 0h1m1.5 0h1m1.5 0h1m-43.5 0.5h1m-0.5 0h1m2.5 0h1m1 0h1m1 0h1m-0.5 0h1m0.5 0h1m16 0h1m-0.5 0h1m-21 0.5h1m-0.5 0h1m0.5 0h1m16.5 0h1m6 0h1m6.5 0h1m-36 0.5h1m0 0h1m0 0h1m1 0h1m-0.5 0h1m14.5 0h1m-0.5 0h1m1 0h1m-0.5 0h1m-0.5 0h1m-24 0.5h1m3 0h1m15 0h1m2.5 0h1m1.5 0h1m-28 0.5h1m0 0h1m2.5 0h1m0 0h1m12.5 0h1m0.5 0h1m-24.5 0.5h1m1.5 0h1m1.5 0h1m2.5 0h1m-0.5 0h1m13 0h1m2 0h1m-0.5 0h1m0 0h1m0 0h1m0 0h1m-8.5 0.5h1m1.5 0h1m0 0h1m-22.5 0.5h1m1 0h1m0.5 0h1m-0.5 0h1m0 0h1m10 0h1m-0.5 0h1m0 0h1m1.5 0h1m2.5 0h1m2 0h1m0.5 0h1m-38 0.5h1m-0.5 0h1m5 0h1m17.5 0h1m0.5 0h1m-0.5 0h1m0 0h1m0 0h1m0 0h1m0.5 0h1m-0.5 0h1m-0.5 0h1m0 0h1m0 0h1m-28.5 0.5h1m0 0h1m1.5 0h1m1.5 0h1m0 0h1m8.5 0h1m1.5 0h1m2.5 0h1m0 0h1m0 0h1m1 0h1m-0.5 0h1m-27.5 0.5h1m0 0h1m1 0h1m-0.5 0h1m1.5 0h1m0 0h1m0 0h1m6 0h1m1 0h1m0 0h1m7.5 0h1m2 0h1m1.5 0h1m-36.5 0.5h1m1 0h1m0.5 0h1m1 0h1m0.5 0h1m0 0h1m2.5 0h1m0 0h1m-0.5 0h1m2 0h1m0 0h1m-0.5 0h1m0.5 0h1m-0.5 0h1m0.5 0h1m1 0h1m1 0h1m3.5 0h1m0 0h1m-29 0.5h1m0.5 0h1m2.5 0h1m-0.5 0h1m0.5 0h1m0 0h1m0.5 0h1m0 0h1m-0.5 0h1m-0.5 0h1m-0.5 0h1m4 0h1m2 0h1m0.5 0h1m1.5 0h1m0 0h1m6 0h1m-35 0.5h1m8 0h1m1.5 0h1m0.5 0h1m0.5 0h1m1 0h1m0.5 0h1m-0.5 0h1m1.5 0h1m3 0h1m-24.5 0.5h1m-0.5 0h1m0.5 0h1m3.5 0h1m0.5 0h1m0 0h1m-0.5 0h1m-0.5 0h1m0.5 0h1m0.5 0h1m0 0h1m9 0h1m0.5 0h1m-24 0.5h1m3 0h1m4.5 0h1m5.5 0h1m0 0h1m4.5 0h1m-31 0.5h1m4 0h1m5.5 0h1m0.5 0h1m-0.5 0h1m0.5 0h1m5.5 0h1m4 0h1m0.5 0h1m0.5 0h1m1.5 0h1m0 0h1m-0.5 0h1m-25 0.5h1m0.5 0h1m5.5 0h1m-0.5 0h1m0.5 0h1m0.5 0h1m0 0h1m1.5 0h1m4 0h1m-0.5 0h1m1.5 0h1m-24 0.5h1m-0.5 0h1m0 0h1m1.5 0h1m3 0h1m0 0h1m0 0h1m-0.5 0h1m4.5 0h1m1 0h1m-19 0.5h1m4 0h1m0 0h1m4.5 0h1m2 0h1m8.5 0h1m-30 0.5h1m9.5 0h1m4 0h1m0.5 0h1m4 0h1m4.5 0h1m-30 0.5h1m2 0h1m0 0h1m-0.5 0h1m1.5 0h1m-0.5 0h1m-0.5 0h1m0 0h1m-0.5 0h1m1 0h1m1.5 0h1m1 0h1m-0.5 0h1m1 0h1m-0.5 0h1m-15 0.5h1m0 0h1m6 0h1m2.5 0h1m0.5 0h1m0.5 0h1m5 0h1m-27 0.5h1m5 0h1m2.5 0h1m-0.5 0h1m3 0h1m1 0h1m0.5 0h1m0.5 0h1m3 0h1m1 0h1m0 0h1m11.5 0h1m0.5 0h1m-40 0.5h1m1.5 0h1m1.5 0h1m6.5 0h1m19.5 0h1m-21 0.5h1m2 0h1m6 0h1m4 0h1m7 0h1m-23.5 0.5h1m3.5 0h1m3 0h1m-0.5 0h1m4 0h1m-28.5 0.5h1m3.5 0h1m3 0h1m1 0h1m-0.5 0h1m2 0h1m4 0h1m4.5 0h1m-18 0.5h1m0 0h1m0 0h1m2 0h1m6 0h1m13.5 0h1m-27 0.5h1m-0.5 0h1m0 0h1m0 0h1m1 0h1m7.5 0h1m7.5 0h1" stroke="#e02a1c" stroke-width="1.0" fill="none" opacity="0.88"/>
<path d="M279 767h1m28 23h1m-15.5 8h1m21 1h1m-15 2h1m4 3h1m-13 1.5h1m15.5 3h1m-6 1.5h1m-6 0.5h1m-27.5 2.5h1m27 2h1m-11.5 0.5h1m6 0h1m8 0h1m5.5 0h1m-17.5 2.5h1m-6 2.5h1m-3.5 0.5h1m-7 2.5h1m23 0.5h1m0.5 3h1m-14 2.5h1m6 1h1m-25.5 2.5h1m1.5 0h1m11 0.5h1m13 6h1m-32.5 2.5h1m35.5 0h1m-23 1h1m-7.5 1h1m14.5 2.5h1m6 0.5h1m-17.5 3.5h1m28 1h1m-41.5 8h1m17 0h1m-5 1h1m-16 7.5h1m16 2.5h1m-3.5 1h1m10.5 6.5h1m10.5 1.5h1m-10 3h1" stroke="#ee5d50" stroke-width="1.0" fill="none" opacity="0.6"/>
</g>
<path d="M323.5 762h1m0.5 5.5h1m-0.5 2h1m3 1.5h1m-3.5 1h1m-4 1h1m23.5 1.5h1m-25.5 2h1m2.5 0h1m1 0.5h1m1 0h1m-8 0.5h1m0 2h1m4.5 0h1m-6 1h1m-3 1h1m25.5 0h1m-26.5 0.5h1m0 2.5h1m-2 0.5h1m0 1h1m0 0h1m1 0h1m-0.5 0h1m-3.5 1h1m-4.5 0.5h1m-0.5 0h1m-0.5 0h1m1.5 0h1m2 0h1m-6 0.5h1m0 0h1m1 0h1m-5 0.5h1m1.5 0h1m-2 0.5h1m-2.5 0.5h1m1.5 0h1m-3 1h1m0 0h1m-2.5 0.5h1m-1 0.5h1m2 0h1m1.5 0.5h1m-6 0.5h1m-0.5 0.5h1m1 0h1m0.5 0.5h1m17 0h1m-22 1h1m-2 0.5h1m-0.5 0h1m-0.5 0h1m0 0h1m-0.5 0h1m2 0h1m-7 0.5h1m0.5 0h1m2 0h1m-1.5 0.5h1m-4 0.5h1m1 0h1m2 0h1m-0.5 0h1m-6.5 0.5h1m-2.5 0.5h1m3.5 0h1m1.5 0h1m-7.5 0.5h1m-1 0.5h1m1 0h1m0.5 0h1m-3.5 0.5h1m-2 0.5h1m12 0.5h1m-14.5 1.5h1m-0.5 0h1m-0.5 0h1m-0.5 0h1m-2.5 0.5h1m0 0h1m1.5 0h1m0 0h1m1.5 0h1m-7 0.5h1m-1.5 0.5h1m-0.5 0h1m-0.5 0h1m-0.5 0h1m0.5 0h1m1 0h1m-2.5 0.5h1m-4.5 1h1m1 0h1m0 0h1m0.5 0h1m0 0h1m-5.5 0.5h1m1.5 0h1m0 0h1m-0.5 0h1m-0.5 0h1m-4.5 0.5h1m0.5 0h1m1.5 0h1m-6.5 0.5h1m0.5 0h1m1.5 0h1m0.5 0h1m-7 0.5h1m-0.5 0h1m2.5 0.5h1m-4.5 0.5h1m3.5 0h1m-5.5 0.5h1m0.5 0h1m-3 0.5h1m1 0h1m-0.5 0h1m1.5 0h1m-4.5 0.5h1m-0.5 0h1m-3.5 0.5h1m0.5 0h1m0 0h1m2 0h1m-6.5 0.5h1m0.5 0h1m4 0h1m-0.5 0h1m-5.5 0.5h1m1 0h1m3 0h1m-9 1h1m-1 0.5h1m2 0h1m0 0h1m1.5 0h1m-8 0.5h1m0 0h1m5 0h1m-7.5 0.5h1m1 0h1m-0.5 0h1m-4 0.5h1m1.5 0h1m2.5 0h1m-5.5 0.5h1m-0.5 0h1m-0.5 0h1m-1.5 0.5h1m1.5 0h1m-2.5 1h1m-1 0.5h1m2 0h1m-6.5 0.5h1m0 0h1m-0.5 0h1m1.5 0h1m0 0.5h1m1.5 0h1m-5.5 0.5h1m-2.5 0.5h1m-3 0.5h1m3 0h1m0 0h1m-5.5 0.5h1m1 0h1m1.5 0h1m-5 0.5h1m1 0.5h1m0 0h1m-5 1h1m0.5 0h1m4 0h1m-6.5 0.5h1m-0.5 0h1m-1 1h1m-2.5 0.5h1m-0.5 0h1m0.5 0h1m1 0.5h1m-3.5 0.5h1m-0.5 0h1m-3 1h1m1.5 0h1m-1 0.5h1m-3 0.5h1m-0.5 0.5h1m-1.5 0.5h1m0.5 0h1m-1.5 0.5h1m0 0h1m-2.5 0.5h1m0 0h1m-0.5 0h1m5 0h1m-8.5 0.5h1m3 0h1m-0.5 1h1m32 0.5h1m-38.5 0.5h1m0.5 0h1m0 0h1m-2.5 0.5h1m1 0h1m-0.5 0h1m-2.5 2h1m25 0h1m-29.5 0.5h1m1 0h1m-1 0.5h1m-1 2.5h1m-2 1.5h1m1.5 1h1m-1.5 0.5h1m-2 0.5h1m-3 2h1m-1 2h1m2.5 1.5h1m-4 2.5h1m1 1h1m12.5 6h1m-15 1h1m-3 4h1m9 10.5h1" stroke="#f0892f" stroke-width="1.0" fill="none" opacity="0.75"/>
<path d="M455.9 703.3H273.0V884.8H455.9" stroke="#555" stroke-width="1.1" fill="none"/>
<path d="M455.7 702.8V885.3" stroke="#333" stroke-width="1.5" fill="none"/>
<path d="M273.0 883.8h-4.2M273.0 869.6h-3M273.0 855.4h-3M273.0 841.2h-3M273.0 827.0h-3M273.0 812.8h-4.2M273.0 798.6h-3M273.0 784.4h-3M273.0 770.2h-3M273.0 756.0h-3M273.0 741.8h-4.2M273.0 727.6h-3M273.0 713.4h-3M293.4 884.8v4.6M353.2 884.8v4.6M405.2 884.8v4.6M455.7 884.8v4.6M316.9 884.8v3M326.0 884.8v3M332.5 884.8v3M337.5 884.8v3M341.7 884.8v3M345.1 884.8v3M348.2 884.8v3M350.8 884.8v3M368.9 884.8v3M378.0 884.8v3M384.5 884.8v3M389.5 884.8v3M393.7 884.8v3M397.1 884.8v3M400.2 884.8v3M402.8 884.8v3M420.9 884.8v3M430.0 884.8v3M436.5 884.8v3M441.5 884.8v3M445.7 884.8v3M449.1 884.8v3M452.2 884.8v3M454.8 884.8v3M278.4 884.8v3M308.4 884.8v3M318.4 884.8v3" stroke="#3a3a3a" stroke-width="1.0" fill="none"/>
<text x="268.3" y="885.0" text-anchor="middle" transform="rotate(-90 268.3 885.0)" font-size="17.3" letter-spacing="-0.4">0</text>
<text x="268.3" y="812.1" text-anchor="middle" transform="rotate(-90 268.3 812.1)" font-size="17.3" letter-spacing="-0.4">200</text>
<text x="268.3" y="736.3" text-anchor="middle" transform="rotate(-90 268.3 736.3)" font-size="17.3" letter-spacing="-0.4">400</text>
<text x="293.4" y="904.2" text-anchor="middle" font-size="17.8">0</text>
<text x="344.3" y="904.2" font-size="17.8">10<tspan dy="-4.6" font-size="12">4</tspan></text>
<text x="395.8" y="904.2" font-size="17.8">10<tspan dy="-4.6" font-size="12">5</tspan></text>
<text x="440.5" y="904.2" font-size="17.8">10<tspan dy="-4.6" font-size="12">6</tspan></text>
<rect x="322.3" y="754.8" width="115.7" height="129.0" fill="none" stroke="#f2a05f" stroke-width="1.3" rx="1.2"/>
<text x="358.7" y="740.5" text-anchor="middle" font-size="17.3">1.44%</text>
<text x="373.3" y="920.9" text-anchor="middle" font-size="17.3">GPER</text>
<path d="M25.6 924V454M19.4 464.5L25.6 453.5L31.8 464.5" stroke="#222" stroke-width="1.3" fill="none"/>
<path d="M25 924H486M475.5 917.5L486.5 924L475.5 930.5" stroke="#222" stroke-width="1.3" fill="none"/>
<text x="17.3" y="653.5" text-anchor="middle" transform="rotate(-90 17.3 653.5)" font-size="17.3" letter-spacing="0.5">All events (1×10<tspan dy="-5" font-size="11.5">4</tspan><tspan dy="5">)</tspan></text>
<text x="247.0" y="940.2" text-anchor="middle" font-size="17.3">ALDH1</text>
<path d="M520.2 545.4L520.2 811.9" stroke="#111" stroke-width="1.6"/>
<path d="M520.2 550.7h3.2M520.2 582.6h2.1M520.2 614.5h3.2M520.2 646.4h2.1M520.2 678.3h3.2M520.2 710.2h2.1M520.2 742.1h3.2M520.2 774.0h2.1M520.2 805.9h3.2" stroke="#111" stroke-width="1.4" fill="none"/>
<text x="516.7" y="556.5" text-anchor="end" font-size="17.3">2.0</text>
<text x="516.7" y="620.3" text-anchor="end" font-size="17.3">1.5</text>
<text x="516.7" y="684.1" text-anchor="end" font-size="17.3">1.0</text>
<text x="516.7" y="747.9" text-anchor="end" font-size="17.3">0.5</text>
<text x="516.7" y="811.7" text-anchor="end" font-size="17.3">0.0</text>
<path d="M519.4 811.9L724.0 811.9" stroke="#111" stroke-width="1.6"/>
<rect x="541.6" y="710.9" width="40.7" height="94.7" fill="#322e2c" stroke="#0d0d0d" stroke-width="1.5"/>
<rect x="582.9" y="797.3" width="42.9" height="8.3" fill="#858282" stroke="#0d0d0d" stroke-width="1.5"/>
<rect x="626.4" y="756.0" width="42.0" height="49.6" fill="#c9c8c7" stroke="#0d0d0d" stroke-width="1.5"/>
<rect x="669.0" y="626.7" width="42.6" height="178.9" fill="#fff" stroke="#0d0d0d" stroke-width="1.5"/>
<path d="M555.6 698.5H569.6M555.6 723.5H569.6M562.6 698.5V723.5" stroke="#111" stroke-width="1.5" fill="none"/>
<path d="M598.0 791.7H612.0M598.0 801.9H612.0M605.0 791.7V801.9" stroke="#111" stroke-width="1.5" fill="none"/>
<path d="M640.6 752.9H654.6M640.6 759.9H654.6M647.6 752.9V759.9" stroke="#111" stroke-width="1.5" fill="none"/>
<path d="M683.4 617.1H697.4M683.4 634.4H697.4M690.4 617.1V634.4" stroke="#111" stroke-width="1.5" fill="none"/>
<path d="M562.2 687.4V674.7H603.5V688.5" stroke="#111" stroke-width="1.5" fill="none"/>
<text x="583.1" y="676.4" text-anchor="middle" font-size="17" letter-spacing="0.6" style="font-weight:normal;stroke-width:0.5px">**</text>
<path d="M649.1 604.3V592.1H690.4V604.3" stroke="#111" stroke-width="1.5" fill="none"/>
<text x="670.0" y="593.8" text-anchor="middle" font-size="17" letter-spacing="0.6" style="font-weight:normal;stroke-width:0.5px">**</text>
<text x="487.3" y="690.5" text-anchor="middle" transform="rotate(-90 487.3 690.5)" textLength="194.0" lengthAdjust="spacing">ALDH1 positive cells (%)</text>
<text x="564.0" y="821.5" text-anchor="end" transform="rotate(-49 564.0 821.5)">siNC</text>
<text x="608.5" y="819.5" text-anchor="end" transform="rotate(-49 608.5 819.5)">siGPER 1#</text>
<text x="652.0" y="819.5" text-anchor="end" transform="rotate(-49 652.0 819.5)">pSG5-vector</text>
<text x="696.0" y="819.0" text-anchor="end" transform="rotate(-49 696.0 819.0)">GPER</text>
<clipPath id="ce"><rect x="815.3" y="474.6" width="317.70000000000005" height="238.5"/></clipPath>
<g clip-path="url(#ce)">
<path d="M815.0 480.6L1139.0 579.1" stroke="#f0473a" stroke-width="1.0" stroke-dasharray="1.5 4.5"/>
<path d="M815.0 476.9L1139.0 675.8" stroke="#f0473a" stroke-width="1.0" stroke-dasharray="1.5 4.5"/>
<path d="M815.0 477.7L1139.0 654.2" stroke="#444" stroke-width="1.0" stroke-dasharray="1.5 4.5"/>
<path d="M815.0 472.0L1139.0 804.7" stroke="#444" stroke-width="1.0" stroke-dasharray="1.5 4.5"/>
<path d="M815.0 479.1L1139.0 619.2" stroke="#f0453a" stroke-width="0.85"/>
<path d="M815.0 475.3L1139.0 717.8" stroke="#4a4a4a" stroke-width="0.85"/>
<ellipse cx="836.2" cy="483.9" rx="1.9" ry="1.5" fill="none" stroke="#f0574c" stroke-width="0.8"/>
<ellipse cx="844.4" cy="489.3" rx="1.9" ry="1.5" fill="none" stroke="#f0574c" stroke-width="0.8"/>
<ellipse cx="863.5" cy="494.4" rx="1.9" ry="1.5" fill="none" stroke="#f0574c" stroke-width="0.8"/>
<ellipse cx="900.3" cy="506.5" rx="1.9" ry="1.5" fill="none" stroke="#f0574c" stroke-width="0.8"/>
<ellipse cx="973.8" cy="549.2" rx="1.9" ry="1.5" fill="none" stroke="#f0574c" stroke-width="0.8"/>
<ellipse cx="836.2" cy="494.4" rx="1.9" ry="1.5" fill="none" stroke="#4a4a4a" stroke-width="0.8"/>
<ellipse cx="844.9" cy="500.2" rx="1.9" ry="1.5" fill="none" stroke="#4a4a4a" stroke-width="0.8"/>
<ellipse cx="863.5" cy="506.5" rx="1.9" ry="1.5" fill="none" stroke="#4a4a4a" stroke-width="0.8"/>
<ellipse cx="900.3" cy="549.2" rx="1.9" ry="1.5" fill="none" stroke="#4a4a4a" stroke-width="0.8"/>
<ellipse cx="973.8" cy="594.6" rx="1.9" ry="1.5" fill="none" stroke="#4a4a4a" stroke-width="0.8"/>
<ellipse cx="1120.6" cy="705" rx="1.9" ry="1.5" fill="none" stroke="#4a4a4a" stroke-width="0.8"/>
</g>
<rect x="815.3" y="474.6" width="317.7" height="238.5" fill="none" stroke="#555" stroke-width="1.1"/>
<path d="M815.3 485.4h-4M815.3 524.9h-4M815.3 564.3h-4M815.3 603.8h-4M815.3 643.2h-4M815.3 682.6h-4M826.9 713.1v4M872.8 713.1v4M918.7 713.1v4M964.6 713.1v4M1010.5 713.1v4M1056.4 713.1v4M1102.3 713.1v4" stroke="#444" stroke-width="1" fill="none"/>
<text x="810.0" y="491.2" text-anchor="end">0.0</text>
<text x="810.0" y="530.6" text-anchor="end">-0.5</text>
<text x="810.0" y="570.1" text-anchor="end">-1.0</text>
<text x="810.0" y="609.5" text-anchor="end">-1.5</text>
<text x="810.0" y="649.0" text-anchor="end">-2.0</text>
<text x="810.0" y="688.4" text-anchor="end">-2.5</text>
<text x="826.9" y="731.3" text-anchor="middle">0</text>
<text x="872.8" y="731.3" text-anchor="middle">5</text>
<text x="918.7" y="731.3" text-anchor="middle">10</text>
<text x="964.6" y="731.3" text-anchor="middle">15</text>
<text x="1010.5" y="731.3" text-anchor="middle">20</text>
<text x="1056.4" y="731.3" text-anchor="middle">25</text>
<text x="1102.3" y="731.3" text-anchor="middle">30</text>
<text x="970.3" y="751.1" text-anchor="middle" textLength="169.2" lengthAdjust="spacing">Dose (number of cells)</text>
<text x="774.7" y="592.0" text-anchor="middle" transform="rotate(-90 774.7 592.0)" textLength="211.0" lengthAdjust="spacing">Log fraction nonresponding</text>
<path d="M1015.3 485.3L1029.5 485.3" stroke="#e0281c" stroke-width="3"/>
<path d="M1015.3 497.4L1029.5 497.4" stroke="#111" stroke-width="3"/>
<text x="1030.9" y="486.2" textLength="95.5" lengthAdjust="spacing">pSG5-vector</text>
<text x="1030.9" y="503.0">GPER</text>
<text x="1016.4" y="520.5" textLength="66.9" lengthAdjust="spacing">p=0.0241</text>
<rect x="767.3" y="777.2" width="388.2" height="63.9" fill="none" stroke="#111" stroke-width="1.3"/>
<path d="M895.4 777.2V841.1M767.3 798.3H1155.5M767.3 819.9H1155.5" stroke="#111" stroke-width="1.3" fill="none"/>
<text x="830.6" y="792.5" text-anchor="middle">Group</text>
<text x="1024.0" y="792.5" text-anchor="middle" textLength="223.0" lengthAdjust="spacing">Stem cell frequency [95% CI]</text>
<text x="831.0" y="814.1" text-anchor="middle" textLength="95.5" lengthAdjust="spacing">pSG5-vector</text>
<text x="1024.0" y="814.1" text-anchor="middle">1/19.9 [14.02, 28.3]</text>
<text x="831.0" y="835.1" text-anchor="middle">GPER</text>
<text x="1024.0" y="835.1" text-anchor="middle">1/11.5 [8.38, 15.8]</text>
<rect x="1276.9" y="501.4" width="11.5" height="9.8" fill="#322e2c" stroke="#0d0d0d" stroke-width="1.4"/>
<rect x="1276.9" y="519.6" width="11.5" height="9.5" fill="#878484" stroke="#0d0d0d" stroke-width="1.4"/>
<text x="1293.3" y="511.4">siNC</text>
<text x="1293.3" y="531.2">siGPER 1#</text>
<path d="M1262.3 541.0L1262.3 778.3" stroke="#111" stroke-width="1.6"/>
<path d="M1262.3 546.4h3.2M1262.3 565.3h2.1M1262.3 584.2h3.2M1262.3 603.2h2.1M1262.3 622.1h3.2M1262.3 641.0h2.1M1262.3 660.0h3.2M1262.3 678.9h2.1M1262.3 697.8h3.2M1262.3 716.7h2.1M1262.3 735.6h3.2M1262.3 754.6h2.1M1262.3 773.5h3.2" stroke="#111" stroke-width="1.4" fill="none"/>
<text x="1258.8" y="552.2" text-anchor="end" font-size="17.3">1.2</text>
<text x="1258.8" y="590.0" text-anchor="end" font-size="17.3">1.0</text>
<text x="1258.8" y="627.9" text-anchor="end" font-size="17.3">0.8</text>
<text x="1258.8" y="665.7" text-anchor="end" font-size="17.3">0.6</text>
<text x="1258.8" y="703.6" text-anchor="end" font-size="17.3">0.4</text>
<text x="1258.8" y="741.4" text-anchor="end" font-size="17.3">0.2</text>
<text x="1258.8" y="779.3" text-anchor="end" font-size="17.3">0.0</text>
<path d="M1261.5 778.3L1563.7 778.3" stroke="#111" stroke-width="1.6"/>
<rect x="1300.9" y="584.4" width="23.9" height="188.9" fill="#322e2c" stroke="#0d0d0d" stroke-width="1.5"/>
<rect x="1327.7" y="584.4" width="23.9" height="188.9" fill="#878484" stroke="#0d0d0d" stroke-width="1.5"/>
<rect x="1386.0" y="652.0" width="23.9" height="121.3" fill="#322e2c" stroke="#0d0d0d" stroke-width="1.5"/>
<rect x="1412.8" y="685.4" width="23.9" height="87.9" fill="#878484" stroke="#0d0d0d" stroke-width="1.5"/>
<rect x="1471.1" y="680.0" width="23.9" height="93.3" fill="#322e2c" stroke="#0d0d0d" stroke-width="1.5"/>
<rect x="1497.9" y="711.0" width="23.9" height="62.3" fill="#878484" stroke="#0d0d0d" stroke-width="1.5"/>
<path d="M1308.0 576.0H1317.6M1308.0 591.6H1317.6M1312.8 576.0V591.6" stroke="#111" stroke-width="1.3" fill="none"/>
<path d="M1335.1 577.2H1344.7M1335.1 590.4H1344.7M1339.9 577.2V590.4" stroke="#111" stroke-width="1.3" fill="none"/>
<path d="M1392.7 647.8H1402.3M1392.7 656.4H1402.3M1397.5 647.8V656.4" stroke="#111" stroke-width="1.3" fill="none"/>
<path d="M1420.2 676.9H1429.8M1420.2 692.1H1429.8M1425.0 676.9V692.1" stroke="#111" stroke-width="1.3" fill="none"/>
<path d="M1478.9 669.2H1488.5M1478.9 689.3H1488.5M1483.7 669.2V689.3" stroke="#111" stroke-width="1.3" fill="none"/>
<path d="M1505.7 702.6H1515.3M1505.7 717.2H1515.3M1510.5 702.6V717.2" stroke="#111" stroke-width="1.3" fill="none"/>
<path d="M1397.5 633.8V621.4H1427.3V633.8" stroke="#111" stroke-width="1.5" fill="none"/>
<text x="1412.7" y="623.1" text-anchor="middle" font-size="17" letter-spacing="0.6" style="font-weight:normal;stroke-width:0.5px">**</text>
<path d="M1483.0 659.9V646.6H1512.8V659.0" stroke="#111" stroke-width="1.5" fill="none"/>
<text x="1498.2" y="648.3" text-anchor="middle" font-size="17" letter-spacing="0.6" style="font-weight:normal;stroke-width:0.5px">**</text>
<text x="1326.4" y="795.1" text-anchor="middle">DMSO</text>
<text x="1410.7" y="795.1" text-anchor="middle">10ng/ml</text>
<text x="1497.0" y="795.1" text-anchor="middle">20ng/ml</text>
<text x="1233.0" y="660.0" text-anchor="middle" transform="rotate(-90 1233.0 660.0)" textLength="159.0" lengthAdjust="spacing">Relative cell viability</text>
<rect x="1649.8" y="496.3" width="11.4" height="9.8" fill="#322e2c" stroke="#0d0d0d" stroke-width="1.4"/>
<rect x="1649.8" y="514.2" width="11.4" height="9.8" fill="#878484" stroke="#0d0d0d" stroke-width="1.4"/>
<text x="1665.4" y="504.9" textLength="95.4" lengthAdjust="spacing">pSG5-vector</text>
<text x="1665.4" y="526.6">GPER</text>
<path d="M1643.3 541.0L1643.3 780.0" stroke="#111" stroke-width="1.6"/>
<path d="M1643.3 546.4h3.2M1643.3 565.4h2.1M1643.3 584.4h3.2M1643.3 603.4h2.1M1643.3 622.4h3.2M1643.3 641.4h2.1M1643.3 660.4h3.2M1643.3 679.4h2.1M1643.3 698.4h3.2M1643.3 717.4h2.1M1643.3 736.4h3.2M1643.3 755.4h2.1M1643.3 774.4h3.2" stroke="#111" stroke-width="1.4" fill="none"/>
<text x="1639.8" y="552.2" text-anchor="end" font-size="17.3">1.2</text>
<text x="1639.8" y="590.2" text-anchor="end" font-size="17.3">1.0</text>
<text x="1639.8" y="628.2" text-anchor="end" font-size="17.3">0.8</text>
<text x="1639.8" y="666.2" text-anchor="end" font-size="17.3">0.6</text>
<text x="1639.8" y="704.2" text-anchor="end" font-size="17.3">0.4</text>
<text x="1639.8" y="742.2" text-anchor="end" font-size="17.3">0.2</text>
<text x="1639.8" y="780.2" text-anchor="end" font-size="17.3">0.0</text>
<path d="M1642.5 780.0L1942.8 780.0" stroke="#111" stroke-width="1.6"/>
<rect x="1682.0" y="584.4" width="23.8" height="189.7" fill="#322e2c" stroke="#0d0d0d" stroke-width="1.5"/>
<rect x="1708.8" y="584.4" width="23.8" height="189.7" fill="#878484" stroke="#0d0d0d" stroke-width="1.5"/>
<rect x="1766.8" y="664.4" width="23.9" height="109.7" fill="#322e2c" stroke="#0d0d0d" stroke-width="1.5"/>
<rect x="1793.2" y="643.4" width="24.3" height="130.7" fill="#878484" stroke="#0d0d0d" stroke-width="1.5"/>
<rect x="1851.4" y="697.5" width="23.4" height="76.6" fill="#322e2c" stroke="#0d0d0d" stroke-width="1.5"/>
<rect x="1877.8" y="670.9" width="23.6" height="103.2" fill="#878484" stroke="#0d0d0d" stroke-width="1.5"/>
<path d="M1690.2 576.0H1699.8M1690.2 592.8H1699.8M1695.0 576.0V592.8" stroke="#111" stroke-width="1.3" fill="none"/>
<path d="M1716.6 578.3H1726.2M1716.6 588.8H1726.2M1721.4 578.3V588.8" stroke="#111" stroke-width="1.3" fill="none"/>
<path d="M1774.6 658.3H1784.2M1774.6 669.2H1784.2M1779.4 658.3V669.2" stroke="#111" stroke-width="1.3" fill="none"/>
<path d="M1801.0 635.7H1810.6M1801.0 649.0H1810.6M1805.8 635.7V649.0" stroke="#111" stroke-width="1.3" fill="none"/>
<path d="M1859.2 689.0H1868.8M1859.2 705.4H1868.8M1864.0 689.0V705.4" stroke="#111" stroke-width="1.3" fill="none"/>
<path d="M1886.1 664.8H1895.7M1886.1 676.9H1895.7M1890.9 664.8V676.9" stroke="#111" stroke-width="1.3" fill="none"/>
<path d="M1774.8 624.0V610.2H1804.6V623.0" stroke="#111" stroke-width="1.5" fill="none"/>
<text x="1790.0" y="611.9" text-anchor="middle" font-size="17" letter-spacing="0.6" style="font-weight:normal;stroke-width:0.5px">*</text>
<path d="M1861.2 653.6V641.3H1891.3V653.6" stroke="#111" stroke-width="1.5" fill="none"/>
<text x="1876.5" y="643.0" text-anchor="middle" font-size="17" letter-spacing="0.6" style="font-weight:normal;stroke-width:0.5px">**</text>
<text x="1708.3" y="794.0" text-anchor="middle">DMSO</text>
<text x="1791.8" y="794.0" text-anchor="middle">10ng/ml</text>
<text x="1878.0" y="794.0" text-anchor="middle">20ng/ml</text>
<text x="1613.0" y="659.5" text-anchor="middle" transform="rotate(-90 1613.0 659.5)" textLength="158.0" lengthAdjust="spacing">Relative cell viability</text>
</svg>
</body></html>
